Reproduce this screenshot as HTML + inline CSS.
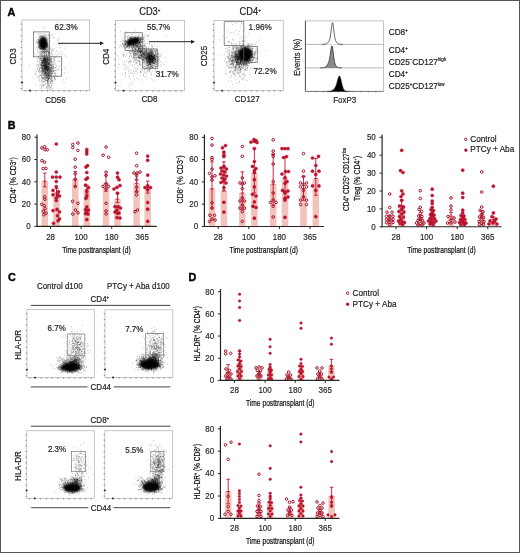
<!DOCTYPE html>
<html><head><meta charset="utf-8"><style>
html,body{margin:0;padding:0;background:#fff;}
#r{position:relative;width:520px;height:553px;overflow:hidden;background:#fff;}
svg{position:absolute;left:0;top:0;display:block;will-change:transform;}
text{font-family:"Liberation Sans", sans-serif;}
</style></head><body><div id="r"><svg width="520" height="553" viewBox="0 0 520 553"><defs><filter id="b10" x="-50%" y="-50%" width="200%" height="200%"><feGaussianBlur stdDeviation="1.0"/></filter><filter id="b12" x="-50%" y="-50%" width="200%" height="200%"><feGaussianBlur stdDeviation="1.2"/></filter><filter id="b15" x="-50%" y="-50%" width="200%" height="200%"><feGaussianBlur stdDeviation="1.5"/></filter></defs>
<text x="7.6" y="16.3" font-size="10.8" text-anchor="start" font-weight="bold" fill="#000" transform="translate(0 -1.467) scale(1 1.09)" stroke="#000" stroke-width="0.4">A</text>
<rect x="22" y="20" width="67.5" height="70.5" fill="none" stroke="#b8b8b8" stroke-width="0.8"/>
<line x1="20.8" y1="24.0" x2="22" y2="24.0" stroke="#555" stroke-width="0.7"/>
<line x1="20.8" y1="29.9" x2="22" y2="29.9" stroke="#555" stroke-width="0.7"/>
<line x1="20.8" y1="35.7" x2="22" y2="35.7" stroke="#555" stroke-width="0.7"/>
<line x1="20.8" y1="41.6" x2="22" y2="41.6" stroke="#555" stroke-width="0.7"/>
<line x1="20.8" y1="47.5" x2="22" y2="47.5" stroke="#555" stroke-width="0.7"/>
<line x1="20.8" y1="53.3" x2="22" y2="53.3" stroke="#555" stroke-width="0.7"/>
<line x1="20.8" y1="59.2" x2="22" y2="59.2" stroke="#555" stroke-width="0.7"/>
<line x1="20.8" y1="65.0" x2="22" y2="65.0" stroke="#555" stroke-width="0.7"/>
<line x1="20.8" y1="70.9" x2="22" y2="70.9" stroke="#555" stroke-width="0.7"/>
<line x1="20.8" y1="76.8" x2="22" y2="76.8" stroke="#555" stroke-width="0.7"/>
<line x1="20.8" y1="82.6" x2="22" y2="82.6" stroke="#555" stroke-width="0.7"/>
<line x1="20.8" y1="88.5" x2="22" y2="88.5" stroke="#555" stroke-width="0.7"/>
<line x1="25.0" y1="90.5" x2="25.0" y2="91.7" stroke="#555" stroke-width="0.7"/>
<line x1="30.6" y1="90.5" x2="30.6" y2="91.7" stroke="#555" stroke-width="0.7"/>
<line x1="36.2" y1="90.5" x2="36.2" y2="91.7" stroke="#555" stroke-width="0.7"/>
<line x1="41.8" y1="90.5" x2="41.8" y2="91.7" stroke="#555" stroke-width="0.7"/>
<line x1="47.4" y1="90.5" x2="47.4" y2="91.7" stroke="#555" stroke-width="0.7"/>
<line x1="53.0" y1="90.5" x2="53.0" y2="91.7" stroke="#555" stroke-width="0.7"/>
<line x1="58.5" y1="90.5" x2="58.5" y2="91.7" stroke="#555" stroke-width="0.7"/>
<line x1="64.1" y1="90.5" x2="64.1" y2="91.7" stroke="#555" stroke-width="0.7"/>
<line x1="69.7" y1="90.5" x2="69.7" y2="91.7" stroke="#555" stroke-width="0.7"/>
<line x1="75.3" y1="90.5" x2="75.3" y2="91.7" stroke="#555" stroke-width="0.7"/>
<line x1="80.9" y1="90.5" x2="80.9" y2="91.7" stroke="#555" stroke-width="0.7"/>
<line x1="86.5" y1="90.5" x2="86.5" y2="91.7" stroke="#555" stroke-width="0.7"/>
<circle cx="22" cy="82.5" r="0.9" fill="#111"/>
<circle cx="30" cy="90.5" r="0.9" fill="#111"/>
<path transform="scale(0.1)" stroke="#000" stroke-opacity="0.45" stroke-width="7" d="M424 452h7M425 423h7M408 424h7M457 454h7M455 448h7M439 443h7M390 460h7M442 455h7M389 366h7M409 415h7M437 434h7M443 414h7M437 450h7M414 494h7M443 480h7M415 406h7M422 430h7M445 446h7M419 399h7M418 477h7M411 441h7M440 383h7M431 482h7M382 416h7M427 405h7M442 435h7M395 459h7M446 471h7M465 453h7M433 389h7M445 415h7M419 388h7M407 412h7M461 367h7M395 438h7M465 461h7M384 338h7M439 410h7M403 466h7M456 445h7M436 451h7M468 463h7M442 456h7M392 475h7M453 457h7M383 405h7M450 373h7M426 471h7M399 488h7M443 432h7M438 459h7M433 476h7M414 418h7M455 440h7M409 466h7M465 424h7M397 425h7M426 424h7M464 403h7M460 394h7M411 455h7M457 470h7M438 441h7M434 456h7M426 444h7M444 437h7M448 458h7M478 454h7M420 420h7M430 468h7M422 448h7M474 350h7M403 440h7M440 445h7M420 457h7M437 417h7M488 456h7M417 429h7M425 432h7M365 408h7M454 397h7M428 469h7M451 491h7M389 416h7M422 456h7M456 343h7M456 387h7M446 384h7M434 478h7M426 441h7M449 443h7M428 490h7M455 428h7M496 404h7M452 429h7M433 461h7M435 459h7M393 375h7M445 403h7M405 379h7M460 466h7M465 407h7M430 394h7M448 495h7M409 488h7M454 432h7M383 478h7M428 413h7M440 451h7M466 404h7M457 492h7M465 434h7M412 469h7M433 440h7M464 431h7M375 413h7M386 458h7M438 414h7M430 465h7M432 483h7M429 472h7M466 498h7M414 464h7M385 389h7M383 466h7M400 430h7M425 433h7M416 441h7M473 443h7M443 473h7M425 389h7M417 471h7M390 408h7M454 467h7M430 464h7M434 393h7M392 406h7M452 418h7M408 404h7M393 425h7M402 444h7M373 438h7M415 363h7M447 428h7M376 396h7M437 420h7M449 465h7M446 449h7M462 463h7M441 362h7M452 485h7M423 417h7M477 379h7M441 524h7M408 456h7M475 437h7M443 469h7M408 429h7M437 466h7M429 428h7M406 418h7M451 442h7M410 402h7M494 485h7M445 344h7M445 454h7M470 456h7M428 453h7M383 465h7M438 411h7M462 505h7M396 406h7M437 443h7M420 399h7M481 480h7M401 383h7M471 477h7M474 471h7M409 441h7M378 400h7M429 454h7M413 428h7M441 450h7M445 445h7M422 462h7M431 406h7M415 433h7M427 440h7M430 441h7M427 389h7M440 474h7M440 430h7M441 402h7M384 430h7M408 458h7M404 337h7M405 488h7M421 385h7M412 451h7M442 443h7M466 466h7M429 456h7M470 476h7M455 400h7M426 461h7M423 472h7M444 470h7M425 525h7M460 432h7M432 528h7M422 465h7M454 439h7M402 438h7M439 477h7M449 439h7M450 457h7M435 438h7M424 459h7M405 409h7M430 383h7M420 361h7M414 453h7M444 435h7M424 383h7M474 460h7M456 407h7M426 369h7M449 471h7M384 426h7M445 374h7M386 390h7M415 382h7M431 444h7M445 462h7M466 482h7M399 412h7M405 393h7M428 435h7M442 380h7M400 430h7M425 423h7M428 408h7M447 450h7M428 411h7M426 337h7M406 433h7M394 437h7M434 386h7M424 423h7M441 459h7M429 404h7M427 432h7M448 448h7M413 384h7M421 407h7M403 427h7M418 437h7M443 422h7M486 432h7M456 443h7M457 354h7M412 441h7M444 521h7M438 482h7M448 472h7M442 431h7M442 398h7M458 403h7M436 512h7M425 435h7M458 440h7M411 441h7M444 463h7M411 495h7M470 442h7M436 421h7M464 415h7M446 420h7M413 458h7M462 439h7M414 462h7M429 446h7M467 481h7M418 515h7M430 463h7M414 431h7M388 493h7M463 396h7M394 372h7M458 423h7M429 424h7M427 396h7M431 384h7M428 446h7M441 428h7M408 437h7M418 489h7M448 434h7M419 408h7M408 419h7M437 455h7M444 512h7M413 433h7M497 378h7M417 439h7M434 450h7M424 447h7M431 463h7M385 396h7M430 398h7M405 454h7M414 455h7M448 449h7M442 433h7M396 429h7M441 418h7M428 461h7M409 455h7M475 422h7M434 430h7M467 452h7M452 414h7M430 435h7M387 480h7M452 376h7M448 433h7M441 450h7M394 422h7M466 420h7M405 383h7M401 443h7M471 456h7M436 516h7M418 409h7M443 457h7M406 389h7M437 445h7M399 423h7M417 450h7M427 431h7M422 471h7M463 427h7M450 411h7M432 462h7M466 427h7M428 442h7M394 430h7M414 446h7M403 360h7M431 444h7M417 465h7M423 412h7M441 381h7M414 432h7M450 432h7M437 413h7M437 496h7M414 517h7M415 433h7M434 472h7M400 355h7M445 466h7M445 531h7M435 445h7M452 452h7M470 397h7M421 310h7M449 425h7M452 515h7M430 426h7M418 403h7M415 456h7M431 438h7M426 467h7M442 432h7M446 432h7M402 483h7M441 402h7M456 451h7M392 487h7M438 468h7M435 430h7M393 464h7M431 425h7M438 439h7M446 424h7M429 358h7M420 458h7M462 427h7M427 491h7M422 460h7M470 442h7M459 414h7M435 433h7M433 476h7M487 420h7M416 451h7M405 449h7M444 427h7M443 381h7M448 382h7M413 413h7M420 464h7M432 421h7M443 494h7M430 448h7M460 449h7M399 520h7M483 372h7M429 450h7M453 462h7M423 396h7M432 472h7M404 394h7M429 366h7M424 418h7M441 411h7M409 418h7M429 411h7M430 462h7M458 500h7M411 417h7M370 494h7M413 431h7M443 388h7M441 436h7M386 439h7M459 372h7M449 445h7M441 453h7M461 432h7M451 423h7M447 408h7M427 497h7M441 431h7M403 403h7M435 469h7M440 455h7M429 483h7M421 414h7M451 440h7M423 413h7M424 456h7M438 393h7M440 443h7M406 459h7M423 422h7M449 485h7M413 448h7M409 515h7M418 476h7M414 462h7M483 352h7M420 451h7M428 411h7M482 446h7M391 460h7M389 470h7M416 438h7M460 444h7M397 369h7M458 466h7M410 463h7M442 460h7M376 416h7M452 465h7M451 350h7M434 453h7M491 410h7M422 435h7M451 422h7M458 411h7M436 417h7M434 411h7M392 468h7M437 416h7M435 471h7M407 428h7M443 456h7M422 358h7M460 451h7M430 425h7M436 421h7M405 405h7M416 411h7M402 454h7M399 454h7M406 444h7M463 447h7M412 434h7M434 373h7M415 439h7M419 436h7M448 465h7M452 459h7M423 433h7M423 423h7M426 373h7M422 433h7M407 431h7M442 431h7M480 349h7M425 369h7M454 534h7M370 431h7M442 426h7M443 357h7M450 451h7M431 414h7M445 420h7M435 418h7M376 426h7M435 463h7M409 431h7M445 442h7M460 511h7M408 363h7M451 493h7M452 467h7M415 407h7M451 406h7M386 393h7M490 513h7M414 406h7M436 409h7M461 437h7M404 478h7M416 441h7M430 424h7M438 411h7M386 349h7M400 403h7M429 437h7M443 441h7M411 407h7M379 421h7M442 456h7M427 428h7M452 439h7M448 459h7M435 483h7M416 420h7M411 404h7M467 504h7M431 455h7M458 468h7M459 394h7M415 449h7M464 444h7M409 419h7M414 402h7M466 418h7M430 513h7M458 451h7M415 447h7M469 463h7M460 443h7M442 430h7M440 483h7M396 428h7M436 415h7M423 462h7M478 465h7M438 381h7M476 445h7M429 395h7M429 396h7M432 452h7M431 445h7M410 483h7M414 368h7M425 407h7M406 419h7M437 394h7M427 486h7M446 432h7M433 431h7M429 461h7M428 349h7M429 403h7M446 415h7M434 514h7M405 391h7M396 344h7M385 441h7M415 366h7M394 452h7M411 419h7M438 485h7M477 479h7M433 442h7M473 493h7M423 450h7M437 438h7M418 386h7M417 378h7M459 459h7M401 481h7M451 370h7M474 471h7M480 398h7M443 452h7M435 442h7M455 385h7M400 381h7M417 411h7M439 446h7M431 411h7M419 468h7M448 441h7M422 489h7M416 456h7M458 430h7M450 398h7M454 446h7M392 453h7M409 478h7M414 427h7M437 424h7M436 416h7M446 438h7M435 337h7M458 440h7M387 432h7M441 475h7M404 487h7M426 520h7M426 459h7M421 394h7M456 471h7M467 471h7M416 373h7M414 408h7M410 453h7M438 427h7M434 430h7M435 463h7M453 414h7M394 481h7M433 475h7M391 417h7M431 383h7M418 459h7M456 496h7M409 382h7M442 471h7M435 389h7M449 466h7M443 420h7M437 464h7M417 367h7M438 453h7M430 467h7M416 430h7M423 454h7M468 432h7M479 497h7M449 459h7M472 435h7M427 397h7M441 485h7M443 452h7M425 440h7M396 467h7M420 394h7M412 403h7M451 476h7M397 463h7M451 417h7M394 403h7M415 445h7M421 361h7M436 381h7M452 395h7M413 402h7M417 480h7M450 460h7M438 381h7M418 413h7M407 450h7M412 407h7M405 358h7M444 485h7M434 401h7M365 431h7M459 450h7M452 491h7M457 423h7M455 467h7M393 415h7M396 426h7M444 399h7M381 474h7M439 489h7M398 468h7M480 514h7M425 444h7M426 470h7M455 442h7M397 457h7M440 689h7M463 773h7M491 634h7M466 785h7M438 674h7M493 760h7M472 561h7M415 649h7M467 843h7M427 721h7M480 539h7M429 650h7M439 631h7M470 598h7M470 610h7M438 681h7M437 663h7M506 676h7M450 702h7M443 724h7M414 676h7M439 584h7M512 614h7M511 725h7M501 600h7M493 775h7M451 639h7M534 700h7M441 597h7M469 681h7M461 779h7M445 680h7M502 598h7M488 800h7M412 549h7M422 499h7M469 520h7M471 764h7M403 603h7M394 678h7M431 619h7M457 691h7M444 646h7M438 650h7M417 637h7M393 585h7M516 685h7M415 650h7M424 514h7M431 693h7M467 649h7M425 557h7M498 688h7M425 481h7M411 811h7M418 627h7M462 642h7M446 545h7M421 758h7M431 701h7M401 604h7M463 730h7M419 677h7M467 602h7M470 591h7M430 637h7M368 601h7M423 528h7M441 700h7M442 737h7M418 536h7M505 703h7M485 603h7M481 681h7M476 662h7M494 620h7M424 527h7M492 613h7M422 565h7M441 550h7M446 600h7M437 571h7M456 617h7M459 670h7M466 494h7M438 583h7M480 546h7M432 618h7M444 718h7M441 714h7M408 495h7M494 700h7M471 666h7M470 568h7M485 625h7M487 671h7M392 526h7M491 657h7M442 662h7M441 604h7M458 662h7M504 676h7M515 811h7M510 754h7M459 662h7M450 594h7M453 602h7M507 714h7M441 503h7M453 619h7M420 550h7M383 658h7M453 839h7M454 639h7M501 682h7M460 625h7M436 751h7M487 791h7M444 647h7M427 708h7M410 671h7M490 770h7M425 716h7M432 584h7M413 715h7M508 631h7M431 614h7M535 761h7M438 510h7M433 727h7M515 658h7M433 602h7M395 688h7M420 712h7M400 531h7M464 598h7M480 662h7M417 678h7M482 522h7M513 714h7M479 525h7M432 614h7M489 559h7M427 488h7M447 672h7M401 581h7M471 774h7M476 638h7M417 564h7M434 651h7M453 772h7M464 576h7M504 743h7M458 599h7M395 547h7M484 605h7M413 645h7M463 698h7M476 763h7M428 709h7M423 686h7M461 671h7M486 663h7M491 731h7M459 610h7M431 600h7M449 645h7M550 742h7M480 598h7M432 616h7M461 577h7M507 633h7M490 495h7M455 670h7M461 697h7M464 666h7M394 569h7M380 661h7M465 640h7M429 595h7M514 805h7M453 744h7M404 484h7M440 578h7M437 655h7M552 647h7M457 671h7M454 718h7M512 585h7M460 633h7M466 543h7M399 453h7M472 672h7M457 477h7M443 589h7M410 562h7M477 700h7M454 687h7M436 646h7M456 691h7M453 638h7M451 601h7M526 721h7M469 825h7M500 557h7M477 722h7M515 775h7M480 575h7M427 657h7M471 583h7M443 615h7M457 676h7M446 555h7M495 786h7M452 724h7M469 705h7M470 601h7M473 733h7M426 781h7M522 815h7M519 734h7M444 601h7M429 646h7M454 699h7M390 790h7M528 682h7M477 695h7M464 639h7M451 588h7M461 651h7M465 592h7M456 654h7M474 581h7M468 729h7M474 632h7M439 625h7M478 775h7M450 600h7M467 671h7M426 582h7M452 698h7M417 557h7M471 567h7M458 678h7M451 574h7M453 625h7M466 593h7M490 543h7M449 648h7M486 620h7M472 617h7M479 789h7M442 677h7M425 708h7M494 671h7M419 663h7M492 747h7M481 528h7M433 744h7M416 715h7M515 734h7M491 642h7M416 624h7M449 644h7M477 650h7M461 684h7M455 785h7M469 663h7M448 601h7M498 681h7M420 592h7M451 615h7M490 581h7M471 668h7M417 636h7M452 685h7M441 666h7M402 545h7M480 738h7M455 606h7M490 513h7M429 687h7M476 584h7M395 728h7M460 586h7M457 717h7M372 693h7M479 508h7M480 531h7M491 696h7M527 639h7M455 727h7M435 589h7M443 639h7M420 669h7M472 663h7M509 651h7M497 629h7M479 519h7M461 640h7M439 598h7M444 592h7M385 573h7M437 603h7M421 624h7M480 643h7M439 742h7M486 732h7M492 643h7M451 730h7M437 633h7M467 683h7M446 718h7M449 701h7M489 715h7M478 576h7M413 585h7M470 767h7M416 654h7M428 583h7M446 697h7M462 740h7M423 701h7M485 669h7M470 616h7M420 604h7M434 853h7M439 764h7M461 676h7M479 604h7M484 691h7M406 671h7M473 692h7M506 643h7M471 713h7M426 725h7M409 533h7M472 578h7M451 527h7M457 568h7M466 543h7M469 637h7M457 646h7M459 555h7M373 614h7M425 603h7M469 511h7M431 594h7M421 658h7M451 588h7M423 695h7M434 683h7M469 518h7M420 634h7M466 712h7M481 738h7M443 629h7M480 630h7M489 549h7M476 647h7M392 692h7M465 656h7M421 600h7M503 612h7M344 535h7M417 622h7M442 577h7M428 714h7M409 772h7M438 562h7M480 703h7M422 689h7M396 555h7M491 648h7M413 668h7M484 662h7M397 597h7M468 713h7M514 659h7M440 640h7M494 599h7M497 468h7M481 612h7M470 707h7M417 626h7M463 697h7M425 563h7M393 808h7M449 631h7M407 696h7M438 747h7M482 664h7M478 579h7M445 603h7M414 632h7M450 753h7M348 550h7M426 602h7M469 686h7M456 616h7M471 684h7M396 603h7M411 543h7M460 657h7M459 587h7M449 580h7M467 706h7M511 769h7M429 604h7M425 658h7M518 732h7M385 525h7M414 668h7M455 672h7M512 616h7M428 782h7M466 598h7M390 508h7M377 618h7M456 724h7M451 597h7M431 779h7M398 636h7M456 696h7M442 681h7M481 651h7M440 629h7M424 620h7M445 661h7M498 766h7M441 688h7M464 710h7M456 670h7M440 585h7M483 759h7M476 692h7M464 621h7M398 672h7M461 612h7M424 729h7M397 752h7M475 834h7M432 638h7M439 654h7M448 592h7M489 608h7M439 683h7M438 610h7M466 628h7M415 624h7M448 772h7M420 705h7M430 612h7M445 665h7M483 792h7M435 738h7M487 725h7M431 705h7M452 674h7M446 695h7M491 750h7M448 720h7M501 603h7M502 574h7M472 702h7M502 693h7M440 584h7M415 688h7M447 594h7M472 602h7M441 610h7M508 782h7M450 532h7M464 659h7M466 697h7M445 713h7M482 678h7M442 609h7M477 580h7M450 592h7M410 673h7M454 652h7M483 553h7M453 670h7M482 583h7M478 677h7M498 754h7M473 816h7M455 619h7M444 576h7M454 512h7M452 680h7M487 639h7M499 623h7M451 510h7M431 580h7M502 710h7M420 672h7M470 640h7M456 628h7M438 515h7M452 741h7M500 651h7M432 624h7M483 688h7M437 667h7M449 684h7M442 539h7M457 705h7M420 626h7M482 636h7M435 786h7M481 736h7M426 753h7M403 589h7M478 756h7M426 589h7M461 515h7M475 699h7M441 682h7M479 683h7M471 766h7M440 655h7M439 716h7M442 678h7M459 657h7M508 669h7M499 729h7M496 657h7M484 717h7M436 660h7M451 646h7M495 618h7M403 502h7M441 598h7M455 690h7M509 697h7M469 605h7M473 755h7M496 531h7M482 775h7M481 556h7M446 687h7M468 599h7M428 706h7M414 732h7M456 672h7M414 589h7M476 556h7M519 581h7M417 635h7M470 709h7M444 630h7M448 606h7M376 681h7M463 665h7M436 659h7M455 644h7M489 544h7M463 578h7M445 751h7M422 627h7M437 709h7M425 517h7M471 632h7M445 722h7M428 611h7M460 681h7M439 716h7M524 653h7M512 528h7M498 646h7M459 628h7M435 551h7M443 736h7M490 642h7M439 593h7M418 760h7M475 668h7M440 571h7M495 724h7M426 706h7M421 679h7M425 607h7M470 688h7M486 606h7M504 768h7M455 683h7M431 628h7M414 637h7M461 748h7M484 721h7M444 629h7M445 661h7M396 677h7M407 591h7M456 614h7M506 667h7M503 755h7M440 671h7M495 645h7M458 612h7M457 626h7M458 722h7M498 679h7M461 713h7M446 571h7M489 600h7M484 595h7M511 603h7M481 768h7M425 741h7M430 514h7M477 710h7M449 469h7M453 628h7M443 624h7M400 584h7M510 785h7M444 595h7M467 731h7M477 578h7M460 662h7M499 755h7M471 743h7M443 753h7M442 672h7M483 599h7M433 516h7M460 648h7M445 680h7M390 618h7M458 632h7M479 785h7M441 577h7M436 648h7M473 598h7M486 592h7M480 692h7M469 809h7M447 635h7M470 718h7M414 650h7M432 684h7M497 673h7M452 661h7M364 662h7M472 670h7M443 593h7M449 733h7M452 744h7M376 581h7M463 653h7M404 579h7M493 577h7M425 558h7M438 687h7M473 515h7M500 629h7M437 759h7M452 561h7M435 590h7M424 612h7M482 687h7M413 827h7M425 644h7M456 704h7M445 677h7M520 687h7M422 658h7M430 612h7M461 676h7M446 706h7M449 555h7M482 637h7M492 621h7M473 680h7M372 506h7M421 733h7M397 687h7M489 701h7M476 625h7M455 666h7M468 706h7M449 598h7M438 671h7M404 538h7M442 605h7M447 458h7M445 627h7M479 522h7M446 679h7M470 741h7M487 591h7M475 636h7M430 747h7M436 581h7M442 584h7M486 691h7M498 699h7M436 715h7M435 608h7M450 650h7M492 624h7M466 653h7M416 554h7M448 675h7M465 689h7M456 619h7M468 585h7M414 607h7M411 593h7M432 600h7M454 593h7M442 523h7M459 590h7M467 456h7M430 656h7M380 589h7M458 659h7M409 645h7M460 583h7M478 657h7M456 618h7M472 665h7M490 698h7M436 625h7M483 637h7M467 693h7M449 482h7M459 667h7M459 598h7M492 658h7M436 590h7M466 578h7M424 778h7M496 744h7M497 712h7M403 710h7M493 703h7M394 710h7M497 635h7M459 707h7M452 727h7M458 700h7M458 546h7M424 861h7M464 747h7M490 789h7M472 616h7M456 514h7M449 712h7M388 633h7M481 757h7M426 590h7M397 550h7M472 805h7M419 732h7M468 621h7M523 502h7M453 665h7M521 809h7M525 693h7M485 762h7M471 683h7M449 618h7M417 771h7M441 495h7M463 651h7M460 782h7M452 629h7M432 638h7M441 658h7M552 724h7M428 775h7M482 721h7M477 719h7M476 761h7M486 761h7M439 643h7M432 708h7M481 629h7M473 846h7M494 588h7M452 694h7M454 677h7M492 691h7M421 685h7M452 657h7M437 543h7M416 607h7M422 440h7M491 584h7M432 677h7M380 711h7M431 686h7M440 665h7M458 651h7M398 518h7M454 750h7M438 680h7M460 687h7M486 557h7M464 641h7M445 584h7M430 565h7M421 814h7M508 676h7M478 591h7M368 479h7M459 755h7M454 578h7M447 575h7M412 613h7M443 586h7M427 570h7M462 753h7M448 807h7M405 646h7M419 622h7M458 692h7M490 627h7M416 618h7M464 604h7M483 784h7M411 655h7M487 527h7M461 637h7M411 723h7M462 619h7M469 703h7M479 703h7M468 572h7M442 653h7M369 762h7M443 569h7M398 641h7M456 609h7M442 580h7M432 632h7M435 689h7M451 657h7M468 747h7M474 675h7M450 590h7M444 694h7M462 626h7M413 521h7M465 728h7M467 557h7M448 663h7M426 661h7M449 587h7M416 690h7M466 592h7M423 699h7M474 637h7M505 653h7M422 713h7M449 672h7M456 579h7M418 619h7M499 599h7M497 686h7M420 653h7M473 594h7M389 644h7M420 665h7M395 612h7M430 532h7M447 659h7M438 557h7M462 528h7M472 693h7M507 738h7M466 674h7M456 556h7M501 709h7M446 564h7M501 710h7M418 681h7M514 676h7M467 626h7M435 717h7M551 703h7M451 705h7M446 698h7M481 590h7M422 629h7M481 682h7M494 570h7M470 613h7M458 674h7M425 620h7M419 652h7M429 602h7M462 607h7M491 621h7M481 683h7M423 619h7M438 681h7M459 876h7M454 853h7M487 610h7M380 759h7M393 765h7M510 763h7M462 696h7M480 696h7M449 683h7M515 676h7M485 623h7M442 595h7M462 777h7M482 680h7M494 695h7M484 747h7M491 510h7M420 776h7M461 670h7M528 781h7M543 781h7M462 781h7M440 674h7M449 696h7M500 685h7M482 680h7M504 489h7M462 733h7M428 798h7M478 833h7M507 784h7M464 625h7M461 678h7M480 682h7M588 608h7M515 690h7M461 798h7M470 615h7M486 707h7M390 719h7M429 646h7M489 750h7M486 671h7M479 712h7M385 565h7M416 886h7M463 695h7M448 800h7M471 868h7M500 869h7M465 751h7M453 702h7M403 655h7M433 655h7M517 753h7M517 805h7M505 815h7M447 784h7M458 671h7M432 861h7M502 654h7M481 754h7M484 692h7M420 712h7M503 795h7M495 821h7M432 708h7M483 809h7M476 766h7M386 699h7M565 762h7M399 716h7M415 649h7M479 870h7M488 782h7M509 746h7M437 704h7M483 699h7M444 683h7M412 619h7M467 688h7M471 841h7M482 720h7M425 617h7M484 648h7M487 631h7M475 715h7M508 695h7M456 738h7M472 866h7M460 672h7M458 758h7M479 782h7M541 733h7M423 723h7M486 531h7M471 593h7M488 843h7M510 599h7M523 810h7M456 760h7M528 705h7M469 672h7M515 544h7M525 649h7M506 588h7M434 660h7M502 587h7M493 670h7M518 704h7M489 709h7M539 705h7M469 891h7M473 780h7M442 731h7M383 709h7M445 585h7M415 806h7M486 593h7M540 676h7M456 738h7M426 571h7M441 815h7M507 592h7M516 733h7M489 729h7M486 637h7M435 652h7M456 770h7M423 847h7M446 664h7M497 763h7M457 625h7M432 574h7M514 823h7M542 779h7M483 788h7M507 706h7M405 584h7M433 777h7M516 701h7M496 722h7M482 676h7M469 719h7M400 750h7M470 803h7M511 796h7M501 645h7M404 849h7M517 648h7M520 789h7M375 776h7M432 812h7M444 650h7M410 688h7M509 671h7M398 889h7M541 796h7M449 611h7M407 754h7M520 640h7M470 696h7M460 761h7M551 683h7M503 821h7M459 705h7M418 801h7M450 659h7M473 647h7M430 685h7M527 715h7M490 598h7M395 860h7M455 584h7M466 772h7M403 629h7M480 643h7M501 810h7M487 687h7M468 665h7M465 746h7M458 801h7M570 695h7M483 794h7M495 705h7M451 803h7M494 769h7M439 768h7M501 711h7M397 756h7M425 592h7M461 765h7M472 620h7M414 659h7M471 648h7M412 859h7M438 699h7M449 665h7M472 695h7M494 623h7M412 876h7M467 786h7M516 778h7M471 586h7M408 791h7M496 775h7M406 521h7M429 608h7M476 633h7M531 680h7M448 790h7M483 645h7M502 894h7M422 688h7M428 542h7M494 786h7M508 766h7M392 700h7M444 612h7M427 777h7M458 888h7M488 558h7M505 836h7M471 615h7M539 621h7M467 553h7M421 561h7M512 832h7M454 598h7M468 752h7M411 606h7M466 780h7M473 760h7M421 492h7M482 643h7M465 686h7M489 657h7M526 735h7M491 780h7M510 764h7M402 650h7M543 778h7M492 766h7M445 655h7M445 816h7M484 879h7M489 890h7M488 620h7M538 765h7M517 749h7M457 732h7M426 605h7M435 666h7M417 699h7M542 732h7M505 709h7M485 720h7M449 722h7M412 746h7M459 622h7M456 766h7M443 756h7M492 862h7M427 701h7M490 857h7M480 789h7M412 656h7M535 710h7M555 675h7M459 577h7M495 749h7M550 753h7M460 593h7M467 803h7M499 835h7M504 724h7M494 741h7M417 859h7M485 630h7M485 749h7M509 857h7M350 742h7M531 650h7M397 728h7M483 754h7M426 669h7M478 788h7M557 766h7M446 505h7M513 718h7M466 631h7M499 568h7M474 732h7M482 838h7M466 727h7M504 590h7M458 723h7M508 657h7M502 761h7M411 575h7M413 720h7M478 786h7M503 678h7M512 802h7M489 767h7M419 741h7M429 605h7M456 729h7M468 690h7M430 728h7M441 588h7M474 850h7M454 622h7M525 885h7M458 699h7M475 810h7M488 562h7M426 600h7M487 733h7M541 712h7M482 729h7M481 854h7M522 677h7M497 692h7M474 735h7M471 678h7M532 710h7M498 876h7M495 817h7M525 830h7M539 608h7M548 740h7M400 647h7M414 706h7M411 617h7M482 737h7M438 692h7M466 726h7M470 700h7M505 584h7M450 727h7M454 667h7M453 735h7M520 715h7M459 749h7M460 545h7M481 689h7M447 771h7M472 670h7M383 547h7M471 710h7M488 744h7M451 602h7M426 698h7M424 777h7M417 548h7M462 559h7M535 646h7M468 698h7M437 554h7M396 781h7M412 757h7M469 796h7M449 780h7M506 782h7M528 717h7M532 671h7M537 489h7M471 648h7M470 812h7M499 735h7M538 603h7M437 848h7M483 537h7M484 617h7M529 836h7M448 831h7M437 795h7M493 714h7M413 682h7M378 649h7M396 812h7M431 494h7M493 758h7M501 733h7M444 450h7M489 810h7M446 588h7M468 570h7M470 789h7M530 757h7M478 789h7M526 704h7M421 638h7M420 629h7M465 750h7M476 728h7M456 755h7M505 796h7M530 707h7M460 869h7M478 759h7M457 804h7M454 626h7M468 680h7M503 694h7M475 702h7M484 667h7M514 602h7M455 653h7M496 729h7M489 695h7M441 613h7M457 669h7M481 754h7M509 719h7M440 618h7M472 753h7M548 754h7M428 819h7M515 851h7M470 805h7M451 709h7M471 880h7M461 804h7M473 657h7M480 781h7M442 770h7M442 635h7M479 701h7M431 565h7M471 742h7M452 733h7M409 741h7M487 749h7M445 722h7M475 817h7M481 745h7M441 791h7M517 686h7M496 753h7M468 604h7M540 569h7M482 689h7M516 692h7M472 775h7M488 678h7M497 761h7M510 683h7M468 685h7M437 735h7M486 851h7M457 752h7M516 720h7M473 733h7M442 626h7M515 745h7M467 608h7M475 826h7M424 630h7M514 858h7M532 685h7M494 658h7M491 692h7M478 841h7M483 702h7M472 744h7M450 734h7M494 864h7M388 596h7M421 787h7M567 759h7M475 822h7M373 682h7M346 706h7M450 672h7M484 671h7M514 730h7M452 798h7M437 824h7M508 741h7M509 872h7M525 732h7M468 818h7M373 522h7M528 673h7M638 827h7M516 657h7M385 576h7M511 571h7M495 678h7M415 527h7M349 747h7M406 381h7M551 572h7M567 553h7M658 692h7M502 615h7M474 704h7M648 546h7M404 677h7M574 408h7M435 472h7M534 665h7M432 455h7M544 336h7M541 580h7M642 728h7M444 565h7M468 507h7M496 724h7M371 571h7M608 695h7M426 497h7M423 394h7M581 609h7M435 416h7M460 534h7M626 541h7M499 737h7M543 577h7M318 779h7M537 544h7M483 478h7M419 410h7M529 666h7M504 700h7M532 616h7M421 676h7M583 681h7M588 540h7M413 760h7M444 631h7M475 603h7M469 531h7M350 843h7M506 354h7M419 456h7M432 275h7M535 809h7M471 695h7M537 441h7M586 385h7M445 554h7M589 615h7M480 498h7M497 605h7M547 778h7M548 602h7M478 804h7M506 598h7M631 800h7M535 586h7M440 736h7M455 722h7M429 613h7M522 618h7M508 649h7M402 459h7M478 830h7M480 482h7M438 604h7M583 528h7M534 624h7M462 480h7M478 508h7M532 376h7M578 696h7M535 790h7M537 383h7M494 657h7M437 456h7M524 665h7M457 569h7M450 528h7M486 736h7M364 557h7M616 640h7M502 706h7M412 447h7M361 415h7M509 708h7M458 514h7M522 678h7M510 359h7M448 279h7M509 492h7M439 790h7M593 661h7M512 622h7M444 594h7M639 489h7M438 621h7M560 706h7M415 584h7M469 444h7M496 539h7M562 655h7M429 610h7M462 520h7M452 735h7M458 383h7M430 702h7M658 467h7M462 558h7M381 651h7M486 635h7M664 566h7M552 705h7M441 525h7M611 690h7M501 462h7M559 667h7M661 786h7M553 634h7M495 530h7M514 631h7M541 737h7M514 531h7M553 796h7M425 653h7M533 668h7M529 589h7M482 813h7M625 423h7M293 655h7M438 535h7M366 645h7M486 532h7M605 748h7M458 683h7M487 746h7M535 596h7M533 509h7M552 790h7M462 670h7M361 718h7M558 471h7M626 614h7M356 427h7M558 566h7M576 404h7M482 723h7M437 686h7M462 644h7M515 882h7M394 698h7M592 458h7M496 892h7M572 225h7M472 384h7M514 508h7M446 494h7M513 541h7M420 571h7M522 492h7M576 390h7M522 551h7M612 519h7M438 431h7M644 678h7M406 558h7M416 792h7M522 343h7M506 716h7M490 660h7M481 626h7M507 511h7M517 621h7M487 514h7M411 631h7M554 295h7M448 771h7M561 510h7M595 475h7M429 845h7M456 573h7M362 472h7M399 583h7M347 734h7M462 523h7M441 694h7M609 548h7"/>
<ellipse cx="43" cy="43.3" rx="4.0" ry="6.3" fill="#000" fill-opacity="0.97" filter="url(#b10)" transform="rotate(0 43 43.3)"/>
<ellipse cx="45.5" cy="64" rx="2.4" ry="6" fill="#000" fill-opacity="0.3" filter="url(#b15)" transform="rotate(0 45.5 64)"/>
<rect x="33.4" y="31.9" width="16" height="24.9" fill="none" stroke="#6a6a6a" stroke-width="0.75"/>
<rect x="49.6" y="56.8" width="12" height="19.4" fill="none" stroke="#6a6a6a" stroke-width="0.75"/>
<line x1="58" y1="43.3" x2="101" y2="43.3" stroke="#222" stroke-width="1"/>
<path d="M104 43.3L100 41.3L100 45.3Z" fill="#222"/>
<text x="54.6" y="30.4" font-size="8.2" text-anchor="start" font-weight="normal" fill="#222" transform="translate(0 -2.736) scale(1 1.09)" stroke="#222" stroke-width="0.18">62.3%</text>
<text x="15.7" y="56.4" font-size="8" text-anchor="middle" font-weight="normal" fill="#222" transform="translate(-1.413 0) scale(1.09 1) rotate(-90 15.7 56.4)" stroke="#222" stroke-width="0.18">CD3</text>
<text x="55.5" y="102.6" font-size="8" text-anchor="middle" font-weight="normal" fill="#222" transform="translate(0 -9.234) scale(1 1.09)" stroke="#222" stroke-width="0.18">CD56</text>
<rect x="115.5" y="20.4" width="69.0" height="70.19999999999999" fill="none" stroke="#b8b8b8" stroke-width="0.8"/>
<line x1="114.3" y1="24.4" x2="115.5" y2="24.4" stroke="#555" stroke-width="0.7"/>
<line x1="114.3" y1="30.2" x2="115.5" y2="30.2" stroke="#555" stroke-width="0.7"/>
<line x1="114.3" y1="36.1" x2="115.5" y2="36.1" stroke="#555" stroke-width="0.7"/>
<line x1="114.3" y1="41.9" x2="115.5" y2="41.9" stroke="#555" stroke-width="0.7"/>
<line x1="114.3" y1="47.7" x2="115.5" y2="47.7" stroke="#555" stroke-width="0.7"/>
<line x1="114.3" y1="53.6" x2="115.5" y2="53.6" stroke="#555" stroke-width="0.7"/>
<line x1="114.3" y1="59.4" x2="115.5" y2="59.4" stroke="#555" stroke-width="0.7"/>
<line x1="114.3" y1="65.3" x2="115.5" y2="65.3" stroke="#555" stroke-width="0.7"/>
<line x1="114.3" y1="71.1" x2="115.5" y2="71.1" stroke="#555" stroke-width="0.7"/>
<line x1="114.3" y1="76.9" x2="115.5" y2="76.9" stroke="#555" stroke-width="0.7"/>
<line x1="114.3" y1="82.8" x2="115.5" y2="82.8" stroke="#555" stroke-width="0.7"/>
<line x1="114.3" y1="88.6" x2="115.5" y2="88.6" stroke="#555" stroke-width="0.7"/>
<line x1="118.5" y1="90.6" x2="118.5" y2="91.8" stroke="#555" stroke-width="0.7"/>
<line x1="124.2" y1="90.6" x2="124.2" y2="91.8" stroke="#555" stroke-width="0.7"/>
<line x1="130.0" y1="90.6" x2="130.0" y2="91.8" stroke="#555" stroke-width="0.7"/>
<line x1="135.7" y1="90.6" x2="135.7" y2="91.8" stroke="#555" stroke-width="0.7"/>
<line x1="141.4" y1="90.6" x2="141.4" y2="91.8" stroke="#555" stroke-width="0.7"/>
<line x1="147.1" y1="90.6" x2="147.1" y2="91.8" stroke="#555" stroke-width="0.7"/>
<line x1="152.9" y1="90.6" x2="152.9" y2="91.8" stroke="#555" stroke-width="0.7"/>
<line x1="158.6" y1="90.6" x2="158.6" y2="91.8" stroke="#555" stroke-width="0.7"/>
<line x1="164.3" y1="90.6" x2="164.3" y2="91.8" stroke="#555" stroke-width="0.7"/>
<line x1="170.0" y1="90.6" x2="170.0" y2="91.8" stroke="#555" stroke-width="0.7"/>
<line x1="175.8" y1="90.6" x2="175.8" y2="91.8" stroke="#555" stroke-width="0.7"/>
<line x1="181.5" y1="90.6" x2="181.5" y2="91.8" stroke="#555" stroke-width="0.7"/>
<circle cx="115.5" cy="82.6" r="0.9" fill="#111"/>
<circle cx="123.5" cy="90.6" r="0.9" fill="#111"/>
<path transform="scale(0.1)" stroke="#000" stroke-opacity="0.45" stroke-width="7" d="M1402 432h7M1390 407h7M1263 445h7M1312 423h7M1246 429h7M1340 393h7M1343 447h7M1340 398h7M1437 345h7M1289 433h7M1304 373h7M1342 430h7M1294 454h7M1352 435h7M1262 431h7M1402 440h7M1389 401h7M1338 400h7M1379 389h7M1336 371h7M1263 468h7M1333 419h7M1232 437h7M1423 362h7M1223 437h7M1306 416h7M1274 400h7M1275 441h7M1328 433h7M1282 439h7M1310 422h7M1372 406h7M1314 384h7M1333 431h7M1302 420h7M1250 406h7M1348 438h7M1316 383h7M1313 386h7M1318 458h7M1343 409h7M1377 396h7M1345 416h7M1350 379h7M1362 426h7M1227 382h7M1290 456h7M1331 429h7M1355 428h7M1301 409h7M1347 424h7M1356 416h7M1308 443h7M1351 432h7M1215 463h7M1220 445h7M1300 425h7M1308 414h7M1339 420h7M1294 370h7M1295 435h7M1292 433h7M1313 399h7M1383 438h7M1325 415h7M1373 377h7M1290 448h7M1371 395h7M1295 431h7M1266 419h7M1319 365h7M1357 425h7M1378 373h7M1272 411h7M1271 472h7M1286 419h7M1339 422h7M1396 376h7M1370 409h7M1277 431h7M1266 464h7M1297 444h7M1389 388h7M1289 427h7M1282 445h7M1338 397h7M1299 438h7M1264 466h7M1294 419h7M1288 459h7M1368 434h7M1360 410h7M1408 411h7M1350 423h7M1364 413h7M1322 383h7M1424 365h7M1231 423h7M1419 420h7M1302 427h7M1329 373h7M1315 425h7M1384 377h7M1227 406h7M1345 413h7M1337 417h7M1313 390h7M1351 418h7M1357 435h7M1273 378h7M1248 480h7M1288 433h7M1329 431h7M1478 369h7M1322 404h7M1341 423h7M1285 454h7M1383 412h7M1325 411h7M1254 447h7M1285 415h7M1376 385h7M1306 439h7M1415 380h7M1381 389h7M1348 421h7M1278 449h7M1413 397h7M1342 387h7M1412 397h7M1271 445h7M1263 416h7M1232 468h7M1432 378h7M1300 410h7M1304 433h7M1397 378h7M1350 372h7M1400 397h7M1298 455h7M1325 446h7M1379 439h7M1293 425h7M1347 407h7M1400 383h7M1376 433h7M1240 415h7M1288 413h7M1348 407h7M1334 404h7M1326 426h7M1364 390h7M1325 400h7M1322 386h7M1374 419h7M1324 402h7M1309 406h7M1259 467h7M1481 353h7M1276 440h7M1358 375h7M1242 447h7M1238 467h7M1307 422h7M1330 403h7M1323 410h7M1387 400h7M1329 404h7M1301 406h7M1330 454h7M1381 408h7M1407 419h7M1340 409h7M1280 432h7M1315 384h7M1271 470h7M1340 423h7M1339 403h7M1351 433h7M1316 429h7M1377 394h7M1338 397h7M1358 401h7M1383 386h7M1408 390h7M1291 405h7M1360 389h7M1413 423h7M1354 379h7M1329 400h7M1247 444h7M1431 380h7M1367 434h7M1286 418h7M1342 422h7M1277 432h7M1325 437h7M1257 420h7M1307 414h7M1363 394h7M1456 370h7M1369 428h7M1374 400h7M1292 418h7M1361 410h7M1357 421h7M1289 405h7M1396 389h7M1257 472h7M1292 404h7M1375 380h7M1290 447h7M1292 478h7M1334 471h7M1336 415h7M1301 417h7M1307 420h7M1366 379h7M1288 380h7M1399 397h7M1329 414h7M1376 411h7M1369 402h7M1324 415h7M1244 458h7M1257 411h7M1361 409h7M1367 443h7M1416 425h7M1320 461h7M1290 423h7M1376 400h7M1324 409h7M1393 347h7M1389 424h7M1327 428h7M1285 449h7M1471 362h7M1394 399h7M1314 408h7M1321 390h7M1268 465h7M1329 427h7M1344 422h7M1260 411h7M1359 430h7M1277 415h7M1281 441h7M1346 412h7M1300 429h7M1331 399h7M1345 397h7M1374 418h7M1298 435h7M1333 399h7M1288 389h7M1278 435h7M1386 388h7M1337 421h7M1366 416h7M1386 418h7M1295 432h7M1222 436h7M1331 427h7M1316 436h7M1391 383h7M1305 426h7M1353 413h7M1368 381h7M1366 432h7M1381 412h7M1319 426h7M1327 382h7M1302 421h7M1306 401h7M1319 410h7M1333 413h7M1338 434h7M1336 422h7M1274 365h7M1312 434h7M1314 405h7M1273 448h7M1306 426h7M1382 414h7M1433 388h7M1374 420h7M1300 423h7M1304 399h7M1344 395h7M1407 381h7M1305 423h7M1306 422h7M1302 391h7M1219 413h7M1400 408h7M1337 403h7M1323 423h7M1266 413h7M1289 452h7M1281 452h7M1309 478h7M1326 417h7M1392 419h7M1373 382h7M1382 439h7M1325 406h7M1280 449h7M1344 412h7M1273 463h7M1370 405h7M1398 379h7M1371 384h7M1395 394h7M1386 393h7M1348 435h7M1289 427h7M1291 442h7M1302 414h7M1321 442h7M1282 426h7M1315 407h7M1294 420h7M1339 380h7M1341 387h7M1331 464h7M1285 424h7M1318 439h7M1308 382h7M1256 436h7M1342 435h7M1305 435h7M1281 454h7M1327 401h7M1338 450h7M1291 398h7M1283 401h7M1328 423h7M1322 421h7M1385 396h7M1272 380h7M1341 398h7M1319 426h7M1351 376h7M1286 427h7M1323 441h7M1307 376h7M1384 367h7M1285 434h7M1281 480h7M1341 424h7M1310 467h7M1355 394h7M1388 365h7M1303 428h7M1336 393h7M1403 429h7M1287 433h7M1301 413h7M1375 407h7M1325 418h7M1276 454h7M1295 451h7M1309 410h7M1398 403h7M1301 410h7M1358 449h7M1358 400h7M1278 413h7M1325 422h7M1300 450h7M1286 410h7M1353 420h7M1312 440h7M1265 465h7M1431 433h7M1335 456h7M1332 443h7M1321 421h7M1354 372h7M1320 454h7M1196 455h7M1372 412h7M1339 443h7M1345 371h7M1287 419h7M1337 404h7M1325 452h7M1195 471h7M1373 418h7M1331 416h7M1347 416h7M1297 440h7M1292 423h7M1314 394h7M1358 407h7M1276 426h7M1267 461h7M1354 452h7M1304 436h7M1286 407h7M1326 425h7M1372 399h7M1381 424h7M1290 421h7M1288 461h7M1305 440h7M1372 400h7M1308 428h7M1294 396h7M1286 433h7M1339 451h7M1246 445h7M1277 452h7M1362 410h7M1398 391h7M1306 398h7M1300 425h7M1361 435h7M1318 402h7M1315 409h7M1309 411h7M1290 423h7M1307 417h7M1267 433h7M1356 423h7M1305 397h7M1271 404h7M1301 415h7M1249 448h7M1260 417h7M1297 440h7M1414 388h7M1317 410h7M1321 414h7M1443 365h7M1325 399h7M1346 400h7M1356 386h7M1426 397h7M1249 449h7M1309 396h7M1350 399h7M1364 396h7M1371 409h7M1346 415h7M1313 411h7M1351 425h7M1311 467h7M1407 373h7M1379 402h7M1341 396h7M1405 380h7M1326 401h7M1418 421h7M1270 420h7M1347 402h7M1314 396h7M1341 389h7M1368 457h7M1315 453h7M1347 397h7M1314 398h7M1335 429h7M1372 399h7M1276 426h7M1406 403h7M1327 372h7M1310 431h7M1287 454h7M1304 403h7M1304 419h7M1375 393h7M1249 432h7M1354 442h7M1279 458h7M1361 417h7M1295 405h7M1287 445h7M1340 435h7M1412 396h7M1328 456h7M1271 420h7M1313 411h7M1337 396h7M1383 374h7M1293 388h7M1267 442h7M1358 404h7M1368 419h7M1304 420h7M1347 453h7M1310 428h7M1355 435h7M1349 433h7M1282 421h7M1242 435h7M1435 395h7M1334 420h7M1337 386h7M1299 419h7M1338 395h7M1325 401h7M1270 415h7M1294 441h7M1391 413h7M1320 406h7M1259 421h7M1401 423h7M1340 408h7M1330 424h7M1330 424h7M1295 424h7M1314 441h7M1274 455h7M1326 406h7M1331 417h7M1319 426h7M1304 386h7M1361 407h7M1405 406h7M1240 462h7M1299 434h7M1430 414h7M1281 425h7M1257 446h7M1355 388h7M1350 430h7M1367 393h7M1299 399h7M1272 435h7M1332 442h7M1342 406h7M1266 463h7M1337 413h7M1285 404h7M1359 388h7M1356 422h7M1313 385h7M1349 440h7M1293 398h7M1379 407h7M1302 447h7M1318 428h7M1312 404h7M1340 395h7M1250 423h7M1386 425h7M1428 413h7M1403 403h7M1310 430h7M1287 441h7M1310 425h7M1292 421h7M1374 400h7M1300 428h7M1370 402h7M1277 395h7M1270 452h7M1326 426h7M1378 410h7M1352 400h7M1257 445h7M1326 428h7M1282 424h7M1421 376h7M1334 441h7M1320 420h7M1234 454h7M1310 447h7M1326 408h7M1350 406h7M1307 453h7M1374 407h7M1366 424h7M1356 410h7M1333 423h7M1355 417h7M1305 420h7M1351 390h7M1330 431h7M1338 408h7M1329 406h7M1374 397h7M1255 408h7M1344 416h7M1309 393h7M1323 400h7M1300 422h7M1295 430h7M1297 414h7M1320 448h7M1401 418h7M1297 423h7M1371 422h7M1257 431h7M1297 439h7M1359 398h7M1426 387h7M1440 386h7M1326 455h7M1306 411h7M1396 399h7M1352 384h7M1411 417h7M1346 426h7M1307 411h7M1259 440h7M1386 420h7M1371 420h7M1289 398h7M1359 412h7M1374 399h7M1290 434h7M1305 388h7M1303 404h7M1280 416h7M1373 453h7M1408 389h7M1381 402h7M1348 397h7M1327 382h7M1411 381h7M1356 397h7M1342 388h7M1313 438h7M1357 369h7M1368 380h7M1343 423h7M1301 416h7M1319 426h7M1371 433h7M1345 453h7M1287 462h7M1318 434h7M1324 418h7M1289 433h7M1421 397h7M1329 416h7M1362 404h7M1330 420h7M1389 421h7M1283 414h7M1331 432h7M1374 401h7M1426 390h7M1393 429h7M1402 403h7M1356 378h7M1250 422h7M1362 429h7M1325 438h7M1356 440h7M1258 415h7M1287 404h7M1404 379h7M1293 416h7M1370 397h7M1363 419h7M1301 374h7M1289 400h7M1404 383h7M1282 434h7M1332 396h7M1379 422h7M1343 397h7M1291 383h7M1347 419h7M1289 426h7M1478 358h7M1253 446h7M1311 410h7M1358 406h7M1375 415h7M1382 405h7M1233 466h7M1253 455h7M1341 384h7M1333 433h7M1284 427h7M1297 403h7M1302 448h7M1361 407h7M1326 419h7M1343 416h7M1253 452h7M1291 371h7M1362 383h7M1324 415h7M1303 432h7M1318 412h7M1287 420h7M1283 427h7M1390 422h7M1349 383h7M1376 423h7M1423 348h7M1331 408h7M1379 382h7M1313 467h7M1375 364h7M1331 443h7M1302 434h7M1334 384h7M1302 445h7M1384 390h7M1381 389h7M1341 412h7M1274 435h7M1312 363h7M1293 407h7M1292 404h7M1299 372h7M1370 407h7M1342 407h7M1333 409h7M1281 396h7M1333 435h7M1341 446h7M1268 424h7M1302 447h7M1407 386h7M1363 402h7M1285 423h7M1283 458h7M1357 433h7M1346 362h7M1366 408h7M1222 443h7M1376 439h7M1284 442h7M1345 408h7M1317 429h7M1356 422h7M1312 392h7M1390 428h7M1304 420h7M1367 371h7M1353 459h7M1342 398h7M1422 394h7M1340 404h7M1338 376h7M1272 398h7M1371 404h7M1382 361h7M1303 451h7M1294 385h7M1296 416h7M1329 442h7M1390 433h7M1356 399h7M1308 390h7M1388 427h7M1334 396h7M1361 418h7M1337 390h7M1341 401h7M1363 419h7M1350 402h7M1399 415h7M1387 419h7M1360 416h7M1282 389h7M1288 438h7M1371 409h7M1334 452h7M1312 383h7M1260 425h7M1362 423h7M1320 434h7M1328 401h7M1313 435h7M1373 382h7M1285 428h7M1426 368h7M1273 437h7M1353 397h7M1329 425h7M1251 433h7M1357 428h7M1383 401h7M1265 458h7M1365 394h7M1377 425h7M1324 368h7M1309 404h7M1292 422h7M1281 434h7M1415 371h7M1377 393h7M1355 407h7M1388 387h7M1363 391h7M1340 412h7M1379 371h7M1269 458h7M1347 446h7M1284 430h7M1357 445h7M1503 564h7M1533 580h7M1476 622h7M1430 536h7M1558 561h7M1492 603h7M1549 610h7M1467 558h7M1546 579h7M1480 627h7M1550 689h7M1463 551h7M1478 602h7M1486 638h7M1400 631h7M1480 572h7M1527 595h7M1465 657h7M1528 561h7M1513 532h7M1457 571h7M1519 590h7M1475 519h7M1439 662h7M1519 547h7M1551 611h7M1489 556h7M1549 601h7M1569 602h7M1482 556h7M1478 597h7M1515 614h7M1523 535h7M1497 540h7M1524 522h7M1482 544h7M1481 573h7M1564 573h7M1449 571h7M1534 612h7M1514 681h7M1548 589h7M1552 521h7M1498 543h7M1512 663h7M1486 661h7M1465 653h7M1439 544h7M1544 581h7M1511 584h7M1512 576h7M1467 571h7M1509 542h7M1523 670h7M1441 559h7M1494 586h7M1509 550h7M1504 585h7M1502 659h7M1510 514h7M1444 613h7M1492 555h7M1452 570h7M1501 552h7M1491 628h7M1536 611h7M1498 520h7M1535 657h7M1555 641h7M1516 603h7M1504 645h7M1495 688h7M1535 570h7M1505 508h7M1477 571h7M1600 546h7M1541 589h7M1494 615h7M1428 630h7M1580 599h7M1503 593h7M1531 562h7M1510 609h7M1491 604h7M1518 619h7M1467 559h7M1488 642h7M1515 506h7M1455 678h7M1518 523h7M1470 592h7M1560 663h7M1491 571h7M1580 538h7M1566 601h7M1509 647h7M1524 545h7M1446 586h7M1525 651h7M1404 649h7M1529 658h7M1536 595h7M1522 604h7M1481 580h7M1510 563h7M1448 516h7M1525 610h7M1509 529h7M1538 566h7M1424 660h7M1447 693h7M1526 564h7M1414 551h7M1563 650h7M1515 503h7M1490 571h7M1523 579h7M1518 507h7M1480 654h7M1449 629h7M1595 616h7M1451 645h7M1433 601h7M1489 645h7M1551 594h7M1575 632h7M1486 538h7M1601 566h7M1521 579h7M1487 508h7M1499 579h7M1543 560h7M1444 533h7M1503 597h7M1533 567h7M1526 592h7M1571 582h7M1511 612h7M1552 541h7M1487 572h7M1422 648h7M1547 586h7M1636 646h7M1584 661h7M1540 517h7M1565 605h7M1459 588h7M1534 632h7M1512 560h7M1535 548h7M1502 622h7M1449 603h7M1429 540h7M1457 581h7M1533 583h7M1541 590h7M1497 609h7M1496 592h7M1545 558h7M1550 532h7M1496 501h7M1484 662h7M1519 646h7M1448 536h7M1523 625h7M1538 504h7M1525 582h7M1510 608h7M1494 503h7M1463 515h7M1454 579h7M1556 551h7M1475 530h7M1438 588h7M1486 573h7M1468 608h7M1458 611h7M1479 623h7M1470 606h7M1522 581h7M1569 593h7M1470 618h7M1473 559h7M1505 594h7M1571 501h7M1495 640h7M1499 601h7M1564 526h7M1507 623h7M1482 500h7M1466 594h7M1512 674h7M1557 510h7M1545 629h7M1568 578h7M1483 592h7M1565 615h7M1571 623h7M1482 536h7M1577 512h7M1491 570h7M1469 557h7M1505 700h7M1502 560h7M1510 630h7M1473 565h7M1437 619h7M1532 658h7M1458 690h7M1539 572h7M1490 570h7M1458 622h7M1481 550h7M1525 590h7M1482 574h7M1486 650h7M1544 550h7M1503 651h7M1494 671h7M1522 617h7M1424 626h7M1518 613h7M1524 611h7M1485 629h7M1507 534h7M1465 593h7M1518 478h7M1425 636h7M1505 723h7M1445 573h7M1482 612h7M1560 663h7M1466 645h7M1458 600h7M1512 615h7M1474 650h7M1502 584h7M1495 533h7M1533 601h7M1523 675h7M1471 571h7M1505 626h7M1498 630h7M1523 500h7M1478 487h7M1494 565h7M1528 593h7M1503 646h7M1528 525h7M1478 601h7M1571 575h7M1498 598h7M1536 581h7M1517 565h7M1484 546h7M1531 558h7M1526 605h7M1543 455h7M1467 526h7M1499 624h7M1604 660h7M1558 604h7M1490 611h7M1420 630h7M1505 615h7M1465 532h7M1480 583h7M1519 568h7M1519 618h7M1460 580h7M1444 558h7M1540 550h7M1578 610h7M1540 590h7M1539 638h7M1509 559h7M1484 679h7M1498 563h7M1477 503h7M1485 601h7M1486 548h7M1521 607h7M1488 600h7M1467 627h7M1466 569h7M1510 565h7M1460 687h7M1564 500h7M1510 523h7M1517 522h7M1528 611h7M1572 644h7M1487 631h7M1487 580h7M1485 499h7M1529 486h7M1496 611h7M1509 508h7M1480 618h7M1548 663h7M1434 607h7M1486 622h7M1439 578h7M1533 554h7M1491 537h7M1549 520h7M1469 569h7M1493 688h7M1516 544h7M1528 602h7M1516 582h7M1523 528h7M1458 564h7M1462 619h7M1581 645h7M1522 601h7M1478 522h7M1526 513h7M1517 578h7M1534 587h7M1509 557h7M1438 568h7M1532 636h7M1559 537h7M1468 619h7M1487 710h7M1517 511h7M1483 661h7M1434 592h7M1451 663h7M1488 535h7M1438 550h7M1405 562h7M1590 590h7M1495 528h7M1518 562h7M1472 652h7M1522 542h7M1563 582h7M1525 592h7M1551 615h7M1491 620h7M1490 592h7M1569 533h7M1465 565h7M1485 648h7M1443 697h7M1567 563h7M1512 567h7M1531 617h7M1534 622h7M1581 577h7M1532 576h7M1507 596h7M1503 602h7M1472 578h7M1481 528h7M1477 561h7M1499 509h7M1495 530h7M1473 594h7M1548 599h7M1486 564h7M1557 506h7M1550 512h7M1480 587h7M1496 666h7M1524 583h7M1542 587h7M1473 640h7M1564 647h7M1459 678h7M1489 622h7M1552 701h7M1442 535h7M1551 609h7M1493 442h7M1522 576h7M1403 716h7M1407 558h7M1505 596h7M1535 572h7M1470 567h7M1423 530h7M1582 551h7M1502 678h7M1546 591h7M1534 572h7M1470 634h7M1510 663h7M1495 567h7M1519 576h7M1493 541h7M1515 601h7M1577 584h7M1436 608h7M1595 563h7M1474 577h7M1393 569h7M1498 511h7M1528 542h7M1433 550h7M1530 679h7M1554 595h7M1485 572h7M1543 560h7M1521 632h7M1469 556h7M1523 585h7M1500 559h7M1503 676h7M1558 506h7M1507 590h7M1506 517h7M1500 592h7M1478 600h7M1409 511h7M1509 604h7M1498 563h7M1512 638h7M1540 581h7M1487 637h7M1526 628h7M1494 543h7M1512 554h7M1550 627h7M1419 618h7M1557 636h7M1486 543h7M1543 635h7M1507 529h7M1445 598h7M1473 552h7M1522 636h7M1424 552h7M1556 583h7M1492 616h7M1460 525h7M1506 662h7M1545 585h7M1545 565h7M1459 503h7M1516 629h7M1520 583h7M1489 638h7M1503 514h7M1559 553h7M1520 585h7M1546 597h7M1553 595h7M1487 560h7M1531 544h7M1541 573h7M1469 542h7M1499 672h7M1535 586h7M1469 678h7M1494 585h7M1488 650h7M1512 563h7M1512 536h7M1464 577h7M1392 643h7M1583 531h7M1499 508h7M1512 595h7M1534 520h7M1481 553h7M1495 697h7M1497 583h7M1485 624h7M1606 642h7M1565 532h7M1547 586h7M1554 637h7M1531 503h7M1510 560h7M1523 587h7M1546 506h7M1476 581h7M1518 565h7M1504 588h7M1546 579h7M1515 496h7M1402 513h7M1519 472h7M1521 580h7M1505 549h7M1488 626h7M1519 584h7M1486 595h7M1552 584h7M1491 527h7M1509 540h7M1448 628h7M1480 485h7M1477 675h7M1501 520h7M1462 620h7M1521 595h7M1497 609h7M1566 609h7M1499 516h7M1523 662h7M1530 523h7M1512 649h7M1480 609h7M1553 665h7M1442 499h7M1520 620h7M1491 584h7M1489 644h7M1418 598h7M1455 552h7M1445 540h7M1504 586h7M1575 574h7M1519 602h7M1515 657h7M1510 592h7M1501 585h7M1503 634h7M1506 588h7M1503 622h7M1486 631h7M1482 619h7M1581 596h7M1502 527h7M1534 586h7M1541 553h7M1526 674h7M1521 569h7M1454 585h7M1531 614h7M1461 534h7M1467 535h7M1494 598h7M1581 595h7M1562 504h7M1566 624h7M1522 626h7M1529 679h7M1537 499h7M1436 664h7M1502 650h7M1491 553h7M1491 601h7M1512 554h7M1526 615h7M1469 530h7M1428 570h7M1505 551h7M1481 578h7M1506 613h7M1538 607h7M1549 537h7M1529 603h7M1464 552h7M1523 589h7M1455 558h7M1565 627h7M1508 652h7M1469 577h7M1543 568h7M1461 614h7M1568 460h7M1511 523h7M1493 515h7M1608 551h7M1507 550h7M1466 563h7M1513 672h7M1516 662h7M1463 589h7M1488 508h7M1652 573h7M1515 548h7M1482 534h7M1546 565h7M1499 594h7M1457 596h7M1498 607h7M1490 587h7M1525 633h7M1478 633h7M1466 576h7M1510 592h7M1406 537h7M1498 631h7M1477 660h7M1434 589h7M1526 586h7M1515 631h7M1473 614h7M1547 573h7M1413 526h7M1471 533h7M1522 545h7M1603 613h7M1453 571h7M1565 619h7M1465 636h7M1486 694h7M1483 614h7M1527 563h7M1499 642h7M1525 582h7M1523 671h7M1542 609h7M1518 508h7M1510 561h7M1534 555h7M1523 533h7M1540 549h7M1504 614h7M1492 585h7M1547 672h7M1434 540h7M1532 631h7M1486 590h7M1497 697h7M1497 526h7M1444 522h7M1557 566h7M1582 617h7M1520 617h7M1536 630h7M1466 557h7M1483 590h7M1495 524h7M1478 673h7M1589 543h7M1520 583h7M1472 620h7M1502 667h7M1523 570h7M1400 580h7M1539 550h7M1540 619h7M1435 575h7M1518 622h7M1511 584h7M1491 571h7M1505 533h7M1530 569h7M1526 560h7M1521 591h7M1540 608h7M1542 577h7M1503 572h7M1455 579h7M1548 623h7M1471 600h7M1535 518h7M1519 601h7M1535 598h7M1436 486h7M1583 566h7M1555 647h7M1508 529h7M1559 583h7M1526 609h7M1543 635h7M1449 516h7M1511 585h7M1536 578h7M1498 685h7M1559 642h7M1546 546h7M1502 582h7M1462 542h7M1511 525h7M1526 608h7M1496 568h7M1529 609h7M1519 525h7M1441 686h7M1479 567h7M1433 546h7M1476 624h7M1401 516h7M1489 561h7M1474 563h7M1443 598h7M1552 593h7M1484 647h7M1524 534h7M1482 555h7M1503 645h7M1477 578h7M1509 526h7M1486 615h7M1550 493h7M1533 571h7M1556 616h7M1583 600h7M1489 544h7M1448 612h7M1525 625h7M1519 511h7M1489 573h7M1511 623h7M1561 599h7M1423 535h7M1421 547h7M1458 597h7M1496 640h7M1548 563h7M1542 586h7M1523 651h7M1460 582h7M1566 548h7M1514 592h7M1489 521h7M1478 537h7M1548 597h7M1533 527h7M1525 592h7M1546 550h7M1537 652h7M1576 539h7M1461 513h7M1543 614h7M1519 543h7M1555 664h7M1504 579h7M1552 610h7M1558 565h7M1518 568h7M1483 570h7M1494 610h7M1493 588h7M1473 525h7M1561 537h7M1577 631h7M1415 554h7M1489 586h7M1498 555h7M1555 579h7M1543 551h7M1478 650h7M1494 531h7M1498 637h7M1499 550h7M1530 633h7M1497 569h7M1491 717h7M1498 670h7M1499 605h7M1425 594h7M1507 570h7M1489 518h7M1446 593h7M1480 581h7M1498 560h7M1476 676h7M1461 560h7M1493 529h7M1467 627h7M1542 591h7M1633 626h7M1554 545h7M1548 667h7M1490 673h7M1473 530h7M1503 546h7M1530 531h7M1508 489h7M1504 636h7M1495 600h7M1548 531h7M1455 589h7M1516 572h7M1467 644h7M1459 572h7M1503 620h7M1487 545h7M1585 544h7M1537 578h7M1486 583h7M1495 600h7M1405 584h7M1508 538h7M1490 699h7M1578 616h7M1514 570h7M1560 563h7M1473 619h7M1467 546h7M1562 507h7M1503 591h7M1515 514h7M1496 569h7M1581 634h7M1475 628h7M1531 580h7M1496 572h7M1444 554h7M1542 656h7M1578 567h7M1440 416h7M1383 448h7M1453 460h7M1333 433h7M1426 574h7M1341 584h7M1411 483h7M1423 530h7M1454 562h7M1541 644h7M1359 541h7M1449 492h7M1352 457h7M1242 479h7M1386 576h7M1364 507h7M1447 591h7M1421 477h7M1542 629h7M1488 643h7M1490 583h7M1431 566h7M1304 517h7M1338 513h7M1336 527h7M1369 632h7M1413 552h7M1342 479h7M1397 504h7M1372 463h7M1449 523h7M1348 515h7M1348 487h7M1368 458h7M1386 472h7M1320 501h7M1381 437h7M1375 518h7M1428 552h7M1417 558h7M1369 465h7M1440 518h7M1401 554h7M1461 610h7M1356 481h7M1436 464h7M1320 514h7M1361 455h7M1452 571h7M1459 531h7M1382 495h7M1420 426h7M1356 536h7M1351 494h7M1409 550h7M1370 449h7M1560 558h7M1510 482h7M1408 514h7M1522 679h7M1463 498h7M1349 459h7M1368 518h7M1350 485h7M1495 637h7M1282 417h7M1377 575h7M1379 607h7M1424 604h7M1346 479h7M1466 579h7M1281 451h7M1412 557h7M1360 590h7M1410 598h7M1426 536h7M1380 452h7M1456 584h7M1460 529h7M1336 472h7M1381 511h7M1463 503h7M1370 541h7M1458 659h7M1434 493h7M1334 450h7M1405 535h7M1396 488h7M1389 511h7M1439 542h7M1349 438h7M1495 560h7M1390 514h7M1473 538h7M1412 514h7M1438 487h7M1414 578h7M1476 586h7M1420 608h7M1446 612h7M1324 430h7M1452 531h7M1373 460h7M1495 504h7M1408 453h7M1390 628h7M1556 567h7M1336 573h7M1346 406h7M1423 476h7M1308 534h7M1354 445h7M1412 516h7M1472 558h7M1502 625h7M1514 629h7M1405 550h7M1402 443h7M1326 523h7M1250 410h7M1319 480h7M1335 503h7M1388 491h7M1347 384h7M1406 458h7M1382 531h7M1468 587h7M1495 493h7M1444 619h7M1426 476h7M1426 506h7M1360 555h7M1390 459h7M1358 599h7M1347 530h7M1412 585h7M1383 465h7M1360 450h7M1566 607h7M1381 574h7M1443 531h7M1441 553h7M1473 637h7M1381 510h7M1389 577h7M1425 571h7M1458 515h7M1409 594h7M1460 589h7M1383 494h7M1347 482h7M1397 447h7M1475 516h7M1417 558h7M1366 414h7M1462 569h7M1385 570h7M1458 499h7M1396 430h7M1384 584h7M1348 538h7M1305 462h7M1461 635h7M1430 572h7M1510 448h7M1293 566h7M1558 623h7M1405 536h7M1403 491h7M1400 514h7M1444 574h7M1463 579h7M1340 562h7M1232 448h7M1422 504h7M1520 521h7M1327 461h7M1428 573h7M1408 557h7M1357 470h7M1409 457h7M1413 506h7M1444 490h7M1368 477h7M1378 460h7M1385 445h7M1435 570h7M1400 511h7M1345 446h7M1387 469h7M1327 495h7M1400 500h7M1350 494h7M1357 479h7M1413 562h7M1449 512h7M1477 498h7M1390 581h7M1551 596h7M1378 491h7M1325 478h7M1374 470h7M1477 516h7M1508 612h7M1441 510h7M1369 406h7M1418 515h7M1425 498h7M1432 460h7M1263 481h7M1469 394h7M1482 540h7M1391 439h7M1338 527h7M1355 497h7M1391 616h7M1457 480h7M1371 449h7M1314 446h7M1470 555h7M1443 533h7M1374 512h7M1396 615h7M1514 592h7M1439 438h7M1393 637h7M1351 538h7M1478 536h7M1387 491h7M1451 545h7M1495 624h7M1400 651h7M1382 481h7M1386 470h7M1375 505h7M1457 467h7M1313 441h7M1382 535h7M1351 574h7M1368 494h7M1404 581h7M1420 530h7M1367 513h7M1426 515h7M1399 427h7M1368 565h7M1490 558h7M1265 550h7M1390 645h7M1375 559h7M1362 572h7M1473 500h7M1482 702h7M1387 453h7M1418 508h7M1307 424h7M1416 451h7M1469 574h7M1390 586h7M1343 528h7M1316 465h7M1441 512h7M1394 550h7M1496 630h7M1429 521h7M1310 565h7M1518 466h7M1455 543h7M1445 557h7M1389 515h7M1398 578h7M1384 485h7M1442 572h7M1428 547h7M1493 619h7M1414 516h7M1442 445h7M1368 470h7M1411 506h7M1555 629h7M1426 646h7M1401 504h7M1478 598h7M1459 608h7M1378 476h7M1356 505h7M1463 496h7M1367 437h7M1526 618h7M1414 465h7M1336 458h7M1403 457h7M1386 575h7M1401 526h7M1270 446h7M1391 481h7M1314 477h7M1337 463h7M1301 470h7M1457 504h7M1421 453h7M1437 564h7M1376 554h7M1346 497h7M1506 568h7M1330 546h7M1434 522h7M1287 373h7M1306 552h7M1419 486h7M1473 628h7M1348 520h7M1298 492h7M1514 501h7M1404 490h7M1395 522h7M1418 573h7M1433 588h7M1464 605h7M1358 522h7M1377 467h7M1523 591h7M1403 415h7M1386 553h7M1388 487h7M1493 547h7M1380 506h7M1386 567h7M1436 533h7M1378 498h7M1506 553h7M1441 459h7M1421 564h7M1480 573h7M1437 553h7M1467 655h7M1413 485h7M1438 532h7M1440 578h7M1410 502h7M1420 466h7M1418 483h7M1429 539h7M1387 453h7M1404 487h7M1392 551h7M1460 482h7M1459 616h7M1471 567h7M1395 606h7M1381 434h7M1406 537h7M1336 429h7M1524 583h7M1449 513h7M1306 468h7M1484 525h7M1289 460h7M1383 513h7M1336 475h7M1367 549h7M1410 569h7M1398 411h7M1279 491h7M1455 590h7M1396 428h7M1370 527h7M1486 542h7M1366 465h7M1464 594h7M1287 529h7M1343 419h7M1302 438h7M1545 716h7M1323 451h7M1411 546h7M1371 426h7M1375 474h7M1289 476h7M1310 390h7M1495 612h7M1491 568h7M1375 504h7M1316 519h7M1418 513h7M1284 461h7M1502 641h7M1455 528h7M1409 552h7M1413 579h7M1359 384h7M1250 405h7M1315 514h7M1468 551h7M1434 540h7M1412 501h7M1376 569h7M1384 511h7M1475 605h7M1376 522h7M1338 498h7M1420 529h7M1411 544h7M1243 406h7M1405 498h7M1341 481h7M1501 555h7M1360 477h7M1327 511h7M1339 538h7M1457 576h7M1465 546h7M1291 467h7M1441 460h7M1325 541h7M1428 601h7M1442 543h7M1427 576h7M1399 509h7M1420 513h7M1551 551h7M1306 411h7M1466 530h7M1411 514h7M1418 455h7M1406 494h7M1469 583h7M1322 435h7M1436 597h7M1449 535h7M1470 433h7M1367 455h7M1336 519h7M1418 543h7M1393 548h7M1450 514h7M1459 500h7M1511 505h7M1383 457h7M1403 588h7M1354 589h7M1489 581h7M1364 549h7M1222 399h7M1461 546h7M1557 558h7M1317 471h7M1437 624h7M1290 477h7M1480 523h7M1372 445h7M1449 585h7M1438 550h7M1463 543h7M1446 583h7M1483 584h7M1406 559h7M1303 386h7M1503 574h7M1335 460h7M1391 520h7M1353 549h7M1294 614h7M1333 574h7M1443 454h7M1324 488h7M1418 507h7M1402 529h7M1329 490h7M1544 554h7M1337 525h7M1486 613h7M1361 498h7M1414 516h7M1426 587h7M1436 536h7M1388 606h7M1323 587h7M1448 546h7M1354 592h7M1478 603h7M1533 490h7M1407 508h7M1355 503h7M1435 563h7M1392 449h7M1436 568h7M1536 630h7M1402 462h7M1574 566h7M1413 565h7M1433 603h7M1335 455h7M1412 462h7M1362 573h7M1420 524h7M1364 506h7M1399 464h7M1451 478h7M1483 541h7M1255 373h7M1419 484h7M1517 645h7M1536 628h7M1487 529h7M1484 536h7M1398 449h7M1405 543h7M1397 462h7M1459 594h7M1395 558h7M1464 499h7M1399 424h7M1334 512h7M1344 515h7M1424 425h7M1370 584h7M1402 527h7M1355 417h7M1298 621h7M1389 470h7M1408 424h7M1491 650h7M1352 515h7M1343 538h7M1347 488h7M1485 586h7M1380 432h7M1298 535h7M1434 539h7M1482 565h7M1354 493h7M1395 517h7M1562 625h7M1419 516h7M1357 449h7M1279 440h7M1302 379h7M1340 387h7M1490 626h7M1338 597h7M1444 409h7M1402 469h7M1288 455h7M1476 578h7M1306 442h7M1351 557h7M1394 467h7M1341 391h7M1346 541h7M1276 473h7M1393 559h7M1326 533h7M1502 686h7M1295 470h7M1387 520h7M1336 535h7M1553 669h7M1338 462h7M1448 549h7M1351 562h7M1434 589h7M1389 581h7M1370 448h7M1400 447h7M1482 596h7M1291 479h7M1456 527h7M1428 502h7M1396 514h7M1432 484h7M1327 503h7M1367 532h7M1368 437h7M1449 556h7M1448 525h7M1377 575h7M1290 560h7M1434 533h7M1406 554h7M1350 511h7M1338 395h7M1413 531h7M1443 569h7M1446 582h7M1331 552h7M1575 571h7M1318 518h7M1460 600h7M1501 494h7M1425 556h7M1482 511h7M1402 502h7M1390 508h7M1390 423h7M1398 523h7M1375 324h7M1355 465h7M1343 577h7M1461 538h7M1440 710h7M1337 516h7M1361 579h7M1473 547h7M1440 497h7M1297 516h7M1507 554h7M1366 411h7M1541 522h7M1337 481h7M1479 559h7M1399 521h7M1456 544h7M1411 521h7M1328 557h7M1355 430h7M1372 509h7M1454 468h7M1317 491h7M1425 474h7M1326 495h7M1391 431h7M1343 571h7M1331 543h7M1300 551h7M1505 535h7M1356 532h7M1319 511h7M1480 571h7M1421 522h7M1466 508h7M1504 567h7M1379 425h7M1371 519h7M1481 473h7M1392 480h7M1322 484h7M1350 543h7M1224 477h7M1276 361h7M1434 518h7M1408 473h7M1332 450h7M1396 475h7M1373 463h7M1415 468h7M1264 320h7M1399 524h7M1463 510h7M1326 408h7M1450 510h7M1464 546h7M1382 415h7M1356 541h7M1360 537h7M1293 523h7M1582 662h7M1421 465h7M1366 470h7M1412 420h7M1344 535h7M1410 563h7M1456 486h7M1312 504h7M1402 525h7M1347 549h7M1432 594h7M1377 545h7M1396 469h7M1395 431h7M1388 524h7M1445 486h7M1313 442h7M1265 424h7M1571 606h7M1350 462h7M1515 512h7M1393 512h7M1352 460h7M1291 426h7M1485 633h7M1382 548h7M1430 540h7M1391 579h7M1437 525h7M1385 562h7M1361 465h7M1382 486h7M1482 577h7M1394 490h7M1492 586h7M1536 630h7M1386 485h7M1381 521h7M1452 569h7M1502 488h7M1402 447h7M1333 458h7M1358 450h7M1301 534h7M1328 716h7M1249 321h7M1300 706h7M1304 648h7M1252 768h7M1403 726h7M1332 754h7M1367 541h7M1296 607h7M1269 456h7M1373 685h7M1331 701h7M1519 447h7M1386 484h7M1295 621h7M1444 665h7M1425 818h7M1323 732h7M1505 659h7M1181 581h7M1331 405h7M1354 691h7M1334 578h7M1507 526h7M1265 605h7M1472 671h7M1367 541h7M1484 706h7M1186 640h7M1421 524h7M1231 564h7M1184 668h7M1309 387h7M1358 742h7M1233 557h7M1542 622h7M1304 623h7M1438 479h7M1350 403h7M1201 415h7M1445 637h7M1433 746h7M1365 628h7M1401 656h7M1253 567h7M1345 604h7M1285 584h7M1389 622h7M1419 699h7M1416 716h7M1444 767h7M1423 525h7M1593 736h7M1485 688h7M1365 462h7M1404 557h7M1320 343h7M1515 459h7M1250 656h7M1417 505h7M1359 630h7M1376 663h7M1438 556h7M1197 860h7M1321 481h7M1435 670h7M1298 883h7M1356 637h7M1392 572h7M1392 443h7M1320 822h7M1448 551h7M1302 419h7M1348 578h7M1296 412h7M1376 650h7M1474 662h7M1512 744h7M1349 474h7M1403 715h7M1205 451h7M1429 533h7M1506 626h7M1305 440h7M1420 393h7M1229 442h7M1531 805h7M1338 554h7M1430 750h7M1279 865h7M1339 736h7M1290 839h7M1338 446h7M1556 517h7M1360 449h7M1428 623h7M1331 551h7M1303 513h7M1219 745h7M1450 432h7M1243 649h7M1587 575h7M1328 570h7M1385 579h7M1469 718h7M1415 790h7M1337 534h7M1659 367h7M1203 316h7M1396 471h7M1466 347h7M1346 553h7M1251 734h7M1320 654h7M1307 618h7M1315 609h7M1350 518h7M1404 578h7M1263 473h7M1404 760h7M1228 550h7M1405 725h7M1431 457h7M1364 708h7M1384 573h7M1241 620h7M1353 604h7M1511 743h7M1280 628h7M1329 612h7M1524 710h7M1364 521h7M1344 644h7M1310 733h7M1362 458h7M1565 251h7M1333 585h7M1459 734h7M1506 788h7M1392 614h7M1462 597h7M1233 545h7M1427 674h7M1249 744h7M1391 419h7M1407 721h7M1413 562h7M1279 735h7M1383 599h7M1320 476h7M1172 558h7M1471 692h7M1291 784h7M1337 479h7M1458 767h7M1321 453h7M1354 307h7M1365 783h7M1387 512h7M1431 540h7M1487 557h7M1565 558h7M1379 487h7M1232 641h7M1395 483h7M1416 550h7M1304 591h7M1400 687h7M1484 646h7M1287 517h7M1397 456h7M1343 554h7M1350 622h7M1464 797h7M1449 722h7M1253 725h7M1490 437h7M1614 532h7M1366 503h7M1302 729h7M1386 555h7M1475 487h7M1275 532h7M1285 683h7M1337 473h7M1314 361h7M1377 612h7M1421 572h7M1400 488h7M1362 619h7M1238 670h7M1374 606h7M1312 841h7M1360 508h7M1275 671h7M1339 505h7M1287 712h7M1369 727h7M1358 458h7M1447 638h7M1294 563h7M1263 700h7M1318 657h7M1386 569h7M1397 570h7M1242 550h7M1242 691h7M1425 530h7M1422 630h7M1458 488h7M1363 481h7M1292 764h7M1409 693h7M1281 356h7M1188 644h7M1470 709h7M1287 762h7M1341 674h7M1341 791h7M1308 342h7M1328 623h7M1388 514h7M1337 464h7M1337 610h7M1384 797h7M1403 461h7M1367 599h7M1260 686h7M1551 681h7M1438 728h7M1347 717h7M1279 621h7M1430 757h7M1331 565h7M1407 590h7M1374 696h7M1284 705h7M1398 568h7M1235 525h7M1356 712h7"/>
<ellipse cx="133" cy="41.3" rx="6.3" ry="3.1" fill="#000" fill-opacity="0.92" filter="url(#b10)" transform="rotate(-17 133 41.3)"/>
<ellipse cx="150.8" cy="58.3" rx="3.8" ry="4.6" fill="#000" fill-opacity="0.7" filter="url(#b12)" transform="rotate(0 150.8 58.3)"/>
<ellipse cx="141" cy="51" rx="5" ry="3" fill="#000" fill-opacity="0.25" filter="url(#b15)" transform="rotate(35 141 51)"/>
<rect x="125" y="32.7" width="17.3" height="17.7" fill="none" stroke="#6a6a6a" stroke-width="0.75"/>
<rect x="142.7" y="49" width="14.6" height="19.3" fill="none" stroke="#6a6a6a" stroke-width="0.75"/>
<line x1="149" y1="41.7" x2="192" y2="41.7" stroke="#222" stroke-width="1"/>
<path d="M195 41.7L191 39.7L191 43.7Z" fill="#222"/>
<text x="147" y="30.2" font-size="8.2" text-anchor="start" font-weight="normal" fill="#222" transform="translate(0 -2.718) scale(1 1.09)" stroke="#222" stroke-width="0.18">55.7%</text>
<text x="155.7" y="77.5" font-size="8.2" text-anchor="start" font-weight="normal" fill="#222" transform="translate(0 -6.975) scale(1 1.09)" stroke="#222" stroke-width="0.18">31.7%</text>
<text x="139.2" y="15.2" font-size="9.3" text-anchor="start" font-weight="normal" fill="#222" transform="translate(0 -1.368) scale(1 1.09)" stroke="#222" stroke-width="0.18">CD3<tspan font-size="4.5" dy="-3">+</tspan></text>
<text x="109.1" y="56.8" font-size="8" text-anchor="middle" font-weight="normal" fill="#222" transform="translate(-9.819 0) scale(1.09 1) rotate(-90 109.1 56.8)" stroke="#222" stroke-width="0.18">CD4</text>
<text x="149.5" y="102.3" font-size="8" text-anchor="middle" font-weight="normal" fill="#222" transform="translate(0 -9.207) scale(1 1.09)" stroke="#222" stroke-width="0.18">CD8</text>
<rect x="214" y="20.4" width="69.30000000000001" height="70.19999999999999" fill="none" stroke="#b8b8b8" stroke-width="0.8"/>
<line x1="212.8" y1="24.4" x2="214" y2="24.4" stroke="#555" stroke-width="0.7"/>
<line x1="212.8" y1="30.2" x2="214" y2="30.2" stroke="#555" stroke-width="0.7"/>
<line x1="212.8" y1="36.1" x2="214" y2="36.1" stroke="#555" stroke-width="0.7"/>
<line x1="212.8" y1="41.9" x2="214" y2="41.9" stroke="#555" stroke-width="0.7"/>
<line x1="212.8" y1="47.7" x2="214" y2="47.7" stroke="#555" stroke-width="0.7"/>
<line x1="212.8" y1="53.6" x2="214" y2="53.6" stroke="#555" stroke-width="0.7"/>
<line x1="212.8" y1="59.4" x2="214" y2="59.4" stroke="#555" stroke-width="0.7"/>
<line x1="212.8" y1="65.3" x2="214" y2="65.3" stroke="#555" stroke-width="0.7"/>
<line x1="212.8" y1="71.1" x2="214" y2="71.1" stroke="#555" stroke-width="0.7"/>
<line x1="212.8" y1="76.9" x2="214" y2="76.9" stroke="#555" stroke-width="0.7"/>
<line x1="212.8" y1="82.8" x2="214" y2="82.8" stroke="#555" stroke-width="0.7"/>
<line x1="212.8" y1="88.6" x2="214" y2="88.6" stroke="#555" stroke-width="0.7"/>
<line x1="217.0" y1="90.6" x2="217.0" y2="91.8" stroke="#555" stroke-width="0.7"/>
<line x1="222.8" y1="90.6" x2="222.8" y2="91.8" stroke="#555" stroke-width="0.7"/>
<line x1="228.5" y1="90.6" x2="228.5" y2="91.8" stroke="#555" stroke-width="0.7"/>
<line x1="234.3" y1="90.6" x2="234.3" y2="91.8" stroke="#555" stroke-width="0.7"/>
<line x1="240.0" y1="90.6" x2="240.0" y2="91.8" stroke="#555" stroke-width="0.7"/>
<line x1="245.8" y1="90.6" x2="245.8" y2="91.8" stroke="#555" stroke-width="0.7"/>
<line x1="251.5" y1="90.6" x2="251.5" y2="91.8" stroke="#555" stroke-width="0.7"/>
<line x1="257.3" y1="90.6" x2="257.3" y2="91.8" stroke="#555" stroke-width="0.7"/>
<line x1="263.0" y1="90.6" x2="263.0" y2="91.8" stroke="#555" stroke-width="0.7"/>
<line x1="268.8" y1="90.6" x2="268.8" y2="91.8" stroke="#555" stroke-width="0.7"/>
<line x1="274.5" y1="90.6" x2="274.5" y2="91.8" stroke="#555" stroke-width="0.7"/>
<line x1="280.3" y1="90.6" x2="280.3" y2="91.8" stroke="#555" stroke-width="0.7"/>
<circle cx="214" cy="82.6" r="0.9" fill="#111"/>
<circle cx="222" cy="90.6" r="0.9" fill="#111"/>
<path transform="scale(0.1)" stroke="#000" stroke-opacity="0.45" stroke-width="7" d="M2367 567h7M2458 497h7M2486 566h7M2468 504h7M2404 580h7M2509 567h7M2442 524h7M2378 580h7M2446 598h7M2420 588h7M2420 567h7M2507 520h7M2488 549h7M2411 550h7M2477 517h7M2439 519h7M2418 533h7M2484 527h7M2502 534h7M2421 589h7M2509 523h7M2474 497h7M2433 527h7M2480 494h7M2429 513h7M2454 492h7M2394 662h7M2459 481h7M2485 492h7M2372 609h7M2502 514h7M2405 561h7M2534 580h7M2477 496h7M2376 554h7M2492 555h7M2450 605h7M2415 589h7M2485 522h7M2455 550h7M2474 505h7M2440 548h7M2451 546h7M2460 538h7M2429 587h7M2423 528h7M2413 492h7M2469 545h7M2444 564h7M2443 574h7M2525 568h7M2439 615h7M2479 476h7M2505 560h7M2485 499h7M2415 513h7M2473 499h7M2421 583h7M2423 547h7M2413 468h7M2447 539h7M2391 581h7M2484 587h7M2429 493h7M2446 552h7M2443 519h7M2409 509h7M2447 524h7M2519 540h7M2469 527h7M2442 502h7M2430 478h7M2364 594h7M2406 559h7M2445 520h7M2480 524h7M2468 531h7M2490 590h7M2453 592h7M2471 614h7M2445 478h7M2459 556h7M2435 534h7M2439 490h7M2521 519h7M2406 472h7M2415 540h7M2511 577h7M2420 488h7M2404 537h7M2486 528h7M2516 635h7M2456 453h7M2495 545h7M2477 590h7M2408 543h7M2457 513h7M2479 542h7M2433 624h7M2457 616h7M2444 589h7M2419 548h7M2494 456h7M2472 536h7M2495 557h7M2447 490h7M2571 526h7M2437 513h7M2437 553h7M2395 584h7M2439 569h7M2363 513h7M2438 527h7M2422 555h7M2467 505h7M2369 568h7M2437 589h7M2486 544h7M2391 523h7M2420 595h7M2380 577h7M2387 514h7M2392 509h7M2432 559h7M2426 572h7M2522 559h7M2403 532h7M2446 529h7M2497 599h7M2532 576h7M2340 528h7M2477 513h7M2425 581h7M2456 497h7M2426 410h7M2450 492h7M2448 494h7M2412 519h7M2564 506h7M2401 517h7M2493 584h7M2478 534h7M2455 512h7M2442 509h7M2390 496h7M2529 570h7M2419 537h7M2431 595h7M2449 517h7M2478 561h7M2422 509h7M2455 475h7M2412 584h7M2485 596h7M2431 517h7M2438 523h7M2502 541h7M2505 520h7M2465 616h7M2419 514h7M2425 473h7M2437 516h7M2540 534h7M2362 576h7M2489 547h7M2461 577h7M2427 544h7M2455 616h7M2507 558h7M2395 577h7M2447 595h7M2452 553h7M2476 516h7M2423 640h7M2414 581h7M2477 583h7M2506 493h7M2489 461h7M2452 559h7M2492 596h7M2411 529h7M2443 514h7M2416 513h7M2496 608h7M2480 620h7M2453 499h7M2423 551h7M2492 601h7M2413 582h7M2428 568h7M2487 612h7M2428 553h7M2467 529h7M2453 571h7M2382 510h7M2544 574h7M2427 464h7M2410 563h7M2477 567h7M2474 521h7M2515 503h7M2470 536h7M2380 576h7M2438 574h7M2501 557h7M2422 533h7M2447 607h7M2484 617h7M2480 515h7M2487 590h7M2444 564h7M2436 489h7M2446 577h7M2435 447h7M2417 588h7M2459 594h7M2419 524h7M2409 507h7M2470 553h7M2430 556h7M2396 523h7M2388 474h7M2394 492h7M2514 611h7M2501 525h7M2475 499h7M2427 553h7M2384 547h7M2474 458h7M2350 522h7M2444 551h7M2403 565h7M2454 514h7M2516 563h7M2480 628h7M2429 533h7M2378 528h7M2467 655h7M2472 556h7M2398 503h7M2374 478h7M2454 558h7M2412 532h7M2417 568h7M2475 523h7M2431 490h7M2430 637h7M2449 582h7M2473 611h7M2436 504h7M2492 589h7M2422 589h7M2449 543h7M2524 576h7M2462 532h7M2457 591h7M2468 514h7M2468 542h7M2462 538h7M2360 466h7M2434 448h7M2388 626h7M2478 528h7M2463 449h7M2459 589h7M2457 489h7M2489 526h7M2426 551h7M2437 632h7M2444 637h7M2468 493h7M2449 547h7M2508 607h7M2554 527h7M2431 644h7M2413 556h7M2515 508h7M2435 511h7M2471 565h7M2448 573h7M2417 525h7M2468 634h7M2448 547h7M2503 554h7M2503 561h7M2497 558h7M2412 504h7M2467 628h7M2526 539h7M2552 507h7M2415 582h7M2387 578h7M2465 574h7M2400 556h7M2488 547h7M2492 550h7M2463 533h7M2394 532h7M2470 514h7M2369 469h7M2503 541h7M2418 596h7M2442 479h7M2431 505h7M2442 504h7M2452 565h7M2426 534h7M2443 580h7M2420 575h7M2501 542h7M2410 527h7M2376 514h7M2400 532h7M2434 566h7M2454 564h7M2447 557h7M2403 569h7M2503 599h7M2394 557h7M2382 571h7M2441 524h7M2419 531h7M2449 503h7M2452 557h7M2471 545h7M2449 646h7M2491 563h7M2392 566h7M2473 431h7M2443 561h7M2451 549h7M2443 605h7M2465 534h7M2440 635h7M2414 518h7M2463 553h7M2462 606h7M2496 568h7M2451 542h7M2440 588h7M2397 494h7M2431 501h7M2419 594h7M2356 560h7M2395 529h7M2426 499h7M2388 542h7M2327 439h7M2433 591h7M2526 540h7M2416 529h7M2469 588h7M2410 562h7M2448 595h7M2433 534h7M2414 483h7M2461 577h7M2496 562h7M2430 503h7M2401 508h7M2463 550h7M2355 531h7M2438 498h7M2449 568h7M2407 481h7M2436 555h7M2439 611h7M2456 502h7M2482 520h7M2478 552h7M2501 507h7M2480 567h7M2412 572h7M2544 570h7M2418 535h7M2504 562h7M2511 523h7M2504 482h7M2443 531h7M2429 596h7M2425 558h7M2527 589h7M2432 511h7M2366 553h7M2487 597h7M2460 640h7M2482 447h7M2413 576h7M2433 580h7M2556 523h7M2542 551h7M2388 543h7M2487 523h7M2515 514h7M2442 585h7M2441 520h7M2449 574h7M2522 612h7M2528 552h7M2380 536h7M2433 500h7M2428 540h7M2452 585h7M2412 591h7M2452 577h7M2502 496h7M2516 521h7M2466 594h7M2488 480h7M2457 595h7M2445 541h7M2453 617h7M2427 501h7M2404 517h7M2440 559h7M2446 469h7M2384 568h7M2480 489h7M2489 443h7M2547 581h7M2380 560h7M2448 525h7M2434 534h7M2446 505h7M2426 567h7M2472 489h7M2429 611h7M2480 621h7M2393 494h7M2359 450h7M2434 497h7M2404 510h7M2442 581h7M2473 470h7M2512 537h7M2408 539h7M2433 482h7M2515 526h7M2425 566h7M2520 574h7M2412 560h7M2496 567h7M2477 527h7M2447 471h7M2420 492h7M2450 611h7M2355 477h7M2411 537h7M2499 516h7M2417 595h7M2466 570h7M2485 516h7M2459 517h7M2420 548h7M2468 491h7M2418 568h7M2457 575h7M2437 508h7M2483 575h7M2330 571h7M2418 571h7M2516 540h7M2409 552h7M2454 570h7M2391 550h7M2488 580h7M2476 600h7M2415 595h7M2459 502h7M2437 556h7M2464 606h7M2458 523h7M2542 540h7M2415 582h7M2432 509h7M2405 592h7M2405 545h7M2431 535h7M2416 548h7M2475 594h7M2435 492h7M2387 539h7M2345 593h7M2451 551h7M2391 511h7M2419 571h7M2433 570h7M2472 463h7M2440 599h7M2428 549h7M2445 491h7M2542 549h7M2477 528h7M2509 602h7M2500 592h7M2480 609h7M2467 553h7M2484 510h7M2343 570h7M2456 515h7M2439 502h7M2415 550h7M2455 582h7M2446 573h7M2479 518h7M2379 508h7M2439 521h7M2543 525h7M2470 514h7M2479 493h7M2490 558h7M2433 491h7M2520 527h7M2511 446h7M2399 619h7M2525 554h7M2492 576h7M2435 550h7M2402 482h7M2455 578h7M2457 492h7M2486 553h7M2482 536h7M2439 590h7M2508 499h7M2403 583h7M2465 549h7M2409 585h7M2458 556h7M2466 524h7M2467 553h7M2480 565h7M2396 509h7M2439 595h7M2423 592h7M2495 589h7M2545 555h7M2464 600h7M2467 591h7M2445 607h7M2465 464h7M2496 542h7M2413 529h7M2438 594h7M2464 544h7M2449 506h7M2423 522h7M2440 494h7M2433 588h7M2469 548h7M2465 537h7M2400 579h7M2545 578h7M2479 656h7M2399 563h7M2436 532h7M2380 535h7M2467 478h7M2441 523h7M2408 569h7M2519 571h7M2493 583h7M2447 571h7M2506 533h7M2444 485h7M2372 502h7M2488 565h7M2461 604h7M2376 598h7M2454 580h7M2508 516h7M2413 559h7M2448 520h7M2445 514h7M2456 530h7M2522 508h7M2474 552h7M2517 511h7M2430 619h7M2422 526h7M2433 501h7M2501 617h7M2444 512h7M2393 568h7M2428 567h7M2348 517h7M2476 567h7M2329 546h7M2455 545h7M2436 525h7M2456 568h7M2317 531h7M2489 540h7M2502 510h7M2531 596h7M2433 663h7M2511 621h7M2400 535h7M2470 593h7M2453 490h7M2502 544h7M2469 534h7M2445 485h7M2478 521h7M2375 556h7M2449 587h7M2485 497h7M2443 545h7M2454 500h7M2453 588h7M2502 614h7M2482 440h7M2439 521h7M2328 600h7M2488 549h7M2465 568h7M2441 604h7M2527 589h7M2427 554h7M2491 581h7M2421 584h7M2481 574h7M2432 543h7M2370 536h7M2431 531h7M2438 530h7M2454 550h7M2424 537h7M2446 566h7M2469 532h7M2415 471h7M2397 558h7M2411 611h7M2443 528h7M2443 521h7M2423 546h7M2389 545h7M2446 506h7M2493 566h7M2496 521h7M2398 489h7M2384 457h7M2516 532h7M2458 523h7M2444 613h7M2377 495h7M2456 507h7M2479 604h7M2488 582h7M2443 588h7M2416 490h7M2439 533h7M2502 508h7M2498 517h7M2397 466h7M2449 483h7M2459 548h7M2433 460h7M2428 562h7M2375 567h7M2451 522h7M2459 574h7M2449 512h7M2483 519h7M2465 589h7M2505 620h7M2493 556h7M2441 553h7M2472 677h7M2478 512h7M2514 483h7M2492 494h7M2404 519h7M2438 486h7M2476 543h7M2507 507h7M2374 567h7M2441 587h7M2352 481h7M2454 630h7M2398 457h7M2431 604h7M2517 493h7M2424 463h7M2415 500h7M2468 596h7M2550 540h7M2484 558h7M2455 629h7M2480 616h7M2463 584h7M2471 543h7M2421 525h7M2451 529h7M2436 513h7M2486 538h7M2445 535h7M2505 528h7M2509 514h7M2514 578h7M2429 563h7M2498 509h7M2441 558h7M2441 532h7M2451 559h7M2483 613h7M2437 671h7M2436 621h7M2445 482h7M2432 528h7M2495 463h7M2423 537h7M2478 565h7M2486 542h7M2440 596h7M2522 569h7M2457 509h7M2539 572h7M2476 478h7M2476 653h7M2443 536h7M2515 544h7M2486 633h7M2401 504h7M2479 553h7M2452 538h7M2456 561h7M2430 531h7M2460 499h7M2469 452h7M2477 543h7M2401 598h7M2401 630h7M2420 594h7M2447 615h7M2441 589h7M2437 463h7M2466 568h7M2467 619h7M2419 480h7M2461 516h7M2446 545h7M2416 589h7M2445 622h7M2461 592h7M2438 515h7M2428 505h7M2469 553h7M2405 474h7M2414 462h7M2413 476h7M2480 498h7M2426 537h7M2452 564h7M2482 576h7M2436 598h7M2466 516h7M2513 500h7M2470 602h7M2455 561h7M2455 575h7M2460 546h7M2480 466h7M2461 533h7M2532 566h7M2423 571h7M2434 492h7M2439 566h7M2500 596h7M2460 539h7M2459 599h7M2445 595h7M2417 541h7M2482 579h7M2459 524h7M2376 518h7M2415 524h7M2516 519h7M2485 548h7M2404 545h7M2481 497h7M2402 524h7M2480 522h7M2468 567h7M2451 565h7M2503 542h7M2464 500h7M2420 538h7M2484 520h7M2393 579h7M2549 444h7M2406 546h7M2470 506h7M2464 594h7M2439 576h7M2456 505h7M2425 516h7M2505 601h7M2460 479h7M2430 526h7M2371 536h7M2462 489h7M2433 524h7M2526 582h7M2482 552h7M2397 580h7M2422 459h7M2480 533h7M2450 567h7M2441 562h7M2503 537h7M2436 544h7M2477 531h7M2454 516h7M2447 568h7M2416 534h7M2390 509h7M2453 568h7M2408 536h7M2412 555h7M2461 565h7M2441 483h7M2427 485h7M2422 540h7M2494 522h7M2418 551h7M2365 622h7M2387 582h7M2490 591h7M2446 576h7M2436 585h7M2423 507h7M2466 527h7M2478 511h7M2461 504h7M2446 637h7M2406 487h7M2385 528h7M2516 533h7M2488 541h7M2424 629h7M2494 470h7M2410 559h7M2477 538h7M2463 570h7M2436 587h7M2415 574h7M2487 558h7M2436 543h7M2359 547h7M2392 452h7M2481 509h7M2465 549h7M2378 499h7M2439 564h7M2453 491h7M2428 547h7M2398 521h7M2428 451h7M2520 590h7M2431 584h7M2408 607h7M2435 550h7M2427 547h7M2464 548h7M2416 574h7M2473 547h7M2493 518h7M2502 544h7M2512 532h7M2440 553h7M2495 612h7M2432 512h7M2481 602h7M2479 534h7M2502 549h7M2457 573h7M2427 445h7M2459 577h7M2468 570h7M2457 591h7M2455 610h7M2452 580h7M2428 556h7M2467 553h7M2513 554h7M2496 565h7M2494 511h7M2435 585h7M2417 559h7M2473 556h7M2468 570h7M2440 562h7M2429 523h7M2386 534h7M2381 539h7M2459 499h7M2453 558h7M2436 504h7M2446 562h7M2488 632h7M2370 551h7M2468 519h7M2463 637h7M2455 604h7M2493 530h7M2356 585h7M2513 476h7M2442 514h7M2458 549h7M2497 524h7M2528 480h7M2459 662h7M2446 572h7M2431 686h7M2486 534h7M2372 546h7M2480 460h7M2430 567h7M2352 527h7M2385 480h7M2467 596h7M2497 522h7M2471 471h7M2390 562h7M2434 499h7M2374 527h7M2541 467h7M2408 589h7M2372 510h7M2453 594h7M2447 624h7M2449 540h7M2468 562h7M2389 498h7M2440 559h7M2400 509h7M2420 557h7M2433 569h7M2466 507h7M2438 490h7M2454 581h7M2410 464h7M2471 535h7M2449 565h7M2465 587h7M2431 448h7M2430 530h7M2433 560h7M2440 600h7M2424 542h7M2435 635h7M2411 498h7M2435 577h7M2451 537h7M2390 449h7M2441 534h7M2522 569h7M2467 589h7M2413 488h7M2435 608h7M2490 524h7M2399 580h7M2495 502h7M2516 518h7M2481 539h7M2437 517h7M2478 575h7M2483 536h7M2415 635h7M2520 544h7M2403 605h7M2455 548h7M2485 564h7M2455 632h7M2373 565h7M2410 544h7M2443 556h7M2351 565h7M2546 537h7M2487 576h7M2462 524h7M2476 560h7M2510 587h7M2421 415h7M2512 573h7M2457 519h7M2553 614h7M2454 529h7M2474 607h7M2471 588h7M2461 562h7M2398 545h7M2452 542h7M2440 557h7M2426 534h7M2396 640h7M2413 489h7M2428 525h7M2406 434h7M2518 597h7M2434 568h7M2404 469h7M2464 572h7M2422 542h7M2323 526h7M2494 557h7M2458 571h7M2363 480h7M2397 550h7M2424 460h7M2487 541h7M2491 637h7M2381 482h7M2495 611h7M2466 562h7M2479 577h7M2397 572h7M2491 532h7M2412 520h7M2426 566h7M2482 549h7M2437 466h7M2432 500h7M2427 558h7M2457 699h7M2414 518h7M2402 529h7M2438 588h7M2369 576h7M2477 525h7M2421 551h7M2472 540h7M2443 545h7M2405 552h7M2474 550h7M2402 540h7M2445 558h7M2433 579h7M2495 586h7M2460 599h7M2448 538h7M2390 540h7M2501 509h7M2482 493h7M2462 625h7M2452 495h7M2462 540h7M2483 526h7M2378 517h7M2474 592h7M2461 547h7M2478 540h7M2431 553h7M2495 528h7M2471 520h7M2419 549h7M2394 503h7M2400 514h7M2412 641h7M2475 551h7M2394 437h7M2468 520h7M2493 533h7M2395 512h7M2386 478h7M2479 525h7M2479 524h7M2440 520h7M2427 514h7M2512 549h7M2368 609h7M2502 599h7M2445 538h7M2430 548h7M2469 547h7M2415 500h7M2519 625h7M2398 512h7M2448 570h7M2445 555h7M2465 595h7M2395 586h7M2468 570h7M2387 529h7M2439 571h7M2478 577h7M2396 593h7M2452 585h7M2449 515h7M2559 585h7M2481 529h7M2440 592h7M2468 621h7M2500 505h7M2385 588h7M2475 537h7M2437 520h7M2525 546h7M2392 578h7M2446 560h7M2433 542h7M2371 560h7M2421 526h7M2463 601h7M2359 530h7M2472 591h7M2411 555h7M2466 586h7M2423 535h7M2428 591h7M2495 531h7M2444 554h7M2412 536h7M2486 582h7M2421 515h7M2444 483h7M2462 552h7M2393 530h7M2422 531h7M2413 599h7M2409 573h7M2458 607h7M2447 545h7M2452 466h7M2550 547h7M2436 497h7M2444 612h7M2418 560h7M2493 589h7M2432 470h7M2466 571h7M2436 526h7M2523 487h7M2428 518h7M2384 510h7M2416 594h7M2376 480h7M2460 482h7M2365 511h7M2399 499h7M2443 564h7M2422 531h7M2479 542h7M2480 524h7M2470 601h7M2391 664h7M2436 530h7M2442 564h7M2399 542h7M2425 602h7M2377 565h7M2436 513h7M2455 536h7M2451 556h7M2500 534h7M2519 441h7M2526 604h7M2515 561h7M2461 505h7M2505 503h7M2416 542h7M2459 561h7M2400 526h7M2470 597h7M2481 566h7M2438 522h7M2428 539h7M2471 527h7M2535 513h7M2483 541h7M2443 529h7M2513 540h7M2472 553h7M2481 573h7M2518 522h7M2415 612h7M2503 554h7M2437 555h7M2504 520h7M2510 550h7M2434 528h7M2361 550h7M2394 517h7M2412 551h7M2479 550h7M2457 563h7M2516 576h7M2515 550h7M2464 520h7M2474 513h7M2469 521h7M2434 594h7M2455 579h7M2439 467h7M2511 545h7M2422 582h7M2402 510h7M2497 522h7M2496 538h7M2440 548h7M2428 588h7M2495 553h7M2475 571h7M2520 488h7M2492 588h7M2436 545h7M2435 595h7M2401 566h7M2503 575h7M2429 525h7M2361 494h7M2495 511h7M2381 528h7M2387 558h7M2413 581h7M2444 487h7M2417 516h7M2414 593h7M2407 556h7M2425 567h7M2389 475h7M2471 607h7M2391 527h7M2428 505h7M2490 552h7M2391 531h7M2505 522h7M2428 509h7M2456 523h7M2487 515h7M2388 558h7M2316 493h7M2461 557h7M2425 525h7M2471 702h7M2416 535h7M2430 566h7M2450 569h7M2518 542h7M2437 560h7M2537 540h7M2520 602h7M2335 493h7M2408 558h7M2505 554h7M2456 636h7M2464 636h7M2412 610h7M2428 443h7M2415 522h7M2448 577h7M2478 570h7M2418 616h7M2500 552h7M2425 541h7M2440 516h7M2449 518h7M2476 522h7M2470 561h7M2456 568h7M2406 647h7M2420 573h7M2450 528h7M2522 599h7M2438 568h7M2478 614h7M2492 543h7M2439 497h7M2460 583h7M2433 571h7M2455 527h7M2398 586h7M2556 579h7M2404 498h7M2460 574h7M2513 452h7M2527 561h7M2455 562h7M2435 532h7M2494 479h7M2445 568h7M2380 532h7M2514 568h7M2479 578h7M2459 561h7M2415 533h7M2527 503h7M2443 492h7M2427 511h7M2398 550h7M2410 563h7M2525 447h7M2443 458h7M2444 561h7M2458 597h7M2456 475h7M2513 513h7M2446 559h7M2413 545h7M2512 482h7M2380 520h7M2443 492h7M2353 573h7M2466 492h7M2474 545h7M2456 491h7M2440 565h7M2376 494h7M2490 633h7M2477 546h7M2404 524h7M2439 563h7M2439 648h7M2505 460h7M2401 540h7M2491 567h7M2334 465h7M2506 576h7M2557 590h7M2469 611h7M2431 521h7M2407 551h7M2468 587h7M2511 578h7M2502 541h7M2409 572h7M2492 606h7M2443 525h7M2435 559h7M2448 538h7M2461 534h7M2464 522h7M2385 526h7M2529 520h7M2488 606h7M2427 554h7M2354 559h7M2515 560h7M2366 512h7M2419 547h7M2462 529h7M2437 510h7M2474 556h7M2464 526h7M2471 535h7M2462 540h7M2422 497h7M2371 480h7M2469 684h7M2381 504h7M2450 695h7M2441 496h7M2468 635h7M2332 484h7M2502 502h7M2446 518h7M2482 488h7M2463 556h7M2474 566h7M2456 471h7M2436 504h7M2472 538h7M2456 592h7M2445 616h7M2485 486h7M2425 594h7M2429 593h7M2426 538h7M2493 483h7M2453 526h7M2457 618h7M2471 490h7M2490 530h7M2457 595h7M2437 584h7M2457 508h7M2437 487h7M2500 557h7M2491 502h7M2486 498h7M2462 546h7M2425 556h7M2451 509h7M2419 487h7M2508 558h7M2435 573h7M2414 492h7M2465 614h7M2463 553h7M2523 487h7M2579 512h7M2447 488h7M2399 530h7M2553 516h7M2424 554h7M2407 530h7M2484 456h7M2437 531h7M2428 538h7M2290 551h7M2354 536h7M2443 698h7M2420 557h7M2451 628h7M2339 611h7M2351 611h7M2426 654h7M2327 573h7M2380 532h7M2401 627h7M2311 550h7M2325 519h7M2327 645h7M2347 565h7M2429 649h7M2450 506h7M2418 514h7M2348 564h7M2351 678h7M2372 644h7M2371 585h7M2406 616h7M2405 513h7M2405 610h7M2410 594h7M2400 532h7M2437 544h7M2450 652h7M2377 575h7M2419 583h7M2321 591h7M2319 556h7M2470 646h7M2357 582h7M2348 583h7M2308 608h7M2381 561h7M2349 709h7M2358 563h7M2351 561h7M2445 635h7M2401 612h7M2323 464h7M2456 639h7M2391 605h7M2390 593h7M2367 481h7M2408 598h7M2429 614h7M2366 616h7M2389 571h7M2361 566h7M2365 566h7M2429 739h7M2374 642h7M2281 416h7M2356 578h7M2343 518h7M2337 557h7M2388 576h7M2320 560h7M2456 563h7M2383 639h7M2340 555h7M2525 678h7M2354 592h7M2385 598h7M2403 580h7M2269 522h7M2388 526h7M2364 658h7M2392 561h7M2387 641h7M2294 513h7M2347 562h7M2376 561h7M2385 595h7M2322 549h7M2318 591h7M2393 624h7M2336 556h7M2269 568h7M2299 590h7M2434 622h7M2411 607h7M2399 638h7M2443 699h7M2367 627h7M2423 619h7M2393 533h7M2434 559h7M2347 543h7M2408 550h7M2403 621h7M2385 575h7M2410 658h7M2357 535h7M2350 542h7M2368 580h7M2265 636h7M2339 562h7M2282 477h7M2329 591h7M2422 512h7M2391 664h7M2366 631h7M2396 549h7M2430 571h7M2398 574h7M2369 595h7M2446 523h7M2324 584h7M2429 591h7M2371 613h7M2459 563h7M2300 561h7M2418 535h7M2436 646h7M2419 558h7M2315 608h7M2393 625h7M2313 436h7M2436 649h7M2366 587h7M2403 630h7M2371 564h7M2331 629h7M2385 429h7M2397 566h7M2316 553h7M2316 556h7M2353 609h7M2329 493h7M2350 519h7M2417 588h7M2297 532h7M2379 588h7M2288 565h7M2395 640h7M2435 595h7M2315 559h7M2412 553h7M2443 557h7M2324 618h7M2375 604h7M2365 588h7M2351 674h7M2413 591h7M2404 634h7M2354 593h7M2390 565h7M2341 573h7M2365 568h7M2283 574h7M2413 600h7M2465 648h7M2362 554h7M2405 577h7M2299 580h7M2365 576h7M2411 605h7M2481 575h7M2375 604h7M2358 561h7M2467 539h7M2397 510h7M2397 502h7M2322 632h7M2457 611h7M2244 611h7M2392 540h7M2362 524h7M2375 585h7M2386 629h7M2348 479h7M2322 519h7M2362 566h7M2378 654h7M2381 539h7M2365 545h7M2368 615h7M2324 612h7M2469 680h7M2461 610h7M2313 671h7M2377 600h7M2362 542h7M2411 530h7M2311 602h7M2361 547h7M2405 662h7M2366 581h7M2408 640h7M2431 632h7M2347 608h7M2380 510h7M2442 629h7M2448 601h7M2416 594h7M2388 634h7M2383 619h7M2378 647h7M2412 518h7M2463 627h7M2355 556h7M2479 614h7M2405 623h7M2350 666h7M2485 574h7M2437 525h7M2363 590h7M2383 617h7M2400 612h7M2373 603h7M2352 677h7M2383 649h7M2385 584h7M2371 528h7M2483 630h7M2387 570h7M2444 587h7M2357 560h7M2457 620h7M2373 558h7M2444 616h7M2364 629h7M2424 552h7M2437 653h7M2368 525h7M2434 585h7M2370 575h7M2367 627h7M2326 604h7M2438 651h7M2416 610h7M2370 583h7M2337 660h7M2374 542h7M2421 669h7M2394 578h7M2325 609h7M2368 557h7M2410 536h7M2417 484h7M2350 517h7M2368 625h7M2316 641h7M2347 561h7M2429 566h7M2452 595h7M2376 544h7M2437 598h7M2357 541h7M2349 579h7M2345 620h7M2379 561h7M2403 661h7M2278 586h7M2434 607h7M2421 527h7M2344 630h7M2376 592h7M2411 614h7M2403 572h7M2366 648h7M2356 518h7M2363 628h7M2469 615h7M2350 612h7M2395 648h7M2406 630h7M2406 615h7M2336 574h7M2459 668h7M2428 618h7M2375 605h7M2365 638h7M2366 552h7M2302 647h7M2344 543h7M2401 678h7M2414 581h7M2409 558h7M2369 589h7M2382 627h7M2407 683h7M2422 585h7M2394 553h7M2351 569h7M2431 568h7M2305 528h7M2323 570h7M2366 533h7M2343 563h7M2400 623h7M2446 591h7M2412 600h7M2328 550h7M2488 604h7M2462 645h7M2462 598h7M2427 585h7M2328 526h7M2403 520h7M2399 554h7M2399 530h7M2423 588h7M2307 509h7M2385 515h7M2398 616h7M2350 649h7M2452 619h7M2404 617h7M2369 649h7M2356 469h7M2383 611h7M2422 547h7M2449 566h7M2412 630h7M2391 645h7M2358 681h7M2406 576h7M2508 615h7M2303 641h7M2457 579h7M2334 633h7M2385 547h7M2359 589h7M2430 672h7M2352 656h7M2309 609h7M2375 609h7M2361 553h7M2396 646h7M2275 571h7M2363 537h7M2317 601h7M2409 626h7M2286 501h7M2352 565h7M2467 590h7M2388 638h7M2463 624h7M2399 684h7M2363 503h7M2346 569h7M2445 618h7M2440 607h7M2384 564h7M2322 602h7M2400 621h7M2356 566h7M2400 622h7M2478 569h7M2430 641h7M2369 594h7M2379 661h7M2505 630h7M2370 632h7M2406 587h7M2419 638h7M2363 626h7M2274 509h7M2367 595h7M2312 645h7M2364 594h7M2380 625h7M2354 619h7M2342 514h7M2407 603h7M2425 509h7M2387 562h7M2373 570h7M2364 556h7M2431 521h7M2301 590h7M2479 575h7M2338 528h7M2333 639h7M2415 639h7M2399 605h7M2354 540h7M2412 712h7M2364 646h7M2348 586h7M2464 604h7M2413 571h7M2473 552h7M2409 585h7M2392 609h7M2446 644h7M2433 618h7M2330 643h7M2456 628h7M2421 587h7M2312 622h7M2347 673h7M2415 596h7M2352 590h7M2333 563h7M2459 592h7M2471 604h7M2402 552h7M2368 567h7M2315 667h7M2411 592h7M2329 581h7M2331 535h7M2373 689h7M2298 600h7M2356 450h7M2314 571h7M2385 556h7M2468 633h7M2351 508h7M2390 561h7M2431 552h7M2440 581h7M2391 580h7M2412 650h7M2356 543h7M2474 653h7M2474 654h7M2388 668h7M2349 564h7M2362 619h7M2341 574h7M2341 571h7M2436 653h7M2371 707h7M2348 605h7M2359 482h7M2324 637h7M2301 711h7M2376 602h7M2443 604h7M2351 556h7M2336 607h7M2359 610h7M2309 556h7M2482 627h7M2377 645h7M2395 665h7M2325 615h7M2330 612h7M2501 686h7M2340 602h7M2404 561h7M2393 543h7M2429 643h7M2374 621h7M2497 606h7M2291 588h7M2360 549h7M2425 646h7M2410 673h7M2351 565h7M2402 468h7M2249 580h7M2371 591h7M2335 592h7M2433 571h7M2409 589h7M2374 594h7M2455 629h7M2415 604h7M2277 614h7M2380 595h7M2357 513h7M2454 691h7M2458 519h7M2408 540h7M2372 564h7M2351 548h7M2358 622h7M2460 649h7M2381 583h7M2369 587h7M2351 576h7M2422 588h7M2341 577h7M2385 587h7M2368 621h7M2379 543h7M2409 562h7M2419 636h7M2405 609h7M2315 568h7M2387 621h7M2326 572h7M2306 584h7M2385 597h7M2462 641h7M2372 561h7M2359 623h7M2426 576h7M2375 569h7M2415 606h7M2346 542h7M2445 537h7M2292 428h7M2480 585h7M2423 625h7M2422 652h7M2358 585h7M2429 626h7M2344 547h7M2310 588h7M2355 512h7M2354 600h7M2390 582h7M2389 622h7M2322 540h7M2429 634h7M2312 543h7M2452 640h7M2374 637h7M2448 670h7M2313 516h7M2356 583h7M2364 598h7M2454 656h7M2430 600h7M2462 628h7M2393 592h7M2291 673h7M2380 632h7M2492 604h7M2324 627h7M2393 548h7M2428 600h7M2334 463h7M2332 598h7M2330 626h7M2489 627h7M2392 589h7M2423 600h7M2432 667h7M2423 554h7M2414 585h7M2396 639h7M2348 593h7M2453 566h7M2371 622h7M2370 636h7M2331 510h7M2400 588h7M2396 638h7M2433 584h7M2362 496h7M2333 592h7M2392 523h7M2420 596h7M2435 585h7M2429 548h7M2289 534h7M2415 616h7M2288 579h7M2414 675h7M2419 622h7M2303 592h7M2284 557h7M2363 541h7M2331 574h7M2410 566h7M2396 626h7M2380 679h7M2365 553h7M2287 621h7M2414 588h7M2396 587h7M2424 598h7M2392 589h7M2337 478h7M2408 538h7M2401 624h7M2474 574h7M2388 636h7M2348 556h7M2403 691h7M2434 645h7M2333 611h7M2437 543h7M2381 581h7M2413 516h7M2416 597h7M2368 489h7M2278 545h7M2413 617h7M2418 519h7M2391 655h7M2304 605h7M2345 609h7M2386 516h7M2329 639h7M2375 647h7M2398 635h7M2361 597h7M2362 629h7M2332 729h7M2439 551h7M2352 685h7M2449 754h7M2365 494h7M2402 598h7M2370 676h7M2291 718h7M2406 697h7M2390 676h7M2292 585h7M2401 620h7M2362 672h7M2365 663h7M2385 645h7M2306 608h7M2408 592h7M2384 670h7M2317 394h7M2360 574h7M2330 714h7M2323 663h7M2367 658h7M2459 491h7M2408 637h7M2347 581h7M2363 645h7M2315 771h7M2324 622h7M2298 642h7M2378 735h7M2409 607h7M2440 646h7M2437 799h7M2341 546h7M2387 767h7M2380 736h7M2390 721h7M2426 627h7M2291 618h7M2322 533h7M2352 699h7M2270 496h7M2400 572h7M2341 751h7M2416 680h7M2387 416h7M2388 677h7M2292 643h7M2383 635h7M2400 722h7M2363 620h7M2302 726h7M2332 662h7M2436 719h7M2298 622h7M2326 495h7M2321 682h7M2377 626h7M2369 544h7M2323 619h7M2400 620h7M2352 667h7M2433 547h7M2387 661h7M2357 660h7M2263 625h7M2349 534h7M2402 638h7M2344 701h7M2315 572h7M2401 721h7M2460 620h7M2289 502h7M2302 638h7M2349 581h7M2311 573h7M2343 737h7M2391 761h7M2401 712h7M2419 689h7M2436 749h7M2450 675h7M2322 845h7M2347 682h7M2342 578h7M2382 550h7M2353 758h7M2367 710h7M2392 678h7M2366 693h7M2313 681h7M2308 567h7M2332 522h7M2263 655h7M2385 700h7M2469 675h7M2397 584h7M2395 550h7M2458 576h7M2340 700h7M2252 734h7M2314 649h7M2409 662h7M2406 606h7M2390 462h7M2435 598h7M2318 634h7M2444 596h7M2359 610h7M2314 522h7M2389 705h7M2323 653h7M2382 676h7M2352 642h7M2374 553h7M2353 706h7M2333 746h7M2348 545h7M2346 523h7M2390 511h7M2361 620h7M2345 673h7M2374 596h7M2401 610h7M2405 761h7M2379 722h7M2294 676h7M2287 612h7M2395 420h7M2322 568h7M2314 634h7M2392 548h7M2330 478h7M2325 457h7M2286 666h7M2403 579h7M2377 578h7M2413 797h7M2239 545h7M2329 594h7M2437 786h7M2359 694h7M2282 601h7M2346 625h7M2375 511h7M2309 811h7M2275 630h7M2396 688h7M2363 505h7M2337 505h7M2457 688h7M2396 664h7M2341 736h7M2404 701h7M2389 708h7M2346 674h7M2364 620h7M2392 826h7M2260 743h7M2339 737h7M2310 615h7M2411 643h7M2377 541h7M2304 770h7M2368 634h7M2292 540h7M2309 627h7M2354 588h7M2327 643h7M2418 532h7M2290 723h7M2290 593h7M2366 795h7M2259 377h7M2356 730h7M2367 573h7M2369 468h7M2401 772h7M2350 707h7M2308 755h7M2328 567h7M2322 484h7M2393 815h7M2290 611h7M2382 596h7M2283 654h7M2410 658h7M2307 605h7M2265 618h7M2420 745h7M2356 676h7M2334 647h7M2331 649h7M2335 652h7M2394 645h7M2296 671h7M2348 596h7M2388 574h7M2406 695h7M2326 575h7M2354 562h7M2407 458h7M2367 612h7M2306 684h7M2336 674h7M2339 612h7M2386 726h7M2409 647h7M2433 625h7M2293 470h7M2289 554h7M2272 652h7M2362 637h7M2372 633h7M2348 611h7M2362 545h7M2423 782h7M2362 833h7M2312 708h7M2280 677h7M2323 719h7M2366 722h7M2390 690h7M2347 772h7M2378 684h7M2431 631h7M2446 747h7M2364 518h7M2420 625h7M2365 651h7M2407 702h7M2270 568h7M2377 658h7M2399 695h7M2440 593h7M2424 684h7M2375 701h7M2344 698h7M2350 699h7M2323 733h7M2285 571h7M2358 660h7M2321 599h7M2373 731h7M2424 611h7M2357 613h7M2285 589h7M2416 536h7M2501 748h7M2571 525h7M2174 558h7M2557 424h7M2525 601h7M2478 599h7M2458 586h7M2518 556h7M2463 557h7M2414 385h7M2224 366h7M2279 305h7M2468 457h7M2477 439h7M2438 473h7M2429 777h7M2558 670h7M2429 737h7M2482 618h7M2286 419h7M2417 472h7M2350 235h7M2327 486h7M2431 358h7M2388 741h7M2416 240h7M2383 501h7M2525 526h7M2536 544h7M2516 680h7M2552 527h7M2281 527h7M2448 407h7M2482 479h7M2479 526h7M2309 640h7M2598 623h7M2429 272h7M2433 497h7M2323 246h7M2445 630h7M2471 803h7M2215 547h7M2398 690h7M2398 372h7M2395 559h7M2329 396h7M2427 617h7M2378 566h7M2352 455h7M2420 630h7M2557 484h7M2445 763h7M2483 453h7M2441 311h7M2196 399h7M2331 322h7M2502 440h7M2410 510h7M2381 345h7M2591 237h7M2398 593h7M2381 487h7M2432 532h7M2368 644h7M2451 701h7M2410 236h7M2240 433h7M2446 283h7M2346 667h7M2434 406h7M2391 516h7M2360 459h7M2339 530h7M2556 695h7M2280 810h7M2390 314h7M2256 520h7M2424 416h7M2323 472h7M2427 591h7M2344 536h7M2438 607h7M2256 710h7M2285 474h7M2356 438h7M2326 610h7M2478 548h7M2278 417h7M2396 554h7M2348 465h7M2657 509h7M2328 718h7M2484 342h7M2478 524h7M2324 607h7M2342 461h7M2404 529h7M2359 540h7M2402 527h7M2440 416h7M2269 491h7M2522 545h7M2424 402h7M2291 335h7M2313 451h7M2252 485h7M2249 588h7M2399 266h7M2349 532h7M2439 604h7M2368 481h7M2379 573h7M2335 479h7M2416 455h7M2297 682h7M2450 379h7M2592 399h7M2317 452h7M2454 700h7M2535 575h7M2408 589h7M2326 407h7M2453 528h7M2425 365h7M2426 309h7M2492 502h7M2339 438h7M2334 683h7M2404 535h7M2309 326h7M2425 442h7M2451 642h7M2391 572h7M2419 532h7M2352 533h7M2444 511h7M2358 307h7M2299 710h7M2500 540h7M2430 481h7M2468 629h7M2378 542h7M2494 290h7M2311 425h7"/>
<ellipse cx="245.5" cy="54.3" rx="6.3" ry="7" fill="#000" fill-opacity="0.97" filter="url(#b10)" transform="rotate(0 245.5 54.3)"/>
<ellipse cx="239" cy="59" rx="3" ry="3" fill="#000" fill-opacity="0.5" filter="url(#b15)" transform="rotate(0 239 59)"/>
<rect x="224.2" y="21.7" width="19.6" height="23.9" fill="none" stroke="#6a6a6a" stroke-width="0.75"/>
<rect x="243.8" y="46.5" width="13.5" height="16" fill="none" stroke="#6a6a6a" stroke-width="0.75"/>
<text x="248.6" y="30.4" font-size="8.2" text-anchor="start" font-weight="normal" fill="#222" transform="translate(0 -2.736) scale(1 1.09)" stroke="#222" stroke-width="0.18">1.96%</text>
<text x="253.5" y="74.1" font-size="8.2" text-anchor="start" font-weight="normal" fill="#222" transform="translate(0 -6.669) scale(1 1.09)" stroke="#222" stroke-width="0.18">72.2%</text>
<text x="239.6" y="15.2" font-size="9.3" text-anchor="start" font-weight="normal" fill="#222" transform="translate(0 -1.368) scale(1 1.09)" stroke="#222" stroke-width="0.18">CD4<tspan font-size="4.5" dy="-3">+</tspan></text>
<text x="207.2" y="56.1" font-size="8" text-anchor="middle" font-weight="normal" fill="#222" transform="translate(-18.648 0) scale(1.09 1) rotate(-90 207.2 56.1)" stroke="#222" stroke-width="0.18">CD25</text>
<text x="247.3" y="102.3" font-size="8" text-anchor="middle" font-weight="normal" fill="#222" transform="translate(0 -9.207) scale(1 1.09)" stroke="#222" stroke-width="0.18">CD127</text>
<rect x="305.4" y="20.9" width="78.0" height="70.5" fill="none" stroke="#aaa" stroke-width="0.7"/>
<line x1="305.4" y1="44.4" x2="383.4" y2="44.4" stroke="#999" stroke-width="0.7"/>
<line x1="305.4" y1="67.9" x2="383.4" y2="67.9" stroke="#999" stroke-width="0.7"/>
<line x1="305.4" y1="20.9" x2="305.4" y2="91.4" stroke="#444" stroke-width="0.9"/>
<line x1="305.4" y1="91.4" x2="383.4" y2="91.4" stroke="#666" stroke-width="0.8"/>
<line x1="308.4" y1="91.4" x2="308.4" y2="92.5" stroke="#555" stroke-width="0.6"/>
<line x1="315.9" y1="91.4" x2="315.9" y2="92.5" stroke="#555" stroke-width="0.6"/>
<line x1="323.4" y1="91.4" x2="323.4" y2="92.5" stroke="#555" stroke-width="0.6"/>
<line x1="330.9" y1="91.4" x2="330.9" y2="92.5" stroke="#555" stroke-width="0.6"/>
<line x1="338.4" y1="91.4" x2="338.4" y2="92.5" stroke="#555" stroke-width="0.6"/>
<line x1="345.9" y1="91.4" x2="345.9" y2="92.5" stroke="#555" stroke-width="0.6"/>
<line x1="353.4" y1="91.4" x2="353.4" y2="92.5" stroke="#555" stroke-width="0.6"/>
<line x1="360.9" y1="91.4" x2="360.9" y2="92.5" stroke="#555" stroke-width="0.6"/>
<line x1="368.4" y1="91.4" x2="368.4" y2="92.5" stroke="#555" stroke-width="0.6"/>
<line x1="375.9" y1="91.4" x2="375.9" y2="92.5" stroke="#555" stroke-width="0.6"/>
<path d="M322.00 44.40L322.18 44.39L322.35 44.39L322.52 44.39L322.70 44.39L322.88 44.39L323.05 44.38L323.23 44.38L323.40 44.37L323.57 44.37L323.75 44.36L323.93 44.35L324.10 44.34L324.27 44.33L324.45 44.31L324.62 44.29L324.80 44.27L324.98 44.25L325.15 44.22L325.32 44.18L325.50 44.14L325.68 44.10L325.85 44.05L326.02 43.99L326.20 43.92L326.38 43.84L326.55 43.76L326.73 43.66L326.90 43.56L327.07 43.44L327.25 43.31L327.43 43.17L327.60 43.02L327.77 42.85L327.95 42.67L328.12 42.47L328.30 42.25L328.48 42.02L328.65 41.76L328.82 41.47L329.00 41.15L329.18 40.79L329.35 40.38L329.52 39.91L329.70 39.35L329.88 38.70L330.05 37.95L330.23 37.07L330.40 36.06L330.57 34.93L330.75 33.66L330.93 32.29L331.10 30.84L331.27 29.35L331.45 27.87L331.62 26.47L331.80 25.21L331.98 24.15L332.15 23.35L332.32 22.86L332.50 22.70L332.68 22.89L332.85 23.42L333.02 24.25L333.20 25.33L333.38 26.62L333.55 28.05L333.73 29.55L333.90 31.06L334.07 32.53L334.25 33.92L334.43 35.20L334.60 36.35L334.77 37.36L334.95 38.24L335.12 39.00L335.30 39.65L335.48 40.20L335.65 40.67L335.82 41.08L336.00 41.43L336.18 41.74L336.35 42.01L336.52 42.26L336.70 42.48L336.88 42.68L337.05 42.87L337.23 43.04L337.40 43.19L337.57 43.33L337.75 43.46L337.93 43.57L338.10 43.68L338.27 43.77L338.45 43.86L338.62 43.93L338.80 44.00L338.98 44.05L339.15 44.11L339.32 44.15L339.50 44.19L339.68 44.22L339.85 44.25L340.02 44.28L340.20 44.30L340.38 44.31L340.55 44.33L340.73 44.34L340.90 44.35L341.07 44.36L341.25 44.37L341.43 44.37L341.60 44.38L341.77 44.38L341.95 44.39L342.12 44.39L342.30 44.39L342.48 44.39L342.65 44.40L342.82 44.40L343.00 44.40Z" fill="#fff"/>
<path d="M322.00 44.40L322.18 44.39L322.35 44.39L322.52 44.39L322.70 44.39L322.88 44.39L323.05 44.38L323.23 44.38L323.40 44.37L323.57 44.37L323.75 44.36L323.93 44.35L324.10 44.34L324.27 44.33L324.45 44.31L324.62 44.29L324.80 44.27L324.98 44.25L325.15 44.22L325.32 44.18L325.50 44.14L325.68 44.10L325.85 44.05L326.02 43.99L326.20 43.92L326.38 43.84L326.55 43.76L326.73 43.66L326.90 43.56L327.07 43.44L327.25 43.31L327.43 43.17L327.60 43.02L327.77 42.85L327.95 42.67L328.12 42.47L328.30 42.25L328.48 42.02L328.65 41.76L328.82 41.47L329.00 41.15L329.18 40.79L329.35 40.38L329.52 39.91L329.70 39.35L329.88 38.70L330.05 37.95L330.23 37.07L330.40 36.06L330.57 34.93L330.75 33.66L330.93 32.29L331.10 30.84L331.27 29.35L331.45 27.87L331.62 26.47L331.80 25.21L331.98 24.15L332.15 23.35L332.32 22.86L332.50 22.70L332.68 22.89L332.85 23.42L333.02 24.25L333.20 25.33L333.38 26.62L333.55 28.05L333.73 29.55L333.90 31.06L334.07 32.53L334.25 33.92L334.43 35.20L334.60 36.35L334.77 37.36L334.95 38.24L335.12 39.00L335.30 39.65L335.48 40.20L335.65 40.67L335.82 41.08L336.00 41.43L336.18 41.74L336.35 42.01L336.52 42.26L336.70 42.48L336.88 42.68L337.05 42.87L337.23 43.04L337.40 43.19L337.57 43.33L337.75 43.46L337.93 43.57L338.10 43.68L338.27 43.77L338.45 43.86L338.62 43.93L338.80 44.00L338.98 44.05L339.15 44.11L339.32 44.15L339.50 44.19L339.68 44.22L339.85 44.25L340.02 44.28L340.20 44.30L340.38 44.31L340.55 44.33L340.73 44.34L340.90 44.35L341.07 44.36L341.25 44.37L341.43 44.37L341.60 44.38L341.77 44.38L341.95 44.39L342.12 44.39L342.30 44.39L342.48 44.39L342.65 44.40L342.82 44.40L343.00 44.40" fill="none" stroke="#1a1a1a" stroke-width="0.7"/>
<path d="M320.00 67.90L320.18 67.90L320.37 67.90L320.55 67.89L320.73 67.89L320.92 67.89L321.10 67.89L321.28 67.89L321.47 67.88L321.65 67.88L321.83 67.87L322.02 67.87L322.20 67.86L322.38 67.85L322.57 67.84L322.75 67.82L322.93 67.80L323.12 67.78L323.30 67.76L323.48 67.73L323.67 67.70L323.85 67.66L324.03 67.61L324.22 67.56L324.40 67.50L324.58 67.43L324.77 67.35L324.95 67.27L325.13 67.17L325.32 67.05L325.50 66.93L325.68 66.79L325.87 66.64L326.05 66.47L326.23 66.28L326.42 66.08L326.60 65.87L326.78 65.64L326.97 65.39L327.15 65.12L327.33 64.83L327.52 64.53L327.70 64.21L327.88 63.86L328.07 63.49L328.25 63.10L328.43 62.66L328.62 62.18L328.80 61.65L328.98 61.06L329.17 60.39L329.35 59.63L329.53 58.78L329.72 57.83L329.90 56.78L330.08 55.63L330.27 54.39L330.45 53.10L330.63 51.78L330.82 50.47L331.00 49.23L331.18 48.11L331.37 47.17L331.55 46.45L331.73 45.99L331.92 45.83L332.10 45.97L332.28 46.42L332.47 47.16L332.65 48.16L332.83 49.36L333.02 50.71L333.20 52.16L333.38 53.66L333.57 55.15L333.75 56.58L333.93 57.93L334.12 59.18L334.30 60.30L334.48 61.29L334.67 62.16L334.85 62.92L335.03 63.57L335.22 64.12L335.40 64.60L335.58 65.01L335.77 65.36L335.95 65.67L336.13 65.94L336.32 66.18L336.50 66.39L336.68 66.57L336.87 66.74L337.05 66.88L337.23 67.02L337.42 67.13L337.60 67.24L337.78 67.33L337.97 67.41L338.15 67.48L338.33 67.55L338.52 67.60L338.70 67.65L338.88 67.69L339.07 67.72L339.25 67.75L339.43 67.78L339.62 67.80L339.80 67.82L339.98 67.83L340.17 67.84L340.35 67.86L340.53 67.86L340.72 67.87L340.90 67.88L341.08 67.88L341.27 67.89L341.45 67.89L341.63 67.89L341.82 67.89L342.00 67.89Z" fill="#8a8a8a"/>
<path d="M320.00 67.90L320.18 67.90L320.37 67.90L320.55 67.89L320.73 67.89L320.92 67.89L321.10 67.89L321.28 67.89L321.47 67.88L321.65 67.88L321.83 67.87L322.02 67.87L322.20 67.86L322.38 67.85L322.57 67.84L322.75 67.82L322.93 67.80L323.12 67.78L323.30 67.76L323.48 67.73L323.67 67.70L323.85 67.66L324.03 67.61L324.22 67.56L324.40 67.50L324.58 67.43L324.77 67.35L324.95 67.27L325.13 67.17L325.32 67.05L325.50 66.93L325.68 66.79L325.87 66.64L326.05 66.47L326.23 66.28L326.42 66.08L326.60 65.87L326.78 65.64L326.97 65.39L327.15 65.12L327.33 64.83L327.52 64.53L327.70 64.21L327.88 63.86L328.07 63.49L328.25 63.10L328.43 62.66L328.62 62.18L328.80 61.65L328.98 61.06L329.17 60.39L329.35 59.63L329.53 58.78L329.72 57.83L329.90 56.78L330.08 55.63L330.27 54.39L330.45 53.10L330.63 51.78L330.82 50.47L331.00 49.23L331.18 48.11L331.37 47.17L331.55 46.45L331.73 45.99L331.92 45.83L332.10 45.97L332.28 46.42L332.47 47.16L332.65 48.16L332.83 49.36L333.02 50.71L333.20 52.16L333.38 53.66L333.57 55.15L333.75 56.58L333.93 57.93L334.12 59.18L334.30 60.30L334.48 61.29L334.67 62.16L334.85 62.92L335.03 63.57L335.22 64.12L335.40 64.60L335.58 65.01L335.77 65.36L335.95 65.67L336.13 65.94L336.32 66.18L336.50 66.39L336.68 66.57L336.87 66.74L337.05 66.88L337.23 67.02L337.42 67.13L337.60 67.24L337.78 67.33L337.97 67.41L338.15 67.48L338.33 67.55L338.52 67.60L338.70 67.65L338.88 67.69L339.07 67.72L339.25 67.75L339.43 67.78L339.62 67.80L339.80 67.82L339.98 67.83L340.17 67.84L340.35 67.86L340.53 67.86L340.72 67.87L340.90 67.88L341.08 67.88L341.27 67.89L341.45 67.89L341.63 67.89L341.82 67.89L342.00 67.89" fill="none" stroke="#1a1a1a" stroke-width="0.7"/>
<path d="M327.00 91.39L327.20 91.38L327.40 91.38L327.60 91.37L327.80 91.37L328.00 91.36L328.20 91.35L328.40 91.34L328.60 91.33L328.80 91.32L329.00 91.30L329.20 91.29L329.40 91.26L329.60 91.24L329.80 91.21L330.00 91.18L330.20 91.14L330.40 91.10L330.60 91.05L330.80 91.00L331.00 90.94L331.20 90.88L331.40 90.80L331.60 90.72L331.80 90.63L332.00 90.53L332.20 90.43L332.40 90.31L332.60 90.18L332.80 90.05L333.00 89.90L333.20 89.74L333.40 89.57L333.60 89.38L333.80 89.18L334.00 88.97L334.20 88.74L334.40 88.48L334.60 88.21L334.80 87.91L335.00 87.59L335.20 87.24L335.40 86.85L335.60 86.43L335.80 85.96L336.00 85.46L336.20 84.91L336.40 84.32L336.60 83.69L336.80 83.03L337.00 82.33L337.20 81.60L337.40 80.86L337.60 80.12L337.80 79.39L338.00 78.68L338.20 78.02L338.40 77.43L338.60 76.91L338.80 76.49L339.00 76.17L339.20 75.98L339.40 75.92L339.60 75.99L339.80 76.19L340.00 76.53L340.20 76.99L340.40 77.56L340.60 78.23L340.80 78.98L341.00 79.79L341.20 80.65L341.40 81.53L341.60 82.42L341.80 83.30L342.00 84.16L342.20 84.97L342.40 85.74L342.60 86.46L342.80 87.11L343.00 87.71L343.20 88.24L343.40 88.71L343.60 89.12L343.80 89.48L344.00 89.78L344.20 90.05L344.40 90.27L344.60 90.46L344.80 90.62L345.00 90.75L345.20 90.86L345.40 90.95L345.60 91.03L345.80 91.09L346.00 91.14L346.20 91.19L346.40 91.22L346.60 91.25L346.80 91.28L347.00 91.30L347.20 91.32L347.40 91.33L347.60 91.34L347.80 91.35L348.00 91.36L348.20 91.37L348.40 91.37L348.60 91.38L348.80 91.38L349.00 91.39L349.20 91.39L349.40 91.39L349.60 91.39L349.80 91.39L350.00 91.40L350.20 91.40L350.40 91.40L350.60 91.40L350.80 91.40L351.00 91.40Z" fill="#000"/>
<path d="M327.00 91.39L327.20 91.38L327.40 91.38L327.60 91.37L327.80 91.37L328.00 91.36L328.20 91.35L328.40 91.34L328.60 91.33L328.80 91.32L329.00 91.30L329.20 91.29L329.40 91.26L329.60 91.24L329.80 91.21L330.00 91.18L330.20 91.14L330.40 91.10L330.60 91.05L330.80 91.00L331.00 90.94L331.20 90.88L331.40 90.80L331.60 90.72L331.80 90.63L332.00 90.53L332.20 90.43L332.40 90.31L332.60 90.18L332.80 90.05L333.00 89.90L333.20 89.74L333.40 89.57L333.60 89.38L333.80 89.18L334.00 88.97L334.20 88.74L334.40 88.48L334.60 88.21L334.80 87.91L335.00 87.59L335.20 87.24L335.40 86.85L335.60 86.43L335.80 85.96L336.00 85.46L336.20 84.91L336.40 84.32L336.60 83.69L336.80 83.03L337.00 82.33L337.20 81.60L337.40 80.86L337.60 80.12L337.80 79.39L338.00 78.68L338.20 78.02L338.40 77.43L338.60 76.91L338.80 76.49L339.00 76.17L339.20 75.98L339.40 75.92L339.60 75.99L339.80 76.19L340.00 76.53L340.20 76.99L340.40 77.56L340.60 78.23L340.80 78.98L341.00 79.79L341.20 80.65L341.40 81.53L341.60 82.42L341.80 83.30L342.00 84.16L342.20 84.97L342.40 85.74L342.60 86.46L342.80 87.11L343.00 87.71L343.20 88.24L343.40 88.71L343.60 89.12L343.80 89.48L344.00 89.78L344.20 90.05L344.40 90.27L344.60 90.46L344.80 90.62L345.00 90.75L345.20 90.86L345.40 90.95L345.60 91.03L345.80 91.09L346.00 91.14L346.20 91.19L346.40 91.22L346.60 91.25L346.80 91.28L347.00 91.30L347.20 91.32L347.40 91.33L347.60 91.34L347.80 91.35L348.00 91.36L348.20 91.37L348.40 91.37L348.60 91.38L348.80 91.38L349.00 91.39L349.20 91.39L349.40 91.39L349.60 91.39L349.80 91.39L350.00 91.40L350.20 91.40L350.40 91.40L350.60 91.40L350.80 91.40L351.00 91.40" fill="none" stroke="#1a1a1a" stroke-width="0.5"/>
<text x="299.8" y="57.2" font-size="7.6" text-anchor="middle" font-weight="normal" fill="#222" transform="translate(-26.982 0) scale(1.09 1) rotate(-90 299.8 57.2)" stroke="#222" stroke-width="0.18">Events (%)</text>
<text x="344.7" y="103.3" font-size="8" text-anchor="middle" font-weight="normal" fill="#222" transform="translate(0 -9.297) scale(1 1.09)" stroke="#222" stroke-width="0.18">FoxP3</text>
<text x="388.8" y="35.4" font-size="8.2" text-anchor="start" font-weight="normal" fill="#222" transform="translate(0 -3.186) scale(1 1.09)" stroke="#222" stroke-width="0.18">CD8<tspan font-size="4.5" dy="-3">+</tspan></text>
<text x="388.8" y="52.8" font-size="8.2" text-anchor="start" font-weight="normal" fill="#222" transform="translate(0 -4.752) scale(1 1.09)" stroke="#222" stroke-width="0.18">CD4<tspan font-size="4.5" dy="-3">+</tspan></text>
<text x="388.8" y="64.6" font-size="8.2" text-anchor="start" font-weight="normal" fill="#222" transform="translate(0 -5.814) scale(1 1.09)" stroke="#222" stroke-width="0.18">CD25<tspan font-size="4.5" dy="-3">−</tspan><tspan dy="3">CD127</tspan><tspan font-size="4.5" dy="-3">high</tspan></text>
<text x="388.8" y="77.2" font-size="8.2" text-anchor="start" font-weight="normal" fill="#222" transform="translate(0 -6.948) scale(1 1.09)" stroke="#222" stroke-width="0.18">CD4<tspan font-size="4.5" dy="-3">+</tspan></text>
<text x="388.8" y="88.8" font-size="8.2" text-anchor="start" font-weight="normal" fill="#222" transform="translate(0 -7.992) scale(1 1.09)" stroke="#222" stroke-width="0.18">CD25<tspan font-size="4.5" dy="-3">+</tspan><tspan dy="3">CD127</tspan><tspan font-size="4.5" dy="-3">low</tspan></text>
<text x="7.8" y="129.2" font-size="10.8" text-anchor="start" font-weight="bold" fill="#000" transform="translate(0 -11.628) scale(1 1.09)" stroke="#000" stroke-width="0.4">B</text>
<rect x="41.55" y="181.24" width="6.5" height="45.16" fill="#f1c3bb" stroke="none" stroke-width="1"/>
<rect x="53.25" y="192.95" width="6.5" height="33.45" fill="#f1c3bb" stroke="none" stroke-width="1"/>
<rect x="72.05" y="179.12" width="6.5" height="47.28" fill="#f1c3bb" stroke="none" stroke-width="1"/>
<rect x="83.55" y="189.6" width="6.5" height="36.8" fill="#f1c3bb" stroke="none" stroke-width="1"/>
<rect x="102.75" y="183.25" width="6.5" height="43.15" fill="#f1c3bb" stroke="none" stroke-width="1"/>
<rect x="114.25" y="199.08" width="6.5" height="27.32" fill="#f1c3bb" stroke="none" stroke-width="1"/>
<rect x="133.35" y="183.25" width="6.5" height="43.15" fill="#f1c3bb" stroke="none" stroke-width="1"/>
<rect x="144.45" y="187.38" width="6.5" height="39.03" fill="#f1c3bb" stroke="none" stroke-width="1"/>
<line x1="44.8" y1="173.1" x2="44.8" y2="186.82" stroke="#c8102e" stroke-width="0.9"/>
<line x1="43.0" y1="173.1" x2="46.6" y2="173.1" stroke="#c8102e" stroke-width="0.9"/>
<line x1="43.0" y1="186.82" x2="46.6" y2="186.82" stroke="#c8102e" stroke-width="0.9"/>
<line x1="43.0" y1="181.24" x2="46.6" y2="181.24" stroke="#c8102e" stroke-width="0.9"/>
<line x1="56.5" y1="188.49" x2="56.5" y2="197.41" stroke="#c8102e" stroke-width="0.9"/>
<line x1="54.7" y1="188.49" x2="58.3" y2="188.49" stroke="#c8102e" stroke-width="0.9"/>
<line x1="54.7" y1="197.41" x2="58.3" y2="197.41" stroke="#c8102e" stroke-width="0.9"/>
<line x1="54.7" y1="192.95" x2="58.3" y2="192.95" stroke="#c8102e" stroke-width="0.9"/>
<line x1="75.3" y1="171.54" x2="75.3" y2="186.26" stroke="#c8102e" stroke-width="0.9"/>
<line x1="73.5" y1="171.54" x2="77.1" y2="171.54" stroke="#c8102e" stroke-width="0.9"/>
<line x1="73.5" y1="186.26" x2="77.1" y2="186.26" stroke="#c8102e" stroke-width="0.9"/>
<line x1="73.5" y1="179.12" x2="77.1" y2="179.12" stroke="#c8102e" stroke-width="0.9"/>
<line x1="86.8" y1="185.14" x2="86.8" y2="194.06" stroke="#c8102e" stroke-width="0.9"/>
<line x1="85.0" y1="185.14" x2="88.6" y2="185.14" stroke="#c8102e" stroke-width="0.9"/>
<line x1="85.0" y1="194.06" x2="88.6" y2="194.06" stroke="#c8102e" stroke-width="0.9"/>
<line x1="85.0" y1="189.6" x2="88.6" y2="189.6" stroke="#c8102e" stroke-width="0.9"/>
<line x1="106" y1="175.11" x2="106" y2="191.28" stroke="#c8102e" stroke-width="0.9"/>
<line x1="104.2" y1="175.11" x2="107.8" y2="175.11" stroke="#c8102e" stroke-width="0.9"/>
<line x1="104.2" y1="191.28" x2="107.8" y2="191.28" stroke="#c8102e" stroke-width="0.9"/>
<line x1="104.2" y1="183.25" x2="107.8" y2="183.25" stroke="#c8102e" stroke-width="0.9"/>
<line x1="117.5" y1="193.17" x2="117.5" y2="202.54" stroke="#c8102e" stroke-width="0.9"/>
<line x1="115.7" y1="193.17" x2="119.3" y2="193.17" stroke="#c8102e" stroke-width="0.9"/>
<line x1="115.7" y1="202.54" x2="119.3" y2="202.54" stroke="#c8102e" stroke-width="0.9"/>
<line x1="115.7" y1="199.08" x2="119.3" y2="199.08" stroke="#c8102e" stroke-width="0.9"/>
<line x1="136.6" y1="174.0" x2="136.6" y2="191.84" stroke="#c8102e" stroke-width="0.9"/>
<line x1="134.8" y1="174.0" x2="138.4" y2="174.0" stroke="#c8102e" stroke-width="0.9"/>
<line x1="134.8" y1="191.84" x2="138.4" y2="191.84" stroke="#c8102e" stroke-width="0.9"/>
<line x1="134.8" y1="183.25" x2="138.4" y2="183.25" stroke="#c8102e" stroke-width="0.9"/>
<line x1="147.7" y1="181.13" x2="147.7" y2="193.17" stroke="#c8102e" stroke-width="0.9"/>
<line x1="145.9" y1="181.13" x2="149.5" y2="181.13" stroke="#c8102e" stroke-width="0.9"/>
<line x1="145.9" y1="193.17" x2="149.5" y2="193.17" stroke="#c8102e" stroke-width="0.9"/>
<line x1="145.9" y1="187.38" x2="149.5" y2="187.38" stroke="#c8102e" stroke-width="0.9"/>
<circle cx="41.9" cy="147.9" r="1.3" fill="none" stroke="#a3122d" stroke-width="1.0"/>
<circle cx="44.6" cy="146.7" r="1.3" fill="none" stroke="#a3122d" stroke-width="1.0"/>
<circle cx="44.9" cy="149.7" r="1.3" fill="none" stroke="#a3122d" stroke-width="1.0"/>
<circle cx="47.3" cy="149.7" r="1.3" fill="none" stroke="#a3122d" stroke-width="1.0"/>
<circle cx="41.9" cy="160.7" r="1.3" fill="none" stroke="#a3122d" stroke-width="1.0"/>
<circle cx="44.6" cy="162.1" r="1.3" fill="none" stroke="#a3122d" stroke-width="1.0"/>
<circle cx="43.2" cy="168.6" r="1.3" fill="none" stroke="#a3122d" stroke-width="1.0"/>
<circle cx="45.9" cy="168.4" r="1.3" fill="none" stroke="#a3122d" stroke-width="1.0"/>
<circle cx="44.6" cy="196.7" r="1.3" fill="none" stroke="#a3122d" stroke-width="1.0"/>
<circle cx="44.9" cy="199.2" r="1.3" fill="none" stroke="#a3122d" stroke-width="1.0"/>
<circle cx="41.7" cy="204.3" r="1.3" fill="none" stroke="#a3122d" stroke-width="1.0"/>
<circle cx="44.2" cy="205.6" r="1.3" fill="none" stroke="#a3122d" stroke-width="1.0"/>
<circle cx="45.1" cy="208.7" r="1.3" fill="none" stroke="#a3122d" stroke-width="1.0"/>
<circle cx="43.3" cy="211.3" r="1.3" fill="none" stroke="#a3122d" stroke-width="1.0"/>
<circle cx="46.1" cy="213.2" r="1.3" fill="none" stroke="#a3122d" stroke-width="1.0"/>
<circle cx="43.8" cy="214.7" r="1.3" fill="none" stroke="#a3122d" stroke-width="1.0"/>
<circle cx="56.3" cy="144" r="1.6" fill="#c8102e" stroke="#9a0e26" stroke-width="0.35"/>
<circle cx="56.3" cy="172" r="1.6" fill="#c8102e" stroke="#9a0e26" stroke-width="0.35"/>
<circle cx="52.6" cy="177.1" r="1.6" fill="#c8102e" stroke="#9a0e26" stroke-width="0.35"/>
<circle cx="56.3" cy="177.1" r="1.6" fill="#c8102e" stroke="#9a0e26" stroke-width="0.35"/>
<circle cx="60" cy="177.1" r="1.6" fill="#c8102e" stroke="#9a0e26" stroke-width="0.35"/>
<circle cx="56.3" cy="181.5" r="1.6" fill="#c8102e" stroke="#9a0e26" stroke-width="0.35"/>
<circle cx="56.3" cy="186.6" r="1.6" fill="#c8102e" stroke="#9a0e26" stroke-width="0.35"/>
<circle cx="53" cy="190.4" r="1.6" fill="#c8102e" stroke="#9a0e26" stroke-width="0.35"/>
<circle cx="58.5" cy="191.6" r="1.6" fill="#c8102e" stroke="#9a0e26" stroke-width="0.35"/>
<circle cx="53" cy="194.8" r="1.6" fill="#c8102e" stroke="#9a0e26" stroke-width="0.35"/>
<circle cx="57.5" cy="194.8" r="1.6" fill="#c8102e" stroke="#9a0e26" stroke-width="0.35"/>
<circle cx="59.5" cy="196" r="1.6" fill="#c8102e" stroke="#9a0e26" stroke-width="0.35"/>
<circle cx="56.3" cy="198" r="1.6" fill="#c8102e" stroke="#9a0e26" stroke-width="0.35"/>
<circle cx="56.3" cy="200.5" r="1.6" fill="#c8102e" stroke="#9a0e26" stroke-width="0.35"/>
<circle cx="53" cy="210.6" r="1.6" fill="#c8102e" stroke="#9a0e26" stroke-width="0.35"/>
<circle cx="57" cy="209.4" r="1.6" fill="#c8102e" stroke="#9a0e26" stroke-width="0.35"/>
<circle cx="59.5" cy="211.9" r="1.6" fill="#c8102e" stroke="#9a0e26" stroke-width="0.35"/>
<circle cx="57.5" cy="215.7" r="1.6" fill="#c8102e" stroke="#9a0e26" stroke-width="0.35"/>
<circle cx="59.5" cy="218.9" r="1.6" fill="#c8102e" stroke="#9a0e26" stroke-width="0.35"/>
<circle cx="58" cy="220.8" r="1.6" fill="#c8102e" stroke="#9a0e26" stroke-width="0.35"/>
<circle cx="53.5" cy="223.3" r="1.6" fill="#c8102e" stroke="#9a0e26" stroke-width="0.35"/>
<circle cx="72.8" cy="144.5" r="1.3" fill="none" stroke="#a3122d" stroke-width="1.0"/>
<circle cx="77.9" cy="143" r="1.3" fill="none" stroke="#a3122d" stroke-width="1.0"/>
<circle cx="72.8" cy="147.6" r="1.3" fill="none" stroke="#a3122d" stroke-width="1.0"/>
<circle cx="77.9" cy="150.4" r="1.3" fill="none" stroke="#a3122d" stroke-width="1.0"/>
<circle cx="75.2" cy="159.2" r="1.3" fill="none" stroke="#a3122d" stroke-width="1.0"/>
<circle cx="75.2" cy="167.1" r="1.3" fill="none" stroke="#a3122d" stroke-width="1.0"/>
<circle cx="75.2" cy="173.8" r="1.3" fill="none" stroke="#a3122d" stroke-width="1.0"/>
<circle cx="75.2" cy="179.3" r="1.3" fill="none" stroke="#a3122d" stroke-width="1.0"/>
<circle cx="75.2" cy="186.6" r="1.3" fill="none" stroke="#a3122d" stroke-width="1.0"/>
<circle cx="72.5" cy="201.3" r="1.3" fill="none" stroke="#a3122d" stroke-width="1.0"/>
<circle cx="78" cy="203.3" r="1.3" fill="none" stroke="#a3122d" stroke-width="1.0"/>
<circle cx="75.5" cy="210.1" r="1.3" fill="none" stroke="#a3122d" stroke-width="1.0"/>
<circle cx="72.8" cy="214.1" r="1.3" fill="none" stroke="#a3122d" stroke-width="1.0"/>
<circle cx="78" cy="212.8" r="1.3" fill="none" stroke="#a3122d" stroke-width="1.0"/>
<circle cx="86.8" cy="149.5" r="1.6" fill="#c8102e" stroke="#9a0e26" stroke-width="0.35"/>
<circle cx="86.8" cy="151.7" r="1.6" fill="#c8102e" stroke="#9a0e26" stroke-width="0.35"/>
<circle cx="86.8" cy="154" r="1.6" fill="#c8102e" stroke="#9a0e26" stroke-width="0.35"/>
<circle cx="87.5" cy="165.7" r="1.6" fill="#c8102e" stroke="#9a0e26" stroke-width="0.35"/>
<circle cx="86" cy="167.1" r="1.6" fill="#c8102e" stroke="#9a0e26" stroke-width="0.35"/>
<circle cx="86.8" cy="172.5" r="1.6" fill="#c8102e" stroke="#9a0e26" stroke-width="0.35"/>
<circle cx="87.5" cy="177.9" r="1.6" fill="#c8102e" stroke="#9a0e26" stroke-width="0.35"/>
<circle cx="86" cy="179.3" r="1.6" fill="#c8102e" stroke="#9a0e26" stroke-width="0.35"/>
<circle cx="85.5" cy="185.2" r="1.6" fill="#c8102e" stroke="#9a0e26" stroke-width="0.35"/>
<circle cx="88.5" cy="187.5" r="1.6" fill="#c8102e" stroke="#9a0e26" stroke-width="0.35"/>
<circle cx="86.8" cy="191.5" r="1.6" fill="#c8102e" stroke="#9a0e26" stroke-width="0.35"/>
<circle cx="86.8" cy="196" r="1.6" fill="#c8102e" stroke="#9a0e26" stroke-width="0.35"/>
<circle cx="86" cy="198.3" r="1.6" fill="#c8102e" stroke="#9a0e26" stroke-width="0.35"/>
<circle cx="86.8" cy="206.9" r="1.6" fill="#c8102e" stroke="#9a0e26" stroke-width="0.35"/>
<circle cx="85.5" cy="209.6" r="1.6" fill="#c8102e" stroke="#9a0e26" stroke-width="0.35"/>
<circle cx="88.5" cy="210.1" r="1.6" fill="#c8102e" stroke="#9a0e26" stroke-width="0.35"/>
<circle cx="86.5" cy="211.9" r="1.6" fill="#c8102e" stroke="#9a0e26" stroke-width="0.35"/>
<circle cx="88" cy="214.1" r="1.6" fill="#c8102e" stroke="#9a0e26" stroke-width="0.35"/>
<circle cx="85.5" cy="213.7" r="1.6" fill="#c8102e" stroke="#9a0e26" stroke-width="0.35"/>
<circle cx="86.8" cy="219.6" r="1.6" fill="#c8102e" stroke="#9a0e26" stroke-width="0.35"/>
<circle cx="106.1" cy="147.1" r="1.3" fill="none" stroke="#a3122d" stroke-width="1.0"/>
<circle cx="103.1" cy="155.2" r="1.3" fill="none" stroke="#a3122d" stroke-width="1.0"/>
<circle cx="108.6" cy="157.3" r="1.3" fill="none" stroke="#a3122d" stroke-width="1.0"/>
<circle cx="106.1" cy="172.1" r="1.3" fill="none" stroke="#a3122d" stroke-width="1.0"/>
<circle cx="106.1" cy="175.5" r="1.3" fill="none" stroke="#a3122d" stroke-width="1.0"/>
<circle cx="106.1" cy="183.9" r="1.3" fill="none" stroke="#a3122d" stroke-width="1.0"/>
<circle cx="103" cy="186.4" r="1.3" fill="none" stroke="#a3122d" stroke-width="1.0"/>
<circle cx="108.5" cy="186.4" r="1.3" fill="none" stroke="#a3122d" stroke-width="1.0"/>
<circle cx="106" cy="189" r="1.3" fill="none" stroke="#a3122d" stroke-width="1.0"/>
<circle cx="106.1" cy="203.3" r="1.3" fill="none" stroke="#a3122d" stroke-width="1.0"/>
<circle cx="106.1" cy="210.9" r="1.3" fill="none" stroke="#a3122d" stroke-width="1.0"/>
<circle cx="106.1" cy="213.9" r="1.3" fill="none" stroke="#a3122d" stroke-width="1.0"/>
<circle cx="117.5" cy="173" r="1.6" fill="#c8102e" stroke="#9a0e26" stroke-width="0.35"/>
<circle cx="117.5" cy="177.2" r="1.6" fill="#c8102e" stroke="#9a0e26" stroke-width="0.35"/>
<circle cx="119" cy="179.7" r="1.6" fill="#c8102e" stroke="#9a0e26" stroke-width="0.35"/>
<circle cx="114" cy="189" r="1.6" fill="#c8102e" stroke="#9a0e26" stroke-width="0.35"/>
<circle cx="117" cy="187.3" r="1.6" fill="#c8102e" stroke="#9a0e26" stroke-width="0.35"/>
<circle cx="120" cy="185.6" r="1.6" fill="#c8102e" stroke="#9a0e26" stroke-width="0.35"/>
<circle cx="117.5" cy="193.2" r="1.6" fill="#c8102e" stroke="#9a0e26" stroke-width="0.35"/>
<circle cx="115" cy="206.7" r="1.6" fill="#c8102e" stroke="#9a0e26" stroke-width="0.35"/>
<circle cx="118" cy="206.7" r="1.6" fill="#c8102e" stroke="#9a0e26" stroke-width="0.35"/>
<circle cx="120.5" cy="208" r="1.6" fill="#c8102e" stroke="#9a0e26" stroke-width="0.35"/>
<circle cx="117" cy="210" r="1.6" fill="#c8102e" stroke="#9a0e26" stroke-width="0.35"/>
<circle cx="115" cy="212" r="1.6" fill="#c8102e" stroke="#9a0e26" stroke-width="0.35"/>
<circle cx="119" cy="213" r="1.6" fill="#c8102e" stroke="#9a0e26" stroke-width="0.35"/>
<circle cx="117.5" cy="213.4" r="1.6" fill="#c8102e" stroke="#9a0e26" stroke-width="0.35"/>
<circle cx="117" cy="217.6" r="1.6" fill="#c8102e" stroke="#9a0e26" stroke-width="0.35"/>
<circle cx="120" cy="218" r="1.6" fill="#c8102e" stroke="#9a0e26" stroke-width="0.35"/>
<circle cx="136.6" cy="153.2" r="1.3" fill="none" stroke="#a3122d" stroke-width="1.0"/>
<circle cx="136.6" cy="165.7" r="1.3" fill="none" stroke="#a3122d" stroke-width="1.0"/>
<circle cx="134" cy="173" r="1.3" fill="none" stroke="#a3122d" stroke-width="1.0"/>
<circle cx="137" cy="173" r="1.3" fill="none" stroke="#a3122d" stroke-width="1.0"/>
<circle cx="140" cy="172" r="1.3" fill="none" stroke="#a3122d" stroke-width="1.0"/>
<circle cx="136.6" cy="175.5" r="1.3" fill="none" stroke="#a3122d" stroke-width="1.0"/>
<circle cx="136.6" cy="179.7" r="1.3" fill="none" stroke="#a3122d" stroke-width="1.0"/>
<circle cx="136.6" cy="187.3" r="1.3" fill="none" stroke="#a3122d" stroke-width="1.0"/>
<circle cx="136.6" cy="191.5" r="1.3" fill="none" stroke="#a3122d" stroke-width="1.0"/>
<circle cx="136.6" cy="194.9" r="1.3" fill="none" stroke="#a3122d" stroke-width="1.0"/>
<circle cx="135" cy="211.7" r="1.3" fill="none" stroke="#a3122d" stroke-width="1.0"/>
<circle cx="137.5" cy="210" r="1.3" fill="none" stroke="#a3122d" stroke-width="1.0"/>
<circle cx="147.7" cy="156.1" r="1.6" fill="#c8102e" stroke="#9a0e26" stroke-width="0.35"/>
<circle cx="147.7" cy="160.3" r="1.6" fill="#c8102e" stroke="#9a0e26" stroke-width="0.35"/>
<circle cx="147.7" cy="175.1" r="1.6" fill="#c8102e" stroke="#9a0e26" stroke-width="0.35"/>
<circle cx="147.7" cy="185.6" r="1.6" fill="#c8102e" stroke="#9a0e26" stroke-width="0.35"/>
<circle cx="145" cy="187.5" r="1.6" fill="#c8102e" stroke="#9a0e26" stroke-width="0.35"/>
<circle cx="150.5" cy="187.5" r="1.6" fill="#c8102e" stroke="#9a0e26" stroke-width="0.35"/>
<circle cx="147.7" cy="189.8" r="1.6" fill="#c8102e" stroke="#9a0e26" stroke-width="0.35"/>
<circle cx="147.7" cy="202.5" r="1.6" fill="#c8102e" stroke="#9a0e26" stroke-width="0.35"/>
<circle cx="147.7" cy="209.2" r="1.6" fill="#c8102e" stroke="#9a0e26" stroke-width="0.35"/>
<circle cx="147.7" cy="221.3" r="1.6" fill="#c8102e" stroke="#9a0e26" stroke-width="0.35"/>
<line x1="37.0" y1="134.39999999999998" x2="37.0" y2="226.9" stroke="#262626" stroke-width="1.2"/>
<line x1="36.5" y1="226.4" x2="156.7" y2="226.4" stroke="#262626" stroke-width="1.1"/>
<line x1="34.4" y1="226.4" x2="37.0" y2="226.4" stroke="#262626" stroke-width="1"/>
<text x="30.7" y="229.3" font-size="8" text-anchor="end" font-weight="normal" fill="#2a2a2a" transform="translate(0 -20.637) scale(1 1.09)" stroke="#2a2a2a" stroke-width="0.18">0</text>
<line x1="34.4" y1="204.1" x2="37.0" y2="204.1" stroke="#262626" stroke-width="1"/>
<text x="30.7" y="207.0" font-size="8" text-anchor="end" font-weight="normal" fill="#2a2a2a" transform="translate(0 -18.630) scale(1 1.09)" stroke="#2a2a2a" stroke-width="0.18">20</text>
<line x1="34.4" y1="181.8" x2="37.0" y2="181.8" stroke="#262626" stroke-width="1"/>
<text x="30.7" y="184.7" font-size="8" text-anchor="end" font-weight="normal" fill="#2a2a2a" transform="translate(0 -16.623) scale(1 1.09)" stroke="#2a2a2a" stroke-width="0.18">40</text>
<line x1="34.4" y1="159.5" x2="37.0" y2="159.5" stroke="#262626" stroke-width="1"/>
<text x="30.7" y="162.4" font-size="8" text-anchor="end" font-weight="normal" fill="#2a2a2a" transform="translate(0 -14.616) scale(1 1.09)" stroke="#2a2a2a" stroke-width="0.18">60</text>
<line x1="34.4" y1="137.2" x2="37.0" y2="137.2" stroke="#262626" stroke-width="1"/>
<text x="30.7" y="140.1" font-size="8" text-anchor="end" font-weight="normal" fill="#2a2a2a" transform="translate(0 -12.609) scale(1 1.09)" stroke="#2a2a2a" stroke-width="0.18">80</text>
<line x1="50.6" y1="226.4" x2="50.6" y2="228.9" stroke="#262626" stroke-width="1"/>
<text x="50.6" y="239.6" font-size="8" text-anchor="middle" font-weight="normal" fill="#2a2a2a" transform="translate(0 -21.564) scale(1 1.09)" stroke="#2a2a2a" stroke-width="0.18">28</text>
<line x1="81.1" y1="226.4" x2="81.1" y2="228.9" stroke="#262626" stroke-width="1"/>
<text x="81.1" y="239.6" font-size="8" text-anchor="middle" font-weight="normal" fill="#2a2a2a" transform="translate(0 -21.564) scale(1 1.09)" stroke="#2a2a2a" stroke-width="0.18">100</text>
<line x1="111.7" y1="226.4" x2="111.7" y2="228.9" stroke="#262626" stroke-width="1"/>
<text x="111.7" y="239.6" font-size="8" text-anchor="middle" font-weight="normal" fill="#2a2a2a" transform="translate(0 -21.564) scale(1 1.09)" stroke="#2a2a2a" stroke-width="0.18">180</text>
<line x1="142.3" y1="226.4" x2="142.3" y2="228.9" stroke="#262626" stroke-width="1"/>
<text x="142.3" y="239.6" font-size="8" text-anchor="middle" font-weight="normal" fill="#2a2a2a" transform="translate(0 -21.564) scale(1 1.09)" stroke="#2a2a2a" stroke-width="0.18">365</text>
<text x="96.4" y="253.4" font-size="9.1" text-anchor="middle" font-weight="normal" fill="#111" transform="translate(0 -22.806) scale(1 1.09)" stroke="#111" stroke-width="0.22" textLength="68.5" lengthAdjust="spacingAndGlyphs">Time posttransplant (d)</text>
<text x="16.5" y="180.2" font-size="8.8" text-anchor="middle" font-weight="normal" fill="#111" transform="translate(-1.485 0) scale(1.09 1) rotate(-90 16.5 180.2)" stroke="#111" stroke-width="0.2" textLength="46" lengthAdjust="spacingAndGlyphs">CD4<tspan font-size="4.8" dy="-2.8">+</tspan><tspan dy="2.8"> (% CD3</tspan><tspan font-size="4.8" dy="-2.8">+</tspan><tspan dy="2.8">)</tspan></text>
<rect x="208.75" y="188.81" width="6.5" height="37.69" fill="#f1c3bb" stroke="none" stroke-width="1"/>
<rect x="220.65" y="190.82" width="6.5" height="35.68" fill="#f1c3bb" stroke="none" stroke-width="1"/>
<rect x="239.05" y="193.05" width="6.5" height="33.45" fill="#f1c3bb" stroke="none" stroke-width="1"/>
<rect x="251.15" y="172.98" width="6.5" height="53.52" fill="#f1c3bb" stroke="none" stroke-width="1"/>
<rect x="269.95" y="184.13" width="6.5" height="42.37" fill="#f1c3bb" stroke="none" stroke-width="1"/>
<rect x="281.75" y="178.56" width="6.5" height="47.94" fill="#f1c3bb" stroke="none" stroke-width="1"/>
<rect x="300.25" y="188.59" width="6.5" height="37.91" fill="#f1c3bb" stroke="none" stroke-width="1"/>
<rect x="312.55" y="178.56" width="6.5" height="47.94" fill="#f1c3bb" stroke="none" stroke-width="1"/>
<line x1="212" y1="161.83" x2="212" y2="208.1" stroke="#c8102e" stroke-width="0.9"/>
<line x1="210.2" y1="161.83" x2="213.8" y2="161.83" stroke="#c8102e" stroke-width="0.9"/>
<line x1="210.2" y1="208.1" x2="213.8" y2="208.1" stroke="#c8102e" stroke-width="0.9"/>
<line x1="210.2" y1="188.81" x2="213.8" y2="188.81" stroke="#c8102e" stroke-width="0.9"/>
<line x1="223.9" y1="161.83" x2="223.9" y2="190.82" stroke="#c8102e" stroke-width="0.9"/>
<line x1="222.1" y1="161.83" x2="225.7" y2="161.83" stroke="#c8102e" stroke-width="0.9"/>
<line x1="222.1" y1="190.82" x2="225.7" y2="190.82" stroke="#c8102e" stroke-width="0.9"/>
<line x1="222.1" y1="190.82" x2="225.7" y2="190.82" stroke="#c8102e" stroke-width="0.9"/>
<line x1="242.3" y1="171.87" x2="242.3" y2="209.78" stroke="#c8102e" stroke-width="0.9"/>
<line x1="240.5" y1="171.87" x2="244.1" y2="171.87" stroke="#c8102e" stroke-width="0.9"/>
<line x1="240.5" y1="209.78" x2="244.1" y2="209.78" stroke="#c8102e" stroke-width="0.9"/>
<line x1="240.5" y1="193.05" x2="244.1" y2="193.05" stroke="#c8102e" stroke-width="0.9"/>
<line x1="254.4" y1="148.45" x2="254.4" y2="193.05" stroke="#c8102e" stroke-width="0.9"/>
<line x1="252.6" y1="148.45" x2="256.2" y2="148.45" stroke="#c8102e" stroke-width="0.9"/>
<line x1="252.6" y1="193.05" x2="256.2" y2="193.05" stroke="#c8102e" stroke-width="0.9"/>
<line x1="252.6" y1="172.98" x2="256.2" y2="172.98" stroke="#c8102e" stroke-width="0.9"/>
<line x1="273.2" y1="154.58" x2="273.2" y2="205.31" stroke="#c8102e" stroke-width="0.9"/>
<line x1="271.4" y1="154.58" x2="275.0" y2="154.58" stroke="#c8102e" stroke-width="0.9"/>
<line x1="271.4" y1="205.31" x2="275.0" y2="205.31" stroke="#c8102e" stroke-width="0.9"/>
<line x1="271.4" y1="184.13" x2="275.0" y2="184.13" stroke="#c8102e" stroke-width="0.9"/>
<line x1="285" y1="157.48" x2="285" y2="198.29" stroke="#c8102e" stroke-width="0.9"/>
<line x1="283.2" y1="157.48" x2="286.8" y2="157.48" stroke="#c8102e" stroke-width="0.9"/>
<line x1="283.2" y1="198.29" x2="286.8" y2="198.29" stroke="#c8102e" stroke-width="0.9"/>
<line x1="283.2" y1="178.56" x2="286.8" y2="178.56" stroke="#c8102e" stroke-width="0.9"/>
<line x1="303.5" y1="176.33" x2="303.5" y2="200.19" stroke="#c8102e" stroke-width="0.9"/>
<line x1="301.7" y1="176.33" x2="305.3" y2="176.33" stroke="#c8102e" stroke-width="0.9"/>
<line x1="301.7" y1="200.19" x2="305.3" y2="200.19" stroke="#c8102e" stroke-width="0.9"/>
<line x1="301.7" y1="188.59" x2="305.3" y2="188.59" stroke="#c8102e" stroke-width="0.9"/>
<line x1="315.8" y1="158.49" x2="315.8" y2="195.28" stroke="#c8102e" stroke-width="0.9"/>
<line x1="314.0" y1="158.49" x2="317.6" y2="158.49" stroke="#c8102e" stroke-width="0.9"/>
<line x1="314.0" y1="195.28" x2="317.6" y2="195.28" stroke="#c8102e" stroke-width="0.9"/>
<line x1="314.0" y1="178.56" x2="317.6" y2="178.56" stroke="#c8102e" stroke-width="0.9"/>
<circle cx="212" cy="138.5" r="1.3" fill="none" stroke="#a3122d" stroke-width="1.0"/>
<circle cx="212" cy="145.1" r="1.3" fill="none" stroke="#a3122d" stroke-width="1.0"/>
<circle cx="212" cy="157.5" r="1.3" fill="none" stroke="#a3122d" stroke-width="1.0"/>
<circle cx="212" cy="159.3" r="1.3" fill="none" stroke="#a3122d" stroke-width="1.0"/>
<circle cx="212" cy="169.1" r="1.3" fill="none" stroke="#a3122d" stroke-width="1.0"/>
<circle cx="209.5" cy="173.5" r="1.3" fill="none" stroke="#a3122d" stroke-width="1.0"/>
<circle cx="215" cy="175.8" r="1.3" fill="none" stroke="#a3122d" stroke-width="1.0"/>
<circle cx="212" cy="177" r="1.3" fill="none" stroke="#a3122d" stroke-width="1.0"/>
<circle cx="212" cy="180" r="1.3" fill="none" stroke="#a3122d" stroke-width="1.0"/>
<circle cx="212" cy="202.8" r="1.3" fill="none" stroke="#a3122d" stroke-width="1.0"/>
<circle cx="212" cy="208.1" r="1.3" fill="none" stroke="#a3122d" stroke-width="1.0"/>
<circle cx="210" cy="215.2" r="1.3" fill="none" stroke="#a3122d" stroke-width="1.0"/>
<circle cx="214.5" cy="215.2" r="1.3" fill="none" stroke="#a3122d" stroke-width="1.0"/>
<circle cx="212" cy="219" r="1.3" fill="none" stroke="#a3122d" stroke-width="1.0"/>
<circle cx="209.5" cy="221.5" r="1.3" fill="none" stroke="#a3122d" stroke-width="1.0"/>
<circle cx="215" cy="220" r="1.3" fill="none" stroke="#a3122d" stroke-width="1.0"/>
<circle cx="225.5" cy="145.6" r="1.6" fill="#c8102e" stroke="#9a0e26" stroke-width="0.35"/>
<circle cx="222.5" cy="147.8" r="1.6" fill="#c8102e" stroke="#9a0e26" stroke-width="0.35"/>
<circle cx="223.9" cy="152.2" r="1.6" fill="#c8102e" stroke="#9a0e26" stroke-width="0.35"/>
<circle cx="223.9" cy="155" r="1.6" fill="#c8102e" stroke="#9a0e26" stroke-width="0.35"/>
<circle cx="223.9" cy="156.6" r="1.6" fill="#c8102e" stroke="#9a0e26" stroke-width="0.35"/>
<circle cx="223.9" cy="166.4" r="1.6" fill="#c8102e" stroke="#9a0e26" stroke-width="0.35"/>
<circle cx="221" cy="168" r="1.6" fill="#c8102e" stroke="#9a0e26" stroke-width="0.35"/>
<circle cx="224" cy="167" r="1.6" fill="#c8102e" stroke="#9a0e26" stroke-width="0.35"/>
<circle cx="226.5" cy="169" r="1.6" fill="#c8102e" stroke="#9a0e26" stroke-width="0.35"/>
<circle cx="222" cy="171" r="1.6" fill="#c8102e" stroke="#9a0e26" stroke-width="0.35"/>
<circle cx="225" cy="172" r="1.6" fill="#c8102e" stroke="#9a0e26" stroke-width="0.35"/>
<circle cx="220.5" cy="174" r="1.6" fill="#c8102e" stroke="#9a0e26" stroke-width="0.35"/>
<circle cx="223.5" cy="175" r="1.6" fill="#c8102e" stroke="#9a0e26" stroke-width="0.35"/>
<circle cx="226.5" cy="176" r="1.6" fill="#c8102e" stroke="#9a0e26" stroke-width="0.35"/>
<circle cx="222" cy="178" r="1.6" fill="#c8102e" stroke="#9a0e26" stroke-width="0.35"/>
<circle cx="225" cy="179" r="1.6" fill="#c8102e" stroke="#9a0e26" stroke-width="0.35"/>
<circle cx="223.5" cy="181" r="1.6" fill="#c8102e" stroke="#9a0e26" stroke-width="0.35"/>
<circle cx="221" cy="182.5" r="1.6" fill="#c8102e" stroke="#9a0e26" stroke-width="0.35"/>
<circle cx="226" cy="183" r="1.6" fill="#c8102e" stroke="#9a0e26" stroke-width="0.35"/>
<circle cx="223.9" cy="187.7" r="1.6" fill="#c8102e" stroke="#9a0e26" stroke-width="0.35"/>
<circle cx="223.9" cy="202.3" r="1.6" fill="#c8102e" stroke="#9a0e26" stroke-width="0.35"/>
<circle cx="223.9" cy="212.1" r="1.6" fill="#c8102e" stroke="#9a0e26" stroke-width="0.35"/>
<circle cx="242.3" cy="146.5" r="1.3" fill="none" stroke="#a3122d" stroke-width="1.0"/>
<circle cx="242.3" cy="156.3" r="1.3" fill="none" stroke="#a3122d" stroke-width="1.0"/>
<circle cx="242.3" cy="177.9" r="1.3" fill="none" stroke="#a3122d" stroke-width="1.0"/>
<circle cx="240" cy="182.9" r="1.3" fill="none" stroke="#a3122d" stroke-width="1.0"/>
<circle cx="244.5" cy="182.9" r="1.3" fill="none" stroke="#a3122d" stroke-width="1.0"/>
<circle cx="242.3" cy="184.1" r="1.3" fill="none" stroke="#a3122d" stroke-width="1.0"/>
<circle cx="242.3" cy="188.6" r="1.3" fill="none" stroke="#a3122d" stroke-width="1.0"/>
<circle cx="240" cy="201" r="1.3" fill="none" stroke="#a3122d" stroke-width="1.0"/>
<circle cx="244.5" cy="201" r="1.3" fill="none" stroke="#a3122d" stroke-width="1.0"/>
<circle cx="242.3" cy="198" r="1.3" fill="none" stroke="#a3122d" stroke-width="1.0"/>
<circle cx="240" cy="208.1" r="1.3" fill="none" stroke="#a3122d" stroke-width="1.0"/>
<circle cx="244.5" cy="208.1" r="1.3" fill="none" stroke="#a3122d" stroke-width="1.0"/>
<circle cx="242.3" cy="205" r="1.3" fill="none" stroke="#a3122d" stroke-width="1.0"/>
<circle cx="242.3" cy="211.7" r="1.3" fill="none" stroke="#a3122d" stroke-width="1.0"/>
<circle cx="242.3" cy="221.4" r="1.3" fill="none" stroke="#a3122d" stroke-width="1.0"/>
<circle cx="251" cy="142.1" r="1.6" fill="#c8102e" stroke="#9a0e26" stroke-width="0.35"/>
<circle cx="254.4" cy="141.5" r="1.6" fill="#c8102e" stroke="#9a0e26" stroke-width="0.35"/>
<circle cx="257" cy="142.5" r="1.6" fill="#c8102e" stroke="#9a0e26" stroke-width="0.35"/>
<circle cx="254" cy="139.5" r="1.6" fill="#c8102e" stroke="#9a0e26" stroke-width="0.35"/>
<circle cx="256" cy="140.5" r="1.6" fill="#c8102e" stroke="#9a0e26" stroke-width="0.35"/>
<circle cx="254.4" cy="148.6" r="1.6" fill="#c8102e" stroke="#9a0e26" stroke-width="0.35"/>
<circle cx="254.4" cy="161.6" r="1.6" fill="#c8102e" stroke="#9a0e26" stroke-width="0.35"/>
<circle cx="252.5" cy="166.4" r="1.6" fill="#c8102e" stroke="#9a0e26" stroke-width="0.35"/>
<circle cx="256" cy="168.5" r="1.6" fill="#c8102e" stroke="#9a0e26" stroke-width="0.35"/>
<circle cx="254.4" cy="170.5" r="1.6" fill="#c8102e" stroke="#9a0e26" stroke-width="0.35"/>
<circle cx="254.4" cy="172.6" r="1.6" fill="#c8102e" stroke="#9a0e26" stroke-width="0.35"/>
<circle cx="254.4" cy="179.7" r="1.6" fill="#c8102e" stroke="#9a0e26" stroke-width="0.35"/>
<circle cx="254.4" cy="186.8" r="1.6" fill="#c8102e" stroke="#9a0e26" stroke-width="0.35"/>
<circle cx="252.5" cy="194.3" r="1.6" fill="#c8102e" stroke="#9a0e26" stroke-width="0.35"/>
<circle cx="256" cy="196" r="1.6" fill="#c8102e" stroke="#9a0e26" stroke-width="0.35"/>
<circle cx="254.4" cy="201.9" r="1.6" fill="#c8102e" stroke="#9a0e26" stroke-width="0.35"/>
<circle cx="253" cy="206.3" r="1.6" fill="#c8102e" stroke="#9a0e26" stroke-width="0.35"/>
<circle cx="256" cy="207.5" r="1.6" fill="#c8102e" stroke="#9a0e26" stroke-width="0.35"/>
<circle cx="254.4" cy="218.2" r="1.6" fill="#c8102e" stroke="#9a0e26" stroke-width="0.35"/>
<circle cx="273.2" cy="139.8" r="1.3" fill="none" stroke="#a3122d" stroke-width="1.0"/>
<circle cx="273.2" cy="151" r="1.3" fill="none" stroke="#a3122d" stroke-width="1.0"/>
<circle cx="273.2" cy="154" r="1.3" fill="none" stroke="#a3122d" stroke-width="1.0"/>
<circle cx="273.2" cy="156.3" r="1.3" fill="none" stroke="#a3122d" stroke-width="1.0"/>
<circle cx="273.2" cy="164.1" r="1.3" fill="none" stroke="#a3122d" stroke-width="1.0"/>
<circle cx="273.2" cy="181.5" r="1.3" fill="none" stroke="#a3122d" stroke-width="1.0"/>
<circle cx="273.2" cy="193" r="1.3" fill="none" stroke="#a3122d" stroke-width="1.0"/>
<circle cx="270.5" cy="202.4" r="1.3" fill="none" stroke="#a3122d" stroke-width="1.0"/>
<circle cx="276" cy="202.4" r="1.3" fill="none" stroke="#a3122d" stroke-width="1.0"/>
<circle cx="273.2" cy="200" r="1.3" fill="none" stroke="#a3122d" stroke-width="1.0"/>
<circle cx="273.2" cy="206.3" r="1.3" fill="none" stroke="#a3122d" stroke-width="1.0"/>
<circle cx="273.2" cy="217" r="1.3" fill="none" stroke="#a3122d" stroke-width="1.0"/>
<circle cx="282" cy="148.6" r="1.6" fill="#c8102e" stroke="#9a0e26" stroke-width="0.35"/>
<circle cx="285" cy="148.6" r="1.6" fill="#c8102e" stroke="#9a0e26" stroke-width="0.35"/>
<circle cx="288" cy="148.6" r="1.6" fill="#c8102e" stroke="#9a0e26" stroke-width="0.35"/>
<circle cx="283.5" cy="157.5" r="1.6" fill="#c8102e" stroke="#9a0e26" stroke-width="0.35"/>
<circle cx="286.5" cy="156.6" r="1.6" fill="#c8102e" stroke="#9a0e26" stroke-width="0.35"/>
<circle cx="282" cy="174" r="1.6" fill="#c8102e" stroke="#9a0e26" stroke-width="0.35"/>
<circle cx="285.5" cy="171.5" r="1.6" fill="#c8102e" stroke="#9a0e26" stroke-width="0.35"/>
<circle cx="288.5" cy="171.5" r="1.6" fill="#c8102e" stroke="#9a0e26" stroke-width="0.35"/>
<circle cx="285" cy="177.6" r="1.6" fill="#c8102e" stroke="#9a0e26" stroke-width="0.35"/>
<circle cx="287" cy="181.5" r="1.6" fill="#c8102e" stroke="#9a0e26" stroke-width="0.35"/>
<circle cx="285" cy="183.3" r="1.6" fill="#c8102e" stroke="#9a0e26" stroke-width="0.35"/>
<circle cx="282.5" cy="190.4" r="1.6" fill="#c8102e" stroke="#9a0e26" stroke-width="0.35"/>
<circle cx="285" cy="192" r="1.6" fill="#c8102e" stroke="#9a0e26" stroke-width="0.35"/>
<circle cx="288" cy="191" r="1.6" fill="#c8102e" stroke="#9a0e26" stroke-width="0.35"/>
<circle cx="285" cy="193" r="1.6" fill="#c8102e" stroke="#9a0e26" stroke-width="0.35"/>
<circle cx="285" cy="198.3" r="1.6" fill="#c8102e" stroke="#9a0e26" stroke-width="0.35"/>
<circle cx="288" cy="197" r="1.6" fill="#c8102e" stroke="#9a0e26" stroke-width="0.35"/>
<circle cx="285" cy="200.1" r="1.6" fill="#c8102e" stroke="#9a0e26" stroke-width="0.35"/>
<circle cx="285" cy="217.3" r="1.6" fill="#c8102e" stroke="#9a0e26" stroke-width="0.35"/>
<circle cx="303.5" cy="153.6" r="1.3" fill="none" stroke="#a3122d" stroke-width="1.0"/>
<circle cx="303.5" cy="171.2" r="1.3" fill="none" stroke="#a3122d" stroke-width="1.0"/>
<circle cx="303.5" cy="176.5" r="1.3" fill="none" stroke="#a3122d" stroke-width="1.0"/>
<circle cx="300.5" cy="182.9" r="1.3" fill="none" stroke="#a3122d" stroke-width="1.0"/>
<circle cx="306.5" cy="182.9" r="1.3" fill="none" stroke="#a3122d" stroke-width="1.0"/>
<circle cx="300.5" cy="186.8" r="1.3" fill="none" stroke="#a3122d" stroke-width="1.0"/>
<circle cx="306.5" cy="186.8" r="1.3" fill="none" stroke="#a3122d" stroke-width="1.0"/>
<circle cx="303.5" cy="184.5" r="1.3" fill="none" stroke="#a3122d" stroke-width="1.0"/>
<circle cx="303.5" cy="190.4" r="1.3" fill="none" stroke="#a3122d" stroke-width="1.0"/>
<circle cx="300.5" cy="200.1" r="1.3" fill="none" stroke="#a3122d" stroke-width="1.0"/>
<circle cx="306.5" cy="200.1" r="1.3" fill="none" stroke="#a3122d" stroke-width="1.0"/>
<circle cx="303.5" cy="197" r="1.3" fill="none" stroke="#a3122d" stroke-width="1.0"/>
<circle cx="300.5" cy="204.6" r="1.3" fill="none" stroke="#a3122d" stroke-width="1.0"/>
<circle cx="306.5" cy="204.6" r="1.3" fill="none" stroke="#a3122d" stroke-width="1.0"/>
<circle cx="312.5" cy="158" r="1.6" fill="#c8102e" stroke="#9a0e26" stroke-width="0.35"/>
<circle cx="318.5" cy="156.3" r="1.6" fill="#c8102e" stroke="#9a0e26" stroke-width="0.35"/>
<circle cx="315.8" cy="165.5" r="1.6" fill="#c8102e" stroke="#9a0e26" stroke-width="0.35"/>
<circle cx="312.5" cy="171.2" r="1.6" fill="#c8102e" stroke="#9a0e26" stroke-width="0.35"/>
<circle cx="319" cy="171.2" r="1.6" fill="#c8102e" stroke="#9a0e26" stroke-width="0.35"/>
<circle cx="315.8" cy="174.4" r="1.6" fill="#c8102e" stroke="#9a0e26" stroke-width="0.35"/>
<circle cx="312.5" cy="185.9" r="1.6" fill="#c8102e" stroke="#9a0e26" stroke-width="0.35"/>
<circle cx="319" cy="185.9" r="1.6" fill="#c8102e" stroke="#9a0e26" stroke-width="0.35"/>
<circle cx="315.8" cy="190.4" r="1.6" fill="#c8102e" stroke="#9a0e26" stroke-width="0.35"/>
<circle cx="315.8" cy="216.6" r="1.6" fill="#c8102e" stroke="#9a0e26" stroke-width="0.35"/>
<line x1="204.4" y1="134.5" x2="204.4" y2="227.0" stroke="#262626" stroke-width="1.2"/>
<line x1="203.9" y1="226.5" x2="324" y2="226.5" stroke="#262626" stroke-width="1.1"/>
<line x1="201.8" y1="226.5" x2="204.4" y2="226.5" stroke="#262626" stroke-width="1"/>
<text x="198.1" y="229.4" font-size="8" text-anchor="end" font-weight="normal" fill="#2a2a2a" transform="translate(0 -20.646) scale(1 1.09)" stroke="#2a2a2a" stroke-width="0.18">0</text>
<line x1="201.8" y1="204.2" x2="204.4" y2="204.2" stroke="#262626" stroke-width="1"/>
<text x="198.1" y="207.1" font-size="8" text-anchor="end" font-weight="normal" fill="#2a2a2a" transform="translate(0 -18.639) scale(1 1.09)" stroke="#2a2a2a" stroke-width="0.18">20</text>
<line x1="201.8" y1="181.9" x2="204.4" y2="181.9" stroke="#262626" stroke-width="1"/>
<text x="198.1" y="184.8" font-size="8" text-anchor="end" font-weight="normal" fill="#2a2a2a" transform="translate(0 -16.632) scale(1 1.09)" stroke="#2a2a2a" stroke-width="0.18">40</text>
<line x1="201.8" y1="159.6" x2="204.4" y2="159.6" stroke="#262626" stroke-width="1"/>
<text x="198.1" y="162.5" font-size="8" text-anchor="end" font-weight="normal" fill="#2a2a2a" transform="translate(0 -14.625) scale(1 1.09)" stroke="#2a2a2a" stroke-width="0.18">60</text>
<line x1="201.8" y1="137.3" x2="204.4" y2="137.3" stroke="#262626" stroke-width="1"/>
<text x="198.1" y="140.2" font-size="8" text-anchor="end" font-weight="normal" fill="#2a2a2a" transform="translate(0 -12.618) scale(1 1.09)" stroke="#2a2a2a" stroke-width="0.18">80</text>
<line x1="218.2" y1="226.5" x2="218.2" y2="229.0" stroke="#262626" stroke-width="1"/>
<text x="218.2" y="239.7" font-size="8" text-anchor="middle" font-weight="normal" fill="#2a2a2a" transform="translate(0 -21.573) scale(1 1.09)" stroke="#2a2a2a" stroke-width="0.18">28</text>
<line x1="248.8" y1="226.5" x2="248.8" y2="229.0" stroke="#262626" stroke-width="1"/>
<text x="248.8" y="239.7" font-size="8" text-anchor="middle" font-weight="normal" fill="#2a2a2a" transform="translate(0 -21.573) scale(1 1.09)" stroke="#2a2a2a" stroke-width="0.18">100</text>
<line x1="279.4" y1="226.5" x2="279.4" y2="229.0" stroke="#262626" stroke-width="1"/>
<text x="279.4" y="239.7" font-size="8" text-anchor="middle" font-weight="normal" fill="#2a2a2a" transform="translate(0 -21.573) scale(1 1.09)" stroke="#2a2a2a" stroke-width="0.18">180</text>
<line x1="310" y1="226.5" x2="310" y2="229.0" stroke="#262626" stroke-width="1"/>
<text x="310" y="239.7" font-size="8" text-anchor="middle" font-weight="normal" fill="#2a2a2a" transform="translate(0 -21.573) scale(1 1.09)" stroke="#2a2a2a" stroke-width="0.18">365</text>
<text x="263.8" y="253.4" font-size="9.1" text-anchor="middle" font-weight="normal" fill="#111" transform="translate(0 -22.806) scale(1 1.09)" stroke="#111" stroke-width="0.22" textLength="68.5" lengthAdjust="spacingAndGlyphs">Time posttransplant (d)</text>
<text x="183.5" y="179.4" font-size="8.8" text-anchor="middle" font-weight="normal" fill="#111" transform="translate(-16.515 0) scale(1.09 1) rotate(-90 183.5 179.4)" stroke="#111" stroke-width="0.2" textLength="48" lengthAdjust="spacingAndGlyphs">CD8<tspan font-size="4.8" dy="-2.8">+</tspan><tspan dy="2.8"> (% CD3</tspan><tspan font-size="4.8" dy="-2.8">+</tspan><tspan dy="2.8">)</tspan></text>
<rect x="386.45" y="217.85" width="6.5" height="8.95" fill="#f1c3bb" stroke="none" stroke-width="1"/>
<rect x="398.45" y="205.32" width="6.5" height="21.48" fill="#f1c3bb" stroke="none" stroke-width="1"/>
<rect x="417.05" y="217.85" width="6.5" height="8.95" fill="#f1c3bb" stroke="none" stroke-width="1"/>
<rect x="428.95" y="213.38" width="6.5" height="13.43" fill="#f1c3bb" stroke="none" stroke-width="1"/>
<rect x="447.75" y="216.06" width="6.5" height="10.74" fill="#f1c3bb" stroke="none" stroke-width="1"/>
<rect x="459.45" y="217.85" width="6.5" height="8.95" fill="#f1c3bb" stroke="none" stroke-width="1"/>
<rect x="478.45" y="214.27" width="6.5" height="12.53" fill="#f1c3bb" stroke="none" stroke-width="1"/>
<rect x="490.15" y="219.64" width="6.5" height="7.16" fill="#f1c3bb" stroke="none" stroke-width="1"/>
<line x1="389.7" y1="215.17" x2="389.7" y2="220.54" stroke="#c8102e" stroke-width="0.9"/>
<line x1="387.9" y1="215.17" x2="391.5" y2="215.17" stroke="#c8102e" stroke-width="0.9"/>
<line x1="387.9" y1="220.54" x2="391.5" y2="220.54" stroke="#c8102e" stroke-width="0.9"/>
<line x1="387.9" y1="217.85" x2="391.5" y2="217.85" stroke="#c8102e" stroke-width="0.9"/>
<line x1="401.7" y1="199.95" x2="401.7" y2="210.69" stroke="#c8102e" stroke-width="0.9"/>
<line x1="399.9" y1="199.95" x2="403.5" y2="199.95" stroke="#c8102e" stroke-width="0.9"/>
<line x1="399.9" y1="210.69" x2="403.5" y2="210.69" stroke="#c8102e" stroke-width="0.9"/>
<line x1="399.9" y1="205.32" x2="403.5" y2="205.32" stroke="#c8102e" stroke-width="0.9"/>
<line x1="420.3" y1="215.17" x2="420.3" y2="220.54" stroke="#c8102e" stroke-width="0.9"/>
<line x1="418.5" y1="215.17" x2="422.1" y2="215.17" stroke="#c8102e" stroke-width="0.9"/>
<line x1="418.5" y1="220.54" x2="422.1" y2="220.54" stroke="#c8102e" stroke-width="0.9"/>
<line x1="418.5" y1="217.85" x2="422.1" y2="217.85" stroke="#c8102e" stroke-width="0.9"/>
<line x1="432.2" y1="210.69" x2="432.2" y2="216.06" stroke="#c8102e" stroke-width="0.9"/>
<line x1="430.4" y1="210.69" x2="434.0" y2="210.69" stroke="#c8102e" stroke-width="0.9"/>
<line x1="430.4" y1="216.06" x2="434.0" y2="216.06" stroke="#c8102e" stroke-width="0.9"/>
<line x1="430.4" y1="213.38" x2="434.0" y2="213.38" stroke="#c8102e" stroke-width="0.9"/>
<line x1="451" y1="212.48" x2="451" y2="219.64" stroke="#c8102e" stroke-width="0.9"/>
<line x1="449.2" y1="212.48" x2="452.8" y2="212.48" stroke="#c8102e" stroke-width="0.9"/>
<line x1="449.2" y1="219.64" x2="452.8" y2="219.64" stroke="#c8102e" stroke-width="0.9"/>
<line x1="449.2" y1="216.06" x2="452.8" y2="216.06" stroke="#c8102e" stroke-width="0.9"/>
<line x1="462.7" y1="215.17" x2="462.7" y2="220.54" stroke="#c8102e" stroke-width="0.9"/>
<line x1="460.9" y1="215.17" x2="464.5" y2="215.17" stroke="#c8102e" stroke-width="0.9"/>
<line x1="460.9" y1="220.54" x2="464.5" y2="220.54" stroke="#c8102e" stroke-width="0.9"/>
<line x1="460.9" y1="217.85" x2="464.5" y2="217.85" stroke="#c8102e" stroke-width="0.9"/>
<line x1="481.7" y1="210.69" x2="481.7" y2="217.85" stroke="#c8102e" stroke-width="0.9"/>
<line x1="479.9" y1="210.69" x2="483.5" y2="210.69" stroke="#c8102e" stroke-width="0.9"/>
<line x1="479.9" y1="217.85" x2="483.5" y2="217.85" stroke="#c8102e" stroke-width="0.9"/>
<line x1="479.9" y1="214.27" x2="483.5" y2="214.27" stroke="#c8102e" stroke-width="0.9"/>
<line x1="493.4" y1="216.96" x2="493.4" y2="222.33" stroke="#c8102e" stroke-width="0.9"/>
<line x1="491.6" y1="216.96" x2="495.2" y2="216.96" stroke="#c8102e" stroke-width="0.9"/>
<line x1="491.6" y1="222.33" x2="495.2" y2="222.33" stroke="#c8102e" stroke-width="0.9"/>
<line x1="491.6" y1="219.64" x2="495.2" y2="219.64" stroke="#c8102e" stroke-width="0.9"/>
<circle cx="389.7" cy="194" r="1.3" fill="none" stroke="#a3122d" stroke-width="1.0"/>
<circle cx="389.7" cy="207.5" r="1.3" fill="none" stroke="#a3122d" stroke-width="1.0"/>
<circle cx="387" cy="212.2" r="1.3" fill="none" stroke="#a3122d" stroke-width="1.0"/>
<circle cx="392" cy="212.2" r="1.3" fill="none" stroke="#a3122d" stroke-width="1.0"/>
<circle cx="386.5" cy="216.2" r="1.3" fill="none" stroke="#a3122d" stroke-width="1.0"/>
<circle cx="389.7" cy="216.2" r="1.3" fill="none" stroke="#a3122d" stroke-width="1.0"/>
<circle cx="393" cy="216.2" r="1.3" fill="none" stroke="#a3122d" stroke-width="1.0"/>
<circle cx="386.5" cy="219.4" r="1.3" fill="none" stroke="#a3122d" stroke-width="1.0"/>
<circle cx="389.7" cy="219.4" r="1.3" fill="none" stroke="#a3122d" stroke-width="1.0"/>
<circle cx="393" cy="219.4" r="1.3" fill="none" stroke="#a3122d" stroke-width="1.0"/>
<circle cx="386.5" cy="222.5" r="1.3" fill="none" stroke="#a3122d" stroke-width="1.0"/>
<circle cx="389.7" cy="222.5" r="1.3" fill="none" stroke="#a3122d" stroke-width="1.0"/>
<circle cx="393" cy="222.5" r="1.3" fill="none" stroke="#a3122d" stroke-width="1.0"/>
<circle cx="389.7" cy="224.5" r="1.3" fill="none" stroke="#a3122d" stroke-width="1.0"/>
<circle cx="401.7" cy="150.3" r="1.6" fill="#c8102e" stroke="#9a0e26" stroke-width="0.35"/>
<circle cx="400.5" cy="170.6" r="1.6" fill="#c8102e" stroke="#9a0e26" stroke-width="0.35"/>
<circle cx="403" cy="172.5" r="1.6" fill="#c8102e" stroke="#9a0e26" stroke-width="0.35"/>
<circle cx="401.7" cy="190.8" r="1.6" fill="#c8102e" stroke="#9a0e26" stroke-width="0.35"/>
<circle cx="403" cy="194" r="1.6" fill="#c8102e" stroke="#9a0e26" stroke-width="0.35"/>
<circle cx="401" cy="196.5" r="1.6" fill="#c8102e" stroke="#9a0e26" stroke-width="0.35"/>
<circle cx="401.7" cy="200.3" r="1.6" fill="#c8102e" stroke="#9a0e26" stroke-width="0.35"/>
<circle cx="399.5" cy="206" r="1.6" fill="#c8102e" stroke="#9a0e26" stroke-width="0.35"/>
<circle cx="403.5" cy="207" r="1.6" fill="#c8102e" stroke="#9a0e26" stroke-width="0.35"/>
<circle cx="401.7" cy="209" r="1.6" fill="#c8102e" stroke="#9a0e26" stroke-width="0.35"/>
<circle cx="399" cy="211.5" r="1.6" fill="#c8102e" stroke="#9a0e26" stroke-width="0.35"/>
<circle cx="404" cy="212" r="1.6" fill="#c8102e" stroke="#9a0e26" stroke-width="0.35"/>
<circle cx="401.7" cy="214" r="1.6" fill="#c8102e" stroke="#9a0e26" stroke-width="0.35"/>
<circle cx="399.5" cy="216.5" r="1.6" fill="#c8102e" stroke="#9a0e26" stroke-width="0.35"/>
<circle cx="403.5" cy="217" r="1.6" fill="#c8102e" stroke="#9a0e26" stroke-width="0.35"/>
<circle cx="401" cy="219" r="1.6" fill="#c8102e" stroke="#9a0e26" stroke-width="0.35"/>
<circle cx="398.5" cy="221" r="1.6" fill="#c8102e" stroke="#9a0e26" stroke-width="0.35"/>
<circle cx="402" cy="221.5" r="1.6" fill="#c8102e" stroke="#9a0e26" stroke-width="0.35"/>
<circle cx="404.5" cy="222.5" r="1.6" fill="#c8102e" stroke="#9a0e26" stroke-width="0.35"/>
<circle cx="400" cy="223.5" r="1.6" fill="#c8102e" stroke="#9a0e26" stroke-width="0.35"/>
<circle cx="402.5" cy="224.5" r="1.6" fill="#c8102e" stroke="#9a0e26" stroke-width="0.35"/>
<circle cx="420.3" cy="190.7" r="1.3" fill="none" stroke="#a3122d" stroke-width="1.0"/>
<circle cx="420.3" cy="198.5" r="1.3" fill="none" stroke="#a3122d" stroke-width="1.0"/>
<circle cx="420.3" cy="207.3" r="1.3" fill="none" stroke="#a3122d" stroke-width="1.0"/>
<circle cx="419" cy="209.5" r="1.3" fill="none" stroke="#a3122d" stroke-width="1.0"/>
<circle cx="421.5" cy="211.5" r="1.3" fill="none" stroke="#a3122d" stroke-width="1.0"/>
<circle cx="420.3" cy="213.5" r="1.3" fill="none" stroke="#a3122d" stroke-width="1.0"/>
<circle cx="418.5" cy="216" r="1.3" fill="none" stroke="#a3122d" stroke-width="1.0"/>
<circle cx="422" cy="216.5" r="1.3" fill="none" stroke="#a3122d" stroke-width="1.0"/>
<circle cx="420.3" cy="218.5" r="1.3" fill="none" stroke="#a3122d" stroke-width="1.0"/>
<circle cx="418" cy="220.5" r="1.3" fill="none" stroke="#a3122d" stroke-width="1.0"/>
<circle cx="422.5" cy="220.5" r="1.3" fill="none" stroke="#a3122d" stroke-width="1.0"/>
<circle cx="416.5" cy="223" r="1.3" fill="none" stroke="#a3122d" stroke-width="1.0"/>
<circle cx="420.3" cy="223.5" r="1.3" fill="none" stroke="#a3122d" stroke-width="1.0"/>
<circle cx="424" cy="223" r="1.3" fill="none" stroke="#a3122d" stroke-width="1.0"/>
<circle cx="418" cy="225" r="1.3" fill="none" stroke="#a3122d" stroke-width="1.0"/>
<circle cx="422" cy="225" r="1.3" fill="none" stroke="#a3122d" stroke-width="1.0"/>
<circle cx="432.2" cy="189.2" r="1.6" fill="#c8102e" stroke="#9a0e26" stroke-width="0.35"/>
<circle cx="432.2" cy="195.5" r="1.6" fill="#c8102e" stroke="#9a0e26" stroke-width="0.35"/>
<circle cx="432.2" cy="201" r="1.6" fill="#c8102e" stroke="#9a0e26" stroke-width="0.35"/>
<circle cx="432.2" cy="203.5" r="1.6" fill="#c8102e" stroke="#9a0e26" stroke-width="0.35"/>
<circle cx="432.2" cy="207.3" r="1.6" fill="#c8102e" stroke="#9a0e26" stroke-width="0.35"/>
<circle cx="431" cy="209.5" r="1.6" fill="#c8102e" stroke="#9a0e26" stroke-width="0.35"/>
<circle cx="433.5" cy="210.5" r="1.6" fill="#c8102e" stroke="#9a0e26" stroke-width="0.35"/>
<circle cx="432.2" cy="212.5" r="1.6" fill="#c8102e" stroke="#9a0e26" stroke-width="0.35"/>
<circle cx="430.5" cy="214.5" r="1.6" fill="#c8102e" stroke="#9a0e26" stroke-width="0.35"/>
<circle cx="434" cy="215" r="1.6" fill="#c8102e" stroke="#9a0e26" stroke-width="0.35"/>
<circle cx="432.2" cy="216.5" r="1.6" fill="#c8102e" stroke="#9a0e26" stroke-width="0.35"/>
<circle cx="430" cy="218.5" r="1.6" fill="#c8102e" stroke="#9a0e26" stroke-width="0.35"/>
<circle cx="434.5" cy="218.5" r="1.6" fill="#c8102e" stroke="#9a0e26" stroke-width="0.35"/>
<circle cx="432" cy="220" r="1.6" fill="#c8102e" stroke="#9a0e26" stroke-width="0.35"/>
<circle cx="428.5" cy="221" r="1.6" fill="#c8102e" stroke="#9a0e26" stroke-width="0.35"/>
<circle cx="436" cy="221" r="1.6" fill="#c8102e" stroke="#9a0e26" stroke-width="0.35"/>
<circle cx="431" cy="222.5" r="1.6" fill="#c8102e" stroke="#9a0e26" stroke-width="0.35"/>
<circle cx="434" cy="222.5" r="1.6" fill="#c8102e" stroke="#9a0e26" stroke-width="0.35"/>
<circle cx="430" cy="224" r="1.6" fill="#c8102e" stroke="#9a0e26" stroke-width="0.35"/>
<circle cx="433" cy="224.5" r="1.6" fill="#c8102e" stroke="#9a0e26" stroke-width="0.35"/>
<circle cx="451" cy="197.9" r="1.3" fill="none" stroke="#a3122d" stroke-width="1.0"/>
<circle cx="451" cy="206.1" r="1.3" fill="none" stroke="#a3122d" stroke-width="1.0"/>
<circle cx="451" cy="209.8" r="1.3" fill="none" stroke="#a3122d" stroke-width="1.0"/>
<circle cx="448" cy="216.6" r="1.3" fill="none" stroke="#a3122d" stroke-width="1.0"/>
<circle cx="454" cy="218" r="1.3" fill="none" stroke="#a3122d" stroke-width="1.0"/>
<circle cx="451" cy="220.3" r="1.3" fill="none" stroke="#a3122d" stroke-width="1.0"/>
<circle cx="447.5" cy="223" r="1.3" fill="none" stroke="#a3122d" stroke-width="1.0"/>
<circle cx="451" cy="223" r="1.3" fill="none" stroke="#a3122d" stroke-width="1.0"/>
<circle cx="455" cy="222" r="1.3" fill="none" stroke="#a3122d" stroke-width="1.0"/>
<circle cx="462.7" cy="170.2" r="1.6" fill="#c8102e" stroke="#9a0e26" stroke-width="0.35"/>
<circle cx="462.7" cy="193.2" r="1.6" fill="#c8102e" stroke="#9a0e26" stroke-width="0.35"/>
<circle cx="462.7" cy="197.5" r="1.6" fill="#c8102e" stroke="#9a0e26" stroke-width="0.35"/>
<circle cx="462.7" cy="210.2" r="1.6" fill="#c8102e" stroke="#9a0e26" stroke-width="0.35"/>
<circle cx="462.7" cy="213" r="1.6" fill="#c8102e" stroke="#9a0e26" stroke-width="0.35"/>
<circle cx="461" cy="215.5" r="1.6" fill="#c8102e" stroke="#9a0e26" stroke-width="0.35"/>
<circle cx="464" cy="216" r="1.6" fill="#c8102e" stroke="#9a0e26" stroke-width="0.35"/>
<circle cx="462.7" cy="218" r="1.6" fill="#c8102e" stroke="#9a0e26" stroke-width="0.35"/>
<circle cx="460.5" cy="219.5" r="1.6" fill="#c8102e" stroke="#9a0e26" stroke-width="0.35"/>
<circle cx="465" cy="219.5" r="1.6" fill="#c8102e" stroke="#9a0e26" stroke-width="0.35"/>
<circle cx="462" cy="221" r="1.6" fill="#c8102e" stroke="#9a0e26" stroke-width="0.35"/>
<circle cx="459.5" cy="222.5" r="1.6" fill="#c8102e" stroke="#9a0e26" stroke-width="0.35"/>
<circle cx="463.5" cy="222.5" r="1.6" fill="#c8102e" stroke="#9a0e26" stroke-width="0.35"/>
<circle cx="466" cy="223" r="1.6" fill="#c8102e" stroke="#9a0e26" stroke-width="0.35"/>
<circle cx="461" cy="224.5" r="1.6" fill="#c8102e" stroke="#9a0e26" stroke-width="0.35"/>
<circle cx="464.5" cy="224.5" r="1.6" fill="#c8102e" stroke="#9a0e26" stroke-width="0.35"/>
<circle cx="481.7" cy="171.9" r="1.3" fill="none" stroke="#a3122d" stroke-width="1.0"/>
<circle cx="481.7" cy="192" r="1.3" fill="none" stroke="#a3122d" stroke-width="1.0"/>
<circle cx="481.7" cy="207" r="1.3" fill="none" stroke="#a3122d" stroke-width="1.0"/>
<circle cx="480" cy="210.5" r="1.3" fill="none" stroke="#a3122d" stroke-width="1.0"/>
<circle cx="483" cy="212" r="1.3" fill="none" stroke="#a3122d" stroke-width="1.0"/>
<circle cx="481.7" cy="214.5" r="1.3" fill="none" stroke="#a3122d" stroke-width="1.0"/>
<circle cx="479.5" cy="217" r="1.3" fill="none" stroke="#a3122d" stroke-width="1.0"/>
<circle cx="483.5" cy="217.5" r="1.3" fill="none" stroke="#a3122d" stroke-width="1.0"/>
<circle cx="481.7" cy="219.5" r="1.3" fill="none" stroke="#a3122d" stroke-width="1.0"/>
<circle cx="479" cy="221.5" r="1.3" fill="none" stroke="#a3122d" stroke-width="1.0"/>
<circle cx="484" cy="221.5" r="1.3" fill="none" stroke="#a3122d" stroke-width="1.0"/>
<circle cx="481.7" cy="223.5" r="1.3" fill="none" stroke="#a3122d" stroke-width="1.0"/>
<circle cx="479.5" cy="224.5" r="1.3" fill="none" stroke="#a3122d" stroke-width="1.0"/>
<circle cx="483.5" cy="224.5" r="1.3" fill="none" stroke="#a3122d" stroke-width="1.0"/>
<circle cx="493.4" cy="186.2" r="1.6" fill="#c8102e" stroke="#9a0e26" stroke-width="0.35"/>
<circle cx="493.4" cy="212.9" r="1.6" fill="#c8102e" stroke="#9a0e26" stroke-width="0.35"/>
<circle cx="492" cy="216.6" r="1.6" fill="#c8102e" stroke="#9a0e26" stroke-width="0.35"/>
<circle cx="490" cy="220.9" r="1.6" fill="#c8102e" stroke="#9a0e26" stroke-width="0.35"/>
<circle cx="496" cy="219" r="1.6" fill="#c8102e" stroke="#9a0e26" stroke-width="0.35"/>
<circle cx="493" cy="223" r="1.6" fill="#c8102e" stroke="#9a0e26" stroke-width="0.35"/>
<circle cx="489" cy="224" r="1.6" fill="#c8102e" stroke="#9a0e26" stroke-width="0.35"/>
<circle cx="497" cy="224" r="1.6" fill="#c8102e" stroke="#9a0e26" stroke-width="0.35"/>
<circle cx="494.5" cy="221.5" r="1.6" fill="#c8102e" stroke="#9a0e26" stroke-width="0.35"/>
<line x1="382.1" y1="134.5" x2="382.1" y2="227.3" stroke="#262626" stroke-width="1.2"/>
<line x1="381.6" y1="226.8" x2="501.6" y2="226.8" stroke="#262626" stroke-width="1.1"/>
<line x1="379.5" y1="226.8" x2="382.1" y2="226.8" stroke="#262626" stroke-width="1"/>
<text x="375.8" y="229.7" font-size="8" text-anchor="end" font-weight="normal" fill="#2a2a2a" transform="translate(0 -20.673) scale(1 1.09)" stroke="#2a2a2a" stroke-width="0.18">0</text>
<line x1="379.5" y1="208.9" x2="382.1" y2="208.9" stroke="#262626" stroke-width="1"/>
<text x="375.8" y="211.8" font-size="8" text-anchor="end" font-weight="normal" fill="#2a2a2a" transform="translate(0 -19.062) scale(1 1.09)" stroke="#2a2a2a" stroke-width="0.18">10</text>
<line x1="379.5" y1="191.0" x2="382.1" y2="191.0" stroke="#262626" stroke-width="1"/>
<text x="375.8" y="193.9" font-size="8" text-anchor="end" font-weight="normal" fill="#2a2a2a" transform="translate(0 -17.451) scale(1 1.09)" stroke="#2a2a2a" stroke-width="0.18">20</text>
<line x1="379.5" y1="173.1" x2="382.1" y2="173.1" stroke="#262626" stroke-width="1"/>
<text x="375.8" y="176.0" font-size="8" text-anchor="end" font-weight="normal" fill="#2a2a2a" transform="translate(0 -15.840) scale(1 1.09)" stroke="#2a2a2a" stroke-width="0.18">30</text>
<line x1="379.5" y1="155.2" x2="382.1" y2="155.2" stroke="#262626" stroke-width="1"/>
<text x="375.8" y="158.1" font-size="8" text-anchor="end" font-weight="normal" fill="#2a2a2a" transform="translate(0 -14.229) scale(1 1.09)" stroke="#2a2a2a" stroke-width="0.18">40</text>
<line x1="379.5" y1="137.3" x2="382.1" y2="137.3" stroke="#262626" stroke-width="1"/>
<text x="375.8" y="140.2" font-size="8" text-anchor="end" font-weight="normal" fill="#2a2a2a" transform="translate(0 -12.618) scale(1 1.09)" stroke="#2a2a2a" stroke-width="0.18">50</text>
<line x1="396" y1="226.8" x2="396" y2="229.3" stroke="#262626" stroke-width="1"/>
<text x="396" y="240.0" font-size="8" text-anchor="middle" font-weight="normal" fill="#2a2a2a" transform="translate(0 -21.600) scale(1 1.09)" stroke="#2a2a2a" stroke-width="0.18">28</text>
<line x1="426.6" y1="226.8" x2="426.6" y2="229.3" stroke="#262626" stroke-width="1"/>
<text x="426.6" y="240.0" font-size="8" text-anchor="middle" font-weight="normal" fill="#2a2a2a" transform="translate(0 -21.600) scale(1 1.09)" stroke="#2a2a2a" stroke-width="0.18">100</text>
<line x1="457.2" y1="226.8" x2="457.2" y2="229.3" stroke="#262626" stroke-width="1"/>
<text x="457.2" y="240.0" font-size="8" text-anchor="middle" font-weight="normal" fill="#2a2a2a" transform="translate(0 -21.600) scale(1 1.09)" stroke="#2a2a2a" stroke-width="0.18">180</text>
<line x1="487.8" y1="226.8" x2="487.8" y2="229.3" stroke="#262626" stroke-width="1"/>
<text x="487.8" y="240.0" font-size="8" text-anchor="middle" font-weight="normal" fill="#2a2a2a" transform="translate(0 -21.600) scale(1 1.09)" stroke="#2a2a2a" stroke-width="0.18">365</text>
<text x="441.4" y="253.4" font-size="9.1" text-anchor="middle" font-weight="normal" fill="#111" transform="translate(0 -22.806) scale(1 1.09)" stroke="#111" stroke-width="0.22" textLength="68.5" lengthAdjust="spacingAndGlyphs">Time posttransplant (d)</text>
<text x="348.8" y="179.5" font-size="8.8" text-anchor="middle" font-weight="normal" fill="#111" transform="translate(-31.392 0) scale(1.09 1) rotate(-90 348.8 179.5)" stroke="#111" stroke-width="0.2" textLength="63" lengthAdjust="spacingAndGlyphs">CD4<tspan font-size="4.8" dy="-2.8">+</tspan><tspan dy="2.8"> CD25</tspan><tspan font-size="4.8" dy="-2.8">+</tspan><tspan dy="2.8"> CD127</tspan><tspan font-size="4.8" dy="-2.8">low</tspan></text>
<text x="359.9" y="178.5" font-size="8.8" text-anchor="middle" font-weight="normal" fill="#111" transform="translate(-32.391 0) scale(1.09 1) rotate(-90 359.9 178.5)" stroke="#111" stroke-width="0.2" textLength="45" lengthAdjust="spacingAndGlyphs">Treg (% CD4<tspan font-size="4.8" dy="-2.8">+</tspan><tspan dy="2.8">)</tspan></text>
<circle cx="465.7" cy="139.3" r="1.2" fill="none" stroke="#a3122d" stroke-width="0.95"/>
<circle cx="465.9" cy="150.2" r="1.45" fill="#c8102e" stroke="#9a0e26" stroke-width="0.35"/>
<text x="470.3" y="141.6" font-size="8.2" text-anchor="start" font-weight="normal" fill="#222" transform="translate(0 -12.744) scale(1 1.09)" stroke="#222" stroke-width="0.18">Control</text>
<text x="470.3" y="152.2" font-size="8.2" text-anchor="start" font-weight="normal" fill="#222" transform="translate(0 -13.698) scale(1 1.09)" stroke="#222" stroke-width="0.18">PTCy + Aba</text>
<text x="8.1" y="280.8" font-size="10.8" text-anchor="start" font-weight="bold" fill="#000" transform="translate(0 -25.272) scale(1 1.09)" stroke="#000" stroke-width="0.4">C</text>
<text x="36.9" y="288.6" font-size="8" text-anchor="start" font-weight="normal" fill="#222" transform="translate(0 -25.974) scale(1 1.09)" stroke="#222" stroke-width="0.18">Control d100</text>
<text x="106.9" y="289" font-size="8" text-anchor="start" font-weight="normal" fill="#222" transform="translate(0 -26.010) scale(1 1.09)" stroke="#222" stroke-width="0.18">PTCy + Aba d100</text>
<text x="90.6" y="302" font-size="8" text-anchor="start" font-weight="normal" fill="#222" transform="translate(0 -27.180) scale(1 1.09)" stroke="#222" stroke-width="0.18">CD4<tspan font-size="4.5" dy="-3">+</tspan></text>
<line x1="30.8" y1="305.4" x2="170.4" y2="305.4" stroke="#444" stroke-width="1"/>
<rect x="27" y="309.6" width="67.3" height="68.0" fill="none" stroke="#b8b8b8" stroke-width="0.8"/>
<line x1="25.8" y1="313.6" x2="27" y2="313.6" stroke="#555" stroke-width="0.7"/>
<line x1="25.8" y1="319.2" x2="27" y2="319.2" stroke="#555" stroke-width="0.7"/>
<line x1="25.8" y1="324.9" x2="27" y2="324.9" stroke="#555" stroke-width="0.7"/>
<line x1="25.8" y1="330.5" x2="27" y2="330.5" stroke="#555" stroke-width="0.7"/>
<line x1="25.8" y1="336.1" x2="27" y2="336.1" stroke="#555" stroke-width="0.7"/>
<line x1="25.8" y1="341.8" x2="27" y2="341.8" stroke="#555" stroke-width="0.7"/>
<line x1="25.8" y1="347.4" x2="27" y2="347.4" stroke="#555" stroke-width="0.7"/>
<line x1="25.8" y1="353.1" x2="27" y2="353.1" stroke="#555" stroke-width="0.7"/>
<line x1="25.8" y1="358.7" x2="27" y2="358.7" stroke="#555" stroke-width="0.7"/>
<line x1="25.8" y1="364.3" x2="27" y2="364.3" stroke="#555" stroke-width="0.7"/>
<line x1="25.8" y1="370.0" x2="27" y2="370.0" stroke="#555" stroke-width="0.7"/>
<line x1="25.8" y1="375.6" x2="27" y2="375.6" stroke="#555" stroke-width="0.7"/>
<line x1="30.0" y1="377.6" x2="30.0" y2="378.8" stroke="#555" stroke-width="0.7"/>
<line x1="35.6" y1="377.6" x2="35.6" y2="378.8" stroke="#555" stroke-width="0.7"/>
<line x1="41.1" y1="377.6" x2="41.1" y2="378.8" stroke="#555" stroke-width="0.7"/>
<line x1="46.7" y1="377.6" x2="46.7" y2="378.8" stroke="#555" stroke-width="0.7"/>
<line x1="52.3" y1="377.6" x2="52.3" y2="378.8" stroke="#555" stroke-width="0.7"/>
<line x1="57.9" y1="377.6" x2="57.9" y2="378.8" stroke="#555" stroke-width="0.7"/>
<line x1="63.4" y1="377.6" x2="63.4" y2="378.8" stroke="#555" stroke-width="0.7"/>
<line x1="69.0" y1="377.6" x2="69.0" y2="378.8" stroke="#555" stroke-width="0.7"/>
<line x1="74.6" y1="377.6" x2="74.6" y2="378.8" stroke="#555" stroke-width="0.7"/>
<line x1="80.2" y1="377.6" x2="80.2" y2="378.8" stroke="#555" stroke-width="0.7"/>
<line x1="85.7" y1="377.6" x2="85.7" y2="378.8" stroke="#555" stroke-width="0.7"/>
<line x1="91.3" y1="377.6" x2="91.3" y2="378.8" stroke="#555" stroke-width="0.7"/>
<circle cx="27" cy="369.6" r="0.9" fill="#111"/>
<circle cx="35" cy="377.6" r="0.9" fill="#111"/>
<path transform="scale(0.1)" stroke="#000" stroke-opacity="0.45" stroke-width="7" d="M644 3664h7M661 3665h7M731 3649h7M711 3702h7M716 3648h7M674 3697h7M692 3660h7M748 3658h7M647 3686h7M707 3660h7M731 3696h7M763 3675h7M730 3683h7M627 3707h7M671 3662h7M662 3653h7M764 3673h7M675 3636h7M715 3672h7M651 3671h7M609 3687h7M641 3683h7M711 3630h7M647 3660h7M748 3685h7M740 3708h7M691 3663h7M607 3652h7M736 3656h7M660 3693h7M575 3702h7M774 3636h7M731 3673h7M754 3666h7M700 3702h7M675 3682h7M740 3671h7M752 3684h7M750 3638h7M651 3679h7M768 3703h7M707 3658h7M648 3633h7M680 3685h7M702 3643h7M701 3674h7M667 3703h7M729 3696h7M711 3653h7M763 3696h7M675 3646h7M749 3662h7M645 3671h7M735 3658h7M708 3694h7M746 3641h7M744 3710h7M755 3671h7M726 3641h7M675 3663h7M816 3673h7M655 3708h7M771 3639h7M696 3638h7M761 3626h7M804 3651h7M651 3717h7M734 3681h7M751 3653h7M752 3667h7M734 3678h7M779 3647h7M633 3687h7M831 3684h7M697 3687h7M642 3675h7M618 3676h7M744 3708h7M680 3692h7M777 3652h7M692 3635h7M660 3682h7M599 3667h7M744 3703h7M574 3681h7M674 3626h7M653 3685h7M705 3688h7M690 3687h7M655 3653h7M698 3637h7M771 3668h7M655 3655h7M655 3676h7M687 3691h7M645 3672h7M627 3664h7M778 3671h7M753 3672h7M649 3655h7M647 3680h7M718 3734h7M794 3691h7M655 3676h7M658 3722h7M668 3697h7M635 3689h7M642 3664h7M715 3676h7M703 3672h7M661 3671h7M702 3654h7M736 3677h7M666 3700h7M676 3634h7M772 3665h7M783 3682h7M659 3696h7M730 3692h7M708 3706h7M755 3666h7M627 3672h7M710 3653h7M696 3704h7M681 3697h7M657 3653h7M755 3670h7M717 3695h7M792 3648h7M737 3678h7M713 3710h7M693 3661h7M732 3631h7M725 3655h7M723 3658h7M733 3668h7M668 3684h7M745 3640h7M638 3668h7M686 3701h7M789 3683h7M763 3666h7M634 3679h7M613 3707h7M719 3697h7M672 3640h7M695 3683h7M694 3663h7M710 3669h7M779 3646h7M589 3671h7M720 3641h7M704 3682h7M723 3679h7M666 3643h7M756 3666h7M634 3705h7M745 3615h7M842 3676h7M621 3693h7M723 3699h7M706 3639h7M697 3664h7M721 3669h7M735 3648h7M677 3662h7M727 3638h7M706 3723h7M611 3695h7M711 3694h7M708 3679h7M725 3683h7M642 3670h7M802 3703h7M661 3653h7M696 3695h7M754 3661h7M581 3672h7M618 3698h7M784 3687h7M737 3685h7M803 3696h7M782 3649h7M678 3673h7M588 3667h7M704 3672h7M839 3669h7M695 3671h7M687 3644h7M765 3674h7M725 3674h7M664 3640h7M690 3684h7M699 3688h7M664 3667h7M713 3671h7M715 3703h7M683 3676h7M671 3684h7M717 3658h7M652 3648h7M690 3676h7M679 3671h7M712 3722h7M768 3721h7M713 3678h7M808 3681h7M740 3663h7M677 3689h7M674 3659h7M627 3679h7M700 3684h7M660 3647h7M764 3674h7M747 3649h7M637 3620h7M721 3694h7M775 3710h7M609 3650h7M677 3657h7M694 3656h7M628 3672h7M712 3657h7M707 3646h7M688 3666h7M681 3671h7M638 3645h7M661 3688h7M655 3654h7M810 3668h7M685 3655h7M783 3684h7M719 3706h7M642 3638h7M764 3682h7M678 3690h7M700 3714h7M638 3681h7M757 3692h7M686 3665h7M682 3687h7M684 3670h7M759 3671h7M718 3670h7M706 3627h7M655 3681h7M671 3660h7M708 3721h7M665 3653h7M610 3683h7M702 3655h7M683 3694h7M759 3681h7M766 3694h7M681 3690h7M713 3689h7M720 3718h7M639 3681h7M648 3722h7M678 3665h7M704 3672h7M795 3672h7M718 3695h7M785 3653h7M721 3645h7M731 3703h7M677 3667h7M768 3682h7M748 3663h7M688 3665h7M788 3642h7M678 3706h7M701 3650h7M717 3668h7M699 3683h7M747 3642h7M716 3704h7M634 3671h7M643 3687h7M660 3666h7M683 3683h7M636 3644h7M715 3702h7M678 3682h7M719 3675h7M704 3661h7M692 3698h7M728 3700h7M666 3675h7M671 3645h7M752 3667h7M718 3643h7M691 3670h7M684 3694h7M729 3676h7M717 3664h7M667 3667h7M651 3669h7M699 3697h7M682 3724h7M677 3676h7M703 3660h7M701 3636h7M764 3661h7M703 3635h7M735 3646h7M777 3651h7M666 3687h7M772 3631h7M616 3707h7M728 3641h7M682 3688h7M684 3705h7M667 3677h7M766 3704h7M717 3685h7M687 3672h7M674 3681h7M749 3652h7M643 3674h7M810 3678h7M712 3672h7M616 3658h7M784 3628h7M799 3648h7M812 3729h7M784 3670h7M736 3661h7M681 3677h7M539 3685h7M688 3650h7M690 3687h7M664 3681h7M634 3675h7M644 3689h7M650 3686h7M600 3677h7M763 3655h7M707 3655h7M730 3689h7M765 3701h7M773 3657h7M711 3684h7M715 3645h7M811 3727h7M708 3618h7M801 3669h7M824 3651h7M732 3690h7M629 3666h7M730 3687h7M725 3617h7M579 3681h7M789 3640h7M725 3693h7M653 3639h7M719 3663h7M699 3669h7M698 3680h7M677 3672h7M675 3654h7M723 3655h7M733 3672h7M761 3686h7M599 3672h7M739 3675h7M707 3696h7M740 3644h7M709 3694h7M713 3646h7M745 3686h7M765 3677h7M710 3691h7M646 3710h7M726 3678h7M744 3690h7M588 3693h7M699 3656h7M752 3693h7M724 3660h7M710 3653h7M837 3659h7M751 3708h7M659 3661h7M586 3668h7M635 3676h7M693 3673h7M706 3663h7M710 3671h7M667 3666h7M674 3645h7M703 3633h7M732 3672h7M713 3698h7M755 3664h7M723 3698h7M696 3681h7M726 3651h7M719 3665h7M691 3682h7M739 3654h7M691 3669h7M654 3681h7M694 3658h7M754 3671h7M643 3671h7M695 3679h7M823 3685h7M780 3669h7M729 3684h7M699 3678h7M681 3688h7M657 3710h7M508 3643h7M698 3681h7M712 3638h7M727 3654h7M715 3664h7M690 3640h7M635 3661h7M648 3678h7M631 3678h7M733 3657h7M654 3665h7M746 3703h7M818 3675h7M737 3677h7M703 3650h7M686 3697h7M777 3660h7M619 3713h7M706 3683h7M695 3634h7M721 3652h7M689 3660h7M690 3724h7M784 3631h7M623 3662h7M669 3690h7M787 3657h7M734 3668h7M600 3698h7M796 3655h7M737 3662h7M699 3663h7M697 3674h7M672 3679h7M636 3690h7M654 3633h7M748 3666h7M676 3692h7M702 3715h7M727 3642h7M678 3659h7M689 3709h7M847 3710h7M728 3685h7M713 3626h7M777 3715h7M677 3672h7M667 3669h7M659 3649h7M768 3631h7M759 3648h7M691 3630h7M739 3651h7M836 3653h7M717 3687h7M653 3655h7M648 3685h7M720 3695h7M628 3653h7M698 3663h7M721 3697h7M711 3656h7M702 3657h7M670 3713h7M740 3712h7M693 3671h7M638 3678h7M743 3688h7M643 3675h7M753 3663h7M741 3662h7M704 3660h7M626 3655h7M713 3667h7M704 3661h7M751 3669h7M725 3663h7M773 3671h7M727 3720h7M727 3639h7M669 3680h7M635 3641h7M698 3639h7M762 3682h7M688 3699h7M669 3648h7M752 3673h7M692 3695h7M697 3687h7M716 3698h7M733 3663h7M784 3665h7M796 3646h7M707 3625h7M732 3702h7M684 3683h7M693 3704h7M722 3681h7M762 3640h7M741 3676h7M773 3674h7M736 3672h7M653 3662h7M695 3644h7M702 3663h7M801 3668h7M711 3675h7M741 3638h7M613 3707h7M661 3654h7M766 3679h7M662 3689h7M645 3708h7M688 3680h7M704 3714h7M654 3671h7M818 3629h7M679 3679h7M693 3682h7M766 3649h7M670 3701h7M807 3616h7M733 3694h7M669 3654h7M645 3669h7M644 3688h7M669 3684h7M622 3692h7M740 3693h7M719 3722h7M756 3674h7M789 3665h7M713 3708h7M681 3673h7M718 3677h7M693 3695h7M818 3665h7M627 3663h7M632 3646h7M650 3696h7M713 3688h7M699 3695h7M684 3701h7M751 3678h7M628 3649h7M719 3651h7M696 3670h7M777 3658h7M712 3663h7M665 3682h7M756 3642h7M784 3721h7M713 3684h7M650 3664h7M721 3671h7M778 3654h7M692 3684h7M701 3668h7M699 3682h7M604 3729h7M744 3650h7M657 3649h7M728 3633h7M834 3661h7M631 3717h7M705 3684h7M695 3668h7M813 3631h7M719 3657h7M687 3672h7M608 3686h7M716 3685h7M674 3689h7M681 3690h7M776 3686h7M629 3675h7M651 3715h7M716 3646h7M625 3701h7M652 3682h7M688 3670h7M682 3673h7M790 3654h7M732 3683h7M670 3650h7M658 3685h7M714 3695h7M724 3676h7M706 3678h7M708 3687h7M660 3696h7M791 3671h7M735 3648h7M711 3643h7M757 3674h7M762 3697h7M667 3690h7M787 3720h7M700 3685h7M672 3687h7M737 3704h7M697 3674h7M732 3670h7M814 3626h7M615 3662h7M742 3674h7M727 3641h7M737 3685h7M792 3691h7M673 3657h7M646 3663h7M700 3700h7M792 3675h7M737 3670h7M637 3684h7M667 3639h7M661 3705h7M644 3702h7M633 3672h7M732 3665h7M654 3673h7M794 3687h7M716 3685h7M768 3701h7M691 3655h7M653 3674h7M690 3673h7M673 3726h7M669 3703h7M660 3656h7M643 3650h7M619 3656h7M693 3688h7M611 3682h7M699 3673h7M591 3683h7M741 3697h7M690 3699h7M709 3654h7M733 3694h7M718 3672h7M692 3687h7M610 3679h7M637 3662h7M716 3699h7M705 3654h7M849 3680h7M562 3671h7M666 3660h7M761 3718h7M711 3645h7M751 3675h7M684 3677h7M644 3677h7M724 3698h7M812 3660h7M725 3656h7M712 3697h7M740 3667h7M801 3692h7M771 3675h7M776 3670h7M752 3674h7M705 3640h7M758 3685h7M672 3675h7M737 3687h7M595 3705h7M651 3713h7M766 3676h7M716 3679h7M684 3705h7M670 3662h7M693 3640h7M761 3648h7M786 3693h7M813 3661h7M689 3664h7M748 3654h7M688 3624h7M708 3678h7M812 3655h7M757 3685h7M753 3650h7M519 3663h7M757 3677h7M783 3719h7M668 3664h7M788 3638h7M571 3679h7M723 3705h7M745 3672h7M675 3634h7M734 3660h7M685 3680h7M596 3671h7M672 3716h7M699 3697h7M652 3639h7M753 3666h7M633 3696h7M733 3636h7M693 3716h7M712 3644h7M660 3703h7M787 3688h7M624 3691h7M661 3662h7M678 3696h7M733 3686h7M682 3662h7M764 3660h7M690 3685h7M696 3694h7M736 3687h7M831 3661h7M819 3646h7M663 3619h7M669 3656h7M744 3700h7M832 3662h7M764 3669h7M605 3583h7M686 3631h7M753 3653h7M741 3659h7M732 3653h7M727 3713h7M726 3643h7M663 3676h7M750 3646h7M656 3638h7M802 3679h7M723 3664h7M810 3686h7M700 3700h7M738 3667h7M686 3673h7M781 3642h7M615 3688h7M763 3705h7M737 3640h7M750 3677h7M650 3638h7M621 3675h7M635 3681h7M697 3687h7M753 3653h7M685 3689h7M670 3695h7M738 3693h7M673 3690h7M694 3678h7M740 3661h7M703 3621h7M668 3687h7M646 3627h7M627 3667h7M742 3685h7M628 3682h7M639 3697h7M727 3659h7M680 3671h7M674 3699h7M722 3661h7M730 3643h7M714 3666h7M674 3672h7M718 3641h7M725 3738h7M749 3660h7M725 3709h7M647 3709h7M686 3715h7M661 3696h7M675 3701h7M754 3680h7M661 3696h7M726 3649h7M735 3669h7M699 3651h7M717 3692h7M660 3691h7M608 3675h7M720 3652h7M714 3644h7M806 3682h7M764 3652h7M585 3671h7M777 3669h7M767 3682h7M723 3696h7M674 3664h7M764 3683h7M677 3649h7M785 3602h7M754 3670h7M636 3682h7M731 3723h7M721 3618h7M656 3690h7M680 3672h7M701 3705h7M723 3670h7M671 3695h7M669 3682h7M727 3689h7M747 3679h7M809 3690h7M666 3653h7M669 3702h7M648 3708h7M728 3660h7M653 3671h7M745 3671h7M743 3677h7M776 3662h7M698 3648h7M689 3651h7M626 3668h7M741 3624h7M639 3642h7M725 3685h7M722 3669h7M665 3677h7M660 3668h7M726 3667h7M768 3625h7M623 3695h7M676 3663h7M677 3672h7M697 3681h7M753 3714h7M595 3671h7M659 3678h7M653 3674h7M720 3672h7M717 3687h7M651 3672h7M760 3693h7M756 3655h7M671 3695h7M705 3679h7M687 3693h7M714 3651h7M724 3665h7M692 3685h7M713 3660h7M645 3663h7M698 3647h7M673 3724h7M672 3674h7M641 3666h7M718 3677h7M618 3674h7M655 3697h7M700 3708h7M724 3647h7M754 3662h7M700 3675h7M638 3699h7M713 3650h7M634 3683h7M768 3682h7M721 3664h7M762 3685h7M664 3660h7M594 3698h7M860 3670h7M728 3690h7M694 3720h7M653 3655h7M789 3693h7M744 3671h7M703 3676h7M727 3660h7M759 3711h7M678 3652h7M712 3727h7M656 3703h7M670 3656h7M761 3669h7M703 3688h7M764 3678h7M786 3658h7M678 3688h7M739 3635h7M689 3688h7M697 3712h7M623 3678h7M661 3638h7M693 3672h7M684 3659h7M750 3650h7M673 3643h7M765 3641h7M794 3653h7M703 3709h7M650 3702h7M638 3663h7M734 3681h7M722 3680h7M786 3638h7M669 3692h7M629 3658h7M832 3703h7M732 3675h7M697 3654h7M660 3652h7M639 3676h7M727 3653h7M712 3644h7M725 3666h7M702 3678h7M773 3678h7M671 3677h7M726 3685h7M760 3655h7M643 3687h7M647 3683h7M846 3701h7M629 3655h7M725 3667h7M741 3679h7M722 3685h7M624 3698h7M632 3654h7M580 3673h7M726 3665h7M643 3626h7M734 3648h7M686 3679h7M702 3682h7M791 3689h7M652 3672h7M693 3655h7M739 3665h7M717 3687h7M814 3660h7M743 3720h7M788 3680h7M667 3677h7M673 3664h7M615 3667h7M601 3695h7M732 3665h7M707 3676h7M692 3680h7M696 3683h7M663 3675h7M793 3656h7M663 3694h7M722 3677h7M715 3665h7M678 3685h7M714 3688h7M729 3722h7M710 3704h7M713 3723h7M757 3657h7M788 3661h7M758 3657h7M724 3677h7M780 3627h7M605 3695h7M745 3663h7M710 3636h7M685 3659h7M752 3679h7M697 3699h7M671 3690h7M693 3684h7M690 3704h7M683 3718h7M747 3656h7M682 3703h7M783 3647h7M714 3688h7M830 3689h7M695 3694h7M710 3655h7M703 3669h7M694 3676h7M724 3657h7M741 3640h7M741 3685h7M728 3641h7M679 3679h7M730 3690h7M625 3675h7M762 3649h7M642 3664h7M691 3668h7M771 3680h7M605 3691h7M711 3693h7M704 3704h7M713 3664h7M642 3694h7M698 3636h7M750 3703h7M596 3687h7M740 3712h7M770 3658h7M730 3690h7M628 3706h7M732 3693h7M659 3692h7M703 3668h7M707 3682h7M626 3674h7M725 3639h7M795 3730h7M741 3674h7M651 3650h7M641 3694h7M660 3679h7M682 3694h7M773 3695h7M740 3698h7M795 3656h7M720 3660h7M708 3670h7M712 3690h7M637 3618h7M720 3698h7M685 3707h7M824 3676h7M694 3686h7M746 3642h7M732 3630h7M649 3680h7M722 3649h7M708 3703h7M619 3687h7M773 3645h7M768 3684h7M689 3675h7M703 3675h7M695 3659h7M753 3712h7M695 3706h7M665 3647h7M739 3680h7M729 3654h7M685 3697h7M790 3680h7M726 3617h7M671 3703h7M806 3657h7M572 3686h7M637 3666h7M674 3667h7M654 3689h7M721 3646h7M622 3720h7M735 3679h7M616 3722h7M651 3677h7M723 3659h7M712 3665h7M597 3645h7M672 3663h7M728 3711h7M692 3723h7M682 3677h7M693 3638h7M701 3670h7M661 3691h7M726 3668h7M659 3681h7M663 3656h7M679 3696h7M690 3671h7M687 3688h7M696 3693h7M697 3693h7M689 3659h7M726 3670h7M681 3706h7M678 3658h7M687 3706h7M634 3700h7M731 3666h7M687 3659h7M598 3655h7M631 3640h7M681 3688h7M655 3668h7M663 3671h7M725 3702h7M735 3683h7M776 3691h7M729 3687h7M747 3652h7M657 3677h7M610 3669h7M686 3682h7M740 3704h7M579 3680h7M721 3707h7M671 3684h7M695 3654h7M716 3696h7M684 3677h7M760 3671h7M686 3682h7M726 3684h7M768 3685h7M640 3640h7M698 3712h7M705 3666h7M717 3687h7M768 3647h7M743 3679h7M746 3699h7M586 3695h7M729 3658h7M696 3698h7M624 3694h7M744 3714h7M658 3662h7M755 3669h7M724 3618h7M828 3634h7M616 3686h7M728 3657h7M587 3687h7M714 3655h7M709 3662h7M649 3690h7M702 3676h7M637 3660h7M688 3662h7M720 3676h7M690 3671h7M723 3697h7M646 3696h7M749 3692h7M673 3680h7M812 3646h7M746 3669h7M789 3678h7M746 3661h7M676 3710h7M635 3664h7M689 3648h7M735 3648h7M704 3670h7M587 3678h7M621 3676h7M580 3663h7M745 3681h7M761 3711h7M740 3671h7M696 3689h7M637 3652h7M701 3713h7M643 3681h7M665 3691h7M720 3674h7M749 3669h7M615 3721h7M696 3682h7M743 3657h7M677 3658h7M732 3684h7M712 3646h7M659 3643h7M630 3659h7M717 3686h7M608 3689h7M721 3710h7M747 3642h7M727 3680h7M719 3659h7M777 3677h7M671 3635h7M688 3645h7M625 3711h7M698 3697h7M760 3691h7M679 3649h7M693 3678h7M694 3668h7M709 3643h7M757 3649h7M737 3595h7M784 3594h7M697 3623h7M766 3575h7M683 3621h7M762 3518h7M768 3695h7M726 3660h7M728 3564h7M716 3652h7M690 3628h7M707 3647h7M828 3604h7M683 3697h7M722 3615h7M752 3648h7M741 3636h7M740 3583h7M763 3649h7M703 3574h7M710 3639h7M787 3620h7M608 3638h7M735 3634h7M674 3629h7M738 3649h7M764 3675h7M706 3618h7M716 3648h7M810 3612h7M739 3593h7M684 3701h7M730 3676h7M764 3601h7M742 3593h7M757 3615h7M763 3662h7M710 3660h7M750 3604h7M743 3666h7M739 3658h7M746 3667h7M728 3616h7M757 3541h7M713 3685h7M704 3698h7M795 3593h7M704 3648h7M768 3678h7M792 3586h7M766 3600h7M775 3631h7M789 3609h7M765 3574h7M696 3654h7M737 3656h7M822 3581h7M687 3601h7M709 3673h7M748 3612h7M759 3613h7M743 3623h7M681 3668h7M740 3701h7M737 3604h7M740 3599h7M732 3613h7M746 3591h7M729 3613h7M695 3633h7M760 3644h7M746 3619h7M770 3606h7M760 3559h7M687 3613h7M778 3605h7M751 3583h7M675 3739h7M798 3670h7M734 3603h7M744 3615h7M715 3544h7M742 3547h7M714 3578h7M812 3561h7M718 3643h7M721 3637h7M770 3594h7M754 3616h7M683 3649h7M692 3673h7M734 3631h7M773 3586h7M703 3684h7M762 3633h7M656 3647h7M697 3614h7M670 3585h7M717 3643h7M714 3624h7M737 3671h7M711 3636h7M842 3596h7M766 3575h7M692 3620h7M855 3572h7M790 3593h7M685 3572h7M741 3660h7M703 3619h7M690 3611h7M775 3595h7M693 3657h7M745 3621h7M816 3614h7M780 3570h7M732 3670h7M764 3649h7M676 3631h7M801 3658h7M612 3591h7M789 3638h7M787 3513h7M738 3652h7M783 3578h7M777 3641h7M714 3686h7M786 3643h7M716 3639h7M733 3683h7M833 3569h7M815 3619h7M707 3607h7M797 3620h7M708 3625h7M719 3624h7M808 3582h7M722 3522h7M755 3652h7M818 3581h7M723 3614h7M684 3638h7M703 3625h7M741 3649h7M737 3708h7M748 3639h7M756 3616h7M774 3620h7M680 3620h7M795 3552h7M807 3610h7M745 3665h7M744 3605h7M646 3626h7M687 3661h7M739 3590h7M783 3643h7M826 3610h7M685 3641h7M766 3647h7M681 3655h7M762 3631h7M668 3626h7M730 3618h7M772 3601h7M660 3570h7M755 3591h7M733 3663h7M714 3629h7M676 3598h7M759 3658h7M708 3625h7M749 3605h7M738 3609h7M760 3600h7M716 3582h7M703 3580h7M729 3660h7M682 3608h7M704 3648h7M723 3616h7M696 3625h7M721 3600h7M793 3626h7M728 3636h7M829 3620h7M713 3628h7M782 3627h7M724 3630h7M689 3625h7M718 3620h7M791 3610h7M783 3611h7M673 3682h7M713 3625h7M780 3660h7M742 3666h7M715 3651h7M698 3667h7M712 3652h7M686 3686h7M802 3597h7M738 3590h7M727 3576h7M765 3613h7M783 3611h7M726 3597h7M761 3612h7M686 3585h7M774 3610h7M732 3605h7M713 3629h7M743 3580h7M837 3628h7M657 3646h7M781 3589h7M679 3657h7M710 3630h7M803 3606h7M790 3582h7M660 3630h7M719 3651h7M753 3551h7M689 3620h7M705 3609h7M721 3632h7M673 3608h7M698 3674h7M728 3574h7M755 3650h7M669 3599h7M753 3620h7M760 3672h7M762 3650h7M715 3677h7M706 3642h7M652 3631h7M767 3583h7M716 3554h7M721 3582h7M737 3606h7M707 3619h7M718 3627h7M724 3665h7M779 3526h7M790 3601h7M750 3588h7M760 3636h7M712 3591h7M756 3633h7M698 3560h7M690 3649h7M787 3576h7M712 3592h7M750 3592h7M804 3625h7M727 3611h7M777 3599h7M719 3631h7M778 3660h7M721 3585h7M698 3627h7M761 3526h7M762 3630h7M744 3570h7M739 3604h7M697 3653h7M786 3616h7M759 3651h7M737 3608h7M796 3586h7M723 3637h7M719 3595h7M780 3610h7M708 3610h7M760 3644h7M744 3660h7M735 3677h7M773 3574h7M732 3635h7M735 3589h7M755 3615h7M676 3595h7M720 3658h7M735 3629h7M774 3605h7M737 3620h7M773 3591h7M752 3594h7M740 3659h7M705 3647h7M739 3629h7M757 3619h7M756 3678h7M709 3593h7M766 3628h7M816 3580h7M765 3596h7M717 3607h7M704 3599h7M724 3620h7M739 3649h7M701 3629h7M702 3659h7M700 3620h7M705 3667h7M689 3596h7M721 3614h7M700 3670h7M715 3558h7M729 3580h7M711 3612h7M701 3618h7M721 3647h7M836 3573h7M718 3665h7M803 3631h7M726 3690h7M740 3662h7M715 3586h7M789 3579h7M696 3638h7M700 3654h7M740 3615h7M714 3677h7M791 3646h7M685 3691h7M741 3679h7M757 3594h7M672 3617h7M784 3595h7M801 3562h7M762 3612h7M682 3649h7M721 3617h7M655 3610h7M711 3624h7M704 3699h7M720 3634h7M724 3668h7M759 3650h7M676 3644h7M731 3645h7M710 3634h7M698 3621h7M750 3602h7M703 3626h7M749 3633h7M690 3620h7M691 3601h7M829 3639h7M764 3606h7M770 3666h7M784 3634h7M697 3713h7M766 3644h7M750 3632h7M720 3569h7M806 3692h7M755 3640h7M735 3648h7M730 3621h7M760 3559h7M791 3595h7M757 3638h7M798 3663h7M685 3604h7M742 3566h7M760 3612h7M705 3659h7M699 3607h7M735 3652h7M728 3613h7M743 3608h7M663 3673h7M754 3655h7M740 3637h7M670 3594h7M659 3682h7M708 3675h7M752 3603h7M731 3597h7M717 3639h7M761 3599h7M673 3678h7M691 3659h7M675 3608h7M656 3666h7M752 3723h7M808 3608h7M654 3637h7M744 3633h7M740 3587h7M722 3690h7M713 3616h7M687 3614h7M781 3623h7M714 3616h7M766 3595h7M703 3621h7M633 3688h7M702 3657h7M733 3658h7M713 3712h7M756 3610h7M746 3550h7M689 3566h7M723 3699h7M747 3570h7M673 3652h7M759 3610h7M791 3616h7M814 3631h7M815 3513h7M764 3642h7M793 3628h7M749 3630h7M742 3640h7M797 3552h7M716 3579h7M710 3639h7M741 3634h7M763 3630h7M721 3623h7M692 3619h7M730 3637h7M671 3677h7M731 3572h7M727 3644h7M737 3608h7M698 3640h7M740 3632h7M718 3669h7M662 3642h7M669 3575h7M740 3650h7M722 3641h7M726 3664h7M710 3648h7M746 3567h7M779 3592h7M688 3613h7M767 3601h7M764 3584h7M743 3563h7M721 3670h7M712 3635h7M661 3698h7M724 3641h7M718 3593h7M751 3478h7M721 3491h7M724 3465h7M644 3428h7M780 3520h7M756 3535h7M840 3530h7M771 3496h7M781 3552h7M670 3664h7M807 3539h7M740 3495h7M733 3605h7M736 3380h7M756 3438h7M774 3514h7M729 3386h7M751 3404h7M757 3516h7M748 3515h7M748 3628h7M689 3420h7M814 3410h7M792 3486h7M765 3396h7M748 3491h7M673 3504h7M746 3332h7M772 3476h7M700 3590h7M759 3416h7M727 3525h7M741 3556h7M711 3522h7M784 3542h7M730 3430h7M716 3509h7M676 3714h7M753 3593h7M751 3602h7M753 3579h7M807 3524h7M710 3534h7M771 3479h7M754 3555h7M676 3544h7M833 3452h7M816 3468h7M751 3476h7M763 3444h7M739 3485h7M725 3498h7M808 3439h7M772 3445h7M715 3501h7M752 3577h7M794 3509h7M736 3604h7M708 3445h7M795 3532h7M790 3485h7M795 3590h7M682 3541h7M805 3424h7M723 3529h7M790 3500h7M695 3518h7M759 3473h7M807 3342h7M768 3457h7M788 3478h7M837 3515h7M741 3380h7M752 3498h7M830 3529h7M772 3433h7M773 3429h7M704 3535h7M745 3401h7M812 3593h7M783 3378h7M728 3429h7M775 3755h7M802 3493h7M728 3397h7M733 3514h7M753 3539h7M786 3416h7M799 3503h7M832 3491h7M749 3492h7M816 3540h7M814 3578h7M778 3675h7M760 3484h7M811 3415h7M778 3576h7M727 3360h7M704 3586h7M870 3435h7M709 3407h7M831 3558h7M793 3447h7M793 3446h7M789 3444h7M711 3468h7M782 3525h7M742 3569h7M697 3354h7M790 3489h7M763 3467h7M787 3518h7M823 3430h7M711 3491h7M754 3478h7M674 3528h7M837 3528h7M818 3545h7M776 3531h7M812 3535h7M793 3496h7M734 3527h7M748 3544h7M671 3633h7M822 3614h7M782 3422h7M749 3413h7M783 3502h7M773 3362h7M702 3336h7M826 3538h7M768 3474h7M690 3473h7M748 3438h7M809 3349h7M773 3561h7M801 3388h7M647 3604h7M827 3489h7M755 3526h7M813 3510h7M752 3517h7M783 3654h7M768 3432h7M849 3613h7M830 3430h7M742 3398h7M762 3600h7M808 3504h7M777 3537h7M761 3422h7M737 3625h7M727 3415h7M792 3476h7M753 3513h7M762 3377h7M808 3517h7M842 3565h7M743 3468h7M737 3335h7M800 3450h7M811 3514h7M763 3623h7M727 3633h7M752 3662h7M818 3462h7M844 3533h7M783 3471h7M766 3470h7M754 3561h7M804 3595h7M821 3496h7M801 3482h7M794 3548h7M785 3442h7M718 3630h7M734 3455h7M786 3473h7M787 3604h7M702 3509h7M795 3397h7M801 3612h7M771 3538h7M756 3575h7M747 3502h7M740 3448h7M819 3498h7M808 3383h7M718 3434h7M852 3589h7M866 3468h7M795 3529h7M758 3547h7M768 3538h7M692 3424h7M726 3628h7M807 3430h7M791 3459h7M720 3433h7M898 3509h7M765 3595h7M781 3419h7M862 3667h7M804 3438h7M767 3511h7M721 3700h7M770 3460h7M758 3477h7M660 3513h7M820 3519h7M788 3497h7M694 3546h7M799 3425h7M720 3458h7M712 3316h7M752 3458h7M774 3592h7M730 3386h7M765 3553h7M832 3573h7M775 3506h7M695 3554h7M803 3496h7M756 3533h7M788 3541h7M787 3388h7M745 3378h7M804 3695h7M735 3492h7M780 3449h7M843 3517h7M862 3673h7M790 3445h7M826 3482h7M734 3486h7M818 3442h7M759 3567h7M757 3568h7M822 3465h7M718 3413h7M824 3543h7M773 3473h7M815 3466h7M887 3526h7M700 3581h7M780 3501h7M761 3591h7M748 3618h7M736 3570h7M704 3574h7M727 3484h7M802 3444h7M792 3502h7M825 3569h7M780 3488h7M730 3607h7M759 3408h7M734 3361h7M731 3468h7M779 3570h7M800 3309h7M737 3464h7M776 3424h7M721 3470h7M755 3409h7M754 3411h7M774 3495h7M763 3385h7M754 3415h7M783 3474h7M839 3482h7M678 3371h7M698 3444h7M873 3454h7M732 3513h7M790 3373h7M713 3519h7M796 3292h7M723 3461h7M694 3425h7M717 3318h7M734 3391h7M773 3315h7M772 3402h7M682 3502h7M737 3452h7M835 3451h7M805 3438h7M731 3437h7M683 3456h7M799 3452h7M726 3348h7M723 3407h7M690 3547h7M720 3433h7M736 3433h7M654 3360h7M757 3422h7M778 3391h7M799 3439h7M756 3426h7M810 3423h7M835 3433h7M771 3425h7M773 3455h7M728 3475h7M884 3459h7M764 3374h7M721 3373h7M771 3381h7M837 3398h7M715 3367h7M754 3416h7M804 3379h7M775 3486h7M745 3314h7M770 3490h7M778 3426h7M664 3528h7M749 3349h7M742 3435h7M761 3368h7M876 3504h7M807 3465h7M739 3350h7M696 3493h7M762 3529h7M648 3509h7M781 3390h7M802 3383h7M745 3458h7M766 3443h7M769 3491h7M717 3297h7M713 3271h7M853 3383h7M756 3446h7M720 3393h7M771 3425h7M798 3409h7M726 3332h7M676 3442h7M774 3399h7M818 3253h7M790 3349h7M742 3410h7M722 3407h7M772 3577h7M758 3471h7M799 3364h7M782 3399h7M802 3388h7M811 3368h7M735 3479h7M808 3480h7M856 3490h7M758 3485h7M718 3476h7M778 3415h7M723 3492h7M660 3414h7M689 3403h7M737 3372h7M728 3443h7M855 3536h7M749 3398h7M788 3371h7M686 3487h7M738 3522h7M775 3332h7M773 3456h7M761 3338h7M685 3544h7M621 3364h7M798 3540h7M790 3423h7M777 3498h7M732 3506h7M770 3438h7M780 3445h7M617 3671h7M634 3621h7M560 3570h7M676 3632h7M650 3620h7M678 3617h7M595 3576h7M622 3636h7M711 3657h7M627 3590h7M686 3651h7M651 3649h7M677 3650h7M706 3595h7M628 3612h7M614 3683h7M668 3646h7M685 3630h7M687 3631h7M684 3652h7M705 3596h7M617 3604h7M621 3638h7M692 3627h7M696 3664h7M630 3647h7M711 3627h7M567 3635h7M665 3651h7M674 3633h7M653 3609h7M731 3688h7M648 3607h7M671 3681h7M656 3609h7M691 3645h7M622 3621h7M660 3601h7M665 3671h7M696 3674h7M684 3634h7M678 3671h7M656 3647h7M629 3629h7M635 3598h7M670 3699h7M587 3608h7M662 3612h7M661 3658h7M590 3620h7M677 3652h7M726 3649h7M703 3623h7M619 3612h7M637 3656h7M684 3637h7M619 3631h7M638 3619h7M586 3667h7M677 3722h7M761 3650h7M742 3634h7M765 3648h7M582 3621h7M686 3687h7M693 3690h7M662 3590h7M661 3608h7M688 3576h7M616 3593h7M659 3663h7M643 3593h7M634 3625h7M701 3643h7M709 3558h7M725 3707h7M634 3708h7M593 3651h7M603 3607h7M675 3642h7M666 3629h7M581 3574h7M621 3599h7M636 3580h7M650 3646h7M635 3669h7M663 3661h7M619 3633h7M598 3569h7M585 3610h7M664 3696h7M667 3624h7M696 3642h7M655 3637h7M694 3685h7M598 3627h7M636 3630h7M749 3640h7M557 3643h7M636 3603h7M743 3705h7M695 3646h7M626 3671h7M645 3638h7M648 3636h7M576 3585h7M603 3561h7M608 3611h7M647 3629h7M637 3661h7M572 3605h7M645 3606h7M710 3637h7M699 3655h7M644 3660h7M596 3588h7M639 3560h7M637 3624h7M585 3592h7M602 3694h7M705 3658h7M663 3673h7M659 3670h7M690 3700h7M697 3622h7M679 3669h7M681 3701h7M666 3622h7M690 3672h7M654 3648h7M660 3641h7M669 3623h7M684 3648h7M724 3652h7M659 3598h7M745 3639h7M634 3622h7M655 3630h7M723 3629h7M646 3618h7M679 3588h7M695 3628h7M598 3667h7M602 3645h7M656 3613h7M588 3602h7M685 3635h7M632 3657h7M656 3635h7M620 3587h7"/>
<ellipse cx="70.5" cy="367.3" rx="10" ry="3.6" fill="#000" fill-opacity="0.95" filter="url(#b12)" transform="rotate(0 70.5 367.3)"/>
<ellipse cx="74.5" cy="363.3" rx="4" ry="3" fill="#000" fill-opacity="0.5" filter="url(#b15)" transform="rotate(0 74.5 363.3)"/>
<rect x="67.2" y="334" width="17.6" height="21.8" fill="none" stroke="#777" stroke-width="0.7"/>
<text x="47.6" y="331" font-size="8" text-anchor="start" font-weight="normal" fill="#222" transform="translate(0 -29.790) scale(1 1.09)" stroke="#222" stroke-width="0.18">6.7%</text>
<rect x="105" y="309.8" width="67.80000000000001" height="67.59999999999997" fill="none" stroke="#b8b8b8" stroke-width="0.8"/>
<line x1="103.8" y1="313.8" x2="105" y2="313.8" stroke="#555" stroke-width="0.7"/>
<line x1="103.8" y1="319.4" x2="105" y2="319.4" stroke="#555" stroke-width="0.7"/>
<line x1="103.8" y1="325.0" x2="105" y2="325.0" stroke="#555" stroke-width="0.7"/>
<line x1="103.8" y1="330.6" x2="105" y2="330.6" stroke="#555" stroke-width="0.7"/>
<line x1="103.8" y1="336.2" x2="105" y2="336.2" stroke="#555" stroke-width="0.7"/>
<line x1="103.8" y1="341.8" x2="105" y2="341.8" stroke="#555" stroke-width="0.7"/>
<line x1="103.8" y1="347.4" x2="105" y2="347.4" stroke="#555" stroke-width="0.7"/>
<line x1="103.8" y1="353.0" x2="105" y2="353.0" stroke="#555" stroke-width="0.7"/>
<line x1="103.8" y1="358.6" x2="105" y2="358.6" stroke="#555" stroke-width="0.7"/>
<line x1="103.8" y1="364.2" x2="105" y2="364.2" stroke="#555" stroke-width="0.7"/>
<line x1="103.8" y1="369.8" x2="105" y2="369.8" stroke="#555" stroke-width="0.7"/>
<line x1="103.8" y1="375.4" x2="105" y2="375.4" stroke="#555" stroke-width="0.7"/>
<line x1="108.0" y1="377.4" x2="108.0" y2="378.59999999999997" stroke="#555" stroke-width="0.7"/>
<line x1="113.6" y1="377.4" x2="113.6" y2="378.59999999999997" stroke="#555" stroke-width="0.7"/>
<line x1="119.2" y1="377.4" x2="119.2" y2="378.59999999999997" stroke="#555" stroke-width="0.7"/>
<line x1="124.9" y1="377.4" x2="124.9" y2="378.59999999999997" stroke="#555" stroke-width="0.7"/>
<line x1="130.5" y1="377.4" x2="130.5" y2="378.59999999999997" stroke="#555" stroke-width="0.7"/>
<line x1="136.1" y1="377.4" x2="136.1" y2="378.59999999999997" stroke="#555" stroke-width="0.7"/>
<line x1="141.7" y1="377.4" x2="141.7" y2="378.59999999999997" stroke="#555" stroke-width="0.7"/>
<line x1="147.3" y1="377.4" x2="147.3" y2="378.59999999999997" stroke="#555" stroke-width="0.7"/>
<line x1="152.9" y1="377.4" x2="152.9" y2="378.59999999999997" stroke="#555" stroke-width="0.7"/>
<line x1="158.6" y1="377.4" x2="158.6" y2="378.59999999999997" stroke="#555" stroke-width="0.7"/>
<line x1="164.2" y1="377.4" x2="164.2" y2="378.59999999999997" stroke="#555" stroke-width="0.7"/>
<line x1="169.8" y1="377.4" x2="169.8" y2="378.59999999999997" stroke="#555" stroke-width="0.7"/>
<circle cx="105" cy="369.4" r="0.9" fill="#111"/>
<circle cx="113" cy="377.4" r="0.9" fill="#111"/>
<path transform="scale(0.1)" stroke="#000" stroke-opacity="0.45" stroke-width="7" d="M1469 3652h7M1472 3653h7M1481 3638h7M1492 3654h7M1372 3644h7M1484 3632h7M1548 3676h7M1558 3664h7M1520 3648h7M1536 3626h7M1487 3653h7M1486 3610h7M1489 3633h7M1459 3661h7M1554 3647h7M1431 3639h7M1484 3615h7M1461 3648h7M1462 3656h7M1422 3662h7M1456 3647h7M1495 3630h7M1552 3595h7M1505 3662h7M1481 3642h7M1431 3643h7M1503 3628h7M1495 3634h7M1438 3642h7M1451 3668h7M1451 3682h7M1493 3643h7M1454 3656h7M1437 3602h7M1518 3587h7M1557 3629h7M1581 3650h7M1584 3604h7M1470 3651h7M1463 3646h7M1485 3662h7M1573 3585h7M1529 3612h7M1584 3603h7M1448 3658h7M1484 3662h7M1514 3623h7M1404 3675h7M1482 3641h7M1477 3637h7M1454 3645h7M1508 3610h7M1406 3659h7M1542 3629h7M1485 3630h7M1516 3642h7M1463 3623h7M1518 3653h7M1470 3654h7M1322 3632h7M1504 3589h7M1462 3650h7M1564 3654h7M1425 3668h7M1478 3666h7M1416 3599h7M1405 3659h7M1560 3650h7M1504 3641h7M1505 3616h7M1562 3665h7M1547 3641h7M1541 3670h7M1634 3673h7M1452 3622h7M1542 3657h7M1525 3645h7M1449 3647h7M1413 3651h7M1621 3663h7M1446 3620h7M1628 3661h7M1465 3659h7M1476 3615h7M1502 3657h7M1566 3610h7M1577 3637h7M1383 3670h7M1550 3658h7M1541 3619h7M1523 3599h7M1458 3712h7M1587 3654h7M1522 3646h7M1530 3649h7M1442 3634h7M1387 3620h7M1485 3654h7M1619 3600h7M1612 3632h7M1470 3641h7M1617 3614h7M1473 3658h7M1548 3654h7M1501 3670h7M1440 3686h7M1467 3654h7M1443 3627h7M1550 3659h7M1484 3665h7M1675 3578h7M1379 3649h7M1398 3671h7M1448 3644h7M1448 3699h7M1580 3598h7M1532 3635h7M1577 3653h7M1453 3632h7M1497 3690h7M1500 3630h7M1472 3667h7M1477 3691h7M1544 3648h7M1501 3635h7M1361 3676h7M1580 3638h7M1510 3607h7M1483 3649h7M1490 3645h7M1551 3663h7M1539 3628h7M1466 3644h7M1405 3605h7M1513 3644h7M1499 3676h7M1374 3655h7M1482 3609h7M1532 3682h7M1411 3645h7M1549 3645h7M1469 3670h7M1398 3643h7M1458 3642h7M1424 3649h7M1564 3656h7M1422 3630h7M1452 3604h7M1536 3657h7M1485 3684h7M1535 3628h7M1497 3640h7M1494 3679h7M1566 3618h7M1605 3601h7M1480 3710h7M1533 3676h7M1503 3658h7M1458 3684h7M1483 3630h7M1411 3703h7M1411 3617h7M1522 3645h7M1593 3661h7M1514 3623h7M1526 3605h7M1452 3681h7M1510 3613h7M1459 3641h7M1513 3650h7M1541 3564h7M1536 3594h7M1469 3648h7M1554 3627h7M1420 3622h7M1510 3709h7M1425 3630h7M1455 3675h7M1527 3640h7M1512 3687h7M1479 3614h7M1497 3611h7M1508 3668h7M1475 3669h7M1563 3694h7M1475 3660h7M1541 3666h7M1549 3658h7M1535 3669h7M1523 3660h7M1511 3643h7M1393 3643h7M1497 3630h7M1470 3678h7M1481 3584h7M1466 3641h7M1565 3653h7M1525 3630h7M1464 3602h7M1531 3645h7M1456 3646h7M1558 3670h7M1540 3676h7M1509 3645h7M1495 3658h7M1400 3652h7M1498 3621h7M1464 3676h7M1474 3642h7M1579 3619h7M1493 3633h7M1467 3640h7M1526 3637h7M1548 3665h7M1436 3646h7M1486 3610h7M1396 3672h7M1512 3678h7M1583 3665h7M1516 3679h7M1488 3634h7M1550 3662h7M1467 3634h7M1425 3701h7M1475 3631h7M1462 3631h7M1502 3646h7M1540 3578h7M1503 3690h7M1498 3629h7M1607 3631h7M1534 3651h7M1487 3618h7M1504 3650h7M1597 3604h7M1409 3660h7M1412 3569h7M1477 3675h7M1394 3604h7M1578 3621h7M1446 3640h7M1585 3639h7M1539 3640h7M1436 3652h7M1395 3672h7M1406 3648h7M1376 3642h7M1518 3625h7M1603 3644h7M1520 3605h7M1467 3651h7M1537 3660h7M1417 3605h7M1433 3675h7M1397 3611h7M1502 3643h7M1491 3622h7M1514 3641h7M1484 3650h7M1482 3639h7M1558 3663h7M1499 3648h7M1571 3609h7M1388 3645h7M1399 3616h7M1507 3650h7M1476 3624h7M1413 3625h7M1449 3643h7M1546 3636h7M1432 3656h7M1562 3653h7M1470 3634h7M1477 3616h7M1546 3636h7M1601 3677h7M1468 3713h7M1468 3623h7M1396 3644h7M1516 3635h7M1488 3657h7M1451 3643h7M1480 3685h7M1532 3642h7M1438 3640h7M1450 3635h7M1514 3666h7M1551 3629h7M1505 3643h7M1541 3703h7M1551 3668h7M1508 3658h7M1385 3653h7M1486 3643h7M1535 3728h7M1510 3612h7M1474 3667h7M1534 3649h7M1525 3623h7M1578 3590h7M1476 3624h7M1469 3650h7M1501 3670h7M1600 3658h7M1444 3645h7M1452 3624h7M1473 3670h7M1451 3653h7M1453 3668h7M1559 3606h7M1536 3622h7M1513 3642h7M1542 3611h7M1600 3654h7M1460 3678h7M1570 3659h7M1467 3623h7M1446 3687h7M1498 3644h7M1475 3677h7M1475 3668h7M1397 3624h7M1513 3619h7M1600 3590h7M1516 3659h7M1520 3643h7M1489 3739h7M1510 3628h7M1346 3694h7M1494 3693h7M1494 3674h7M1570 3630h7M1368 3676h7M1601 3605h7M1467 3643h7M1481 3661h7M1489 3661h7M1450 3603h7M1595 3652h7M1517 3614h7M1520 3644h7M1522 3648h7M1553 3682h7M1476 3635h7M1535 3606h7M1456 3635h7M1380 3696h7M1480 3639h7M1430 3659h7M1470 3613h7M1514 3686h7M1413 3644h7M1614 3640h7M1456 3688h7M1508 3670h7M1586 3662h7M1513 3696h7M1413 3615h7M1483 3629h7M1486 3595h7M1406 3664h7M1484 3656h7M1474 3644h7M1412 3692h7M1552 3609h7M1470 3654h7M1472 3644h7M1507 3596h7M1536 3658h7M1442 3640h7M1490 3638h7M1498 3604h7M1498 3656h7M1516 3657h7M1464 3649h7M1548 3647h7M1507 3647h7M1524 3611h7M1492 3668h7M1446 3660h7M1470 3634h7M1433 3621h7M1560 3606h7M1503 3609h7M1606 3664h7M1451 3615h7M1480 3654h7M1586 3684h7M1441 3651h7M1546 3626h7M1469 3670h7M1419 3646h7M1491 3637h7M1496 3601h7M1540 3633h7M1603 3698h7M1470 3697h7M1573 3623h7M1481 3677h7M1455 3636h7M1357 3607h7M1431 3626h7M1455 3652h7M1509 3635h7M1420 3651h7M1529 3644h7M1570 3633h7M1541 3652h7M1567 3689h7M1431 3597h7M1552 3654h7M1514 3633h7M1454 3677h7M1521 3631h7M1498 3653h7M1423 3628h7M1523 3649h7M1419 3653h7M1604 3662h7M1423 3633h7M1461 3624h7M1450 3630h7M1490 3612h7M1546 3654h7M1602 3667h7M1548 3659h7M1489 3616h7M1532 3648h7M1459 3656h7M1513 3628h7M1574 3632h7M1502 3674h7M1467 3637h7M1520 3636h7M1468 3615h7M1508 3635h7M1540 3672h7M1494 3666h7M1457 3688h7M1465 3642h7M1475 3632h7M1539 3645h7M1447 3666h7M1497 3661h7M1507 3633h7M1396 3637h7M1447 3678h7M1483 3685h7M1621 3676h7M1626 3621h7M1468 3618h7M1422 3611h7M1544 3624h7M1477 3661h7M1473 3687h7M1560 3664h7M1586 3660h7M1506 3675h7M1552 3610h7M1556 3673h7M1372 3700h7M1504 3683h7M1431 3651h7M1457 3623h7M1510 3607h7M1494 3664h7M1454 3617h7M1526 3670h7M1545 3631h7M1473 3682h7M1543 3654h7M1508 3641h7M1529 3664h7M1498 3653h7M1420 3642h7M1582 3651h7M1421 3633h7M1500 3684h7M1612 3645h7M1487 3649h7M1435 3681h7M1430 3665h7M1470 3618h7M1513 3690h7M1429 3651h7M1458 3674h7M1415 3612h7M1474 3612h7M1549 3606h7M1499 3633h7M1549 3632h7M1485 3690h7M1530 3679h7M1573 3659h7M1512 3601h7M1401 3635h7M1511 3675h7M1453 3637h7M1608 3616h7M1485 3643h7M1457 3685h7M1409 3638h7M1404 3627h7M1580 3593h7M1404 3646h7M1515 3626h7M1519 3641h7M1474 3648h7M1562 3615h7M1542 3653h7M1484 3626h7M1514 3667h7M1444 3665h7M1497 3668h7M1510 3641h7M1507 3663h7M1416 3646h7M1363 3651h7M1469 3646h7M1549 3670h7M1573 3671h7M1484 3625h7M1636 3628h7M1476 3657h7M1451 3650h7M1507 3632h7M1439 3647h7M1518 3620h7M1503 3648h7M1447 3657h7M1421 3670h7M1456 3673h7M1501 3647h7M1422 3666h7M1435 3705h7M1519 3651h7M1497 3664h7M1520 3656h7M1543 3642h7M1583 3606h7M1405 3661h7M1494 3606h7M1429 3627h7M1564 3663h7M1405 3610h7M1503 3613h7M1462 3630h7M1498 3661h7M1457 3632h7M1510 3689h7M1518 3636h7M1546 3642h7M1420 3663h7M1584 3616h7M1537 3613h7M1491 3643h7M1476 3643h7M1532 3632h7M1483 3638h7M1510 3629h7M1538 3654h7M1463 3612h7M1481 3673h7M1530 3646h7M1606 3687h7M1524 3683h7M1481 3636h7M1508 3596h7M1497 3632h7M1569 3661h7M1580 3634h7M1576 3650h7M1524 3656h7M1426 3670h7M1471 3663h7M1493 3620h7M1478 3653h7M1479 3691h7M1561 3648h7M1476 3684h7M1498 3676h7M1421 3593h7M1537 3670h7M1487 3641h7M1521 3660h7M1491 3646h7M1508 3674h7M1534 3577h7M1515 3638h7M1554 3665h7M1467 3643h7M1368 3642h7M1436 3649h7M1456 3678h7M1566 3636h7M1447 3680h7M1422 3636h7M1475 3652h7M1498 3621h7M1543 3656h7M1513 3687h7M1598 3652h7M1473 3638h7M1489 3617h7M1457 3632h7M1524 3665h7M1361 3603h7M1462 3617h7M1494 3599h7M1483 3651h7M1517 3634h7M1518 3665h7M1476 3618h7M1467 3653h7M1510 3601h7M1414 3603h7M1594 3657h7M1505 3614h7M1380 3699h7M1529 3580h7M1583 3656h7M1493 3652h7M1544 3592h7M1511 3611h7M1473 3640h7M1472 3626h7M1505 3635h7M1510 3665h7M1448 3640h7M1448 3667h7M1535 3673h7M1553 3649h7M1441 3625h7M1561 3649h7M1539 3630h7M1483 3696h7M1549 3603h7M1457 3649h7M1553 3671h7M1542 3678h7M1533 3668h7M1447 3613h7M1467 3679h7M1569 3617h7M1480 3647h7M1527 3654h7M1576 3652h7M1483 3639h7M1555 3639h7M1524 3634h7M1431 3588h7M1479 3624h7M1540 3635h7M1444 3665h7M1472 3701h7M1470 3647h7M1453 3686h7M1511 3639h7M1490 3590h7M1564 3646h7M1559 3623h7M1574 3628h7M1497 3699h7M1468 3646h7M1487 3648h7M1503 3641h7M1519 3634h7M1568 3663h7M1433 3631h7M1477 3671h7M1389 3675h7M1388 3629h7M1448 3636h7M1538 3670h7M1489 3640h7M1442 3676h7M1469 3717h7M1410 3628h7M1533 3694h7M1478 3657h7M1461 3651h7M1380 3662h7M1466 3657h7M1488 3620h7M1410 3619h7M1493 3665h7M1556 3671h7M1608 3672h7M1593 3666h7M1513 3600h7M1548 3642h7M1474 3610h7M1564 3645h7M1472 3624h7M1490 3657h7M1528 3648h7M1507 3647h7M1472 3676h7M1488 3630h7M1589 3620h7M1470 3648h7M1486 3643h7M1548 3672h7M1422 3695h7M1431 3618h7M1532 3619h7M1429 3667h7M1523 3656h7M1572 3673h7M1470 3633h7M1518 3634h7M1509 3669h7M1509 3608h7M1585 3644h7M1514 3602h7M1493 3611h7M1582 3633h7M1419 3642h7M1444 3647h7M1444 3600h7M1485 3637h7M1451 3663h7M1541 3643h7M1490 3655h7M1545 3650h7M1434 3662h7M1625 3662h7M1513 3630h7M1411 3659h7M1527 3657h7M1503 3679h7M1489 3596h7M1487 3650h7M1538 3660h7M1533 3658h7M1511 3614h7M1478 3672h7M1585 3575h7M1487 3634h7M1542 3593h7M1464 3650h7M1451 3600h7M1597 3639h7M1498 3662h7M1599 3627h7M1487 3636h7M1547 3670h7M1581 3634h7M1429 3629h7M1391 3655h7M1382 3657h7M1437 3657h7M1576 3642h7M1487 3646h7M1460 3654h7M1481 3649h7M1450 3659h7M1513 3622h7M1491 3608h7M1417 3616h7M1517 3635h7M1492 3653h7M1479 3640h7M1464 3703h7M1450 3661h7M1481 3693h7M1432 3643h7M1516 3632h7M1611 3652h7M1517 3601h7M1517 3613h7M1525 3655h7M1488 3630h7M1450 3628h7M1579 3624h7M1478 3656h7M1420 3634h7M1557 3652h7M1525 3664h7M1493 3583h7M1536 3660h7M1364 3640h7M1572 3615h7M1546 3684h7M1488 3638h7M1439 3662h7M1507 3660h7M1491 3646h7M1461 3674h7M1486 3678h7M1543 3626h7M1433 3673h7M1516 3636h7M1551 3592h7M1526 3636h7M1534 3630h7M1468 3663h7M1515 3607h7M1523 3664h7M1404 3620h7M1432 3619h7M1456 3695h7M1439 3620h7M1480 3680h7M1472 3670h7M1551 3634h7M1516 3671h7M1507 3688h7M1515 3687h7M1439 3651h7M1363 3608h7M1464 3635h7M1482 3659h7M1415 3600h7M1535 3653h7M1546 3667h7M1511 3631h7M1521 3620h7M1422 3636h7M1616 3620h7M1567 3640h7M1588 3632h7M1429 3628h7M1483 3660h7M1454 3651h7M1623 3646h7M1530 3715h7M1452 3645h7M1475 3652h7M1450 3637h7M1534 3645h7M1388 3675h7M1514 3696h7M1448 3655h7M1444 3666h7M1463 3679h7M1500 3587h7M1432 3663h7M1535 3672h7M1521 3633h7M1501 3646h7M1494 3672h7M1443 3637h7M1566 3642h7M1524 3631h7M1497 3679h7M1581 3646h7M1459 3685h7M1390 3640h7M1533 3708h7M1551 3642h7M1490 3644h7M1442 3634h7M1511 3600h7M1449 3567h7M1545 3648h7M1403 3606h7M1455 3688h7M1520 3616h7M1466 3602h7M1441 3599h7M1592 3664h7M1564 3657h7M1452 3671h7M1520 3626h7M1403 3644h7M1427 3637h7M1381 3596h7M1546 3659h7M1501 3638h7M1504 3619h7M1536 3687h7M1460 3604h7M1494 3599h7M1602 3642h7M1516 3650h7M1465 3625h7M1434 3698h7M1497 3674h7M1576 3637h7M1465 3634h7M1514 3618h7M1546 3638h7M1451 3663h7M1572 3621h7M1483 3640h7M1522 3666h7M1487 3620h7M1460 3668h7M1595 3650h7M1448 3712h7M1557 3625h7M1423 3620h7M1657 3678h7M1438 3624h7M1473 3610h7M1526 3615h7M1480 3660h7M1479 3671h7M1464 3676h7M1457 3629h7M1412 3654h7M1531 3645h7M1573 3662h7M1513 3600h7M1483 3654h7M1427 3684h7M1511 3685h7M1425 3693h7M1569 3648h7M1474 3688h7M1439 3639h7M1556 3642h7M1448 3614h7M1466 3679h7M1645 3618h7M1426 3661h7M1484 3633h7M1485 3681h7M1536 3624h7M1522 3612h7M1556 3590h7M1469 3669h7M1589 3658h7M1384 3639h7M1545 3662h7M1515 3629h7M1386 3632h7M1502 3627h7M1446 3655h7M1475 3649h7M1553 3625h7M1549 3614h7M1542 3656h7M1521 3664h7M1505 3598h7M1587 3650h7M1505 3646h7M1515 3638h7M1419 3613h7M1592 3661h7M1434 3688h7M1509 3614h7M1450 3627h7M1557 3665h7M1479 3638h7M1454 3648h7M1436 3669h7M1488 3670h7M1581 3653h7M1542 3562h7M1442 3651h7M1445 3674h7M1475 3640h7M1376 3663h7M1465 3680h7M1522 3643h7M1542 3637h7M1448 3643h7M1481 3674h7M1455 3615h7M1569 3669h7M1473 3648h7M1403 3690h7M1464 3586h7M1486 3658h7M1530 3651h7M1507 3640h7M1489 3638h7M1633 3647h7M1502 3588h7M1492 3660h7M1533 3602h7M1490 3688h7M1483 3639h7M1527 3642h7M1464 3627h7M1398 3650h7M1526 3661h7M1452 3656h7M1435 3600h7M1529 3610h7M1416 3636h7M1475 3687h7M1551 3702h7M1504 3600h7M1422 3652h7M1417 3657h7M1552 3661h7M1399 3675h7M1590 3673h7M1626 3623h7M1487 3668h7M1550 3686h7M1485 3626h7M1483 3625h7M1499 3635h7M1537 3625h7M1545 3623h7M1562 3678h7M1493 3639h7M1513 3657h7M1437 3664h7M1390 3613h7M1427 3650h7M1447 3580h7M1555 3629h7M1476 3654h7M1514 3661h7M1422 3653h7M1548 3665h7M1576 3605h7M1562 3605h7M1431 3650h7M1625 3678h7M1487 3647h7M1555 3611h7M1475 3628h7M1561 3660h7M1512 3678h7M1480 3620h7M1545 3594h7M1510 3644h7M1405 3650h7M1446 3682h7M1537 3670h7M1549 3645h7M1556 3662h7M1526 3674h7M1605 3599h7M1469 3605h7M1425 3664h7M1440 3639h7M1463 3672h7M1584 3648h7M1456 3629h7M1484 3600h7M1427 3650h7M1508 3650h7M1514 3625h7M1488 3617h7M1508 3590h7M1524 3651h7M1472 3649h7M1552 3647h7M1602 3678h7M1501 3639h7M1429 3615h7M1506 3648h7M1515 3691h7M1518 3656h7M1482 3615h7M1470 3642h7M1535 3664h7M1439 3642h7M1537 3606h7M1481 3605h7M1457 3677h7M1516 3704h7M1438 3670h7M1486 3601h7M1506 3651h7M1480 3678h7M1478 3665h7M1495 3630h7M1516 3674h7M1575 3678h7M1401 3608h7M1481 3678h7M1390 3649h7M1429 3666h7M1553 3637h7M1571 3665h7M1487 3685h7M1613 3643h7M1510 3654h7M1541 3634h7M1483 3678h7M1489 3681h7M1511 3692h7M1578 3614h7M1534 3639h7M1463 3669h7M1555 3660h7M1557 3690h7M1516 3662h7M1523 3687h7M1448 3643h7M1430 3630h7M1516 3636h7M1455 3639h7M1558 3702h7M1503 3625h7M1507 3628h7M1515 3664h7M1603 3625h7M1489 3623h7M1556 3619h7M1568 3695h7M1402 3675h7M1623 3648h7M1493 3701h7M1485 3643h7M1446 3663h7M1570 3624h7M1542 3659h7M1583 3643h7M1455 3652h7M1522 3638h7M1445 3663h7M1409 3614h7M1490 3608h7M1525 3601h7M1486 3657h7M1571 3623h7M1512 3679h7M1452 3656h7M1559 3676h7M1493 3656h7M1457 3661h7M1520 3631h7M1629 3664h7M1451 3647h7M1524 3617h7M1447 3666h7M1493 3644h7M1554 3638h7M1415 3615h7M1488 3641h7M1476 3622h7M1400 3639h7M1520 3653h7M1531 3727h7M1432 3629h7M1506 3580h7M1535 3643h7M1672 3643h7M1491 3646h7M1484 3627h7M1557 3655h7M1515 3638h7M1392 3633h7M1372 3628h7M1516 3638h7M1501 3689h7M1527 3673h7M1479 3637h7M1419 3686h7M1559 3644h7M1522 3653h7M1572 3660h7M1491 3617h7M1361 3581h7M1483 3679h7M1457 3639h7M1531 3690h7M1366 3642h7M1469 3668h7M1474 3598h7M1365 3599h7M1473 3616h7M1420 3700h7M1412 3637h7M1563 3645h7M1383 3646h7M1494 3682h7M1450 3603h7M1474 3615h7M1507 3663h7M1492 3644h7M1427 3607h7M1512 3684h7M1540 3712h7M1440 3586h7M1493 3653h7M1448 3593h7M1571 3593h7M1524 3669h7M1569 3644h7M1547 3638h7M1536 3682h7M1494 3597h7M1519 3562h7M1573 3628h7M1465 3673h7M1544 3659h7M1463 3665h7M1503 3635h7M1451 3658h7M1453 3681h7M1395 3617h7M1506 3598h7M1599 3606h7M1461 3634h7M1505 3684h7M1471 3631h7M1567 3645h7M1539 3647h7M1466 3628h7M1440 3623h7M1532 3592h7M1557 3590h7M1542 3562h7M1459 3646h7M1598 3566h7M1560 3556h7M1488 3618h7M1560 3605h7M1570 3586h7M1519 3600h7M1489 3592h7M1457 3574h7M1557 3568h7M1432 3581h7M1557 3584h7M1522 3616h7M1572 3572h7M1535 3659h7M1550 3570h7M1491 3588h7M1572 3514h7M1551 3574h7M1551 3595h7M1461 3596h7M1444 3611h7M1494 3634h7M1451 3624h7M1485 3589h7M1456 3675h7M1516 3600h7M1618 3513h7M1521 3565h7M1514 3584h7M1546 3615h7M1528 3634h7M1512 3555h7M1456 3642h7M1511 3615h7M1554 3557h7M1578 3606h7M1592 3601h7M1478 3627h7M1530 3546h7M1561 3577h7M1542 3646h7M1578 3567h7M1555 3622h7M1531 3630h7M1549 3574h7M1582 3572h7M1506 3587h7M1452 3650h7M1476 3547h7M1539 3518h7M1513 3623h7M1539 3604h7M1513 3566h7M1537 3618h7M1523 3628h7M1427 3590h7M1418 3609h7M1532 3551h7M1503 3598h7M1492 3596h7M1564 3585h7M1568 3599h7M1504 3603h7M1563 3566h7M1498 3643h7M1559 3608h7M1504 3595h7M1541 3605h7M1561 3549h7M1561 3552h7M1486 3589h7M1503 3636h7M1574 3653h7M1497 3608h7M1579 3523h7M1558 3650h7M1565 3560h7M1522 3601h7M1497 3568h7M1572 3553h7M1568 3548h7M1493 3527h7M1423 3684h7M1499 3589h7M1560 3537h7M1525 3633h7M1558 3636h7M1520 3545h7M1526 3613h7M1483 3596h7M1524 3669h7M1498 3576h7M1517 3576h7M1527 3577h7M1475 3585h7M1447 3672h7M1581 3576h7M1534 3616h7M1538 3562h7M1489 3632h7M1514 3612h7M1509 3629h7M1519 3605h7M1549 3521h7M1562 3630h7M1506 3545h7M1541 3561h7M1485 3658h7M1521 3560h7M1473 3622h7M1539 3605h7M1479 3584h7M1524 3582h7M1528 3583h7M1523 3602h7M1551 3631h7M1523 3527h7M1583 3529h7M1535 3633h7M1551 3633h7M1526 3669h7M1547 3534h7M1555 3576h7M1569 3560h7M1560 3542h7M1514 3594h7M1572 3556h7M1539 3629h7M1452 3666h7M1522 3603h7M1604 3572h7M1555 3630h7M1585 3621h7M1501 3614h7M1467 3569h7M1513 3588h7M1502 3575h7M1594 3533h7M1547 3547h7M1538 3563h7M1456 3545h7M1573 3624h7M1514 3592h7M1539 3539h7M1551 3689h7M1507 3544h7M1502 3601h7M1512 3657h7M1551 3569h7M1535 3577h7M1493 3655h7M1518 3577h7M1583 3570h7M1566 3495h7M1553 3549h7M1509 3630h7M1596 3498h7M1579 3570h7M1506 3635h7M1520 3577h7M1516 3590h7M1504 3637h7M1592 3546h7M1498 3597h7M1494 3606h7M1531 3593h7M1495 3613h7M1474 3595h7M1519 3598h7M1559 3580h7M1484 3620h7M1519 3623h7M1592 3629h7M1524 3562h7M1534 3586h7M1495 3551h7M1572 3549h7M1567 3620h7M1487 3618h7M1522 3546h7M1500 3606h7M1564 3560h7M1516 3632h7M1508 3576h7M1463 3626h7M1496 3569h7M1506 3574h7M1643 3545h7M1556 3543h7M1559 3598h7M1509 3675h7M1486 3568h7M1409 3546h7M1496 3600h7M1556 3584h7M1493 3570h7M1591 3562h7M1595 3573h7M1510 3586h7M1545 3617h7M1510 3616h7M1473 3553h7M1460 3596h7M1498 3626h7M1510 3584h7M1512 3548h7M1474 3673h7M1548 3540h7M1475 3620h7M1436 3540h7M1506 3580h7M1556 3550h7M1473 3623h7M1486 3610h7M1448 3602h7M1598 3527h7M1522 3591h7M1530 3588h7M1554 3564h7M1487 3611h7M1534 3531h7M1554 3574h7M1564 3584h7M1474 3595h7M1552 3623h7M1517 3618h7M1578 3591h7M1583 3602h7M1486 3563h7M1491 3662h7M1572 3551h7M1523 3665h7M1492 3604h7M1511 3628h7M1449 3626h7M1532 3632h7M1542 3603h7M1487 3614h7M1504 3662h7M1538 3593h7M1531 3596h7M1509 3621h7M1524 3565h7M1561 3611h7M1571 3569h7M1563 3637h7M1551 3602h7M1523 3542h7M1484 3604h7M1567 3602h7M1504 3608h7M1521 3572h7M1524 3624h7M1479 3593h7M1524 3561h7M1488 3620h7M1611 3575h7M1504 3655h7M1531 3530h7M1503 3535h7M1512 3648h7M1607 3685h7M1565 3574h7M1499 3589h7M1482 3575h7M1539 3596h7M1533 3588h7M1466 3630h7M1526 3623h7M1532 3560h7M1563 3612h7M1515 3622h7M1543 3575h7M1534 3567h7M1579 3566h7M1564 3646h7M1528 3618h7M1584 3517h7M1611 3594h7M1477 3614h7M1612 3577h7M1581 3617h7M1500 3615h7M1595 3551h7M1530 3576h7M1504 3595h7M1440 3597h7M1457 3581h7M1503 3637h7M1482 3637h7M1509 3574h7M1458 3619h7M1522 3623h7M1501 3532h7M1547 3635h7M1527 3600h7M1545 3600h7M1629 3565h7M1546 3621h7M1547 3533h7M1541 3581h7M1486 3638h7M1499 3617h7M1498 3624h7M1579 3553h7M1494 3636h7M1490 3641h7M1541 3561h7M1503 3647h7M1559 3592h7M1534 3631h7M1501 3614h7M1544 3636h7M1511 3594h7M1536 3586h7M1516 3618h7M1506 3592h7M1536 3598h7M1511 3597h7M1477 3584h7M1497 3567h7M1586 3651h7M1516 3596h7M1520 3586h7M1503 3633h7M1547 3547h7M1534 3566h7M1551 3564h7M1538 3568h7M1518 3611h7M1553 3543h7M1504 3574h7M1458 3622h7M1517 3589h7M1493 3665h7M1490 3517h7M1511 3610h7M1482 3603h7M1434 3612h7M1528 3564h7M1481 3572h7M1504 3637h7M1529 3574h7M1506 3628h7M1498 3573h7M1556 3588h7M1578 3574h7M1513 3614h7M1533 3595h7M1488 3583h7M1495 3587h7M1576 3552h7M1544 3606h7M1463 3646h7M1534 3606h7M1533 3627h7M1541 3570h7M1500 3574h7M1494 3575h7M1534 3626h7M1517 3633h7M1570 3607h7M1460 3526h7M1568 3601h7M1469 3586h7M1534 3593h7M1474 3608h7M1466 3603h7M1550 3598h7M1502 3623h7M1602 3566h7M1530 3546h7M1556 3533h7M1516 3629h7M1549 3480h7M1493 3523h7M1513 3550h7M1614 3612h7M1485 3596h7M1527 3628h7M1581 3603h7M1474 3503h7M1464 3573h7M1556 3543h7M1576 3609h7M1528 3623h7M1497 3638h7M1529 3575h7M1493 3534h7M1512 3617h7M1509 3584h7M1594 3674h7M1471 3652h7M1524 3595h7M1492 3595h7M1537 3607h7M1502 3583h7M1551 3639h7M1508 3617h7M1555 3600h7M1488 3606h7M1528 3557h7M1527 3594h7M1497 3658h7M1537 3563h7M1573 3573h7M1485 3566h7M1568 3544h7M1538 3608h7M1502 3626h7M1567 3582h7M1525 3618h7M1528 3639h7M1556 3590h7M1534 3580h7M1552 3564h7M1524 3553h7M1621 3580h7M1527 3611h7M1459 3662h7M1460 3634h7M1510 3625h7M1551 3597h7M1566 3574h7M1535 3582h7M1498 3566h7M1540 3649h7M1492 3588h7M1498 3616h7M1445 3622h7M1496 3569h7M1535 3599h7M1537 3634h7M1469 3648h7M1547 3672h7M1581 3598h7M1448 3624h7M1587 3607h7M1522 3554h7M1527 3545h7M1494 3590h7M1542 3569h7M1523 3595h7M1536 3613h7M1544 3581h7M1532 3572h7M1502 3454h7M1556 3343h7M1591 3526h7M1485 3419h7M1516 3323h7M1478 3530h7M1466 3667h7M1620 3618h7M1579 3587h7M1616 3423h7M1628 3437h7M1540 3296h7M1541 3366h7M1659 3526h7M1597 3460h7M1599 3540h7M1539 3540h7M1537 3398h7M1464 3372h7M1583 3649h7M1535 3451h7M1616 3486h7M1572 3499h7M1445 3393h7M1570 3505h7M1543 3394h7M1562 3475h7M1511 3479h7M1567 3664h7M1606 3427h7M1592 3376h7M1448 3436h7M1644 3555h7M1524 3529h7M1461 3482h7M1511 3400h7M1538 3435h7M1571 3399h7M1574 3533h7M1593 3548h7M1588 3579h7M1614 3580h7M1610 3395h7M1544 3611h7M1529 3555h7M1605 3602h7M1528 3516h7M1550 3548h7M1468 3492h7M1610 3496h7M1603 3609h7M1563 3465h7M1531 3404h7M1536 3483h7M1601 3444h7M1524 3493h7M1546 3597h7M1557 3608h7M1560 3294h7M1548 3411h7M1557 3425h7M1598 3476h7M1540 3660h7M1542 3461h7M1541 3555h7M1568 3500h7M1610 3451h7M1590 3562h7M1571 3459h7M1550 3585h7M1432 3616h7M1513 3571h7M1581 3531h7M1581 3460h7M1631 3502h7M1594 3482h7M1542 3583h7M1512 3495h7M1518 3373h7M1602 3499h7M1472 3492h7M1664 3581h7M1546 3526h7M1544 3516h7M1551 3513h7M1535 3565h7M1502 3363h7M1479 3445h7M1562 3542h7M1593 3378h7M1485 3546h7M1638 3547h7M1551 3579h7M1632 3576h7M1566 3474h7M1531 3464h7M1501 3525h7M1604 3475h7M1592 3550h7M1551 3494h7M1625 3439h7M1525 3466h7M1522 3542h7M1584 3476h7M1586 3358h7M1562 3684h7M1601 3418h7M1597 3447h7M1585 3552h7M1491 3642h7M1493 3463h7M1588 3546h7M1567 3473h7M1594 3527h7M1542 3586h7M1629 3452h7M1539 3416h7M1502 3513h7M1601 3386h7M1546 3524h7M1530 3567h7M1585 3494h7M1611 3526h7M1608 3547h7M1546 3617h7M1526 3529h7M1542 3434h7M1498 3590h7M1619 3585h7M1467 3550h7M1562 3546h7M1570 3546h7M1579 3584h7M1564 3457h7M1457 3523h7M1460 3454h7M1556 3489h7M1523 3637h7M1492 3594h7M1544 3489h7M1560 3536h7M1477 3538h7M1550 3497h7M1558 3490h7M1607 3430h7M1522 3538h7M1548 3571h7M1426 3480h7M1561 3638h7M1604 3426h7M1606 3433h7M1571 3470h7M1493 3563h7M1583 3474h7M1518 3439h7M1550 3585h7M1537 3494h7M1539 3403h7M1540 3450h7M1611 3512h7M1616 3493h7M1565 3608h7M1578 3505h7M1579 3525h7M1609 3451h7M1536 3429h7M1612 3549h7M1543 3543h7M1644 3560h7M1553 3425h7M1583 3702h7M1611 3475h7M1486 3575h7M1519 3468h7M1656 3467h7M1546 3704h7M1635 3316h7M1593 3480h7M1565 3451h7M1571 3549h7M1543 3561h7M1591 3408h7M1639 3511h7M1597 3610h7M1556 3686h7M1516 3417h7M1541 3642h7M1631 3563h7M1513 3469h7M1548 3507h7M1505 3502h7M1535 3534h7M1513 3456h7M1563 3550h7M1561 3512h7M1550 3451h7M1537 3431h7M1581 3529h7M1549 3432h7M1538 3485h7M1603 3472h7M1566 3447h7M1586 3477h7M1518 3350h7M1541 3471h7M1610 3401h7M1529 3402h7M1592 3519h7M1540 3545h7M1564 3460h7M1554 3544h7M1599 3633h7M1569 3503h7M1561 3434h7M1549 3541h7M1539 3475h7M1498 3544h7M1604 3498h7M1564 3513h7M1559 3481h7M1601 3670h7M1602 3521h7M1540 3404h7M1603 3482h7M1582 3458h7M1445 3657h7M1502 3544h7M1609 3371h7M1564 3489h7M1487 3631h7M1534 3538h7M1558 3642h7M1515 3468h7M1569 3553h7M1556 3585h7M1608 3529h7M1495 3425h7M1483 3461h7M1597 3621h7M1566 3565h7M1539 3476h7M1589 3372h7M1548 3431h7M1568 3542h7M1566 3602h7M1561 3594h7M1567 3342h7M1555 3430h7M1540 3315h7M1545 3471h7M1506 3480h7M1593 3503h7M1587 3430h7M1634 3428h7M1501 3513h7M1583 3597h7M1590 3571h7M1487 3512h7M1529 3333h7M1623 3407h7M1580 3478h7M1532 3358h7M1614 3423h7M1556 3431h7M1565 3463h7M1556 3487h7M1546 3334h7M1507 3459h7M1502 3437h7M1585 3380h7M1546 3340h7M1485 3454h7M1558 3350h7M1526 3377h7M1531 3380h7M1522 3569h7M1522 3336h7M1527 3502h7M1537 3465h7M1530 3395h7M1620 3440h7M1518 3468h7M1477 3325h7M1532 3394h7M1552 3341h7M1569 3409h7M1534 3443h7M1529 3490h7M1503 3442h7M1539 3273h7M1497 3389h7M1569 3338h7M1518 3390h7M1475 3387h7M1595 3483h7M1495 3371h7M1510 3282h7M1659 3373h7M1562 3389h7M1531 3321h7M1493 3410h7M1511 3465h7M1519 3446h7M1572 3342h7M1606 3408h7M1669 3385h7M1597 3468h7M1470 3319h7M1472 3475h7M1546 3482h7M1491 3471h7M1544 3460h7M1577 3429h7M1614 3330h7M1527 3488h7M1494 3469h7M1548 3441h7M1426 3364h7M1580 3344h7M1585 3468h7M1398 3429h7M1489 3352h7M1465 3441h7M1609 3586h7M1618 3391h7M1464 3491h7M1584 3425h7M1476 3343h7M1533 3520h7M1622 3359h7M1457 3414h7M1586 3371h7M1551 3481h7M1461 3541h7M1617 3426h7M1560 3458h7M1510 3470h7M1550 3372h7M1541 3403h7M1522 3468h7M1585 3484h7M1523 3465h7M1532 3532h7M1491 3489h7M1519 3309h7M1583 3335h7M1501 3417h7M1567 3414h7M1566 3440h7M1463 3503h7M1617 3384h7M1581 3403h7M1504 3403h7M1448 3380h7M1579 3488h7M1569 3437h7M1513 3485h7M1641 3445h7M1633 3430h7M1534 3481h7M1552 3407h7M1519 3431h7M1544 3317h7M1570 3533h7M1564 3452h7M1572 3480h7M1584 3401h7M1489 3452h7M1567 3387h7M1533 3453h7M1625 3383h7M1500 3421h7M1506 3390h7M1499 3499h7M1568 3434h7M1625 3629h7M1576 3479h7M1499 3460h7M1516 3326h7M1566 3385h7M1502 3606h7M1434 3578h7M1438 3602h7M1470 3587h7M1416 3570h7M1418 3589h7M1438 3585h7M1480 3589h7M1454 3602h7M1459 3610h7M1428 3602h7M1424 3598h7M1490 3637h7M1498 3589h7M1491 3625h7M1470 3601h7M1513 3590h7M1454 3567h7M1433 3615h7M1454 3615h7M1496 3583h7M1376 3625h7M1385 3587h7M1536 3640h7M1439 3632h7M1412 3622h7M1429 3583h7M1406 3582h7M1455 3660h7M1482 3638h7M1439 3655h7M1441 3647h7M1397 3616h7M1403 3590h7M1437 3551h7M1460 3610h7M1377 3592h7M1440 3558h7M1419 3631h7M1428 3597h7M1440 3598h7M1402 3595h7M1368 3598h7M1432 3564h7M1385 3602h7M1427 3584h7M1423 3608h7M1485 3599h7M1370 3568h7M1408 3612h7M1488 3622h7M1411 3628h7M1427 3568h7M1437 3663h7M1443 3585h7M1473 3587h7M1489 3633h7M1393 3585h7M1430 3580h7M1458 3600h7M1511 3623h7M1481 3639h7M1462 3632h7M1418 3630h7M1483 3642h7M1423 3586h7M1490 3610h7M1544 3635h7M1400 3617h7M1454 3552h7M1422 3538h7M1547 3587h7M1412 3591h7M1413 3636h7M1434 3563h7M1474 3619h7M1389 3624h7M1393 3571h7M1502 3599h7M1447 3581h7M1433 3544h7M1433 3581h7M1481 3598h7M1412 3586h7M1370 3606h7M1375 3559h7M1455 3597h7M1524 3576h7M1458 3659h7M1420 3563h7M1484 3665h7M1414 3625h7M1471 3612h7M1477 3602h7M1470 3601h7M1438 3573h7M1443 3602h7M1409 3579h7M1430 3643h7M1463 3627h7M1496 3633h7M1510 3656h7M1473 3606h7M1450 3603h7M1416 3556h7M1461 3569h7M1472 3660h7M1449 3579h7M1420 3619h7M1441 3592h7M1455 3573h7M1405 3610h7M1417 3619h7M1426 3604h7M1439 3641h7M1434 3606h7M1401 3603h7M1439 3613h7M1366 3611h7M1448 3614h7M1460 3637h7M1407 3584h7M1454 3564h7M1531 3560h7M1466 3594h7M1470 3652h7M1518 3596h7M1447 3583h7M1392 3601h7M1421 3566h7M1432 3586h7M1401 3604h7M1466 3619h7M1418 3575h7M1356 3612h7M1483 3586h7M1392 3563h7M1499 3608h7M1428 3605h7M1445 3596h7M1438 3623h7M1482 3579h7M1440 3602h7M1452 3675h7M1471 3630h7M1441 3620h7M1492 3647h7M1413 3605h7M1459 3576h7M1432 3590h7"/>
<ellipse cx="149.5" cy="364.5" rx="10" ry="4.6" fill="#000" fill-opacity="0.95" filter="url(#b12)" transform="rotate(0 149.5 364.5)"/>
<ellipse cx="153.5" cy="360.5" rx="4" ry="3" fill="#000" fill-opacity="0.5" filter="url(#b15)" transform="rotate(0 153.5 360.5)"/>
<rect x="145.7" y="333.6" width="18" height="21.5" fill="none" stroke="#777" stroke-width="0.7"/>
<text x="125.2" y="332.4" font-size="8" text-anchor="start" font-weight="normal" fill="#222" transform="translate(0 -29.916) scale(1 1.09)" stroke="#222" stroke-width="0.18">7.7%</text>
<text x="21.2" y="344.8" font-size="8" text-anchor="middle" font-weight="normal" fill="#222" transform="translate(-1.908 0) scale(1.09 1) rotate(-90 21.2 344.8)" stroke="#222" stroke-width="0.18">HLA-DR</text>
<line x1="30.8" y1="386.9" x2="87.5" y2="386.9" stroke="#444" stroke-width="1"/>
<text x="90.6" y="390" font-size="8" text-anchor="start" font-weight="normal" fill="#222" transform="translate(0 -35.100) scale(1 1.09)" stroke="#222" stroke-width="0.18">CD44</text>
<line x1="113.7" y1="386.9" x2="170.4" y2="386.9" stroke="#444" stroke-width="1"/>
<text x="90.6" y="422.8" font-size="8" text-anchor="start" font-weight="normal" fill="#222" transform="translate(0 -38.052) scale(1 1.09)" stroke="#222" stroke-width="0.18">CD8<tspan font-size="4.5" dy="-3">+</tspan></text>
<line x1="30.8" y1="426.2" x2="170.4" y2="426.2" stroke="#444" stroke-width="1"/>
<rect x="26.7" y="430.7" width="67.6" height="67.60000000000002" fill="none" stroke="#b8b8b8" stroke-width="0.8"/>
<line x1="25.5" y1="434.7" x2="26.7" y2="434.7" stroke="#555" stroke-width="0.7"/>
<line x1="25.5" y1="440.3" x2="26.7" y2="440.3" stroke="#555" stroke-width="0.7"/>
<line x1="25.5" y1="445.9" x2="26.7" y2="445.9" stroke="#555" stroke-width="0.7"/>
<line x1="25.5" y1="451.5" x2="26.7" y2="451.5" stroke="#555" stroke-width="0.7"/>
<line x1="25.5" y1="457.1" x2="26.7" y2="457.1" stroke="#555" stroke-width="0.7"/>
<line x1="25.5" y1="462.7" x2="26.7" y2="462.7" stroke="#555" stroke-width="0.7"/>
<line x1="25.5" y1="468.3" x2="26.7" y2="468.3" stroke="#555" stroke-width="0.7"/>
<line x1="25.5" y1="473.9" x2="26.7" y2="473.9" stroke="#555" stroke-width="0.7"/>
<line x1="25.5" y1="479.5" x2="26.7" y2="479.5" stroke="#555" stroke-width="0.7"/>
<line x1="25.5" y1="485.1" x2="26.7" y2="485.1" stroke="#555" stroke-width="0.7"/>
<line x1="25.5" y1="490.7" x2="26.7" y2="490.7" stroke="#555" stroke-width="0.7"/>
<line x1="25.5" y1="496.3" x2="26.7" y2="496.3" stroke="#555" stroke-width="0.7"/>
<line x1="29.7" y1="498.3" x2="29.7" y2="499.5" stroke="#555" stroke-width="0.7"/>
<line x1="35.3" y1="498.3" x2="35.3" y2="499.5" stroke="#555" stroke-width="0.7"/>
<line x1="40.9" y1="498.3" x2="40.9" y2="499.5" stroke="#555" stroke-width="0.7"/>
<line x1="46.5" y1="498.3" x2="46.5" y2="499.5" stroke="#555" stroke-width="0.7"/>
<line x1="52.1" y1="498.3" x2="52.1" y2="499.5" stroke="#555" stroke-width="0.7"/>
<line x1="57.7" y1="498.3" x2="57.7" y2="499.5" stroke="#555" stroke-width="0.7"/>
<line x1="63.3" y1="498.3" x2="63.3" y2="499.5" stroke="#555" stroke-width="0.7"/>
<line x1="68.9" y1="498.3" x2="68.9" y2="499.5" stroke="#555" stroke-width="0.7"/>
<line x1="74.5" y1="498.3" x2="74.5" y2="499.5" stroke="#555" stroke-width="0.7"/>
<line x1="80.1" y1="498.3" x2="80.1" y2="499.5" stroke="#555" stroke-width="0.7"/>
<line x1="85.7" y1="498.3" x2="85.7" y2="499.5" stroke="#555" stroke-width="0.7"/>
<line x1="91.3" y1="498.3" x2="91.3" y2="499.5" stroke="#555" stroke-width="0.7"/>
<circle cx="26.7" cy="490.3" r="0.9" fill="#111"/>
<circle cx="34.7" cy="498.3" r="0.9" fill="#111"/>
<path transform="scale(0.1)" stroke="#000" stroke-opacity="0.45" stroke-width="7" d="M760 4881h7M810 4892h7M700 4886h7M724 4862h7M737 4849h7M729 4870h7M724 4865h7M798 4865h7M756 4882h7M773 4865h7M663 4895h7M767 4895h7M546 4918h7M786 4881h7M679 4891h7M642 4873h7M748 4911h7M702 4875h7M658 4877h7M688 4880h7M686 4890h7M715 4865h7M746 4892h7M708 4876h7M757 4891h7M713 4923h7M698 4852h7M691 4885h7M641 4922h7M761 4859h7M737 4852h7M718 4875h7M790 4839h7M697 4839h7M698 4873h7M720 4903h7M679 4868h7M786 4881h7M676 4881h7M670 4861h7M696 4847h7M801 4871h7M730 4875h7M715 4862h7M739 4870h7M681 4900h7M788 4890h7M743 4873h7M725 4896h7M721 4909h7M784 4885h7M730 4862h7M700 4866h7M704 4860h7M737 4887h7M713 4916h7M731 4879h7M728 4867h7M754 4860h7M718 4923h7M733 4857h7M669 4905h7M635 4916h7M780 4870h7M732 4870h7M677 4890h7M689 4893h7M734 4867h7M723 4881h7M712 4875h7M775 4864h7M727 4903h7M738 4871h7M668 4874h7M631 4870h7M719 4909h7M748 4903h7M741 4885h7M648 4868h7M709 4878h7M664 4847h7M728 4874h7M720 4875h7M709 4855h7M759 4889h7M718 4917h7M687 4898h7M717 4881h7M759 4880h7M719 4854h7M733 4889h7M700 4855h7M763 4883h7M772 4879h7M836 4854h7M752 4883h7M731 4876h7M745 4898h7M724 4858h7M764 4901h7M667 4885h7M788 4893h7M697 4886h7M736 4857h7M707 4873h7M705 4909h7M640 4858h7M688 4907h7M716 4875h7M710 4914h7M807 4885h7M676 4874h7M641 4900h7M711 4904h7M693 4864h7M623 4886h7M767 4834h7M672 4878h7M767 4920h7M794 4886h7M655 4862h7M743 4880h7M684 4878h7M726 4928h7M705 4892h7M733 4896h7M689 4912h7M780 4891h7M671 4857h7M711 4878h7M680 4878h7M649 4876h7M659 4886h7M609 4864h7M700 4849h7M700 4876h7M778 4895h7M701 4897h7M717 4897h7M700 4886h7M705 4900h7M798 4914h7M783 4877h7M791 4874h7M719 4861h7M762 4845h7M716 4895h7M669 4890h7M671 4873h7M735 4910h7M813 4859h7M644 4864h7M729 4878h7M661 4861h7M729 4881h7M811 4855h7M694 4954h7M664 4903h7M696 4883h7M774 4868h7M708 4881h7M721 4916h7M784 4866h7M777 4848h7M689 4865h7M691 4883h7M731 4861h7M737 4866h7M743 4886h7M669 4860h7M763 4878h7M732 4873h7M789 4890h7M688 4884h7M670 4871h7M703 4858h7M680 4902h7M679 4875h7M664 4906h7M676 4896h7M748 4891h7M697 4833h7M679 4875h7M654 4855h7M734 4880h7M766 4889h7M777 4886h7M713 4884h7M759 4900h7M749 4870h7M672 4901h7M767 4858h7M721 4859h7M723 4925h7M703 4871h7M717 4870h7M737 4846h7M753 4864h7M721 4933h7M775 4884h7M713 4890h7M761 4951h7M808 4911h7M683 4911h7M712 4884h7M704 4872h7M745 4884h7M753 4869h7M680 4871h7M708 4888h7M802 4883h7M708 4934h7M802 4899h7M764 4842h7M704 4879h7M720 4838h7M733 4919h7M782 4886h7M744 4880h7M623 4892h7M763 4849h7M825 4897h7M743 4911h7M676 4878h7M653 4901h7M741 4929h7M754 4871h7M628 4873h7M704 4879h7M697 4873h7M726 4867h7M683 4875h7M651 4831h7M717 4859h7M652 4877h7M720 4907h7M694 4879h7M711 4866h7M659 4838h7M636 4856h7M678 4869h7M635 4885h7M735 4853h7M687 4870h7M747 4905h7M746 4895h7M776 4894h7M729 4891h7M763 4883h7M765 4868h7M669 4879h7M744 4924h7M711 4858h7M638 4860h7M704 4871h7M734 4880h7M692 4933h7M693 4874h7M662 4866h7M731 4843h7M704 4863h7M722 4893h7M714 4900h7M695 4887h7M676 4845h7M672 4873h7M742 4919h7M738 4893h7M680 4916h7M690 4877h7M806 4900h7M818 4867h7M737 4853h7M736 4866h7M779 4891h7M642 4872h7M684 4882h7M766 4854h7M709 4894h7M678 4871h7M689 4902h7M753 4855h7M768 4915h7M704 4887h7M746 4895h7M819 4882h7M706 4885h7M715 4840h7M759 4886h7M681 4861h7M648 4883h7M733 4883h7M763 4874h7M667 4881h7M790 4909h7M719 4920h7M677 4868h7M702 4924h7M587 4886h7M722 4860h7M738 4837h7M730 4859h7M686 4886h7M714 4868h7M720 4864h7M778 4887h7M733 4910h7M804 4847h7M726 4854h7M749 4867h7M688 4874h7M772 4859h7M736 4874h7M705 4882h7M800 4870h7M729 4888h7M650 4874h7M744 4888h7M724 4858h7M703 4892h7M687 4900h7M738 4914h7M647 4879h7M648 4855h7M809 4895h7M736 4857h7M721 4890h7M780 4836h7M716 4854h7M818 4914h7M721 4873h7M786 4915h7M701 4900h7M734 4885h7M654 4925h7M715 4857h7M659 4912h7M732 4900h7M725 4850h7M711 4863h7M670 4883h7M687 4887h7M726 4869h7M679 4874h7M767 4903h7M774 4861h7M680 4885h7M718 4894h7M739 4849h7M730 4912h7M715 4878h7M722 4846h7M752 4889h7M758 4868h7M687 4857h7M713 4879h7M746 4859h7M686 4855h7M697 4898h7M760 4880h7M770 4889h7M699 4894h7M662 4864h7M729 4880h7M690 4873h7M671 4863h7M843 4893h7M763 4906h7M650 4896h7M686 4849h7M695 4882h7M768 4903h7M726 4907h7M629 4877h7M747 4933h7M647 4825h7M710 4874h7M743 4875h7M677 4870h7M732 4934h7M589 4854h7M710 4869h7M651 4869h7M693 4882h7M745 4871h7M747 4863h7M693 4887h7M701 4895h7M757 4866h7M816 4895h7M692 4854h7M712 4880h7M749 4887h7M748 4847h7M693 4878h7M755 4877h7M730 4858h7M772 4881h7M659 4873h7M708 4883h7M808 4853h7M780 4853h7M715 4855h7M717 4903h7M797 4899h7M713 4897h7M651 4876h7M687 4833h7M706 4851h7M773 4860h7M773 4874h7M767 4893h7M781 4860h7M661 4883h7M827 4906h7M723 4903h7M719 4884h7M776 4886h7M714 4882h7M773 4908h7M789 4890h7M675 4898h7M706 4862h7M715 4864h7M662 4881h7M678 4899h7M735 4852h7M740 4888h7M667 4897h7M702 4873h7M752 4832h7M696 4895h7M737 4911h7M746 4881h7M773 4876h7M756 4823h7M654 4903h7M769 4891h7M767 4842h7M740 4850h7M696 4862h7M769 4862h7M764 4896h7M736 4888h7M775 4885h7M753 4891h7M645 4921h7M744 4878h7M749 4859h7M713 4854h7M714 4903h7M661 4857h7M744 4865h7M839 4860h7M772 4880h7M741 4903h7M809 4909h7M752 4877h7M757 4898h7M718 4861h7M679 4848h7M737 4904h7M746 4875h7M670 4890h7M848 4914h7M717 4911h7M721 4880h7M726 4851h7M794 4870h7M726 4885h7M748 4863h7M690 4874h7M678 4861h7M755 4873h7M749 4874h7M738 4865h7M791 4867h7M743 4919h7M791 4865h7M690 4885h7M734 4908h7M701 4892h7M713 4867h7M788 4912h7M749 4887h7M705 4919h7M680 4905h7M693 4894h7M728 4872h7M712 4885h7M701 4865h7M784 4863h7M726 4855h7M665 4869h7M821 4884h7M755 4898h7M675 4859h7M717 4902h7M729 4854h7M717 4845h7M734 4850h7M679 4839h7M685 4866h7M759 4870h7M710 4868h7M725 4871h7M666 4874h7M748 4844h7M632 4897h7M714 4861h7M651 4873h7M769 4866h7M729 4930h7M752 4877h7M668 4907h7M766 4872h7M757 4892h7M795 4900h7M726 4897h7M711 4857h7M706 4870h7M776 4882h7M746 4862h7M755 4867h7M652 4894h7M732 4911h7M798 4879h7M660 4832h7M723 4850h7M782 4891h7M667 4837h7M790 4904h7M768 4913h7M745 4864h7M731 4881h7M693 4877h7M592 4854h7M710 4829h7M730 4865h7M834 4911h7M763 4875h7M630 4854h7M704 4901h7M624 4875h7M777 4892h7M674 4876h7M738 4903h7M700 4874h7M713 4854h7M693 4895h7M700 4868h7M686 4861h7M754 4886h7M740 4884h7M723 4894h7M687 4872h7M668 4907h7M755 4881h7M740 4895h7M754 4893h7M721 4877h7M766 4896h7M739 4905h7M685 4880h7M670 4904h7M752 4881h7M700 4877h7M601 4898h7M750 4892h7M684 4871h7M698 4878h7M690 4860h7M806 4865h7M731 4889h7M780 4907h7M705 4894h7M761 4888h7M627 4839h7M686 4918h7M767 4876h7M725 4885h7M720 4896h7M685 4869h7M710 4851h7M663 4861h7M663 4898h7M767 4890h7M670 4887h7M725 4849h7M772 4889h7M752 4832h7M676 4926h7M678 4917h7M740 4867h7M684 4860h7M698 4827h7M785 4936h7M729 4881h7M692 4876h7M695 4904h7M684 4876h7M788 4911h7M689 4840h7M805 4860h7M704 4880h7M756 4868h7M703 4870h7M666 4902h7M698 4883h7M687 4898h7M809 4864h7M722 4879h7M788 4868h7M772 4886h7M762 4868h7M684 4873h7M761 4877h7M756 4914h7M647 4855h7M692 4864h7M744 4854h7M679 4876h7M717 4882h7M718 4844h7M694 4890h7M733 4889h7M668 4864h7M637 4873h7M674 4894h7M704 4905h7M818 4886h7M739 4852h7M695 4825h7M688 4931h7M748 4908h7M709 4873h7M726 4869h7M742 4894h7M657 4833h7M708 4875h7M651 4895h7M782 4891h7M654 4884h7M674 4901h7M734 4887h7M759 4893h7M839 4848h7M725 4898h7M755 4820h7M769 4869h7M671 4918h7M711 4896h7M746 4893h7M768 4887h7M778 4880h7M677 4912h7M722 4897h7M652 4822h7M725 4885h7M789 4851h7M679 4885h7M775 4886h7M743 4898h7M819 4912h7M706 4844h7M639 4873h7M676 4882h7M711 4828h7M764 4893h7M679 4850h7M786 4885h7M707 4857h7M687 4914h7M685 4879h7M700 4876h7M662 4908h7M723 4897h7M673 4875h7M811 4878h7M699 4848h7M688 4892h7M697 4865h7M770 4916h7M714 4940h7M701 4870h7M645 4857h7M684 4934h7M666 4878h7M726 4890h7M614 4875h7M663 4877h7M628 4870h7M705 4853h7M725 4888h7M756 4853h7M657 4879h7M721 4866h7M641 4879h7M769 4858h7M743 4851h7M749 4848h7M767 4877h7M770 4870h7M654 4857h7M671 4885h7M688 4892h7M712 4868h7M693 4873h7M741 4909h7M695 4880h7M766 4911h7M677 4852h7M691 4907h7M697 4901h7M711 4893h7M738 4877h7M688 4881h7M829 4857h7M755 4874h7M656 4877h7M759 4851h7M666 4896h7M654 4906h7M771 4864h7M726 4906h7M761 4834h7M650 4881h7M771 4915h7M737 4877h7M678 4896h7M719 4924h7M808 4898h7M681 4878h7M770 4886h7M744 4866h7M611 4896h7M805 4870h7M729 4838h7M787 4934h7M784 4857h7M725 4883h7M736 4867h7M741 4884h7M665 4857h7M797 4886h7M741 4926h7M689 4908h7M773 4864h7M712 4888h7M647 4842h7M691 4910h7M708 4916h7M640 4873h7M736 4905h7M756 4904h7M753 4884h7M793 4899h7M690 4900h7M749 4885h7M748 4874h7M702 4844h7M701 4912h7M600 4871h7M748 4895h7M646 4879h7M731 4904h7M724 4865h7M746 4883h7M668 4881h7M733 4878h7M699 4880h7M724 4896h7M668 4869h7M749 4870h7M677 4852h7M653 4858h7M716 4894h7M726 4884h7M748 4878h7M659 4882h7M726 4927h7M720 4928h7M712 4850h7M707 4874h7M715 4873h7M828 4887h7M712 4879h7M718 4904h7M719 4901h7M675 4885h7M715 4884h7M664 4866h7M647 4890h7M778 4879h7M654 4872h7M770 4844h7M704 4883h7M697 4886h7M739 4888h7M761 4903h7M646 4856h7M709 4882h7M728 4855h7M660 4919h7M726 4888h7M800 4838h7M730 4875h7M714 4911h7M714 4848h7M665 4851h7M772 4867h7M666 4876h7M655 4890h7M724 4885h7M772 4871h7M761 4843h7M763 4921h7M680 4898h7M672 4883h7M743 4868h7M668 4878h7M716 4889h7M722 4842h7M770 4891h7M650 4877h7M768 4927h7M712 4868h7M777 4879h7M718 4845h7M671 4889h7M806 4889h7M711 4872h7M665 4854h7M754 4922h7M704 4861h7M646 4870h7M768 4844h7M705 4908h7M793 4865h7M731 4891h7M727 4879h7M728 4884h7M711 4876h7M702 4931h7M719 4905h7M677 4913h7M769 4884h7M834 4899h7M806 4861h7M615 4897h7M722 4866h7M671 4892h7M759 4905h7M718 4871h7M655 4859h7M783 4851h7M714 4870h7M687 4852h7M700 4891h7M706 4887h7M687 4857h7M757 4878h7M707 4892h7M765 4868h7M722 4875h7M782 4850h7M685 4879h7M605 4846h7M741 4905h7M796 4874h7M744 4881h7M683 4886h7M717 4909h7M707 4849h7M731 4867h7M725 4889h7M636 4842h7M735 4899h7M691 4879h7M741 4867h7M715 4869h7M767 4880h7M673 4885h7M685 4873h7M660 4875h7M756 4896h7M747 4861h7M718 4879h7M707 4874h7M649 4922h7M684 4883h7M728 4856h7M690 4888h7M717 4892h7M671 4878h7M674 4880h7M688 4869h7M746 4905h7M715 4885h7M674 4869h7M699 4889h7M799 4839h7M773 4911h7M746 4873h7M754 4848h7M656 4884h7M691 4896h7M677 4839h7M711 4893h7M650 4882h7M723 4889h7M756 4886h7M687 4851h7M748 4874h7M762 4907h7M690 4868h7M778 4885h7M667 4876h7M700 4908h7M660 4866h7M757 4899h7M729 4869h7M675 4823h7M751 4886h7M722 4852h7M636 4871h7M699 4907h7M828 4850h7M683 4899h7M765 4898h7M712 4869h7M698 4850h7M687 4863h7M772 4912h7M732 4845h7M711 4868h7M775 4858h7M738 4879h7M758 4867h7M796 4888h7M711 4875h7M697 4904h7M757 4875h7M850 4891h7M763 4916h7M771 4890h7M674 4860h7M756 4878h7M706 4908h7M753 4912h7M706 4858h7M714 4900h7M669 4879h7M748 4885h7M741 4825h7M744 4902h7M677 4887h7M718 4880h7M874 4873h7M661 4863h7M722 4839h7M766 4810h7M846 4821h7M751 4818h7M758 4800h7M742 4815h7M781 4797h7M704 4829h7M793 4832h7M733 4831h7M717 4812h7M762 4805h7M715 4828h7M751 4848h7M730 4842h7M766 4883h7M755 4757h7M762 4793h7M764 4831h7M707 4765h7M770 4798h7M791 4773h7M697 4795h7M759 4876h7M757 4788h7M772 4777h7M751 4879h7M746 4783h7M749 4842h7M687 4862h7M752 4754h7M769 4790h7M730 4873h7M775 4805h7M778 4889h7M811 4796h7M822 4802h7M704 4810h7M672 4830h7M744 4890h7M737 4801h7M766 4828h7M795 4782h7M779 4788h7M730 4866h7M727 4852h7M731 4866h7M762 4842h7M816 4774h7M780 4829h7M708 4839h7M763 4789h7M730 4877h7M736 4788h7M845 4861h7M730 4849h7M737 4846h7M778 4895h7M787 4887h7M758 4804h7M763 4820h7M646 4903h7M721 4898h7M694 4830h7M817 4788h7M753 4879h7M710 4873h7M759 4802h7M751 4849h7M823 4889h7M762 4811h7M764 4836h7M707 4797h7M719 4835h7M746 4855h7M739 4830h7M797 4776h7M678 4895h7M790 4793h7M800 4828h7M722 4892h7M687 4821h7M754 4854h7M754 4860h7M707 4833h7M806 4805h7M727 4816h7M749 4822h7M656 4796h7M811 4857h7M745 4861h7M721 4858h7M790 4804h7M740 4843h7M794 4803h7M779 4821h7M726 4874h7M809 4774h7M757 4817h7M702 4846h7M747 4811h7M696 4869h7M794 4820h7M666 4874h7M816 4810h7M684 4806h7M746 4818h7M737 4833h7M778 4874h7M768 4818h7M728 4784h7M807 4803h7M744 4786h7M766 4823h7M718 4854h7M844 4796h7M742 4852h7M722 4827h7M811 4805h7M757 4798h7M699 4834h7M745 4792h7M728 4847h7M758 4884h7M719 4799h7M767 4813h7M774 4799h7M676 4910h7M731 4855h7M813 4798h7M693 4853h7M776 4840h7M682 4838h7M837 4766h7M801 4767h7M724 4795h7M794 4851h7M772 4796h7M770 4840h7M813 4772h7M744 4852h7M743 4798h7M734 4905h7M784 4858h7M768 4822h7M736 4826h7M738 4824h7M700 4828h7M754 4796h7M807 4867h7M714 4801h7M658 4854h7M721 4831h7M687 4855h7M708 4847h7M737 4858h7M726 4860h7M732 4793h7M788 4821h7M813 4813h7M743 4897h7M716 4799h7M763 4783h7M744 4773h7M805 4837h7M767 4804h7M692 4891h7M777 4812h7M704 4843h7M726 4825h7M692 4889h7M756 4894h7M766 4823h7M777 4809h7M783 4848h7M804 4816h7M743 4876h7M744 4812h7M792 4805h7M785 4859h7M717 4838h7M755 4824h7M738 4878h7M755 4835h7M752 4811h7M764 4857h7M709 4857h7M810 4841h7M807 4819h7M729 4819h7M745 4907h7M746 4805h7M803 4852h7M768 4840h7M733 4794h7M745 4817h7M690 4928h7M738 4803h7M742 4845h7M753 4875h7M745 4883h7M748 4833h7M759 4830h7M715 4783h7M685 4828h7M728 4829h7M754 4861h7M682 4823h7M770 4796h7M765 4800h7M697 4818h7M731 4784h7M741 4808h7M790 4776h7M767 4803h7M721 4856h7M776 4789h7M697 4793h7M717 4868h7M716 4841h7M697 4841h7M795 4840h7M734 4852h7M713 4783h7M720 4779h7M768 4856h7M752 4842h7M739 4817h7M774 4789h7M676 4873h7M717 4901h7M736 4786h7M769 4789h7M708 4879h7M780 4870h7M820 4859h7M781 4812h7M718 4882h7M794 4807h7M705 4855h7M811 4855h7M711 4797h7M760 4812h7M733 4884h7M772 4862h7M716 4837h7M796 4839h7M801 4852h7M764 4813h7M719 4802h7M722 4821h7M752 4909h7M752 4814h7M759 4859h7M731 4842h7M799 4785h7M735 4865h7M764 4848h7M751 4899h7M735 4831h7M778 4805h7M815 4826h7M749 4771h7M814 4861h7M778 4864h7M812 4810h7M706 4873h7M693 4839h7M670 4817h7M751 4797h7M751 4779h7M748 4882h7M728 4827h7M704 4826h7M677 4842h7M724 4769h7M790 4877h7M753 4826h7M677 4879h7M732 4911h7M819 4835h7M805 4811h7M700 4842h7M723 4855h7M745 4798h7M740 4826h7M857 4798h7M740 4887h7M684 4831h7M774 4883h7M696 4853h7M743 4824h7M686 4842h7M774 4853h7M724 4832h7M756 4803h7M700 4851h7M787 4871h7M773 4824h7M759 4780h7M732 4767h7M728 4779h7M777 4900h7M740 4801h7M758 4804h7M775 4776h7M802 4869h7M743 4795h7M763 4790h7M759 4822h7M804 4840h7M702 4843h7M726 4882h7M795 4816h7M757 4795h7M703 4851h7M769 4799h7M816 4829h7M818 4758h7M735 4850h7M777 4834h7M717 4829h7M694 4866h7M713 4846h7M789 4874h7M798 4824h7M661 4849h7M708 4875h7M678 4844h7M654 4844h7M731 4829h7M766 4820h7M787 4830h7M719 4800h7M797 4842h7M731 4786h7M719 4822h7M768 4832h7M780 4850h7M719 4805h7M733 4807h7M771 4865h7M768 4797h7M799 4879h7M795 4849h7M716 4861h7M772 4810h7M785 4752h7M811 4729h7M754 4816h7M742 4845h7M740 4869h7M678 4888h7M810 4799h7M670 4842h7M760 4832h7M787 4793h7M788 4781h7M712 4830h7M747 4751h7M766 4657h7M767 4700h7M808 4612h7M758 4645h7M862 4738h7M763 4569h7M754 4823h7M757 4680h7M843 4700h7M762 4585h7M818 4722h7M784 4671h7M834 4682h7M833 4734h7M802 4791h7M777 4727h7M756 4756h7M733 4584h7M761 4807h7M804 4800h7M817 4569h7M793 4696h7M773 4735h7M817 4658h7M776 4599h7M880 4774h7M793 4701h7M798 4683h7M787 4660h7M790 4619h7M771 4796h7M830 4762h7M857 4650h7M786 4708h7M799 4643h7M758 4738h7M812 4582h7M761 4669h7M775 4558h7M806 4597h7M795 4597h7M818 4746h7M811 4679h7M824 4665h7M877 4607h7M755 4794h7M849 4610h7M781 4742h7M767 4567h7M825 4627h7M790 4643h7M810 4620h7M790 4655h7M758 4712h7M749 4674h7M859 4657h7M783 4684h7M810 4791h7M782 4583h7M790 4619h7M752 4678h7M772 4736h7M824 4731h7M765 4597h7M807 4534h7M767 4607h7M770 4715h7M803 4655h7M813 4720h7M812 4761h7M844 4643h7M751 4642h7M760 4722h7M784 4605h7M797 4711h7M836 4682h7M782 4626h7M756 4630h7M804 4696h7M801 4510h7M779 4757h7M752 4702h7M773 4744h7M807 4711h7M813 4740h7M757 4605h7M773 4760h7M718 4735h7M780 4697h7M764 4691h7M818 4565h7M830 4643h7M796 4565h7M804 4682h7M858 4565h7M782 4684h7M808 4794h7M753 4751h7M783 4611h7M811 4690h7M790 4719h7M738 4671h7M764 4662h7M798 4658h7M804 4597h7M792 4661h7M878 4700h7M751 4679h7M861 4710h7M742 4798h7M818 4708h7M839 4545h7M801 4650h7M803 4533h7M831 4587h7M809 4742h7M796 4679h7M735 4557h7M796 4580h7M810 4537h7M783 4547h7M721 4606h7M779 4611h7M765 4683h7M896 4682h7M735 4589h7M841 4651h7M748 4571h7M787 4564h7M793 4720h7M827 4728h7M836 4431h7M805 4519h7M802 4701h7M802 4453h7M784 4575h7M820 4516h7M773 4589h7M787 4618h7M827 4607h7M845 4613h7M875 4649h7M790 4534h7M770 4568h7M836 4579h7M783 4623h7M782 4642h7M761 4552h7M774 4656h7M745 4472h7M787 4564h7M799 4583h7M845 4617h7M765 4581h7M848 4559h7M797 4697h7M813 4655h7M743 4608h7M840 4640h7M713 4669h7M817 4607h7M813 4539h7M844 4679h7M816 4655h7M737 4588h7M784 4640h7M734 4604h7M832 4543h7M849 4630h7M764 4544h7M847 4568h7M640 4833h7M714 4883h7M656 4780h7M728 4852h7M657 4841h7M604 4877h7M688 4904h7M614 4806h7M609 4869h7M644 4842h7M638 4801h7M642 4844h7M651 4824h7M673 4824h7M667 4806h7M609 4792h7M626 4855h7M608 4793h7M772 4842h7M714 4819h7M654 4830h7M651 4851h7M674 4873h7M658 4847h7M635 4868h7M618 4791h7M640 4816h7M603 4778h7M629 4838h7M732 4828h7M632 4837h7M702 4884h7M699 4824h7M701 4778h7M681 4890h7M704 4913h7M651 4841h7M664 4863h7M715 4845h7M695 4855h7M677 4801h7M678 4867h7M647 4790h7M709 4894h7M661 4869h7M615 4869h7M658 4873h7M623 4842h7M643 4781h7M605 4846h7M647 4859h7M686 4865h7M655 4819h7M660 4851h7M637 4851h7M670 4841h7M724 4876h7M597 4796h7M756 4898h7M678 4815h7M635 4844h7M719 4832h7M696 4859h7M642 4863h7M593 4823h7M648 4886h7M651 4799h7M642 4781h7M687 4804h7M687 4848h7M679 4845h7M687 4869h7M625 4848h7M611 4822h7M623 4870h7M685 4829h7M658 4808h7M696 4818h7M693 4881h7M589 4880h7M705 4884h7M634 4786h7M655 4828h7M674 4805h7M765 4873h7M686 4849h7M592 4850h7M645 4787h7M630 4825h7M725 4894h7M631 4860h7M670 4862h7M670 4823h7M616 4847h7M635 4811h7M698 4908h7M736 4833h7M742 4799h7M697 4851h7M660 4848h7M621 4806h7M604 4796h7M620 4813h7M672 4790h7M681 4839h7M648 4826h7M700 4795h7M671 4831h7M685 4857h7M749 4846h7M703 4805h7M614 4805h7M585 4847h7M656 4810h7M672 4880h7M638 4838h7M724 4896h7M703 4836h7M687 4843h7M637 4802h7"/>
<ellipse cx="72" cy="488" rx="8.5" ry="3.8" fill="#000" fill-opacity="0.95" filter="url(#b12)" transform="rotate(0 72 488)"/>
<ellipse cx="76" cy="484" rx="4" ry="3" fill="#000" fill-opacity="0.5" filter="url(#b15)" transform="rotate(0 76 484)"/>
<rect x="71.4" y="451.6" width="14.1" height="20.1" fill="none" stroke="#777" stroke-width="0.7"/>
<text x="47.9" y="452.4" font-size="8" text-anchor="start" font-weight="normal" fill="#222" transform="translate(0 -40.716) scale(1 1.09)" stroke="#222" stroke-width="0.18">2.3%</text>
<rect x="104.8" y="430.7" width="67.8" height="67.60000000000002" fill="none" stroke="#b8b8b8" stroke-width="0.8"/>
<line x1="103.6" y1="434.7" x2="104.8" y2="434.7" stroke="#555" stroke-width="0.7"/>
<line x1="103.6" y1="440.3" x2="104.8" y2="440.3" stroke="#555" stroke-width="0.7"/>
<line x1="103.6" y1="445.9" x2="104.8" y2="445.9" stroke="#555" stroke-width="0.7"/>
<line x1="103.6" y1="451.5" x2="104.8" y2="451.5" stroke="#555" stroke-width="0.7"/>
<line x1="103.6" y1="457.1" x2="104.8" y2="457.1" stroke="#555" stroke-width="0.7"/>
<line x1="103.6" y1="462.7" x2="104.8" y2="462.7" stroke="#555" stroke-width="0.7"/>
<line x1="103.6" y1="468.3" x2="104.8" y2="468.3" stroke="#555" stroke-width="0.7"/>
<line x1="103.6" y1="473.9" x2="104.8" y2="473.9" stroke="#555" stroke-width="0.7"/>
<line x1="103.6" y1="479.5" x2="104.8" y2="479.5" stroke="#555" stroke-width="0.7"/>
<line x1="103.6" y1="485.1" x2="104.8" y2="485.1" stroke="#555" stroke-width="0.7"/>
<line x1="103.6" y1="490.7" x2="104.8" y2="490.7" stroke="#555" stroke-width="0.7"/>
<line x1="103.6" y1="496.3" x2="104.8" y2="496.3" stroke="#555" stroke-width="0.7"/>
<line x1="107.8" y1="498.3" x2="107.8" y2="499.5" stroke="#555" stroke-width="0.7"/>
<line x1="113.4" y1="498.3" x2="113.4" y2="499.5" stroke="#555" stroke-width="0.7"/>
<line x1="119.0" y1="498.3" x2="119.0" y2="499.5" stroke="#555" stroke-width="0.7"/>
<line x1="124.7" y1="498.3" x2="124.7" y2="499.5" stroke="#555" stroke-width="0.7"/>
<line x1="130.3" y1="498.3" x2="130.3" y2="499.5" stroke="#555" stroke-width="0.7"/>
<line x1="135.9" y1="498.3" x2="135.9" y2="499.5" stroke="#555" stroke-width="0.7"/>
<line x1="141.5" y1="498.3" x2="141.5" y2="499.5" stroke="#555" stroke-width="0.7"/>
<line x1="147.1" y1="498.3" x2="147.1" y2="499.5" stroke="#555" stroke-width="0.7"/>
<line x1="152.7" y1="498.3" x2="152.7" y2="499.5" stroke="#555" stroke-width="0.7"/>
<line x1="158.4" y1="498.3" x2="158.4" y2="499.5" stroke="#555" stroke-width="0.7"/>
<line x1="164.0" y1="498.3" x2="164.0" y2="499.5" stroke="#555" stroke-width="0.7"/>
<line x1="169.6" y1="498.3" x2="169.6" y2="499.5" stroke="#555" stroke-width="0.7"/>
<circle cx="104.8" cy="490.3" r="0.9" fill="#111"/>
<circle cx="112.8" cy="498.3" r="0.9" fill="#111"/>
<path transform="scale(0.1)" stroke="#000" stroke-opacity="0.45" stroke-width="7" d="M1518 4829h7M1459 4844h7M1549 4847h7M1486 4846h7M1513 4890h7M1618 4899h7M1520 4842h7M1567 4808h7M1585 4870h7M1468 4887h7M1535 4883h7M1493 4826h7M1559 4879h7M1477 4873h7M1582 4872h7M1421 4856h7M1559 4896h7M1481 4876h7M1479 4882h7M1517 4888h7M1513 4866h7M1511 4882h7M1547 4819h7M1492 4894h7M1471 4881h7M1529 4885h7M1533 4859h7M1569 4839h7M1558 4850h7M1499 4894h7M1493 4871h7M1518 4847h7M1511 4816h7M1477 4862h7M1541 4863h7M1447 4864h7M1586 4872h7M1529 4869h7M1504 4848h7M1508 4872h7M1464 4893h7M1517 4907h7M1512 4891h7M1450 4882h7M1502 4862h7M1457 4897h7M1519 4895h7M1560 4847h7M1423 4870h7M1495 4840h7M1499 4859h7M1470 4870h7M1482 4870h7M1566 4888h7M1527 4903h7M1514 4873h7M1510 4828h7M1511 4838h7M1583 4877h7M1474 4893h7M1512 4848h7M1560 4887h7M1540 4902h7M1443 4844h7M1495 4873h7M1465 4856h7M1535 4929h7M1541 4834h7M1559 4880h7M1525 4855h7M1463 4846h7M1598 4894h7M1461 4869h7M1453 4854h7M1520 4916h7M1438 4909h7M1552 4837h7M1468 4902h7M1605 4891h7M1522 4884h7M1478 4855h7M1466 4864h7M1488 4873h7M1487 4899h7M1453 4892h7M1520 4900h7M1506 4914h7M1491 4914h7M1465 4886h7M1524 4865h7M1523 4867h7M1527 4879h7M1447 4870h7M1541 4845h7M1532 4884h7M1555 4871h7M1467 4856h7M1484 4896h7M1564 4882h7M1484 4898h7M1453 4901h7M1493 4874h7M1461 4894h7M1536 4903h7M1490 4925h7M1395 4873h7M1529 4889h7M1478 4876h7M1483 4886h7M1518 4849h7M1552 4829h7M1492 4885h7M1415 4841h7M1590 4896h7M1459 4869h7M1523 4942h7M1515 4888h7M1522 4857h7M1506 4867h7M1497 4870h7M1476 4847h7M1518 4887h7M1585 4925h7M1497 4870h7M1526 4884h7M1487 4858h7M1644 4870h7M1433 4855h7M1533 4871h7M1463 4852h7M1618 4838h7M1562 4874h7M1572 4876h7M1553 4865h7M1494 4898h7M1462 4828h7M1537 4876h7M1485 4881h7M1510 4846h7M1497 4891h7M1464 4931h7M1500 4842h7M1570 4874h7M1526 4914h7M1511 4869h7M1601 4873h7M1481 4867h7M1539 4903h7M1481 4854h7M1525 4884h7M1500 4859h7M1441 4890h7M1503 4831h7M1553 4872h7M1456 4890h7M1564 4887h7M1631 4860h7M1464 4880h7M1525 4897h7M1505 4845h7M1469 4902h7M1510 4869h7M1556 4850h7M1541 4832h7M1512 4857h7M1549 4892h7M1511 4872h7M1431 4857h7M1535 4931h7M1591 4914h7M1506 4849h7M1454 4863h7M1453 4900h7M1491 4828h7M1460 4913h7M1548 4880h7M1470 4851h7M1577 4894h7M1534 4838h7M1541 4913h7M1481 4824h7M1456 4866h7M1442 4878h7M1497 4884h7M1488 4873h7M1539 4913h7M1597 4877h7M1470 4821h7M1486 4840h7M1521 4883h7M1564 4833h7M1542 4932h7M1467 4832h7M1514 4847h7M1480 4882h7M1543 4898h7M1450 4904h7M1501 4881h7M1563 4877h7M1606 4863h7M1466 4834h7M1590 4877h7M1483 4860h7M1579 4878h7M1560 4882h7M1575 4876h7M1623 4884h7M1512 4862h7M1626 4874h7M1548 4831h7M1426 4876h7M1504 4823h7M1506 4880h7M1448 4876h7M1559 4853h7M1512 4876h7M1563 4924h7M1578 4871h7M1560 4858h7M1553 4844h7M1472 4884h7M1540 4876h7M1575 4885h7M1509 4869h7M1498 4873h7M1478 4857h7M1488 4861h7M1569 4851h7M1508 4822h7M1496 4873h7M1454 4855h7M1511 4838h7M1479 4867h7M1519 4881h7M1467 4904h7M1557 4881h7M1494 4863h7M1615 4915h7M1513 4857h7M1560 4867h7M1539 4919h7M1483 4882h7M1387 4861h7M1511 4904h7M1500 4869h7M1542 4883h7M1513 4831h7M1564 4890h7M1520 4856h7M1449 4868h7M1483 4860h7M1488 4840h7M1542 4866h7M1515 4883h7M1485 4848h7M1442 4860h7M1546 4900h7M1565 4895h7M1528 4858h7M1488 4863h7M1502 4844h7M1526 4891h7M1487 4826h7M1493 4907h7M1460 4894h7M1478 4869h7M1514 4873h7M1543 4862h7M1466 4825h7M1448 4898h7M1517 4907h7M1464 4852h7M1518 4860h7M1452 4895h7M1501 4859h7M1502 4874h7M1497 4870h7M1566 4852h7M1522 4861h7M1487 4878h7M1461 4890h7M1570 4810h7M1463 4907h7M1561 4821h7M1511 4914h7M1567 4883h7M1541 4860h7M1473 4897h7M1471 4900h7M1526 4877h7M1538 4876h7M1477 4865h7M1452 4913h7M1492 4814h7M1545 4860h7M1539 4899h7M1519 4855h7M1496 4877h7M1528 4851h7M1441 4883h7M1557 4878h7M1461 4915h7M1572 4886h7M1477 4864h7M1571 4821h7M1441 4926h7M1445 4853h7M1482 4879h7M1577 4879h7M1460 4878h7M1422 4881h7M1546 4915h7M1465 4870h7M1446 4898h7M1464 4863h7M1512 4898h7M1470 4857h7M1465 4888h7M1437 4874h7M1500 4893h7M1509 4880h7M1519 4847h7M1589 4903h7M1510 4884h7M1441 4829h7M1488 4873h7M1507 4847h7M1517 4825h7M1554 4870h7M1542 4828h7M1505 4920h7M1483 4898h7M1475 4869h7M1477 4868h7M1465 4951h7M1453 4896h7M1489 4897h7M1493 4866h7M1481 4846h7M1507 4859h7M1509 4885h7M1477 4918h7M1521 4852h7M1496 4888h7M1518 4866h7M1454 4814h7M1471 4909h7M1487 4889h7M1496 4884h7M1503 4872h7M1562 4834h7M1543 4857h7M1497 4868h7M1610 4937h7M1507 4911h7M1532 4854h7M1542 4834h7M1529 4857h7M1397 4853h7M1543 4858h7M1520 4871h7M1515 4896h7M1497 4816h7M1491 4903h7M1412 4881h7M1514 4905h7M1459 4833h7M1526 4826h7M1553 4892h7M1517 4898h7M1584 4896h7M1490 4902h7M1482 4830h7M1488 4864h7M1484 4921h7M1422 4828h7M1451 4885h7M1587 4891h7M1573 4848h7M1536 4876h7M1381 4857h7M1523 4891h7M1518 4840h7M1548 4867h7M1484 4821h7M1430 4888h7M1507 4882h7M1436 4883h7M1546 4820h7M1545 4829h7M1552 4855h7M1526 4830h7M1544 4886h7M1561 4909h7M1542 4868h7M1505 4868h7M1468 4869h7M1479 4849h7M1529 4888h7M1538 4854h7M1540 4859h7M1525 4866h7M1432 4908h7M1524 4917h7M1574 4872h7M1506 4862h7M1582 4832h7M1482 4846h7M1496 4845h7M1503 4874h7M1461 4893h7M1496 4867h7M1470 4896h7M1589 4869h7M1518 4826h7M1599 4867h7M1534 4869h7M1415 4846h7M1470 4859h7M1613 4887h7M1504 4844h7M1546 4852h7M1438 4875h7M1530 4870h7M1468 4872h7M1526 4817h7M1579 4878h7M1536 4855h7M1447 4876h7M1575 4865h7M1440 4880h7M1538 4874h7M1506 4893h7M1504 4913h7M1489 4820h7M1518 4883h7M1605 4834h7M1501 4882h7M1453 4861h7M1453 4925h7M1457 4843h7M1502 4844h7M1523 4877h7M1557 4881h7M1514 4869h7M1453 4860h7M1450 4871h7M1553 4889h7M1581 4871h7M1496 4900h7M1442 4886h7M1483 4862h7M1543 4898h7M1451 4856h7M1537 4824h7M1477 4873h7M1470 4926h7M1599 4891h7M1459 4870h7M1462 4868h7M1476 4855h7M1510 4886h7M1470 4908h7M1489 4872h7M1477 4829h7M1546 4891h7M1507 4866h7M1525 4853h7M1439 4912h7M1538 4887h7M1539 4865h7M1437 4864h7M1524 4852h7M1557 4886h7M1538 4882h7M1483 4868h7M1528 4816h7M1542 4909h7M1524 4849h7M1505 4905h7M1541 4872h7M1609 4896h7M1491 4908h7M1496 4881h7M1471 4849h7M1554 4873h7M1514 4842h7M1487 4862h7M1540 4833h7M1494 4891h7M1528 4854h7M1535 4870h7M1496 4905h7M1435 4848h7M1564 4896h7M1531 4853h7M1521 4885h7M1540 4908h7M1432 4871h7M1572 4872h7M1556 4886h7M1585 4894h7M1562 4833h7M1446 4878h7M1488 4889h7M1515 4851h7M1517 4854h7M1476 4878h7M1532 4901h7M1531 4876h7M1520 4860h7M1536 4817h7M1545 4924h7M1568 4844h7M1548 4878h7M1586 4867h7M1464 4835h7M1551 4911h7M1463 4872h7M1646 4863h7M1521 4899h7M1451 4870h7M1458 4862h7M1532 4837h7M1525 4899h7M1516 4870h7M1469 4865h7M1563 4882h7M1593 4843h7M1479 4875h7M1530 4854h7M1490 4856h7M1538 4856h7M1474 4901h7M1538 4851h7M1399 4861h7M1471 4847h7M1542 4848h7M1533 4849h7M1543 4854h7M1597 4859h7M1502 4885h7M1517 4858h7M1483 4863h7M1438 4865h7M1552 4876h7M1507 4916h7M1501 4851h7M1499 4863h7M1577 4883h7M1466 4872h7M1510 4903h7M1542 4861h7M1561 4892h7M1539 4878h7M1528 4874h7M1509 4854h7M1544 4860h7M1468 4903h7M1508 4857h7M1484 4869h7M1512 4855h7M1580 4856h7M1472 4911h7M1550 4881h7M1523 4869h7M1500 4849h7M1440 4895h7M1475 4831h7M1505 4805h7M1477 4893h7M1490 4855h7M1608 4888h7M1547 4867h7M1511 4916h7M1532 4879h7M1517 4893h7M1537 4873h7M1481 4857h7M1535 4878h7M1542 4847h7M1396 4836h7M1487 4861h7M1450 4883h7M1507 4847h7M1554 4872h7M1497 4865h7M1498 4887h7M1412 4889h7M1546 4877h7M1630 4875h7M1535 4886h7M1549 4834h7M1441 4844h7M1574 4881h7M1396 4896h7M1576 4891h7M1443 4875h7M1549 4900h7M1475 4910h7M1557 4865h7M1483 4863h7M1516 4837h7M1536 4891h7M1544 4880h7M1648 4878h7M1500 4898h7M1518 4874h7M1605 4924h7M1470 4904h7M1490 4912h7M1482 4935h7M1479 4858h7M1508 4882h7M1511 4908h7M1565 4853h7M1541 4862h7M1463 4847h7M1505 4889h7M1508 4874h7M1474 4816h7M1553 4923h7M1459 4845h7M1555 4888h7M1559 4898h7M1454 4863h7M1503 4900h7M1485 4820h7M1575 4854h7M1489 4854h7M1465 4890h7M1519 4873h7M1533 4850h7M1462 4906h7M1500 4853h7M1453 4856h7M1407 4891h7M1494 4905h7M1532 4865h7M1463 4866h7M1376 4894h7M1497 4855h7M1601 4854h7M1584 4892h7M1498 4871h7M1591 4806h7M1555 4852h7M1563 4877h7M1448 4864h7M1447 4808h7M1437 4858h7M1415 4845h7M1545 4914h7M1567 4919h7M1494 4891h7M1444 4866h7M1367 4846h7M1508 4892h7M1451 4906h7M1549 4883h7M1492 4875h7M1518 4907h7M1467 4862h7M1447 4883h7M1521 4850h7M1579 4902h7M1548 4888h7M1582 4914h7M1535 4854h7M1479 4850h7M1531 4878h7M1503 4854h7M1499 4898h7M1459 4870h7M1534 4854h7M1492 4881h7M1536 4902h7M1494 4893h7M1539 4876h7M1420 4829h7M1478 4851h7M1543 4856h7M1520 4865h7M1397 4863h7M1471 4891h7M1494 4878h7M1462 4870h7M1519 4854h7M1608 4888h7M1581 4911h7M1457 4858h7M1535 4895h7M1505 4867h7M1511 4836h7M1537 4846h7M1575 4844h7M1463 4913h7M1494 4894h7M1520 4897h7M1569 4875h7M1517 4879h7M1490 4839h7M1480 4867h7M1516 4866h7M1549 4885h7M1511 4896h7M1608 4840h7M1516 4887h7M1489 4888h7M1569 4892h7M1549 4885h7M1578 4900h7M1497 4881h7M1504 4853h7M1501 4894h7M1501 4898h7M1533 4886h7M1467 4855h7M1561 4891h7M1475 4840h7M1459 4885h7M1464 4917h7M1438 4880h7M1491 4845h7M1536 4891h7M1501 4846h7M1541 4892h7M1488 4810h7M1513 4854h7M1513 4907h7M1502 4892h7M1592 4816h7M1560 4837h7M1478 4866h7M1485 4885h7M1481 4863h7M1545 4855h7M1396 4871h7M1479 4835h7M1613 4885h7M1500 4871h7M1382 4895h7M1463 4891h7M1398 4900h7M1517 4840h7M1514 4886h7M1492 4924h7M1477 4910h7M1561 4846h7M1425 4874h7M1572 4855h7M1486 4825h7M1553 4876h7M1515 4842h7M1473 4869h7M1539 4830h7M1545 4878h7M1466 4884h7M1527 4826h7M1520 4857h7M1523 4891h7M1514 4859h7M1528 4864h7M1523 4892h7M1547 4865h7M1517 4885h7M1505 4865h7M1583 4915h7M1480 4849h7M1497 4817h7M1591 4888h7M1604 4892h7M1408 4843h7M1555 4869h7M1536 4881h7M1468 4831h7M1537 4870h7M1559 4881h7M1431 4854h7M1488 4876h7M1443 4811h7M1540 4835h7M1530 4897h7M1553 4892h7M1561 4832h7M1481 4884h7M1580 4859h7M1442 4862h7M1585 4882h7M1436 4854h7M1537 4896h7M1542 4911h7M1519 4884h7M1525 4897h7M1510 4894h7M1545 4857h7M1535 4872h7M1516 4868h7M1521 4877h7M1448 4847h7M1512 4850h7M1434 4924h7M1501 4836h7M1551 4876h7M1531 4872h7M1495 4881h7M1442 4880h7M1555 4892h7M1543 4873h7M1566 4891h7M1415 4855h7M1444 4857h7M1597 4853h7M1551 4843h7M1434 4843h7M1499 4854h7M1400 4851h7M1510 4859h7M1450 4829h7M1475 4890h7M1561 4928h7M1504 4853h7M1458 4889h7M1483 4860h7M1446 4868h7M1538 4847h7M1529 4861h7M1534 4845h7M1477 4847h7M1508 4856h7M1448 4865h7M1552 4889h7M1510 4863h7M1570 4844h7M1624 4893h7M1528 4880h7M1592 4833h7M1469 4872h7M1497 4889h7M1526 4848h7M1453 4911h7M1470 4839h7M1470 4858h7M1536 4866h7M1437 4911h7M1582 4871h7M1430 4881h7M1529 4866h7M1557 4914h7M1501 4866h7M1521 4875h7M1502 4910h7M1560 4902h7M1448 4885h7M1493 4827h7M1580 4832h7M1453 4813h7M1454 4879h7M1579 4895h7M1525 4894h7M1493 4869h7M1503 4848h7M1573 4832h7M1519 4873h7M1435 4837h7M1529 4849h7M1517 4859h7M1510 4857h7M1500 4892h7M1435 4845h7M1530 4881h7M1544 4876h7M1399 4897h7M1475 4867h7M1447 4889h7M1517 4840h7M1536 4896h7M1541 4820h7M1545 4885h7M1622 4889h7M1596 4876h7M1425 4821h7M1567 4885h7M1520 4906h7M1506 4874h7M1525 4872h7M1487 4870h7M1532 4903h7M1511 4880h7M1537 4847h7M1464 4873h7M1495 4845h7M1484 4827h7M1563 4883h7M1568 4811h7M1508 4877h7M1476 4892h7M1509 4881h7M1508 4863h7M1488 4871h7M1573 4867h7M1475 4854h7M1551 4907h7M1540 4881h7M1545 4843h7M1489 4883h7M1527 4920h7M1487 4893h7M1586 4847h7M1504 4887h7M1530 4879h7M1583 4902h7M1465 4852h7M1468 4864h7M1546 4875h7M1555 4886h7M1483 4820h7M1486 4839h7M1448 4861h7M1602 4857h7M1547 4887h7M1513 4847h7M1599 4870h7M1605 4878h7M1506 4870h7M1488 4853h7M1539 4850h7M1544 4842h7M1426 4863h7M1563 4851h7M1603 4901h7M1505 4901h7M1498 4869h7M1531 4869h7M1569 4841h7M1461 4829h7M1496 4864h7M1458 4886h7M1443 4845h7M1583 4854h7M1521 4798h7M1512 4871h7M1503 4887h7M1499 4871h7M1476 4866h7M1509 4894h7M1479 4843h7M1492 4855h7M1497 4902h7M1489 4917h7M1567 4871h7M1506 4873h7M1471 4884h7M1534 4862h7M1488 4883h7M1448 4855h7M1465 4826h7M1463 4885h7M1570 4846h7M1484 4885h7M1518 4853h7M1479 4897h7M1426 4834h7M1510 4878h7M1469 4845h7M1564 4874h7M1453 4879h7M1498 4900h7M1553 4846h7M1476 4869h7M1488 4884h7M1498 4915h7M1462 4833h7M1485 4856h7M1485 4854h7M1468 4881h7M1507 4861h7M1442 4883h7M1575 4866h7M1510 4899h7M1507 4891h7M1490 4850h7M1577 4835h7M1544 4902h7M1518 4871h7M1558 4844h7M1505 4878h7M1517 4828h7M1521 4859h7M1574 4922h7M1442 4877h7M1493 4809h7M1539 4931h7M1489 4913h7M1580 4883h7M1519 4915h7M1427 4865h7M1465 4882h7M1514 4879h7M1534 4924h7M1580 4873h7M1499 4904h7M1529 4896h7M1386 4900h7M1561 4805h7M1514 4880h7M1429 4900h7M1528 4845h7M1470 4869h7M1514 4858h7M1525 4903h7M1517 4869h7M1601 4899h7M1493 4870h7M1483 4867h7M1493 4848h7M1542 4861h7M1470 4857h7M1462 4867h7M1501 4848h7M1555 4876h7M1550 4873h7M1539 4832h7M1496 4895h7M1485 4879h7M1441 4825h7M1441 4920h7M1538 4849h7M1529 4867h7M1528 4859h7M1508 4897h7M1547 4874h7M1539 4873h7M1525 4846h7M1501 4906h7M1516 4882h7M1585 4899h7M1597 4897h7M1591 4843h7M1535 4872h7M1435 4878h7M1523 4875h7M1533 4871h7M1591 4861h7M1515 4829h7M1503 4885h7M1533 4887h7M1518 4877h7M1488 4911h7M1464 4865h7M1449 4895h7M1497 4869h7M1448 4911h7M1483 4899h7M1513 4870h7M1504 4853h7M1536 4888h7M1624 4831h7M1501 4848h7M1490 4837h7M1465 4890h7M1485 4863h7M1552 4877h7M1527 4868h7M1517 4859h7M1575 4867h7M1483 4862h7M1524 4855h7M1586 4881h7M1542 4874h7M1463 4859h7M1538 4875h7M1487 4836h7M1472 4884h7M1409 4916h7M1392 4850h7M1578 4864h7M1495 4824h7M1491 4880h7M1475 4874h7M1516 4809h7M1522 4872h7M1592 4851h7M1496 4794h7M1501 4822h7M1574 4861h7M1482 4866h7M1522 4810h7M1577 4756h7M1578 4879h7M1589 4780h7M1554 4835h7M1501 4884h7M1538 4858h7M1535 4805h7M1524 4847h7M1562 4857h7M1477 4780h7M1573 4805h7M1592 4827h7M1533 4831h7M1526 4794h7M1550 4802h7M1537 4815h7M1488 4830h7M1554 4785h7M1569 4794h7M1629 4718h7M1589 4863h7M1551 4786h7M1537 4886h7M1532 4838h7M1543 4808h7M1555 4864h7M1612 4758h7M1528 4814h7M1585 4791h7M1513 4810h7M1544 4839h7M1559 4780h7M1490 4929h7M1541 4789h7M1592 4773h7M1528 4862h7M1564 4871h7M1547 4843h7M1511 4825h7M1604 4819h7M1540 4788h7M1580 4877h7M1557 4869h7M1562 4789h7M1571 4794h7M1553 4861h7M1548 4824h7M1491 4814h7M1542 4771h7M1574 4838h7M1550 4794h7M1497 4802h7M1547 4806h7M1480 4836h7M1504 4787h7M1530 4820h7M1561 4762h7M1541 4840h7M1563 4788h7M1507 4825h7M1537 4838h7M1471 4821h7M1539 4830h7M1572 4749h7M1530 4803h7M1524 4793h7M1532 4843h7M1548 4824h7M1519 4894h7M1481 4852h7M1553 4843h7M1520 4842h7M1502 4823h7M1588 4807h7M1602 4826h7M1508 4835h7M1505 4835h7M1589 4767h7M1575 4743h7M1503 4850h7M1525 4882h7M1505 4784h7M1551 4763h7M1514 4806h7M1489 4825h7M1533 4809h7M1556 4785h7M1535 4760h7M1488 4847h7M1499 4850h7M1605 4816h7M1524 4809h7M1593 4762h7M1502 4877h7M1570 4829h7M1529 4801h7M1520 4803h7M1515 4832h7M1479 4903h7M1481 4812h7M1542 4817h7M1531 4807h7M1568 4786h7M1562 4798h7M1586 4842h7M1579 4884h7M1537 4806h7M1543 4776h7M1550 4805h7M1600 4726h7M1558 4797h7M1547 4894h7M1480 4836h7M1497 4838h7M1467 4845h7M1564 4789h7M1578 4839h7M1532 4873h7M1541 4826h7M1553 4812h7M1470 4856h7M1543 4779h7M1651 4772h7M1551 4868h7M1623 4798h7M1562 4823h7M1509 4835h7M1502 4864h7M1610 4773h7M1550 4797h7M1606 4787h7M1532 4837h7M1592 4792h7M1536 4779h7M1529 4885h7M1582 4764h7M1567 4768h7M1615 4800h7M1530 4861h7M1526 4817h7M1561 4848h7M1570 4853h7M1462 4796h7M1485 4819h7M1546 4782h7M1568 4748h7M1531 4798h7M1520 4837h7M1553 4893h7M1565 4793h7M1541 4823h7M1545 4783h7M1510 4875h7M1489 4802h7M1592 4795h7M1493 4854h7M1586 4770h7M1504 4798h7M1598 4747h7M1488 4839h7M1507 4838h7M1559 4778h7M1588 4788h7M1602 4830h7M1617 4781h7M1591 4809h7M1582 4757h7M1611 4833h7M1493 4846h7M1581 4773h7M1591 4757h7M1510 4821h7M1520 4755h7M1543 4837h7M1544 4827h7M1548 4803h7M1544 4853h7M1592 4825h7M1565 4880h7M1516 4808h7M1572 4806h7M1566 4799h7M1577 4841h7M1571 4791h7M1579 4827h7M1564 4798h7M1596 4780h7M1570 4835h7M1564 4855h7M1588 4816h7M1638 4801h7M1576 4773h7M1537 4842h7M1519 4804h7M1564 4797h7M1513 4850h7M1539 4781h7M1597 4820h7M1517 4839h7M1583 4807h7M1495 4743h7M1550 4814h7M1547 4822h7M1517 4812h7M1592 4764h7M1515 4795h7M1572 4871h7M1519 4844h7M1496 4787h7M1605 4775h7M1609 4763h7M1536 4814h7M1569 4782h7M1502 4798h7M1612 4737h7M1487 4823h7M1496 4825h7M1549 4820h7M1565 4771h7M1565 4809h7M1543 4788h7M1515 4805h7M1617 4826h7M1522 4780h7M1524 4836h7M1559 4866h7M1543 4864h7M1528 4821h7M1592 4780h7M1644 4779h7M1613 4775h7M1536 4800h7M1552 4844h7M1594 4831h7M1552 4783h7M1508 4917h7M1492 4863h7M1517 4816h7M1581 4776h7M1514 4812h7M1483 4827h7M1571 4823h7M1583 4818h7M1525 4816h7M1519 4800h7M1523 4874h7M1561 4818h7M1465 4841h7M1507 4825h7M1484 4919h7M1531 4813h7M1486 4771h7M1566 4835h7M1552 4821h7M1476 4837h7M1491 4850h7M1542 4798h7M1563 4744h7M1535 4876h7M1514 4831h7M1551 4778h7M1571 4853h7M1548 4782h7M1511 4838h7M1602 4832h7M1569 4852h7M1576 4882h7M1556 4841h7M1576 4821h7M1470 4866h7M1621 4818h7M1507 4881h7M1479 4871h7M1473 4886h7M1580 4830h7M1582 4785h7M1496 4885h7M1527 4847h7M1510 4893h7M1531 4885h7M1582 4782h7M1513 4812h7M1476 4808h7M1518 4852h7M1554 4818h7M1578 4806h7M1545 4819h7M1486 4862h7M1592 4857h7M1525 4896h7M1550 4852h7M1535 4829h7M1558 4850h7M1528 4840h7M1568 4849h7M1568 4765h7M1612 4775h7M1574 4786h7M1530 4807h7M1466 4822h7M1531 4882h7M1536 4805h7M1566 4838h7M1542 4840h7M1481 4811h7M1623 4762h7M1482 4783h7M1513 4889h7M1617 4854h7M1654 4847h7M1579 4747h7M1597 4791h7M1552 4776h7M1546 4764h7M1614 4853h7M1542 4770h7M1549 4802h7M1528 4851h7M1574 4815h7M1594 4833h7M1562 4825h7M1547 4745h7M1484 4853h7M1561 4838h7M1537 4777h7M1589 4792h7M1541 4794h7M1541 4796h7M1507 4839h7M1526 4829h7M1547 4815h7M1530 4795h7M1559 4847h7M1531 4874h7M1550 4857h7M1491 4835h7M1527 4770h7M1483 4859h7M1623 4708h7M1530 4872h7M1565 4795h7M1445 4848h7M1603 4850h7M1482 4847h7M1559 4775h7M1483 4809h7M1579 4773h7M1535 4815h7M1577 4880h7M1556 4850h7M1641 4714h7M1611 4812h7M1609 4843h7M1575 4802h7M1528 4821h7M1529 4849h7M1563 4855h7M1553 4817h7M1587 4829h7M1486 4876h7M1534 4791h7M1524 4795h7M1537 4789h7M1498 4814h7M1576 4813h7M1546 4833h7M1557 4804h7M1570 4836h7M1455 4822h7M1541 4869h7M1558 4744h7M1553 4827h7M1545 4822h7M1577 4839h7M1476 4799h7M1552 4763h7M1619 4776h7M1547 4854h7M1515 4795h7M1562 4781h7M1572 4826h7M1569 4812h7M1517 4792h7M1471 4780h7M1522 4852h7M1580 4756h7M1552 4805h7M1552 4796h7M1532 4875h7M1518 4795h7M1589 4827h7M1549 4888h7M1572 4799h7M1576 4800h7M1527 4857h7M1491 4849h7M1525 4803h7M1584 4591h7M1602 4602h7M1573 4651h7M1584 4790h7M1540 4654h7M1605 4866h7M1583 4740h7M1603 4613h7M1595 4751h7M1600 4652h7M1584 4583h7M1545 4604h7M1635 4620h7M1618 4621h7M1625 4604h7M1539 4687h7M1606 4622h7M1580 4616h7M1551 4733h7M1629 4700h7M1607 4665h7M1581 4607h7M1600 4687h7M1610 4699h7M1549 4562h7M1575 4674h7M1533 4667h7M1533 4682h7M1537 4641h7M1586 4638h7M1587 4651h7M1528 4612h7M1576 4659h7M1537 4735h7M1606 4579h7M1586 4607h7M1553 4593h7M1633 4659h7M1616 4632h7M1554 4699h7M1623 4826h7M1565 4675h7M1538 4629h7M1620 4720h7M1564 4566h7M1576 4825h7M1537 4679h7M1545 4627h7M1591 4600h7M1577 4649h7M1569 4671h7M1520 4686h7M1639 4657h7M1529 4713h7M1561 4638h7M1572 4750h7M1563 4622h7M1595 4622h7M1577 4723h7M1584 4707h7M1586 4776h7M1586 4686h7M1567 4721h7M1520 4582h7M1631 4647h7M1599 4775h7M1555 4728h7M1546 4636h7M1621 4658h7M1549 4631h7M1604 4732h7M1614 4494h7M1530 4623h7M1613 4594h7M1530 4405h7M1525 4736h7M1629 4659h7M1577 4649h7M1606 4710h7M1604 4611h7M1611 4806h7M1605 4729h7M1574 4644h7M1651 4666h7M1575 4622h7M1606 4773h7M1553 4523h7M1563 4690h7M1557 4649h7M1618 4736h7M1543 4689h7M1574 4693h7M1584 4704h7M1549 4696h7M1526 4628h7M1546 4631h7M1593 4752h7M1563 4760h7M1567 4657h7M1538 4638h7M1657 4693h7M1603 4715h7M1526 4625h7M1591 4575h7M1614 4651h7M1554 4619h7M1620 4694h7M1617 4539h7M1622 4663h7M1595 4765h7M1542 4643h7M1605 4704h7M1603 4565h7M1593 4671h7M1605 4569h7M1569 4662h7M1637 4675h7M1535 4589h7M1574 4473h7M1570 4754h7M1598 4531h7M1561 4748h7M1537 4631h7M1542 4602h7M1549 4452h7M1612 4694h7M1568 4690h7M1573 4645h7M1588 4716h7M1599 4663h7M1634 4665h7M1535 4769h7M1563 4594h7M1585 4675h7M1577 4571h7M1573 4701h7M1634 4700h7M1621 4771h7M1613 4726h7M1609 4710h7M1546 4557h7M1556 4706h7M1624 4649h7M1567 4768h7M1616 4683h7M1576 4534h7M1621 4694h7M1577 4670h7M1571 4702h7M1579 4651h7M1605 4570h7M1582 4624h7M1497 4446h7M1617 4817h7M1597 4752h7M1617 4668h7M1580 4783h7M1593 4718h7M1520 4674h7M1619 4617h7M1565 4690h7M1600 4591h7M1584 4712h7M1536 4723h7M1520 4735h7M1603 4761h7M1507 4669h7M1570 4676h7M1551 4756h7M1575 4660h7M1542 4632h7M1517 4643h7M1555 4669h7M1520 4647h7M1599 4640h7M1576 4599h7M1564 4676h7M1563 4723h7M1539 4639h7M1598 4743h7M1521 4695h7M1565 4663h7M1582 4655h7M1595 4650h7M1608 4706h7M1520 4703h7M1578 4527h7M1531 4601h7M1605 4693h7M1579 4566h7M1585 4668h7M1591 4707h7M1588 4634h7M1581 4466h7M1605 4708h7M1587 4603h7M1585 4634h7M1582 4736h7M1598 4664h7M1584 4671h7M1576 4638h7M1599 4631h7M1581 4694h7M1574 4677h7M1626 4697h7M1585 4634h7M1553 4673h7M1586 4752h7M1549 4751h7M1574 4677h7M1610 4722h7M1595 4615h7M1579 4652h7M1617 4606h7M1621 4677h7M1560 4676h7M1594 4589h7M1620 4655h7M1614 4636h7M1561 4717h7M1602 4669h7M1531 4738h7M1607 4560h7M1531 4650h7M1596 4677h7M1534 4684h7M1594 4704h7M1574 4618h7M1554 4728h7M1588 4672h7M1592 4716h7M1594 4736h7M1536 4745h7M1607 4627h7M1601 4616h7M1592 4636h7M1490 4721h7M1539 4723h7M1574 4789h7M1479 4603h7M1530 4698h7M1554 4586h7M1553 4618h7M1594 4712h7M1637 4505h7M1514 4565h7M1588 4638h7M1612 4697h7M1561 4624h7M1639 4601h7M1545 4600h7M1593 4687h7M1604 4564h7M1588 4600h7M1584 4557h7M1551 4642h7M1581 4508h7M1592 4616h7M1583 4712h7M1629 4747h7M1616 4738h7M1534 4625h7M1578 4665h7M1622 4707h7M1605 4694h7M1529 4757h7M1591 4662h7M1536 4550h7M1602 4726h7M1535 4547h7M1589 4616h7M1622 4703h7M1583 4482h7M1635 4648h7M1543 4692h7M1567 4710h7M1638 4587h7M1616 4603h7M1592 4706h7M1641 4675h7M1595 4645h7M1566 4627h7M1525 4541h7M1562 4711h7M1584 4769h7M1534 4632h7M1574 4753h7M1551 4703h7M1619 4747h7M1569 4658h7M1614 4653h7M1603 4672h7M1615 4699h7M1597 4644h7M1600 4658h7M1684 4696h7M1586 4647h7M1516 4666h7M1596 4699h7M1576 4752h7M1596 4623h7M1546 4751h7M1567 4628h7M1542 4621h7M1603 4707h7M1579 4725h7M1615 4726h7M1520 4666h7M1567 4794h7M1635 4696h7M1551 4743h7M1576 4628h7M1618 4612h7M1577 4553h7M1547 4706h7M1549 4507h7M1627 4574h7M1570 4601h7M1657 4519h7M1586 4614h7M1589 4621h7M1586 4748h7M1588 4677h7M1575 4553h7M1566 4498h7M1658 4511h7M1627 4569h7M1564 4560h7M1553 4541h7M1571 4609h7M1491 4496h7M1581 4674h7M1586 4523h7M1637 4549h7M1566 4592h7M1543 4714h7M1558 4615h7M1546 4558h7M1569 4593h7M1589 4541h7M1614 4649h7M1590 4571h7M1621 4598h7M1600 4627h7M1532 4613h7M1602 4522h7M1625 4534h7M1509 4644h7M1605 4642h7M1563 4678h7M1619 4661h7M1587 4582h7M1568 4562h7M1567 4703h7M1552 4671h7M1572 4666h7M1645 4497h7M1551 4578h7M1564 4570h7M1584 4580h7M1579 4599h7M1588 4446h7M1640 4590h7M1607 4701h7M1538 4615h7M1579 4629h7M1518 4564h7M1630 4564h7M1565 4526h7M1578 4618h7M1592 4723h7M1567 4646h7M1525 4591h7M1556 4612h7M1622 4596h7M1597 4642h7M1593 4628h7M1550 4659h7M1577 4555h7M1504 4729h7M1580 4642h7M1611 4591h7M1543 4641h7M1586 4705h7M1568 4583h7M1522 4569h7M1511 4458h7M1571 4605h7M1622 4566h7M1591 4593h7M1540 4580h7M1571 4580h7M1579 4624h7M1532 4575h7M1592 4545h7M1617 4549h7M1583 4596h7M1569 4560h7M1576 4596h7M1600 4460h7M1584 4603h7M1545 4637h7M1558 4607h7M1625 4683h7M1546 4651h7M1581 4763h7M1611 4561h7M1587 4619h7M1580 4497h7M1580 4544h7M1578 4651h7M1607 4571h7M1564 4487h7M1601 4630h7M1588 4563h7M1512 4610h7M1602 4674h7M1580 4651h7M1519 4675h7M1638 4555h7M1537 4611h7M1607 4577h7M1490 4656h7M1619 4597h7M1606 4550h7M1544 4509h7M1601 4540h7M1607 4603h7M1559 4570h7M1559 4466h7M1587 4579h7M1597 4521h7M1556 4538h7M1552 4597h7M1582 4514h7M1560 4699h7M1618 4625h7M1576 4565h7M1564 4560h7M1523 4517h7M1555 4676h7M1544 4494h7M1591 4589h7M1566 4584h7M1535 4667h7M1625 4564h7M1582 4595h7M1579 4607h7M1497 4548h7M1588 4611h7M1499 4638h7M1591 4528h7M1568 4631h7M1525 4628h7M1615 4716h7M1629 4563h7M1512 4797h7M1483 4852h7M1419 4821h7M1439 4810h7M1517 4845h7M1460 4845h7M1456 4863h7M1417 4804h7M1433 4799h7M1443 4823h7M1471 4825h7M1440 4805h7M1519 4846h7M1465 4790h7M1409 4818h7M1475 4849h7M1459 4840h7M1451 4812h7M1445 4818h7M1484 4873h7M1454 4835h7M1503 4782h7M1391 4896h7M1464 4830h7M1462 4815h7M1432 4829h7M1420 4822h7M1473 4817h7M1445 4819h7M1490 4819h7M1433 4841h7M1508 4810h7M1513 4807h7M1511 4867h7M1476 4858h7M1482 4868h7M1473 4853h7M1506 4830h7M1374 4805h7M1429 4850h7M1518 4813h7M1487 4804h7M1484 4851h7M1450 4832h7M1482 4868h7M1482 4807h7M1406 4804h7M1415 4784h7M1529 4861h7M1415 4821h7M1476 4811h7M1412 4819h7M1477 4864h7M1417 4799h7M1487 4838h7M1406 4822h7M1444 4847h7M1500 4845h7M1463 4828h7M1469 4827h7M1421 4810h7M1465 4849h7M1483 4871h7M1420 4780h7M1449 4846h7M1367 4810h7M1510 4787h7M1408 4770h7M1425 4907h7M1385 4800h7M1449 4833h7M1503 4874h7M1419 4833h7M1445 4800h7M1481 4790h7M1418 4833h7M1412 4812h7M1448 4833h7M1382 4768h7M1487 4811h7M1444 4866h7M1465 4850h7M1435 4799h7M1478 4830h7M1416 4779h7M1419 4813h7M1435 4829h7M1392 4787h7M1501 4859h7M1493 4860h7M1508 4840h7M1479 4873h7M1518 4788h7M1469 4850h7M1407 4829h7M1498 4850h7M1505 4771h7M1434 4824h7M1446 4901h7M1442 4817h7M1521 4839h7M1491 4853h7M1495 4847h7M1514 4834h7M1382 4804h7M1493 4858h7M1429 4831h7M1497 4819h7M1498 4829h7M1502 4878h7M1489 4881h7M1425 4833h7M1400 4774h7M1505 4799h7M1356 4788h7M1422 4816h7M1484 4843h7M1490 4858h7M1464 4823h7M1494 4848h7M1468 4811h7M1490 4771h7M1412 4818h7M1451 4851h7M1519 4794h7M1475 4831h7M1522 4875h7M1519 4835h7M1344 4846h7M1439 4868h7M1492 4838h7M1384 4800h7M1507 4852h7M1435 4806h7M1470 4797h7"/>
<ellipse cx="151" cy="487" rx="8.5" ry="4.2" fill="#000" fill-opacity="0.95" filter="url(#b12)" transform="rotate(0 151 487)"/>
<ellipse cx="155" cy="483" rx="4" ry="3" fill="#000" fill-opacity="0.5" filter="url(#b15)" transform="rotate(0 155 483)"/>
<rect x="150.8" y="451.6" width="13.1" height="20.1" fill="none" stroke="#777" stroke-width="0.7"/>
<text x="125.2" y="453.4" font-size="8" text-anchor="start" font-weight="normal" fill="#222" transform="translate(0 -40.806) scale(1 1.09)" stroke="#222" stroke-width="0.18">5.5%</text>
<text x="20.799999999999997" y="466" font-size="8" text-anchor="middle" font-weight="normal" fill="#222" transform="translate(-1.872 0) scale(1.09 1) rotate(-90 20.799999999999997 466)" stroke="#222" stroke-width="0.18">HLA-DR</text>
<line x1="31.2" y1="507.7" x2="88.3" y2="507.7" stroke="#444" stroke-width="1"/>
<text x="90.7" y="510.6" font-size="8" text-anchor="start" font-weight="normal" fill="#222" transform="translate(0 -45.954) scale(1 1.09)" stroke="#222" stroke-width="0.18">CD44</text>
<line x1="113.5" y1="507.7" x2="170.3" y2="507.7" stroke="#444" stroke-width="1"/>
<text x="188.6" y="280.7" font-size="10.8" text-anchor="start" font-weight="bold" fill="#000" transform="translate(0 -25.263) scale(1 1.09)" stroke="#000" stroke-width="0.4">D</text>
<rect x="224.85" y="372.64" width="6.5" height="7.76" fill="#f1c3bb" stroke="none" stroke-width="1"/>
<rect x="236.35" y="363.77" width="6.5" height="16.63" fill="#f1c3bb" stroke="none" stroke-width="1"/>
<rect x="255.85" y="373.75" width="6.5" height="6.65" fill="#f1c3bb" stroke="none" stroke-width="1"/>
<rect x="266.85" y="371.53" width="6.5" height="8.87" fill="#f1c3bb" stroke="none" stroke-width="1"/>
<rect x="285.45" y="377.07" width="6.5" height="3.33" fill="#f1c3bb" stroke="none" stroke-width="1"/>
<rect x="297.75" y="369.31" width="6.5" height="11.09" fill="#f1c3bb" stroke="none" stroke-width="1"/>
<rect x="316.45" y="374.86" width="6.5" height="5.54" fill="#f1c3bb" stroke="none" stroke-width="1"/>
<rect x="328.15" y="365.99" width="6.5" height="14.41" fill="#f1c3bb" stroke="none" stroke-width="1"/>
<line x1="228.1" y1="364.66" x2="228.1" y2="377.07" stroke="#c8102e" stroke-width="0.9"/>
<line x1="226.3" y1="364.66" x2="229.9" y2="364.66" stroke="#c8102e" stroke-width="0.9"/>
<line x1="226.3" y1="377.07" x2="229.9" y2="377.07" stroke="#c8102e" stroke-width="0.9"/>
<line x1="226.3" y1="372.64" x2="229.9" y2="372.64" stroke="#c8102e" stroke-width="0.9"/>
<line x1="239.6" y1="351.57" x2="239.6" y2="369.31" stroke="#c8102e" stroke-width="0.9"/>
<line x1="237.8" y1="351.57" x2="241.4" y2="351.57" stroke="#c8102e" stroke-width="0.9"/>
<line x1="237.8" y1="369.31" x2="241.4" y2="369.31" stroke="#c8102e" stroke-width="0.9"/>
<line x1="237.8" y1="363.77" x2="241.4" y2="363.77" stroke="#c8102e" stroke-width="0.9"/>
<line x1="259.1" y1="371.53" x2="259.1" y2="375.96" stroke="#c8102e" stroke-width="0.9"/>
<line x1="257.3" y1="371.53" x2="260.9" y2="371.53" stroke="#c8102e" stroke-width="0.9"/>
<line x1="257.3" y1="375.96" x2="260.9" y2="375.96" stroke="#c8102e" stroke-width="0.9"/>
<line x1="257.3" y1="373.75" x2="260.9" y2="373.75" stroke="#c8102e" stroke-width="0.9"/>
<line x1="270.1" y1="368.2" x2="270.1" y2="374.86" stroke="#c8102e" stroke-width="0.9"/>
<line x1="268.3" y1="368.2" x2="271.9" y2="368.2" stroke="#c8102e" stroke-width="0.9"/>
<line x1="268.3" y1="374.86" x2="271.9" y2="374.86" stroke="#c8102e" stroke-width="0.9"/>
<line x1="268.3" y1="371.53" x2="271.9" y2="371.53" stroke="#c8102e" stroke-width="0.9"/>
<line x1="288.7" y1="375.96" x2="288.7" y2="378.18" stroke="#c8102e" stroke-width="0.9"/>
<line x1="286.9" y1="375.96" x2="290.5" y2="375.96" stroke="#c8102e" stroke-width="0.9"/>
<line x1="286.9" y1="378.18" x2="290.5" y2="378.18" stroke="#c8102e" stroke-width="0.9"/>
<line x1="286.9" y1="377.07" x2="290.5" y2="377.07" stroke="#c8102e" stroke-width="0.9"/>
<line x1="301" y1="365.99" x2="301" y2="372.64" stroke="#c8102e" stroke-width="0.9"/>
<line x1="299.2" y1="365.99" x2="302.8" y2="365.99" stroke="#c8102e" stroke-width="0.9"/>
<line x1="299.2" y1="372.64" x2="302.8" y2="372.64" stroke="#c8102e" stroke-width="0.9"/>
<line x1="299.2" y1="369.31" x2="302.8" y2="369.31" stroke="#c8102e" stroke-width="0.9"/>
<line x1="319.7" y1="372.64" x2="319.7" y2="377.07" stroke="#c8102e" stroke-width="0.9"/>
<line x1="317.9" y1="372.64" x2="321.5" y2="372.64" stroke="#c8102e" stroke-width="0.9"/>
<line x1="317.9" y1="377.07" x2="321.5" y2="377.07" stroke="#c8102e" stroke-width="0.9"/>
<line x1="317.9" y1="374.86" x2="321.5" y2="374.86" stroke="#c8102e" stroke-width="0.9"/>
<line x1="331.4" y1="359.33" x2="331.4" y2="371.53" stroke="#c8102e" stroke-width="0.9"/>
<line x1="329.6" y1="359.33" x2="333.2" y2="359.33" stroke="#c8102e" stroke-width="0.9"/>
<line x1="329.6" y1="371.53" x2="333.2" y2="371.53" stroke="#c8102e" stroke-width="0.9"/>
<line x1="329.6" y1="365.99" x2="333.2" y2="365.99" stroke="#c8102e" stroke-width="0.9"/>
<circle cx="225.7" cy="351" r="1.3" fill="none" stroke="#a3122d" stroke-width="0.95"/>
<circle cx="225.7" cy="353.9" r="1.3" fill="none" stroke="#a3122d" stroke-width="0.95"/>
<circle cx="230.7" cy="353.3" r="1.3" fill="none" stroke="#a3122d" stroke-width="0.95"/>
<circle cx="226" cy="369" r="1.3" fill="none" stroke="#a3122d" stroke-width="0.95"/>
<circle cx="229.5" cy="370.5" r="1.3" fill="none" stroke="#a3122d" stroke-width="0.95"/>
<circle cx="227.5" cy="373" r="1.3" fill="none" stroke="#a3122d" stroke-width="0.95"/>
<circle cx="231" cy="374" r="1.3" fill="none" stroke="#a3122d" stroke-width="0.95"/>
<circle cx="225.5" cy="376" r="1.3" fill="none" stroke="#a3122d" stroke-width="0.95"/>
<circle cx="229" cy="377" r="1.3" fill="none" stroke="#a3122d" stroke-width="0.95"/>
<circle cx="227" cy="379" r="1.3" fill="none" stroke="#a3122d" stroke-width="0.95"/>
<circle cx="231" cy="379" r="1.3" fill="none" stroke="#a3122d" stroke-width="0.95"/>
<circle cx="239.6" cy="294.2" r="1.3" fill="#c8102e" stroke="#9a0e26" stroke-width="0.35"/>
<circle cx="239.6" cy="301" r="1.3" fill="#c8102e" stroke="#9a0e26" stroke-width="0.35"/>
<circle cx="239.6" cy="307.5" r="1.3" fill="#c8102e" stroke="#9a0e26" stroke-width="0.35"/>
<circle cx="239.6" cy="320.5" r="1.3" fill="#c8102e" stroke="#9a0e26" stroke-width="0.35"/>
<circle cx="239.6" cy="350.7" r="1.3" fill="#c8102e" stroke="#9a0e26" stroke-width="0.35"/>
<circle cx="239.6" cy="354" r="1.3" fill="#c8102e" stroke="#9a0e26" stroke-width="0.35"/>
<circle cx="239.6" cy="357" r="1.3" fill="#c8102e" stroke="#9a0e26" stroke-width="0.35"/>
<circle cx="238" cy="360" r="1.3" fill="#c8102e" stroke="#9a0e26" stroke-width="0.35"/>
<circle cx="241" cy="361" r="1.3" fill="#c8102e" stroke="#9a0e26" stroke-width="0.35"/>
<circle cx="239.6" cy="363.5" r="1.3" fill="#c8102e" stroke="#9a0e26" stroke-width="0.35"/>
<circle cx="238" cy="366" r="1.3" fill="#c8102e" stroke="#9a0e26" stroke-width="0.35"/>
<circle cx="241" cy="366.5" r="1.3" fill="#c8102e" stroke="#9a0e26" stroke-width="0.35"/>
<circle cx="239.6" cy="369" r="1.3" fill="#c8102e" stroke="#9a0e26" stroke-width="0.35"/>
<circle cx="237.5" cy="371.5" r="1.3" fill="#c8102e" stroke="#9a0e26" stroke-width="0.35"/>
<circle cx="241.5" cy="371.5" r="1.3" fill="#c8102e" stroke="#9a0e26" stroke-width="0.35"/>
<circle cx="239.6" cy="373.5" r="1.3" fill="#c8102e" stroke="#9a0e26" stroke-width="0.35"/>
<circle cx="238" cy="376" r="1.3" fill="#c8102e" stroke="#9a0e26" stroke-width="0.35"/>
<circle cx="241" cy="376" r="1.3" fill="#c8102e" stroke="#9a0e26" stroke-width="0.35"/>
<circle cx="239.6" cy="378.5" r="1.3" fill="#c8102e" stroke="#9a0e26" stroke-width="0.35"/>
<circle cx="256" cy="367.9" r="1.3" fill="none" stroke="#a3122d" stroke-width="0.95"/>
<circle cx="259" cy="367" r="1.3" fill="none" stroke="#a3122d" stroke-width="0.95"/>
<circle cx="262" cy="367.9" r="1.3" fill="none" stroke="#a3122d" stroke-width="0.95"/>
<circle cx="257.5" cy="370.5" r="1.3" fill="none" stroke="#a3122d" stroke-width="0.95"/>
<circle cx="260.5" cy="371" r="1.3" fill="none" stroke="#a3122d" stroke-width="0.95"/>
<circle cx="259" cy="373.5" r="1.3" fill="none" stroke="#a3122d" stroke-width="0.95"/>
<circle cx="257" cy="376" r="1.3" fill="none" stroke="#a3122d" stroke-width="0.95"/>
<circle cx="261" cy="376" r="1.3" fill="none" stroke="#a3122d" stroke-width="0.95"/>
<circle cx="259" cy="378.5" r="1.3" fill="none" stroke="#a3122d" stroke-width="0.95"/>
<circle cx="270.1" cy="339.3" r="1.3" fill="#c8102e" stroke="#9a0e26" stroke-width="0.35"/>
<circle cx="270.1" cy="346.8" r="1.3" fill="#c8102e" stroke="#9a0e26" stroke-width="0.35"/>
<circle cx="270.1" cy="353.3" r="1.3" fill="#c8102e" stroke="#9a0e26" stroke-width="0.35"/>
<circle cx="270.1" cy="364.5" r="1.3" fill="#c8102e" stroke="#9a0e26" stroke-width="0.35"/>
<circle cx="270.1" cy="367" r="1.3" fill="#c8102e" stroke="#9a0e26" stroke-width="0.35"/>
<circle cx="269" cy="369.5" r="1.3" fill="#c8102e" stroke="#9a0e26" stroke-width="0.35"/>
<circle cx="271.5" cy="370" r="1.3" fill="#c8102e" stroke="#9a0e26" stroke-width="0.35"/>
<circle cx="270.1" cy="372.5" r="1.3" fill="#c8102e" stroke="#9a0e26" stroke-width="0.35"/>
<circle cx="268.5" cy="375" r="1.3" fill="#c8102e" stroke="#9a0e26" stroke-width="0.35"/>
<circle cx="271.5" cy="375" r="1.3" fill="#c8102e" stroke="#9a0e26" stroke-width="0.35"/>
<circle cx="270.1" cy="377.5" r="1.3" fill="#c8102e" stroke="#9a0e26" stroke-width="0.35"/>
<circle cx="268.5" cy="379" r="1.3" fill="#c8102e" stroke="#9a0e26" stroke-width="0.35"/>
<circle cx="271.5" cy="379" r="1.3" fill="#c8102e" stroke="#9a0e26" stroke-width="0.35"/>
<circle cx="288.7" cy="372" r="1.3" fill="none" stroke="#a3122d" stroke-width="0.95"/>
<circle cx="287" cy="375" r="1.3" fill="none" stroke="#a3122d" stroke-width="0.95"/>
<circle cx="290.5" cy="375" r="1.3" fill="none" stroke="#a3122d" stroke-width="0.95"/>
<circle cx="288.7" cy="377.5" r="1.3" fill="none" stroke="#a3122d" stroke-width="0.95"/>
<circle cx="286.5" cy="379" r="1.3" fill="none" stroke="#a3122d" stroke-width="0.95"/>
<circle cx="291" cy="379" r="1.3" fill="none" stroke="#a3122d" stroke-width="0.95"/>
<circle cx="301" cy="323" r="1.3" fill="#c8102e" stroke="#9a0e26" stroke-width="0.35"/>
<circle cx="301" cy="328.2" r="1.3" fill="#c8102e" stroke="#9a0e26" stroke-width="0.35"/>
<circle cx="301" cy="359.2" r="1.3" fill="#c8102e" stroke="#9a0e26" stroke-width="0.35"/>
<circle cx="301" cy="363.5" r="1.3" fill="#c8102e" stroke="#9a0e26" stroke-width="0.35"/>
<circle cx="299.5" cy="366" r="1.3" fill="#c8102e" stroke="#9a0e26" stroke-width="0.35"/>
<circle cx="302.5" cy="366.5" r="1.3" fill="#c8102e" stroke="#9a0e26" stroke-width="0.35"/>
<circle cx="301" cy="369" r="1.3" fill="#c8102e" stroke="#9a0e26" stroke-width="0.35"/>
<circle cx="299.5" cy="371.5" r="1.3" fill="#c8102e" stroke="#9a0e26" stroke-width="0.35"/>
<circle cx="302.5" cy="371.5" r="1.3" fill="#c8102e" stroke="#9a0e26" stroke-width="0.35"/>
<circle cx="301" cy="374" r="1.3" fill="#c8102e" stroke="#9a0e26" stroke-width="0.35"/>
<circle cx="299" cy="376.5" r="1.3" fill="#c8102e" stroke="#9a0e26" stroke-width="0.35"/>
<circle cx="303" cy="376.5" r="1.3" fill="#c8102e" stroke="#9a0e26" stroke-width="0.35"/>
<circle cx="301" cy="379" r="1.3" fill="#c8102e" stroke="#9a0e26" stroke-width="0.35"/>
<circle cx="317" cy="367.9" r="1.3" fill="none" stroke="#a3122d" stroke-width="0.95"/>
<circle cx="322" cy="367.9" r="1.3" fill="none" stroke="#a3122d" stroke-width="0.95"/>
<circle cx="319.7" cy="371" r="1.3" fill="none" stroke="#a3122d" stroke-width="0.95"/>
<circle cx="318" cy="374" r="1.3" fill="none" stroke="#a3122d" stroke-width="0.95"/>
<circle cx="321.5" cy="374" r="1.3" fill="none" stroke="#a3122d" stroke-width="0.95"/>
<circle cx="319.7" cy="377" r="1.3" fill="none" stroke="#a3122d" stroke-width="0.95"/>
<circle cx="317.5" cy="379" r="1.3" fill="none" stroke="#a3122d" stroke-width="0.95"/>
<circle cx="322" cy="379" r="1.3" fill="none" stroke="#a3122d" stroke-width="0.95"/>
<circle cx="331.4" cy="338.1" r="1.3" fill="#c8102e" stroke="#9a0e26" stroke-width="0.35"/>
<circle cx="331.4" cy="344.2" r="1.3" fill="#c8102e" stroke="#9a0e26" stroke-width="0.35"/>
<circle cx="331.4" cy="366" r="1.3" fill="#c8102e" stroke="#9a0e26" stroke-width="0.35"/>
<circle cx="331.4" cy="369" r="1.3" fill="#c8102e" stroke="#9a0e26" stroke-width="0.35"/>
<circle cx="331.4" cy="372.5" r="1.3" fill="#c8102e" stroke="#9a0e26" stroke-width="0.35"/>
<circle cx="329" cy="377" r="1.3" fill="#c8102e" stroke="#9a0e26" stroke-width="0.35"/>
<circle cx="333.5" cy="377" r="1.3" fill="#c8102e" stroke="#9a0e26" stroke-width="0.35"/>
<circle cx="331.4" cy="379" r="1.3" fill="#c8102e" stroke="#9a0e26" stroke-width="0.35"/>
<line x1="220.5" y1="288.9" x2="220.5" y2="380.9" stroke="#262626" stroke-width="1.2"/>
<line x1="220.0" y1="380.4" x2="339.5" y2="380.4" stroke="#262626" stroke-width="1.1"/>
<line x1="217.9" y1="380.4" x2="220.5" y2="380.4" stroke="#262626" stroke-width="1"/>
<text x="214.2" y="383.3" font-size="8" text-anchor="end" font-weight="normal" fill="#2a2a2a" transform="translate(0 -34.497) scale(1 1.09)" stroke="#2a2a2a" stroke-width="0.18">0</text>
<line x1="217.9" y1="358.22" x2="220.5" y2="358.22" stroke="#262626" stroke-width="1"/>
<text x="214.2" y="361.12" font-size="8" text-anchor="end" font-weight="normal" fill="#2a2a2a" transform="translate(0 -32.501) scale(1 1.09)" stroke="#2a2a2a" stroke-width="0.18">20</text>
<line x1="217.9" y1="336.05" x2="220.5" y2="336.05" stroke="#262626" stroke-width="1"/>
<text x="214.2" y="338.95" font-size="8" text-anchor="end" font-weight="normal" fill="#2a2a2a" transform="translate(0 -30.506) scale(1 1.09)" stroke="#2a2a2a" stroke-width="0.18">40</text>
<line x1="217.9" y1="313.88" x2="220.5" y2="313.88" stroke="#262626" stroke-width="1"/>
<text x="214.2" y="316.78" font-size="8" text-anchor="end" font-weight="normal" fill="#2a2a2a" transform="translate(0 -28.510) scale(1 1.09)" stroke="#2a2a2a" stroke-width="0.18">60</text>
<line x1="217.9" y1="291.7" x2="220.5" y2="291.7" stroke="#262626" stroke-width="1"/>
<text x="214.2" y="294.6" font-size="8" text-anchor="end" font-weight="normal" fill="#2a2a2a" transform="translate(0 -26.514) scale(1 1.09)" stroke="#2a2a2a" stroke-width="0.18">80</text>
<line x1="234.4" y1="380.4" x2="234.4" y2="382.9" stroke="#262626" stroke-width="1"/>
<text x="234.4" y="393.0" font-size="8" text-anchor="middle" font-weight="normal" fill="#2a2a2a" transform="translate(0 -35.370) scale(1 1.09)" stroke="#2a2a2a" stroke-width="0.18">28</text>
<line x1="265.1" y1="380.4" x2="265.1" y2="382.9" stroke="#262626" stroke-width="1"/>
<text x="265.1" y="393.0" font-size="8" text-anchor="middle" font-weight="normal" fill="#2a2a2a" transform="translate(0 -35.370) scale(1 1.09)" stroke="#2a2a2a" stroke-width="0.18">100</text>
<line x1="295.2" y1="380.4" x2="295.2" y2="382.9" stroke="#262626" stroke-width="1"/>
<text x="295.2" y="393.0" font-size="8" text-anchor="middle" font-weight="normal" fill="#2a2a2a" transform="translate(0 -35.370) scale(1 1.09)" stroke="#2a2a2a" stroke-width="0.18">180</text>
<line x1="325.3" y1="380.4" x2="325.3" y2="382.9" stroke="#262626" stroke-width="1"/>
<text x="325.3" y="393.0" font-size="8" text-anchor="middle" font-weight="normal" fill="#2a2a2a" transform="translate(0 -35.370) scale(1 1.09)" stroke="#2a2a2a" stroke-width="0.18">365</text>
<text x="280.2" y="405.8" font-size="9.1" text-anchor="middle" font-weight="normal" fill="#111" transform="translate(0 -36.522) scale(1 1.09)" stroke="#111" stroke-width="0.22" textLength="68.5" lengthAdjust="spacingAndGlyphs">Time posttransplant (d)</text>
<text x="199.9" y="333.7" font-size="8.8" text-anchor="middle" font-weight="normal" fill="#111" transform="translate(-17.991 0) scale(1.09 1) rotate(-90 199.9 333.7)" stroke="#111" stroke-width="0.2" textLength="55.5" lengthAdjust="spacingAndGlyphs">HLA-DR<tspan font-size="4.8" dy="-2.8">+</tspan><tspan dy="2.8"> (% CD4</tspan><tspan font-size="4.8" dy="-2.8">+</tspan><tspan dy="2.8">)</tspan></text>
<circle cx="347.6" cy="293.2" r="1.3" fill="none" stroke="#a3122d" stroke-width="0.95"/>
<circle cx="347.6" cy="304.3" r="1.45" fill="#c8102e" stroke="#9a0e26" stroke-width="0.35"/>
<text x="352.6" y="296.2" font-size="8.2" text-anchor="start" font-weight="normal" fill="#222" transform="translate(0 -26.658) scale(1 1.09)" stroke="#222" stroke-width="0.18">Control</text>
<text x="352.6" y="306.6" font-size="8.2" text-anchor="start" font-weight="normal" fill="#222" transform="translate(0 -27.594) scale(1 1.09)" stroke="#222" stroke-width="0.18">PTCy + Aba</text>
<rect x="224.95" y="491.52" width="6.5" height="26.88" fill="#f1c3bb" stroke="none" stroke-width="1"/>
<rect x="236.15" y="510.56" width="6.5" height="7.84" fill="#f1c3bb" stroke="none" stroke-width="1"/>
<rect x="255.75" y="509.44" width="6.5" height="8.96" fill="#f1c3bb" stroke="none" stroke-width="1"/>
<rect x="266.95" y="502.72" width="6.5" height="15.68" fill="#f1c3bb" stroke="none" stroke-width="1"/>
<rect x="286.45" y="511.68" width="6.5" height="6.72" fill="#f1c3bb" stroke="none" stroke-width="1"/>
<rect x="297.65" y="503.84" width="6.5" height="14.56" fill="#f1c3bb" stroke="none" stroke-width="1"/>
<rect x="316.65" y="511.68" width="6.5" height="6.72" fill="#f1c3bb" stroke="none" stroke-width="1"/>
<rect x="328.35" y="496.0" width="6.5" height="22.4" fill="#f1c3bb" stroke="none" stroke-width="1"/>
<line x1="228.2" y1="479.2" x2="228.2" y2="503.84" stroke="#c8102e" stroke-width="0.9"/>
<line x1="226.4" y1="479.2" x2="230.0" y2="479.2" stroke="#c8102e" stroke-width="0.9"/>
<line x1="226.4" y1="503.84" x2="230.0" y2="503.84" stroke="#c8102e" stroke-width="0.9"/>
<line x1="226.4" y1="491.52" x2="230.0" y2="491.52" stroke="#c8102e" stroke-width="0.9"/>
<line x1="239.4" y1="507.2" x2="239.4" y2="513.92" stroke="#c8102e" stroke-width="0.9"/>
<line x1="237.6" y1="507.2" x2="241.2" y2="507.2" stroke="#c8102e" stroke-width="0.9"/>
<line x1="237.6" y1="513.92" x2="241.2" y2="513.92" stroke="#c8102e" stroke-width="0.9"/>
<line x1="237.6" y1="510.56" x2="241.2" y2="510.56" stroke="#c8102e" stroke-width="0.9"/>
<line x1="259" y1="506.08" x2="259" y2="512.8" stroke="#c8102e" stroke-width="0.9"/>
<line x1="257.2" y1="506.08" x2="260.8" y2="506.08" stroke="#c8102e" stroke-width="0.9"/>
<line x1="257.2" y1="512.8" x2="260.8" y2="512.8" stroke="#c8102e" stroke-width="0.9"/>
<line x1="257.2" y1="509.44" x2="260.8" y2="509.44" stroke="#c8102e" stroke-width="0.9"/>
<line x1="270.2" y1="497.12" x2="270.2" y2="508.32" stroke="#c8102e" stroke-width="0.9"/>
<line x1="268.4" y1="497.12" x2="272.0" y2="497.12" stroke="#c8102e" stroke-width="0.9"/>
<line x1="268.4" y1="508.32" x2="272.0" y2="508.32" stroke="#c8102e" stroke-width="0.9"/>
<line x1="268.4" y1="502.72" x2="272.0" y2="502.72" stroke="#c8102e" stroke-width="0.9"/>
<line x1="289.7" y1="507.76" x2="289.7" y2="515.04" stroke="#c8102e" stroke-width="0.9"/>
<line x1="287.9" y1="507.76" x2="291.5" y2="507.76" stroke="#c8102e" stroke-width="0.9"/>
<line x1="287.9" y1="515.04" x2="291.5" y2="515.04" stroke="#c8102e" stroke-width="0.9"/>
<line x1="287.9" y1="511.68" x2="291.5" y2="511.68" stroke="#c8102e" stroke-width="0.9"/>
<line x1="300.9" y1="498.24" x2="300.9" y2="509.44" stroke="#c8102e" stroke-width="0.9"/>
<line x1="299.1" y1="498.24" x2="302.7" y2="498.24" stroke="#c8102e" stroke-width="0.9"/>
<line x1="299.1" y1="509.44" x2="302.7" y2="509.44" stroke="#c8102e" stroke-width="0.9"/>
<line x1="299.1" y1="503.84" x2="302.7" y2="503.84" stroke="#c8102e" stroke-width="0.9"/>
<line x1="319.9" y1="509.44" x2="319.9" y2="513.92" stroke="#c8102e" stroke-width="0.9"/>
<line x1="318.1" y1="509.44" x2="321.7" y2="509.44" stroke="#c8102e" stroke-width="0.9"/>
<line x1="318.1" y1="513.92" x2="321.7" y2="513.92" stroke="#c8102e" stroke-width="0.9"/>
<line x1="318.1" y1="511.68" x2="321.7" y2="511.68" stroke="#c8102e" stroke-width="0.9"/>
<line x1="331.6" y1="487.26" x2="331.6" y2="504.96" stroke="#c8102e" stroke-width="0.9"/>
<line x1="329.8" y1="487.26" x2="333.4" y2="487.26" stroke="#c8102e" stroke-width="0.9"/>
<line x1="329.8" y1="504.96" x2="333.4" y2="504.96" stroke="#c8102e" stroke-width="0.9"/>
<line x1="329.8" y1="496.0" x2="333.4" y2="496.0" stroke="#c8102e" stroke-width="0.9"/>
<circle cx="225.5" cy="444.9" r="1.3" fill="none" stroke="#a3122d" stroke-width="0.95"/>
<circle cx="231" cy="442.2" r="1.3" fill="none" stroke="#a3122d" stroke-width="0.95"/>
<circle cx="228.2" cy="459.4" r="1.3" fill="none" stroke="#a3122d" stroke-width="0.95"/>
<circle cx="228.2" cy="496.3" r="1.3" fill="none" stroke="#a3122d" stroke-width="0.95"/>
<circle cx="228.2" cy="506.8" r="1.3" fill="none" stroke="#a3122d" stroke-width="0.95"/>
<circle cx="228.2" cy="511.3" r="1.3" fill="none" stroke="#a3122d" stroke-width="0.95"/>
<circle cx="225" cy="514.3" r="1.3" fill="none" stroke="#a3122d" stroke-width="0.95"/>
<circle cx="231" cy="514.3" r="1.3" fill="none" stroke="#a3122d" stroke-width="0.95"/>
<circle cx="239.4" cy="444" r="1.3" fill="#c8102e" stroke="#9a0e26" stroke-width="0.35"/>
<circle cx="239.4" cy="490.8" r="1.3" fill="#c8102e" stroke="#9a0e26" stroke-width="0.35"/>
<circle cx="239.4" cy="493.5" r="1.3" fill="#c8102e" stroke="#9a0e26" stroke-width="0.35"/>
<circle cx="239.4" cy="496.5" r="1.3" fill="#c8102e" stroke="#9a0e26" stroke-width="0.35"/>
<circle cx="239.4" cy="499.5" r="1.3" fill="#c8102e" stroke="#9a0e26" stroke-width="0.35"/>
<circle cx="239.4" cy="502.5" r="1.3" fill="#c8102e" stroke="#9a0e26" stroke-width="0.35"/>
<circle cx="238" cy="505.5" r="1.3" fill="#c8102e" stroke="#9a0e26" stroke-width="0.35"/>
<circle cx="241" cy="506" r="1.3" fill="#c8102e" stroke="#9a0e26" stroke-width="0.35"/>
<circle cx="239.4" cy="508.5" r="1.3" fill="#c8102e" stroke="#9a0e26" stroke-width="0.35"/>
<circle cx="238" cy="511" r="1.3" fill="#c8102e" stroke="#9a0e26" stroke-width="0.35"/>
<circle cx="241" cy="511" r="1.3" fill="#c8102e" stroke="#9a0e26" stroke-width="0.35"/>
<circle cx="239.4" cy="513.5" r="1.3" fill="#c8102e" stroke="#9a0e26" stroke-width="0.35"/>
<circle cx="238" cy="516" r="1.3" fill="#c8102e" stroke="#9a0e26" stroke-width="0.35"/>
<circle cx="241" cy="516" r="1.3" fill="#c8102e" stroke="#9a0e26" stroke-width="0.35"/>
<circle cx="259" cy="474.2" r="1.3" fill="none" stroke="#a3122d" stroke-width="0.95"/>
<circle cx="259" cy="495.5" r="1.3" fill="none" stroke="#a3122d" stroke-width="0.95"/>
<circle cx="259" cy="500.4" r="1.3" fill="none" stroke="#a3122d" stroke-width="0.95"/>
<circle cx="259" cy="503.1" r="1.3" fill="none" stroke="#a3122d" stroke-width="0.95"/>
<circle cx="257.5" cy="506" r="1.3" fill="none" stroke="#a3122d" stroke-width="0.95"/>
<circle cx="260.5" cy="506.5" r="1.3" fill="none" stroke="#a3122d" stroke-width="0.95"/>
<circle cx="259" cy="509" r="1.3" fill="none" stroke="#a3122d" stroke-width="0.95"/>
<circle cx="257" cy="511.5" r="1.3" fill="none" stroke="#a3122d" stroke-width="0.95"/>
<circle cx="261" cy="511.5" r="1.3" fill="none" stroke="#a3122d" stroke-width="0.95"/>
<circle cx="259" cy="514" r="1.3" fill="none" stroke="#a3122d" stroke-width="0.95"/>
<circle cx="257" cy="516.5" r="1.3" fill="none" stroke="#a3122d" stroke-width="0.95"/>
<circle cx="261" cy="516.5" r="1.3" fill="none" stroke="#a3122d" stroke-width="0.95"/>
<circle cx="270.2" cy="445.8" r="1.3" fill="#c8102e" stroke="#9a0e26" stroke-width="0.35"/>
<circle cx="270.2" cy="468.4" r="1.3" fill="#c8102e" stroke="#9a0e26" stroke-width="0.35"/>
<circle cx="270.2" cy="479.3" r="1.3" fill="#c8102e" stroke="#9a0e26" stroke-width="0.35"/>
<circle cx="270.2" cy="493.2" r="1.3" fill="#c8102e" stroke="#9a0e26" stroke-width="0.35"/>
<circle cx="270.2" cy="496" r="1.3" fill="#c8102e" stroke="#9a0e26" stroke-width="0.35"/>
<circle cx="270.2" cy="499" r="1.3" fill="#c8102e" stroke="#9a0e26" stroke-width="0.35"/>
<circle cx="269" cy="502" r="1.3" fill="#c8102e" stroke="#9a0e26" stroke-width="0.35"/>
<circle cx="271.5" cy="502.5" r="1.3" fill="#c8102e" stroke="#9a0e26" stroke-width="0.35"/>
<circle cx="270.2" cy="505.5" r="1.3" fill="#c8102e" stroke="#9a0e26" stroke-width="0.35"/>
<circle cx="268.5" cy="508.5" r="1.3" fill="#c8102e" stroke="#9a0e26" stroke-width="0.35"/>
<circle cx="272" cy="508.5" r="1.3" fill="#c8102e" stroke="#9a0e26" stroke-width="0.35"/>
<circle cx="270.2" cy="511" r="1.3" fill="#c8102e" stroke="#9a0e26" stroke-width="0.35"/>
<circle cx="268.5" cy="514" r="1.3" fill="#c8102e" stroke="#9a0e26" stroke-width="0.35"/>
<circle cx="272" cy="514" r="1.3" fill="#c8102e" stroke="#9a0e26" stroke-width="0.35"/>
<circle cx="270.2" cy="516.5" r="1.3" fill="#c8102e" stroke="#9a0e26" stroke-width="0.35"/>
<circle cx="286.5" cy="499" r="1.3" fill="none" stroke="#a3122d" stroke-width="0.95"/>
<circle cx="289.5" cy="502.2" r="1.3" fill="none" stroke="#a3122d" stroke-width="0.95"/>
<circle cx="293" cy="501.7" r="1.3" fill="none" stroke="#a3122d" stroke-width="0.95"/>
<circle cx="289.7" cy="507" r="1.3" fill="none" stroke="#a3122d" stroke-width="0.95"/>
<circle cx="288" cy="510" r="1.3" fill="none" stroke="#a3122d" stroke-width="0.95"/>
<circle cx="291.5" cy="510" r="1.3" fill="none" stroke="#a3122d" stroke-width="0.95"/>
<circle cx="289.7" cy="513" r="1.3" fill="none" stroke="#a3122d" stroke-width="0.95"/>
<circle cx="287.5" cy="515.5" r="1.3" fill="none" stroke="#a3122d" stroke-width="0.95"/>
<circle cx="292" cy="515.5" r="1.3" fill="none" stroke="#a3122d" stroke-width="0.95"/>
<circle cx="300.9" cy="434.1" r="1.3" fill="#c8102e" stroke="#9a0e26" stroke-width="0.35"/>
<circle cx="300.9" cy="442" r="1.3" fill="#c8102e" stroke="#9a0e26" stroke-width="0.35"/>
<circle cx="300.9" cy="487.2" r="1.3" fill="#c8102e" stroke="#9a0e26" stroke-width="0.35"/>
<circle cx="300.9" cy="495" r="1.3" fill="#c8102e" stroke="#9a0e26" stroke-width="0.35"/>
<circle cx="300.9" cy="498" r="1.3" fill="#c8102e" stroke="#9a0e26" stroke-width="0.35"/>
<circle cx="299.5" cy="500.5" r="1.3" fill="#c8102e" stroke="#9a0e26" stroke-width="0.35"/>
<circle cx="302.5" cy="501" r="1.3" fill="#c8102e" stroke="#9a0e26" stroke-width="0.35"/>
<circle cx="300.9" cy="503.5" r="1.3" fill="#c8102e" stroke="#9a0e26" stroke-width="0.35"/>
<circle cx="299" cy="506" r="1.3" fill="#c8102e" stroke="#9a0e26" stroke-width="0.35"/>
<circle cx="303" cy="506" r="1.3" fill="#c8102e" stroke="#9a0e26" stroke-width="0.35"/>
<circle cx="300.9" cy="508.5" r="1.3" fill="#c8102e" stroke="#9a0e26" stroke-width="0.35"/>
<circle cx="299" cy="511" r="1.3" fill="#c8102e" stroke="#9a0e26" stroke-width="0.35"/>
<circle cx="303" cy="511" r="1.3" fill="#c8102e" stroke="#9a0e26" stroke-width="0.35"/>
<circle cx="300.9" cy="513.5" r="1.3" fill="#c8102e" stroke="#9a0e26" stroke-width="0.35"/>
<circle cx="299" cy="516" r="1.3" fill="#c8102e" stroke="#9a0e26" stroke-width="0.35"/>
<circle cx="303" cy="516" r="1.3" fill="#c8102e" stroke="#9a0e26" stroke-width="0.35"/>
<circle cx="317" cy="501.9" r="1.3" fill="none" stroke="#a3122d" stroke-width="0.95"/>
<circle cx="323" cy="503.1" r="1.3" fill="none" stroke="#a3122d" stroke-width="0.95"/>
<circle cx="319.9" cy="505.5" r="1.3" fill="none" stroke="#a3122d" stroke-width="0.95"/>
<circle cx="318" cy="508" r="1.3" fill="none" stroke="#a3122d" stroke-width="0.95"/>
<circle cx="322" cy="508" r="1.3" fill="none" stroke="#a3122d" stroke-width="0.95"/>
<circle cx="319.9" cy="510.5" r="1.3" fill="none" stroke="#a3122d" stroke-width="0.95"/>
<circle cx="317.5" cy="513" r="1.3" fill="none" stroke="#a3122d" stroke-width="0.95"/>
<circle cx="322" cy="513" r="1.3" fill="none" stroke="#a3122d" stroke-width="0.95"/>
<circle cx="319.9" cy="515.5" r="1.3" fill="none" stroke="#a3122d" stroke-width="0.95"/>
<circle cx="317" cy="516.5" r="1.3" fill="none" stroke="#a3122d" stroke-width="0.95"/>
<circle cx="323" cy="516.5" r="1.3" fill="none" stroke="#a3122d" stroke-width="0.95"/>
<circle cx="331.6" cy="451.6" r="1.3" fill="#c8102e" stroke="#9a0e26" stroke-width="0.35"/>
<circle cx="331.6" cy="461.6" r="1.3" fill="#c8102e" stroke="#9a0e26" stroke-width="0.35"/>
<circle cx="331.6" cy="497.4" r="1.3" fill="#c8102e" stroke="#9a0e26" stroke-width="0.35"/>
<circle cx="331.6" cy="502.2" r="1.3" fill="#c8102e" stroke="#9a0e26" stroke-width="0.35"/>
<circle cx="331.6" cy="506.4" r="1.3" fill="#c8102e" stroke="#9a0e26" stroke-width="0.35"/>
<circle cx="328" cy="514.9" r="1.3" fill="#c8102e" stroke="#9a0e26" stroke-width="0.35"/>
<circle cx="335" cy="514.9" r="1.3" fill="#c8102e" stroke="#9a0e26" stroke-width="0.35"/>
<circle cx="331.6" cy="516.5" r="1.3" fill="#c8102e" stroke="#9a0e26" stroke-width="0.35"/>
<line x1="220.4" y1="426.0" x2="220.4" y2="518.9" stroke="#262626" stroke-width="1.2"/>
<line x1="219.9" y1="518.4" x2="339.5" y2="518.4" stroke="#262626" stroke-width="1.1"/>
<line x1="217.8" y1="518.4" x2="220.4" y2="518.4" stroke="#262626" stroke-width="1"/>
<text x="214.1" y="521.3" font-size="8" text-anchor="end" font-weight="normal" fill="#2a2a2a" transform="translate(0 -46.917) scale(1 1.09)" stroke="#2a2a2a" stroke-width="0.18">0</text>
<line x1="217.8" y1="496.0" x2="220.4" y2="496.0" stroke="#262626" stroke-width="1"/>
<text x="214.1" y="498.9" font-size="8" text-anchor="end" font-weight="normal" fill="#2a2a2a" transform="translate(0 -44.901) scale(1 1.09)" stroke="#2a2a2a" stroke-width="0.18">20</text>
<line x1="217.8" y1="473.6" x2="220.4" y2="473.6" stroke="#262626" stroke-width="1"/>
<text x="214.1" y="476.5" font-size="8" text-anchor="end" font-weight="normal" fill="#2a2a2a" transform="translate(0 -42.885) scale(1 1.09)" stroke="#2a2a2a" stroke-width="0.18">40</text>
<line x1="217.8" y1="451.2" x2="220.4" y2="451.2" stroke="#262626" stroke-width="1"/>
<text x="214.1" y="454.1" font-size="8" text-anchor="end" font-weight="normal" fill="#2a2a2a" transform="translate(0 -40.869) scale(1 1.09)" stroke="#2a2a2a" stroke-width="0.18">60</text>
<line x1="217.8" y1="428.8" x2="220.4" y2="428.8" stroke="#262626" stroke-width="1"/>
<text x="214.1" y="431.7" font-size="8" text-anchor="end" font-weight="normal" fill="#2a2a2a" transform="translate(0 -38.853) scale(1 1.09)" stroke="#2a2a2a" stroke-width="0.18">80</text>
<line x1="234.4" y1="518.4" x2="234.4" y2="520.9" stroke="#262626" stroke-width="1"/>
<text x="234.4" y="531.0" font-size="8" text-anchor="middle" font-weight="normal" fill="#2a2a2a" transform="translate(0 -47.790) scale(1 1.09)" stroke="#2a2a2a" stroke-width="0.18">28</text>
<line x1="265.1" y1="518.4" x2="265.1" y2="520.9" stroke="#262626" stroke-width="1"/>
<text x="265.1" y="531.0" font-size="8" text-anchor="middle" font-weight="normal" fill="#2a2a2a" transform="translate(0 -47.790) scale(1 1.09)" stroke="#2a2a2a" stroke-width="0.18">100</text>
<line x1="295.2" y1="518.4" x2="295.2" y2="520.9" stroke="#262626" stroke-width="1"/>
<text x="295.2" y="531.0" font-size="8" text-anchor="middle" font-weight="normal" fill="#2a2a2a" transform="translate(0 -47.790) scale(1 1.09)" stroke="#2a2a2a" stroke-width="0.18">180</text>
<line x1="325.3" y1="518.4" x2="325.3" y2="520.9" stroke="#262626" stroke-width="1"/>
<text x="325.3" y="531.0" font-size="8" text-anchor="middle" font-weight="normal" fill="#2a2a2a" transform="translate(0 -47.790) scale(1 1.09)" stroke="#2a2a2a" stroke-width="0.18">365</text>
<text x="280.2" y="544.2" font-size="9.1" text-anchor="middle" font-weight="normal" fill="#111" transform="translate(0 -48.978) scale(1 1.09)" stroke="#111" stroke-width="0.22" textLength="68.5" lengthAdjust="spacingAndGlyphs">Time posttransplant (d)</text>
<text x="199.9" y="471.6" font-size="8.8" text-anchor="middle" font-weight="normal" fill="#111" transform="translate(-17.991 0) scale(1.09 1) rotate(-90 199.9 471.6)" stroke="#111" stroke-width="0.2" textLength="55.5" lengthAdjust="spacingAndGlyphs">HLA-DR<tspan font-size="4.8" dy="-2.8">+</tspan><tspan dy="2.8"> (% CD8</tspan><tspan font-size="4.8" dy="-2.8">+</tspan><tspan dy="2.8">)</tspan></text>
<rect x="0.5" y="0.5" width="519" height="552" fill="none" stroke="#555" stroke-width="1"/>
</svg></div></body></html>
